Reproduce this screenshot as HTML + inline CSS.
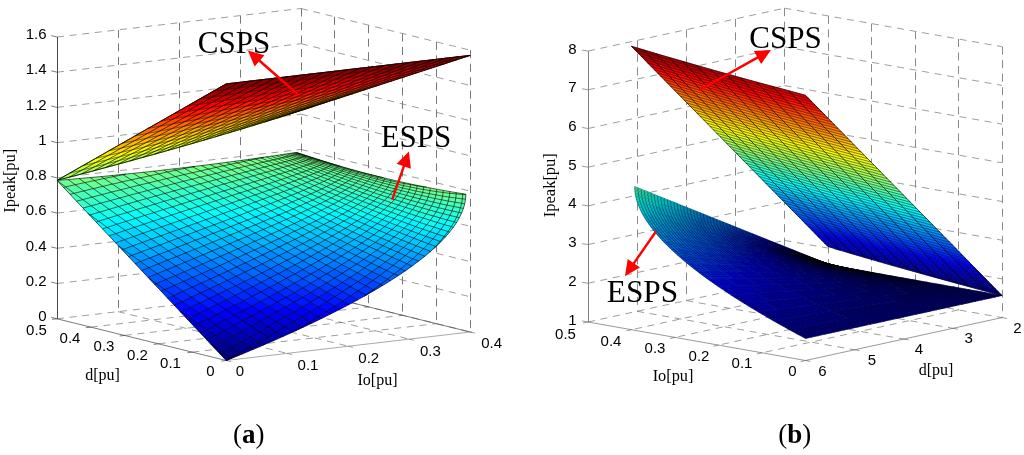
<!DOCTYPE html>
<html><head><meta charset="utf-8"><title>Ipeak surfaces</title>
<style>
html,body{margin:0;padding:0;background:#fff}
svg{display:block}
text{text-anchor:middle;fill:#000}
.a{font-family:"Liberation Sans",Arial,sans-serif}
.s{font-family:"Liberation Serif","Times New Roman",serif}
</style></head><body>

<svg width="1024" height="455" viewBox="0 0 1024 455">
<rect width="1024" height="455" fill="#fff"/>
<!-- plot a -->
<path fill="none" stroke="#3c3c3c" stroke-width=".5" stroke-dasharray="7 5.7" d="M57 318.8L301 290.2M301 290.2L470.2 332M57 283.5L301 255M301 255L470.2 296.8M57 248.3L301 219.8M301 219.8L470.2 261.6M57 213.1L301 184.6M301 184.6L470.2 226.3M57 177.9L301 149.4M301 149.4L470.2 191.1M57 142.7L301 114.2M301 114.2L470.2 155.9M57 107.4L301 78.9M301 78.9L470.2 120.7M57 72.2L301 43.7M301 43.7L470.2 85.5M57 37L301 8.5M301 8.5L470.2 50.2M118 311.6L287.2 353.4M179 304.5L348.2 346.2M240 297.4L409.2 339.1M192.4 352.1L436.4 323.6M158.6 343.8L402.6 315.3M124.7 335.4L368.7 306.9M90.8 327.1L334.9 298.6"/>
<path fill="none" stroke="#787878" stroke-width="1" stroke-dasharray="8 5.5" d="M118.5 29.9V311.6M179.5 22.7V304.5M240.5 15.6V297.4M301.5 8.5V290.2M470.5 50.2V332M436.5 41.9V323.6M402.5 33.5V315.3M368.5 25.2V306.9M334.5 16.8V298.6"/>
<path fill="none" stroke="#484848" stroke-width="1" d="M57.5 318.8V37"/>
<path fill="none" stroke="#444" stroke-width=".7" d="M57 318.8L226.2 360.5M301 290.2L472.2 332.5M57 318.8L51.2 317.3M57 283.5L51.2 282.1M57 248.3L51.2 246.9M57 213.1L51.2 211.7M57 177.9L51.2 176.4M57 142.7L51.2 141.2M57 107.4L51.2 106M57 72.2L51.2 70.8M57 37L51.2 35.6M221.3 361.1L226.2 360.5M187.4 352.7L192.4 352.1M153.6 344.4L158.6 343.8M119.7 336L124.7 335.4M85.9 327.7L90.8 327.1M52 319.3L57 318.8"/>
<path fill="none" stroke="#555" stroke-width=".5" d="M226.2 360.5L470.2 332M231.1 361.7L226.2 360.5M292.1 354.6L287.2 353.4M353.1 347.4L348.2 346.2M414.1 340.3L409.2 339.1M475.1 333.2L470.2 332"/>
<g fill="currentColor" stroke="currentColor" stroke-width=".5" stroke-linejoin="round">
<path color="#000087" d="M231.9 358.2l-.7-.5-4.9 2.8zm-5.6 2.3l4.9-2.8-8.6-5.7-2.9 1.6 6.5 6.9zm16.4-6.8l-2-1.3-9.5 5.3 .7 .5zm-11.5 4l9.5-5.3-8.5-5.6-9.6 5.2z"/>
<path color="#000097" d="M219.7 353.6l2.9-1.6-8.5-5.8-.9 .5zm2.9-1.6l9.6-5.2-8.5-5.7-9.6 5.1zm30.6-2.7l-3.3-2.1-9.2 5.2 2 1.3zm-12.5 3.1l9.2-5.2-8.4-5.6-9.3 5.2zm22.8-7.5l-4.5-2.9-9.1 5.2 3.3 2.1z"/>
<path color="#0000a7" d="M213.2 346.7l.9-.5-3.6-2.4zm.9-.5l9.6-5.1-8.6-5.8-8.4 4.4 3.8 4.1zm18.1 .6l9.3-5.2-8.5-5.6-9.3 5.1zm17.7 .4l9.1-5.2-8.4-5.4-9.1 5zm23.7-6.6l-5.8-3.7-8.8 5.1 4.5 2.9z"/>
<path color="#0000b7" d="M206.7 339.7l8.4-4.4-8.5-5.8-6.4 3.3zm17 1.4l9.3-5.1-8.5-5.6-9.4 4.9zm17.8 .5l9.1-5-8.4-5.5-9.2 4.9zm17.5 .4l8.8-5.1-8.3-5.3-8.9 5zm24.4-5.8l-6.9-4.3-8.7 5 5.8 3.7zm-15.6 .7l8.7-5-8.3-5.2-8.7 4.9z"/>
<path color="#0000c7" d="M200.2 332.8l6.4-3.3-8.5-5.8-4.4 2.2zm14.9 2.5l9.4-4.9-8.4-5.7-9.5 4.8zm17.9 .7l9.2-4.9-8.5-5.6-9.2 4.9zm17.6 .6l8.9-5-8.4-5.4-8.9 4.9zm8.9-5l8.7-4.9-8.4-5.3-8.7 4.8zm33.5 .3l-8-5-8.5 5 6.9 4.3zm-16.5 0l8.5-5-8.3-5.1-8.5 4.9zm18.8-1.1l6.4-3.9-8.2-5-8.5 5 8 5z"/>
<path color="#0000e7" d="M193.7 325.9l4.4-2.2-8.6-5.9-2.3 1.2zm4.4-2.2l9.5-4.7-8.5-5.8-9.6 4.6zm18 1l9.2-4.8-8.5-5.6-9.2 4.7zm17.6 .8l9-4.7-8.4-5.5-9 4.6zm9-4.7l8.8-4.7-8.4-5.4-8.8 4.6zm17.1 .6l8.6-4.8-8.3-5.2-8.6 4.7zm16.9 .4l8.6-4.9-8.3-5.1-8.6 4.8zm16.8 .1l8.4-5-8.2-4.9-8.4 4.9zm28-3.5l-3.1-1.8-8.3 5.2 2 1.2zm-11.4 3.4l8.3-5.2-8.1-4.7-8.4 5z"/>
<path color="#0000f7" d="M187.2 319l2.3-1.2-8.5-5.9-.3 .1zm2.3-1.2l9.6-4.6-8.6-5.8-9.5 4.5zm18.1 1.2l9.2-4.7-8.4-5.7-9.3 4.6zm17.7 .9l9-4.6-8.4-5.6-9.1 4.6zm9-4.6l8.8-4.6-8.3-5.5-8.9 4.5zm17.2 .8l8.6-4.7-8.3-5.3-8.7 4.6zm16.9 .5l8.6-4.8-8.2-5.1-8.7 4.7zm16.9 .3l8.4-4.9-8.2-5-8.5 4.8zm16.6 0l8.4-5-8.2-4.9-8.4 5zm28.9-3.1l-4.2-2.4-8.2 5.2 3.1 1.8zm-12.4 2.8l8.2-5.2-8.1-4.6-8.2 5.1zm21.5-7.4l-5.2-2.9-8.1 5.1 4.2 2.4z"/>
<path color="#0008ff" d="M180.7 312l.3-.1-1.2-.8zm.3-.1l9.5-4.5-8.5-5.9-7.8 3.6 5.6 6zm18.1 1.3l9.3-4.6-8.5-5.7-9.4 4.5zm17.7 1.1l9.1-4.6-8.4-5.5-9.1 4.4zm9.1-4.6l8.9-4.5-8.4-5.4-8.9 4.4zm17.2 1l8.7-4.6-8.3-5.3-8.7 4.4zm17 .7l8.7-4.7-8.3-5.2-8.7 4.6zm16.9 .4l8.5-4.8-8.2-5-8.5 4.7zm16.7 .2l8.4-5-8.1-4.8-8.5 4.8zm16.6-.1l8.2-5.1-8-4.7-8.4 4.9zm16.3-.5l8.1-5.1-8-4.6-8.2 5.1zm22.3-6.9l-6.2-3.4-8 5.2 5.2 2.9z"/>
<path color="#0000d7" d="M206.6 329.5l9.5-4.8-8.5-5.7-9.5 4.7zm17.9 .9l9.2-4.9-8.4-5.6-9.2 4.8zm17.7 .7l8.9-4.9-8.4-5.4-9 4.7zm8.9-4.9l8.7-4.8-8.3-5.3-8.8 4.7zm17.1 .5l8.5-4.9-8.3-5.2-8.6 4.8zm34.4 .7l-.9-.5-6.4 3.9zm-17.6-.5l8.5-5-8.2-5-8.6 4.9zm27.1-3.9l-2-1.2-8.4 5.1 .9 .5zm-10.4 3.9l8.4-5.1-8.2-4.9-8.4 5z"/>
<path color="#0018ff" d="M174.2 305.1l7.8-3.6-8.5-5.9-5.8 2.6zm16.3 2.3l9.4-4.5-8.5-5.8-9.4 4.4zm17.9 1.2l9.1-4.4-8.4-5.7-9.2 4.4zm9.1-4.4l8.9-4.4-8.4-5.6-8.9 4.3zm17.3 1l8.7-4.4-8.3-5.4-8.8 4.4zm17 .9l8.7-4.6-8.3-5.2-8.7 4.5zm17 .6l8.5-4.7-8.2-5.1-8.6 4.6zm16.7 .3l8.5-4.8-8.1-4.9-8.6 4.7zm-8.2-5l8.6-4.7-8.2-5-8.6 4.6zm24.8 5l8.4-4.9-8.1-4.7-8.4 4.8zm-8.1-4.8l8.4-4.8-8.1-4.8-8.4 4.7zm24.5 4.6l8.2-5.1-8-4.5-8.2 4.9zm-8-4.7l8.2-4.9-8.1-4.7-8.2 4.9zm24.2 4.2l8-5.2-8-4.4-8 5zm-8-4.6l8-5-8-4.5-8 5zm31-1.9l-7.2-3.9-7.8 5.2 6.2 3.4z"/>
<path color="#0038ff" d="M167.7 298.2l5.8-2.6-8.6-6-3.7 1.6zm5.8-2.6l9.4-4.3-8.5-5.9-9.5 4.2zm17.9 1.5l9.2-4.2-8.4-5.8-9.3 4.2zm9.2-4.2l9-4.2-8.4-5.6-9 4zm17.4 1.3l8.9-4.2-8.4-5.5-8.9 4.2zm17.2 1.2l8.8-4.4-8.3-5.3-8.8 4.3zm8.8-4.4l8.7-4.3-8.3-5.2-8.7 4.2zm16.9 .8l8.6-4.5-8.2-5-8.6 4.4zm16.8 .5l8.5-4.6-8.2-4.8-8.5 4.4zm16.6 .3l8.3-4.7-8.1-4.8-8.3 4.6zm16.3-.1l8.1-4.8-8-4.5-8.1 4.7zm16.1-.3l8-4.9-8-4.4-8 4.8zm39.5 2.8l-.2-.1-1.7 1.2zm-15.7 .9l7.6-5.1-7.8-4.2-7.7 5zm-7.9-4.3l7.7-5-7.9-4.2-7.7 4.9zm32-1.4l-1.2-.6-7.4 5.3 .2 .1zm-8.6 4.7l7.4-5.3-7.8-4-7.5 5.2z"/>
<path color="#0048ff" d="M161.2 291.2l3.7-1.6-8.5-6-1.8 .7zm3.7-1.6l9.5-4.2-8.5-5.9-9.5 4.1zm18 1.7l9.3-4.2-8.5-5.7-9.3 4zm9.3-4.2l9-4-8.4-5.7-9.1 4zm17.4 1.6l8.9-4.2-8.3-5.5-9 4.1zm17.3 1.3l8.8-4.3-8.3-5.3-8.9 4.1zm8.8-4.3l8.7-4.2-8.2-5.3-8.8 4.2zm17 1l8.6-4.4-8.2-5.1-8.7 4.3zm16.8 .6l8.5-4.4-8.1-5-8.6 4.4zm16.7 .4l8.3-4.6-8.1-4.7-8.4 4.5zm16.4 .2l8.1-4.7-8-4.6-8.2 4.5zm16.1-.2l8-4.8-7.9-4.4-8.1 4.7zm16-.4l7.7-4.9-7.9-4.3-7.8 4.8zm23.4 3.5l7.5-5.2-7.8-4-7.5 5zm-7.8-4.2l7.5-5-7.8-4.1-7.6 4.9zm32.3-1.2l-2-1-7.2 5.2 1.2 .6zm-9.2 4.2l7.2-5.2-7.8-3.9-7.2 5.1zm-7.8-4l7.2-5.1-7.7-3.9-7.3 5z"/>
<path color="#0058ff" d="M154.6 284.3l1.8-.7-7.3-5.2zm1.8-.7l9.5-4.1-8.5-5.9-9.3 3.8 1 1zm18 1.8l9.3-4-8.4-5.8-9.4 3.9zm9.3-4l9.1-4-8.4-5.7-9.1 3.9zm17.5 1.7l9-4.1-8.4-5.5-9 3.9zm17.3 1.4l8.9-4.1-8.3-5.4-8.9 4zm-8.3-5.5l8.9-4-8.3-5.5-9 4zm17.2 1.4l8.8-4.2-8.3-5.3-8.8 4.1zm17 1.1l8.7-4.3-8.2-5.1-8.7 4.1zm16.9 .8l8.6-4.4-8.1-5-8.7 4.3zm16.7 .6l8.4-4.5-8-4.8-8.5 4.3zm-8.1-5l8.5-4.3-8.1-4.9-8.5 4.2zm24.6 5.2l8.2-4.5-8-4.7-8.3 4.5zm-8.1-4.7l8.3-4.5-8-4.7-8.3 4.4zm24.3 4.8l8.1-4.7-8-4.5-8.1 4.6zm-8-4.6l8.1-4.6-8-4.5-8.1 4.4zm24 4.3l7.8-4.8-7.9-4.3-7.8 4.7zm-7.9-4.4l7.8-4.7-7.9-4.3-7.9 4.5zm23.6 3.9l7.6-4.9-7.9-4.1-7.6 4.7zm-7.9-4.3l7.6-4.7-7.8-4.2-7.7 4.6zm23.3 3.5l7.3-5-7.8-3.9-7.3 4.8zm32.6-1l-2.9-1.4-6.9 5.2 2 1zm-9.8 3.8l6.9-5.2-7.7-3.8-7 5.1zm-7.8-3.9l7-5.1-7.7-3.7-7 4.9z"/>
<path color="#0028ff" d="M182 301.5l9.4-4.4-8.5-5.8-9.4 4.3zm17.9 1.4l9.2-4.4-8.5-5.6-9.2 4.2zm9.2-4.4l8.9-4.3-8.4-5.5-9 4.2zm17.3 1.3l8.8-4.4-8.3-5.4-8.9 4.2zm17.1 1l8.7-4.5-8.2-5.3-8.8 4.4zm17 .7l8.6-4.6-8.2-5.1-8.7 4.5zm-8.3-5.2l8.7-4.5-8.2-5.1-8.7 4.3zm16.9 .6l8.6-4.6-8.2-5-8.6 4.5zm16.8 .4l8.4-4.7-8.1-4.9-8.5 4.6zm16.5 .1l8.2-4.9-8-4.6-8.3 4.7zm16.3-.2l8-5-8-4.5-8.1 4.8zm24 3.9l7.8-5.2-7.9-4.3-7.9 5.1zm-8-4.4l7.9-5.1-7.9-4.3-8 4.9zm29.6-.6l1.7-1.2-7.9-4.1-7.6 5.1 7.2 3.9z"/>
<path color="#0068ff" d="M148.1 277.4l9.3-3.8-8.5-6-7.3 2.9zm17.8 2.1l9.4-3.9-8.5-5.9-9.4 3.9zm9.4-3.9l9.1-3.9-8.4-5.8-9.2 3.8zm17.5 1.8l9-3.9-8.4-5.7-9 3.9zm9-3.9l9-4-8.4-5.5-9 3.8zm17.3 1.5l8.8-4.1-8.2-5.3-8.9 3.9zm17.1 1.2l8.7-4.1-8.2-5.2-8.8 4zm16.9 1l8.7-4.3-8.2-5-8.7 4.2zm-8.2-5.1l8.7-4.2-8.2-5.1-8.7 4.1zm16.9 .8l8.5-4.2-8.1-4.9-8.6 4.1zm16.6 .7l8.3-4.4-8.1-4.7-8.3 4.2zm16.3 .3l8.1-4.4-7.9-4.6-8.2 4.3zm16.1 .1l7.9-4.5-7.9-4.4-8 4.4zm15.8-.2l7.7-4.6-7.9-4.2-7.7 4.5zm23.4 3.7l7.3-4.8-7.8-4-7.4 4.7zm-7.9-4.1l7.4-4.7-7.7-4.1-7.5 4.6zm23 3.2l7-4.9-7.7-3.9-7.1 4.9zm32.9-.9l-3.8-1.7-6.7 5.2 2.9 1.4zm-10.5 3.5l6.7-5.2-7.6-3.6-6.8 5zm-7.7-3.8l6.8-5-7.6-3.6-6.9 4.9zm25.4-4.5l-4.5-2.1-6.5 5.2 3.8 1.7z"/>
<path color="#0078ff" d="M141.6 270.5l7.3-2.9-8.5-6.1-5.3 2zm15.8 3.1l9.4-3.9-8.5-5.9-9.4 3.8zm9.4-3.9l9.2-3.8-8.5-5.8-9.2 3.7zm17.6 2l9-3.9-8.4-5.6-9 3.7zm9-3.9l9-3.8-8.3-5.5-9.1 3.7zm17.4 1.7l8.9-3.9-8.3-5.4-9 3.8zm17.1 1.4l8.8-4-8.2-5.3-8.8 4zm8.8-4l8.7-4.1-8.1-5.1-8.8 3.9zm16.9 1l8.6-4.1-8.2-5-8.6 4zm16.7 .8l8.3-4.2-8-4.8-8.4 4.1zm16.4 .5l8.2-4.3-8-4.6-8.3 4.2zm16.1 .3l8-4.4-7.9-4.5-8 4.3zm15.9 0l7.7-4.5-7.8-4.3-7.8 4.4zm15.6-.3l7.5-4.6-7.8-4.1-7.6 4.5zm23 3.5l7.1-4.9-7.7-3.8-7.2 4.7zm-7.8-4l7.2-4.7-7.7-4-7.2 4.6zm22.6 3l6.9-4.9-7.7-3.7-6.9 4.7zm-7.7-3.9l6.9-4.7-7.6-3.8-7 4.7zm29.8 6.2l6.5-5.2-7.6-3.4-6.5 5zm-7.6-3.6l6.5-5-7.6-3.5-6.5 4.9zm25.5-4.4l-5.2-2.3-6.2 5.1 4.5 2.1z"/>
<path color="#0097ff" d="M135.1 263.5l5.3-2-8.6-6.1-3.2 1.2zm5.3-2l9.4-3.6-8.5-6-9.5 3.5zm27.1-1.4l9.2-3.6-8.4-5.7-9.2 3.5zm9.2-3.6l9-3.6-8.3-5.7-9.1 3.6zm17.4 2l9-3.8-8.3-5.4-9.1 3.6zm17.3 1.7l8.9-3.8-8.3-5.4-8.9 3.7zm8.9-3.8l8.8-3.8-8.2-5.3-8.9 3.7zm17 1.3l8.6-3.9-8.1-5-8.7 3.8zm16.7 1.1l8.5-4-8-4.8-8.6 3.8zm-8.1-5l8.6-3.8-8.1-5-8.6 3.8zm16.6 1l8.4-3.9-8-4.8-8.4 3.9zm16.4 .8l8.1-4-7.9-4.6-8.2 3.9zm16 .5l7.9-4.1-7.9-4.4-7.9 4zm15.8 .3l7.6-4.2-7.8-4.3-7.7 4.1zm15.5 0l7.3-4.3-7.7-4.1-7.5 4.2zm22.8 3.6l7-4.5-7.7-3.8-7 4.4zm-7.7-3.9l7-4.4-7.7-3.9-7.1 4.3zm22.4 3.2l6.6-4.6-7.6-3.6-6.7 4.4zm-7.7-3.8l6.7-4.4-7.6-3.7-6.8 4.3zm29.5 6.4l6.3-4.9-7.5-3.4-6.4 4.7zm-7.6-3.6l6.4-4.7-7.5-3.5-6.5 4.6zm29 5.4l5.8-5-7.4-3.2-6 4.9zm-7.6-3.3l6-4.9-7.5-3.3-6 4.8zm25.5-4.2l-6.5-2.6-5.6 5.1 5.9 2.4z"/>
<path color="#00a7ff" d="M128.6 256.6l3.2-1.2-8.5-6.1-1.2 .4zm3.2-1.2l9.5-3.5-8.5-6.1-9.5 3.5zm18 2.5l9.3-3.6-8.5-5.9-9.3 3.5zm9.3-3.6l9.2-3.5-8.5-5.8-9.2 3.4zm26.6-1.4l9.1-3.6-8.3-5.6-9.1 3.5zm17.4 1.8l8.9-3.7-8.2-5.3-9 3.6zm8.9-3.7l8.9-3.7-8.2-5.2-8.9 3.6zm17.1 1.6l8.7-3.8-8.1-5.1-8.8 3.6zm8.7-3.8l8.6-3.8-8.1-5-8.6 3.7zm16.7 1.2l8.4-3.9-8.1-4.8-8.4 3.7zm16.4 .9l8.2-3.9-8-4.7-8.2 3.8zm16.1 .7l7.9-4-7.8-4.5-8 3.9zm-7.9-4.6l8-3.9-8-4.5-8 3.7zm23.7 5l7.7-4.1-7.8-4.3-7.8 4zm-7.9-4.4l7.8-4-7.8-4.3-7.8 3.8zm23.4 4.6l7.5-4.2-7.8-4.1-7.5 4zm-7.8-4.3l7.5-4-7.8-4.2-7.5 3.9zm23 4.2l7.1-4.3-7.7-3.9-7.1 4.1zm-7.7-4.1l7.1-4.1-7.7-4-7.2 4zm22.5 3.7l6.8-4.3-7.6-3.8-6.9 4.2zm-7.7-3.9l6.9-4.2-7.7-3.8-6.9 4.1zm29.7 6.9l6.5-4.6-7.6-3.5-6.5 4.5zm-7.6-3.6l6.5-4.5-7.6-3.5-6.5 4.3zm29.1 5.9l6-4.8-7.5-3.2-6 4.6zm-7.5-3.4l6-4.6-7.4-3.4-6.1 4.5zm-7.5-3.5l6.1-4.5-7.5-3.3-6.2 4.3zm35.9 8.6l5.6-5.1-7.4-3-5.6 4.9zm-7.4-3.2l5.6-4.9-7.4-3.1-5.7 4.7zm-7.5-3.3l5.7-4.7-7.4-3.1-5.8 4.6zm32.8-.8l-7.1-2.8-5.2 5 6.5 2.6z"/>
<path color="#00b7ff" d="M122.1 249.7l1.2-.4-4.9-3.5zm1.2-.4l9.5-3.5-8.5-6.1-8.7 3.1 2.8 3zm18 2.6l9.3-3.5-8.4-6-9.4 3.4zm9.3-3.5l9.2-3.4-8.4-5.9-9.2 3.3zm17.7 2.4l9.1-3.6-8.4-5.7-9.2 3.5zm9.1-3.6l9.1-3.5-8.3-5.6-9.2 3.4zm17.4 2.1l9-3.6-8.3-5.5-9 3.5zm-8.3-5.6l9-3.5-8.2-5.4-9.1 3.3zm17.3 2l8.9-3.6-8.2-5.3-9 3.4zm17.1 1.6l8.8-3.6-8.2-5.2-8.8 3.6zm8.8-3.6l8.6-3.7-8.1-5-8.7 3.5zm16.7 1.3l8.4-3.7-8-4.8-8.5 3.5zm16.5 1.1l8.2-3.8-8-4.6-8.3 3.6zm-8.1-4.8l8.3-3.6-8-4.8-8.3 3.6zm16.3 1l8-3.7-7.9-4.6-8.1 3.7zm16 .8l7.8-3.8-7.9-4.4-7.9 3.7zm15.6 .5l7.5-3.9-7.8-4.2-7.5 3.8zm15.3 .3l7.2-4-7.7-4-7.3 3.8zm14.9 0l6.9-4.1-7.6-3.8-7 3.9zm22.2 3.5l6.5-4.3-7.5-3.6-6.6 4.1zm-7.6-3.8l6.6-4.1-7.6-3.7-6.7 4zm21.7 3l6.2-4.3-7.5-3.5-6.3 4.3zm-7.6-3.5l6.3-4.3-7.5-3.4-6.3 4.1zm28.7 5.9l5.8-4.6-7.4-3.2-5.8 4.4zm-7.4-3.4l5.8-4.4-7.5-3.3-5.8 4.4zm35.4 8l5.2-5-7.3-2.8-5.3 4.8zm-7.4-3l5.3-4.8-7.3-3-5.4 4.7zm-7.4-3.1l5.4-4.7-7.4-3-5.4 4.6zm29.8 1.4l2.4-2.5-7.3-2.7-4.9 4.9 7.1 2.8z"/>
<path color="#0087ff" d="M148.9 267.6l9.4-3.8-8.5-5.9-9.4 3.6zm9.4-3.8l9.2-3.7-8.4-5.8-9.3 3.6zm17.7 2.1l9-3.7-8.3-5.7-9.2 3.6zm9-3.7l9.1-3.7-8.4-5.6-9 3.6zm17.4 1.8l9-3.8-8.3-5.5-9 3.8zm17.3 1.6l8.8-4-8.2-5.2-8.9 3.8zm8.8-4l8.8-3.9-8.2-5.1-8.8 3.8zm16.9 1.2l8.6-4-8.1-5-8.6 3.9zm16.8 1l8.4-4.1-8.1-4.9-8.5 4zm16.4 .7l8.3-4.2-8-4.7-8.3 4.1zm-8-4.8l8.3-4.1-8-4.7-8.4 3.9zm24.3 5.2l8-4.3-8-4.5-8 4.2zm-8-4.6l8-4.2-7.9-4.5-8.1 4zm23.9 4.8l7.8-4.4-7.9-4.3-7.8 4.2zm-7.9-4.5l7.8-4.2-7.9-4.4-7.9 4.1zm23.5 4.4l7.6-4.5-7.8-4.1-7.6 4.3zm-7.8-4.3l7.6-4.3-7.9-4.2-7.6 4.2zm23.2 3.9l7.2-4.6-7.7-3.9-7.3 4.4zm-7.8-4.1l7.3-4.4-7.8-4-7.3 4.3zm22.7 3.5l7-4.7-7.7-3.8-7 4.5zm22.3 2.8l6.5-4.9-7.6-3.6-6.6 4.8zm-7.7-3.7l6.6-4.8-7.6-3.6-6.6 4.6zm29.4 5.7l6.2-5.1-7.6-3.3-6.2 5zm-7.6-3.4l6.2-5-7.5-3.4-6.3 4.9zm25.5-4.3l-5.9-2.4-5.8 5 5.2 2.3z"/>
<path color="#00c7ff" d="M115.6 242.8l8.7-3.1-8.5-6.1-6.7 2.2zm17.2 3l9.4-3.4-8.5-5.9-9.4 3.2zm9.4-3.4l9.2-3.3-8.4-5.9-9.3 3.3zm17.6 2.6l9.2-3.5-8.3-5.7-9.3 3.3zm9.2-3.5l9.2-3.4-8.4-5.6-9.1 3.3zm9.2-3.4l9.1-3.3-8.3-5.5-9.2 3.2zm17.3 2.1l9-3.4-8.2-5.4-9 3.4zm17.2 1.9l8.8-3.6-8.2-5.2-8.8 3.5zm-8.2-5.3l8.8-3.5-8.1-5.2-8.9 3.3zm17 1.7l8.7-3.5-8.1-5-8.8 3.3zm16.8 1.5l8.5-3.5-8-4.9-8.6 3.4zm8.5-3.5l8.3-3.6-8-4.8-8.3 3.5zm16.3 1.2l8.1-3.7-7.9-4.6-8.2 3.5zm16 .9l7.9-3.7-7.9-4.4-7.9 3.5zm15.8 .7l7.5-3.8-7.8-4.3-7.6 3.7zm-7.9-4.4l7.6-3.7-7.8-4.3-7.7 3.6zm23.2 4.8l7.3-3.8-7.7-4.1-7.4 3.7zm-7.8-4.2l7.4-3.7-7.8-4.1-7.4 3.5zm22.8 4.4l7-3.9-7.7-3.9-7 3.8zm-7.7-4l7-3.8-7.6-4-7.1 3.7zm22.3 3.9l6.7-4-7.6-3.7-6.7 3.9zm-7.6-3.8l6.7-3.9-7.6-3.8-6.8 3.8zm21.9 3.5l6.3-4.1-7.6-3.6-6.3 4zm-7.6-3.7l6.3-4-7.5-3.5-6.4 3.8zm28.9 6.5l5.8-4.4-7.4-3.2-5.9 4.1zm-7.5-3.5l5.9-4.1-7.5-3.4-5.9 4.1zm28.2 5.6l5.4-4.6-7.3-3-5.5 4.4zm-7.4-3.2l5.5-4.4-7.4-3.1-5.6 4.2zm47.3 5.3l-.3-.1-2.4 2.5zm-12.5 2.1l4.9-4.9-7.3-2.7-4.9 4.8zm-7.3-2.8l4.9-4.8-7.2-2.8-5 4.6zm-7.3-3l5-4.6-7.3-2.9-5.1 4.5zm32-1.1l-.8-.3-4.4 5 .3 .1zm-5.2 4.7l4.4-5-7.1-2.6-4.6 4.9zm-7.3-2.7l4.6-4.9-7.3-2.5-4.6 4.7z"/>
<path color="#00e7ff" d="M109.1 235.8l6.7-2.2-8.6-6.2-4.6 1.5zm6.7-2.2l9.4-3.2-8.5-6.1-9.5 3.1zm9.4-3.2l9.4-3.1-8.5-6-9.4 3zm17.8 2.8l9.3-3.2-8.4-5.8-9.3 3.1zm9.3-3.2l9.2-3.1-8.3-5.8-9.3 3.1zm9.2-3.1l9.2-3.2-8.3-5.6-9.2 3zm17.5 2.4l9-3.3-8.2-5.4-9.1 3.1zm9-3.3l9-3.2-8.2-5.3-9 3.1zm17.2 2.1l8.8-3.3-8.2-5.1-8.8 3.1zm8.8-3.3l8.6-3.2-8-5-8.8 3.1zm16.7 1.8l8.4-3.3-8-4.9-8.5 3.2zm16.4 1.5l8.3-3.3-8-4.7-8.3 3.2zm-8-4.8l8.3-3.2-7.9-4.8-8.4 3.1zm16.3 1.5l8-3.4-7.9-4.5-8.1 3.2zm15.9 1.2l7.7-3.4-7.8-4.4-7.8 3.2zm-7.9-4.6l7.8-3.2-7.8-4.5-7.9 3.2zm23.4 5.5l7.5-3.4-7.8-4.2-7.5 3.3zm-7.8-4.3l7.5-3.3-7.7-4.3-7.6 3.2zm15.3 .9l7.2-3.4-7.7-4.1-7.3 3.3zm14.9 .6l6.9-3.4-7.7-4-6.9 3.4zm14.5 .4l6.5-3.5-7.5-3.7-6.6 3.4zm21.6 3.8l6.1-3.8-7.5-3.5-6.1 3.6zm-7.5-3.7l6.1-3.6-7.5-3.5-6.2 3.5zm21.1 3.3l5.7-3.8-7.4-3.3-5.8 3.7zm-7.5-3.4l5.8-3.7-7.4-3.3-5.9 3.5zm28 6.1l5.3-4.1-7.4-3-5.3 3.9zm-7.4-3.2l5.3-3.9-7.3-3.1-5.4 3.7zm-7.4-3.3l5.4-3.7-7.3-3.2-5.5 3.6zm34.7 8.3l4.8-4.2-7.3-2.8-4.8 4.1zm-7.3-2.9l4.8-4.1-7.2-2.9-4.9 4zm-7.3-3l4.9-4-7.3-2.9-5 3.9zm41 9.8l4.3-4.7-7.2-2.5-4.3 4.5zm-7.2-2.7l4.3-4.5-7.1-2.5-4.4 4.3zm-7.2-2.7l4.4-4.3-7.2-2.6-4.4 4.2zm38.3 1.1l-1.6-.5-3.8 4.9 1.3 .4zm-5.4 4.4l3.8-4.9-7.1-2.2-3.8 4.7zm-7.1-2.4l3.8-4.7-7.1-2.3-3.8 4.6z"/>
<path color="#00f7ff" d="M102.6 228.9l4.6-1.5-8.5-6.2-2.6 .8zm4.6-1.5l9.5-3.1-8.5-6.1-9.5 3zm9.5-3.1l9.4-3-8.5-6-9.4 2.9zm17.9 3l9.3-3.1-8.4-5.8-9.4 2.9zm9.3-3.1l9.3-3.1-8.4-5.7-9.3 3zm9.3-3.1l9.2-3-8.3-5.6-9.3 2.9zm17.5 2.6l9.1-3.1-8.2-5.5-9.2 3zm9.1-3.1l9-3.1-8.2-5.4-9 3zm17.2 2.2l8.8-3.1-8.1-5.2-8.9 3zm8.8-3.1l8.8-3.1-8.1-5.1-8.8 3zm16.8 1.9l8.5-3.2-8-4.9-8.5 3.1zm8.5-3.2l8.4-3.1-8-4.8-8.4 3zm16.3 1.7l8.1-3.2-7.9-4.7-8.1 3.1zm8.1-3.2l7.9-3.2-7.9-4.5-7.9 3zm15.7 1.3l7.6-3.2-7.8-4.3-7.6 3zm15.3 1.1l7.3-3.3-7.7-4.1-7.3 3.1zm-7.7-4.3l7.3-3.1-7.7-4.2-7.4 3zm22.7 5.1l6.9-3.4-7.6-3.9-7 3.2zm-7.7-4.1l7-3.2-7.7-4-7 3.1zm22.3 4.7l6.6-3.4-7.6-3.8-6.7 3.2zm-7.7-4l6.7-3.2-7.6-3.8-6.7 3.1zm21.8 4.3l6.2-3.5-7.5-3.6-6.2 3.4zm-7.5-3.7l6.2-3.4-7.5-3.6-6.3 3.2zm21.2 3.7l5.9-3.5-7.4-3.4-6 3.4zm-7.5-3.5l6-3.4-7.5-3.4-6 3.2zm20.8 3.3l5.5-3.6-7.4-3.2-5.5 3.5zm-7.4-3.3l5.5-3.5-7.4-3.2-5.5 3.3zm27.5 6l5-3.9-7.3-2.9-5 3.7zm-7.3-3.1l5-3.7-7.2-3-5.1 3.5zm34.1 7.8l4.4-4.2-7.2-2.7-4.5 4.1zm-7.3-2.8l4.5-4.1-7.2-2.7-4.5 3.9zm-7.2-2.9l4.5-3.9-7.2-2.7-4.6 3.7zm40.4 9.1l3.8-4.6-7.1-2.3-3.9 4.4zm-7.2-2.5l3.9-4.4-7.1-2.4-3.9 4.3zm-7.1-2.5l3.9-4.3-7.1-2.5-4 4.2zm-7.2-2.6l4-4.2-7.1-2.5-4.1 4zm44.8 3.2l-2-.6-3.3 4.9 1.6 .5zm-5.3 4.3l3.3-4.9-7-2-3.4 4.7zm-7.1-2.2l3.4-4.7-7-2.1-3.5 4.5z"/>
<path color="#08fff7" d="M96.1 222l2.6-.8-8.6-6.3-.6 .2zm2.6-.8l9.5-3-8.5-6.1-9.6 2.8zm27.4 .1l9.4-2.9-8.4-5.9-9.5 2.8zm9.4-2.9l9.3-3-8.4-5.8-9.3 2.9zm26.9-.3l9.2-3-8.3-5.5-9.2 2.9zm9.2-3l9-3-8.2-5.3-9.1 2.8zm17.2 2.4l8.9-3-8.1-5.3-9 2.9zm8.9-3l8.8-3-8.1-5.1-8.8 2.8zm16.9 2.1l8.5-3.1-8-4.9-8.6 2.9zm-8.1-5.1l8.6-2.9-8.1-5-8.6 2.8zm16.6 2l8.4-3-8-4.8-8.4 2.9zm16.4 1.8l8.1-3.1-7.9-4.6-8.2 2.9zm-8-4.8l8.2-2.9-7.9-4.7-8.3 2.8zm16.1 1.7l7.9-3-7.8-4.5-8 2.9zm15.8 1.5l7.6-3-7.8-4.4-7.7 2.9zm-7.9-4.5l7.7-2.9-7.8-4.4-7.7 2.8zm15.5 1.5l7.4-3-7.8-4.2-7.4 2.8zm15.1 1.2l7-3.1-7.6-4-7.1 2.9zm14.7 .9l6.7-3.1-7.6-3.9-6.8 3zm-7.7-4l6.8-3-7.6-3.9-6.8 2.9zm22 4.7l6.3-3.2-7.5-3.7-6.4 3.1zm-7.6-3.8l6.4-3.1-7.5-3.7-6.5 2.9zm21.4 4.2l6-3.2-7.4-3.5-6.1 3.1zm-7.5-3.6l6.1-3.1-7.5-3.5-6.1 2.9zm21 3.8l5.5-3.3-7.3-3.3-5.7 3.2zm-7.5-3.4l5.7-3.2-7.4-3.4-5.7 3.1zm27.8 6.5l5.1-3.5-7.3-3.1-5.2 3.4zm-7.4-3.2l5.2-3.4-7.3-3.1-5.3 3.3zm-7.4-3.2l5.3-3.3-7.3-3.1-5.3 3.1zm34.4 8.8l4.6-3.7-7.2-2.8-4.7 3.6zm-7.3-2.9l4.7-3.6-7.2-2.9-4.7 3.5zm-7.2-3l4.7-3.5-7.2-2.9-4.8 3.3zm33.5 7.6l4.1-4-7.1-2.5-4.2 3.8zm-7.2-2.7l4.2-3.8-7.1-2.6-4.3 3.7zm-7.2-2.7l4.3-3.7-7.2-2.6-4.3 3.5zm46.9 11.1l3.5-4.5-7-2.2-3.6 4.4zm-7.1-2.3l3.6-4.4-7.1-2.2-3.6 4.2zm-7.1-2.4l3.6-4.2-7-2.3-3.7 4zm-7.1-2.5l3.7-4-7.1-2.3-3.7 3.8zm-7.1-2.5l3.7-3.8-7-2.4-3.8 3.7zm51.2 5.2l-2.4-.7-2.9 4.8 2 .6zm-5.3 4.1l2.9-4.8-6.9-1.8-3 4.6zm-7-2l3-4.6-7-2-3 4.5z"/>
<path color="#18ffe7" d="M89.5 215.1l.6-.2-2.4-1.8zm.6-.2l9.6-2.8-8.5-6.3-8.2 2.3 4.7 5zm18.1 3.3l9.4-2.9-8.4-6-9.5 2.8zm9.4-2.9l9.5-2.8-8.5-6-9.4 2.8zm9.5-2.8l9.3-2.9-8.3-5.8-9.5 2.7zm17.7 2.9l9.3-2.9-8.3-5.7-9.4 2.8zm9.3-2.9l9.2-2.9-8.3-5.5-9.2 2.7zm9.2-2.9l9.1-2.8-8.2-5.5-9.2 2.8zm17.3 2.5l9-2.9-8.2-5.2-9 2.8zm9-2.9l8.8-2.8-8.1-5.2-8.9 2.8zm8.8-2.8l8.6-2.8-8-5-8.7 2.6zm16.7 2.2l8.4-2.9-8-4.9-8.5 2.8zm8.4-2.9l8.3-2.8-8-4.7-8.3 2.6zm16.2 1.9l8-2.9-7.9-4.6-8 2.8zm8-2.9l7.7-2.8-7.8-4.4-7.8 2.6zm15.5 1.6l7.4-2.8-7.7-4.3-7.5 2.7zm-7.8-4.4l7.5-2.7-7.7-4.3-7.6 2.6zm23 5.8l7.1-2.9-7.7-4.1-7.2 2.8zm-7.8-4.2l7.2-2.8-7.7-4.2-7.2 2.7zm14.9 1.3l6.8-2.9-7.6-3.9-6.9 2.7zm14.4 1l6.5-2.9-7.6-3.8-6.5 2.8zm-7.6-3.9l6.5-2.8-7.5-3.8-6.6 2.7zm21.6 4.7l6.1-2.9-7.5-3.6-6.1 2.8zm-7.5-3.7l6.1-2.8-7.4-3.7-6.3 2.7zm21.1 4.3l5.7-3.1-7.4-3.3-5.8 2.9zm-7.5-3.5l5.8-2.9-7.4-3.5-5.9 2.8zm20.6 3.8l5.3-3.1-7.4-3.2-5.3 2.9zm-7.4-3.4l5.3-2.9-7.3-3.3-5.4 2.9zm27.3 6.5l4.8-3.3-7.3-2.9-4.8 3.1zm-7.3-3.1l4.8-3.1-7.2-3-4.9 3zm-7.3-3.1l4.9-3-7.3-3.1-5 2.9zm33.8 8.7l4.3-3.5-7.1-2.7-4.4 3.3zm-7.2-2.9l4.4-3.3-7.2-2.8-4.4 3.2zm-7.2-2.9l4.4-3.2-7.2-2.8-4.5 3.1zm-7.3-2.9l4.5-3.1-7.2-2.9-4.5 3zm40.3 10.4l3.8-3.7-7.1-2.5-3.8 3.6zm-7.1-2.6l3.8-3.6-7.1-2.5-3.9 3.5zm-7.2-2.6l3.9-3.5-7.1-2.5-3.9 3.3zm-7.1-2.7l3.9-3.3-7.1-2.6-4 3.1zm60.4 15.6l3-4.5-6.9-2-3.1 4.3zm-7-2.2l3.1-4.3-7-2.1-3.2 4.2zm-7.1-2.2l3.2-4.2-7-2.1-3.2 4zm-7-2.3l3.2-4-6.9-2.2-3.4 3.9zm-7.1-2.3l3.4-3.9-7-2.2-3.4 3.7zm-7-2.4l3.4-3.7-7-2.3-3.5 3.5zm57.2 6.6l-2.6-.6-2.5 4.7 2.4 .7zm-5.1 4.1l2.5-4.7-6.8-1.7-2.6 4.6zm-6.9-1.8l2.6-4.6-6.9-1.8-2.7 4.4zm-7-2l2.7-4.4-6.9-1.8-2.7 4.2z"/>
<path color="#00d7ff" d="M124.3 239.7l9.4-3.2-8.5-6.1-9.4 3.2zm9.4-3.2l9.3-3.3-8.4-5.9-9.4 3.1zm17.7 2.6l9.3-3.3-8.4-5.8-9.3 3.2zm9.3-3.3l9.1-3.3-8.3-5.6-9.2 3.1zm9.1-3.3l9.2-3.2-8.3-5.6-9.2 3.2zm17.5 2.3l9-3.4-8.3-5.4-9 3.3zm9-3.4l8.9-3.3-8.2-5.3-9 3.2zm17 1.9l8.8-3.3-8.1-5.2-8.8 3.3zm16.9 1.7l8.6-3.4-8.1-5-8.6 3.4zm-8.1-5l8.6-3.4-8.1-5-8.6 3.2zm16.7 1.6l8.3-3.5-8-4.8-8.4 3.3zm16.3 1.3l8.2-3.5-7.9-4.6-8.3 3.3zm16.1 1.1l7.9-3.5-7.8-4.5-8 3.4zm-7.9-4.6l8-3.4-7.9-4.6-8 3.4zm15.8 1.1l7.7-3.6-7.8-4.3-7.7 3.4zm15.5 .7l7.4-3.5-7.7-4.2-7.5 3.4zm15.2 .6l7.1-3.7-7.7-4-7.2 3.6zm-7.8-4.1l7.2-3.6-7.7-4-7.2 3.4zm22.5 4.4l6.8-3.8-7.6-3.8-6.8 3.6zm-7.6-4l6.8-3.6-7.6-3.8-6.9 3.4zm22 4l6.4-3.8-7.5-3.7-6.5 3.7zm-7.6-3.8l6.5-3.7-7.6-3.6-6.5 3.5zm29.1 7.1l5.9-4.1-7.4-3.4-6.1 3.9zm-7.6-3.6l6.1-3.9-7.5-3.4-6.1 3.8zm28.4 6.1l5.6-4.2-7.4-3.1-5.6 4.1zm-7.4-3.2l5.6-4.1-7.4-3.2-5.7 3.9zm-7.5-3.4l5.7-3.9-7.4-3.3-5.7 3.8zm35.2 8.5l5.1-4.5-7.3-2.9-5.1 4.4zm-7.3-3l5.1-4.4-7.3-2.9-5.2 4.2zm-7.4-3.1l5.2-4.2-7.3-3-5.3 4.1zm34.3 7.3l4.6-4.7-7.2-2.7-4.6 4.6zm-7.2-2.8l4.6-4.6-7.2-2.7-4.7 4.4zm-7.3-2.9l4.7-4.4-7.2-2.7-4.8 4.2zm38.9 1.5l-1.3-.4-4.1 5 .8 .3zm-5.4 4.6l4.1-5-7.1-2.4-4.1 4.8zm-7.1-2.6l4.1-4.8-7.1-2.4-4.3 4.7z"/>
<path color="#38ffc7" d="M83 208.1l8.2-2.3-8.5-6.2-6.2 1.6zm8.2-2.3l9.5-2.6-8.5-6.1-9.5 2.5zm9.5-2.6l9.5-2.6-8.4-6-9.6 2.5zm9.5-2.6l9.5-2.6-8.4-5.9-9.5 2.5zm17.9 3.2l9.3-2.7-8.3-5.7-9.4 2.6zm9.3-2.7l9.4-2.6-8.3-5.6-9.4 2.5zm9.4-2.6l9.2-2.6-8.3-5.4-9.2 2.4zm9.2-2.6l9.1-2.5-8.2-5.3-9.2 2.4zm17.2 2.8l9-2.6-8.2-5.2-8.9 2.5zm9-2.6l8.7-2.6-8-5-8.9 2.4zm8.7-2.6l8.6-2.5-8-4.8-8.6 2.3zm16.6 2.4l8.4-2.5-8-4.8-8.4 2.4zm8.4-2.5l8.1-2.5-7.9-4.6-8.2 2.3zm16 2.1l7.9-2.5-7.8-4.5-8 2.4zm-7.9-4.6l8-2.4-7.9-4.5-8 2.3zm15.8 2.1l7.6-2.4-7.8-4.4-7.6 2.3zm15.4 1.9l7.2-2.5-7.7-4.2-7.3 2.4zm-7.8-4.3l7.3-2.4-7.7-4.2-7.4 2.2zm15 1.8l7.1-2.5-7.7-4-7.1 2.3zm14.7 1.6l6.6-2.5-7.5-3.9-6.7 2.3zm-7.6-4.1l6.7-2.3-7.6-3.9-6.8 2.2zm14.2 1.6l6.4-2.4-7.5-3.8-6.4 2.3zm-7.5-3.9l6.4-2.3-7.5-3.8-6.5 2.2zm21.4 5.2l5.9-2.5-7.4-3.6-6 2.4zm-7.5-3.7l6-2.4-7.5-3.6-6 2.2zm20.9 4.7l5.5-2.5-7.4-3.4-5.6 2.4zm-7.5-3.5l5.6-2.4-7.3-3.4-5.7 2.2zm20.4 4.4l5.1-2.6-7.3-3.2-5.2 2.4zm-7.4-3.4l5.2-2.4-7.3-3.3-5.3 2.3zm-7.4-3.4l5.3-2.3-7.3-3.2-5.3 2.1zm27.2 7.3l4.6-2.6-7.2-3-4.7 2.5zm-7.3-3.1l4.7-2.5-7.2-3.1-4.8 2.4zm-7.3-3.2l4.8-2.4-7.2-3.1-4.9 2.2zm26.4 6.6l4.3-2.6-7.2-2.9-4.3 2.6zm-7.2-2.9l4.3-2.6-7.1-2.8-4.4 2.4zm-7.2-3l4.4-2.4-7.2-2.9-4.4 2.2zm32.9 8.7l3.7-2.9-7-2.5-3.8 2.7zm-7.1-2.7l3.8-2.7-7.1-2.6-3.8 2.6zm-7.1-2.7l3.8-2.6-7-2.7-4 2.4zm-7.2-2.9l4-2.4-7.1-2.7-4 2.3zm46.3 12.8l3.1-3.3-7-2.2-3.2 3.1zm-7.1-2.4l3.2-3.1-7-2.3-3.2 2.9zm-7-2.5l3.2-2.9-7-2.4-3.3 2.8zm-7.1-2.5l3.3-2.8-6.9-2.4-3.4 2.7zm-7-2.5l3.4-2.7-7-2.4-3.5 2.5zm65.9 17l2.3-3.9-6.8-1.8-2.4 3.7zm-6.9-2l2.4-3.7-6.8-1.9-2.5 3.6zm-6.9-2l2.5-3.6-6.9-1.9-2.6 3.5zm-7-2l2.6-3.5-6.9-2-2.6 3.3zm-6.9-2.2l2.6-3.3-6.9-2-2.6 3.1zm-6.9-2.2l2.6-3.1-6.9-2.1-2.7 3zm-7-2.2l2.7-3-6.9-2.1-2.8 2.8zm75.8 11.1l-3-.6-1.6 4.6 2.8 .6zm-4.6 4l1.6-4.6-6.7-1.3-1.7 4.4zm-6.8-1.5l1.7-4.4-6.7-1.4-1.8 4.2zm-6.8-1.6l1.8-4.2-6.8-1.4-1.8 4zm-6.8-1.6l1.8-4-6.7-1.6-2 3.9zm-6.9-1.7l2-3.9-6.8-1.6-2 3.7zm-6.8-1.8l2-3.7-6.8-1.6-2 3.4z"/>
<path color="#48ffb7" d="M76.5 201.2l6.2-1.6-8.6-6.3-4.1 1zm6.2-1.6l9.5-2.5-8.5-6.2-9.6 2.4zm9.5-2.5l9.6-2.5-8.5-6-9.6 2.3zm9.6-2.5l9.5-2.5-8.4-5.8-9.6 2.3zm17.9 3.4l9.4-2.6-8.3-5.6-9.5 2.3zm9.4-2.6l9.4-2.5-8.3-5.5-9.4 2.4zm9.4-2.5l9.2-2.4-8.2-5.4-9.3 2.3zm9.2-2.4l9.2-2.4-8.2-5.2-9.2 2.2zm17.4 2.9l8.9-2.5-8.1-5.1-9 2.3zm8.9-2.5l8.9-2.4-8.1-5-8.9 2.3zm8.9-2.4l8.6-2.3-8-4.9-8.7 2.2zm16.6 2.5l8.4-2.4-7.9-4.7-8.5 2.3zm-8-4.8l8.5-2.3-8-4.7-8.5 2.1zm16.4 2.4l8.2-2.3-7.9-4.6-8.2 2.2zm8.2-2.3l8-2.3-7.8-4.4-8.1 2.1zm15.9 2.2l7.6-2.3-7.8-4.4-7.7 2.2zm-7.9-4.5l7.7-2.2-7.7-4.3-7.8 2.1zm15.5 2.2l7.4-2.2-7.7-4.3-7.5 2.1zm15.1 2l7.1-2.3-7.6-4.1-7.2 2.2zm-7.7-4.2l7.2-2.2-7.7-4.1-7.2 2zm14.8 1.9l6.8-2.2-7.6-4-6.8 2.1zm-7.6-4.1l6.8-2.1-7.6-3.9-6.9 1.9zm14.4 1.9l6.5-2.2-7.6-3.8-6.5 2zm14 1.6l6-2.2-7.4-3.6-6.1 2zm-7.5-3.8l6.1-2-7.5-3.7-6.2 1.9zm21 5.2l5.7-2.2-7.4-3.5-5.8 2.1zm-7.5-3.6l5.8-2.1-7.4-3.5-5.8 2zm13.2 1.4l5.3-2.1-7.3-3.4-5.4 2zm-7.4-3.5l5.4-2-7.4-3.3-5.4 1.8zm20 4.6l4.9-2.2-7.3-3.1-4.9 2.1zm-7.3-3.2l4.9-2.1-7.2-3.2-5 1.9zm19.4 4.1l4.4-2.2-7.1-3-4.5 2.1zm-7.2-3.1l4.5-2.1-7.2-3-4.6 2zm-7.3-3.1l4.6-2-7.2-3-4.6 1.8zm26.1 6.9l4-2.3-7.1-2.8-4.1 2.2zm-7.2-2.9l4.1-2.2-7.1-2.8-4.1 2zm-7.1-3l4.1-2-7.1-2.8-4.2 1.8zm32.4 9l3.5-2.5-7-2.5-3.5 2.3zm-7-2.7l3.5-2.3-7.1-2.6-3.5 2.2zm-7.1-2.7l3.5-2.2-7-2.6-3.6 2zm-7.1-2.8l3.6-2-7-2.7-3.7 1.9zm45.6 12.9l2.8-2.8-6.9-2.2-2.9 2.6zm-7-2.4l2.9-2.6-6.9-2.3-2.9 2.5zm-6.9-2.4l2.9-2.5-6.9-2.3-3 2.4zm-7-2.4l3-2.4-7-2.4-3 2.3zm-7-2.5l3-2.3-6.9-2.4-3.2 2.1zm65.2 17l2-3.4-6.8-1.8-2.1 3.3zm-6.9-1.9l2.1-3.3-6.8-1.8-2.2 3.1zm-6.9-2l2.2-3.1-6.8-1.9-2.3 3zm-6.9-2l2.3-3-6.8-1.9-2.4 2.8zm-6.9-2.1l2.4-2.8-6.9-2-2.4 2.7zm-6.9-2.1l2.4-2.7-6.8-2.1-2.5 2.6zm-6.9-2.2l2.5-2.6-6.9-2.1-2.5 2.4zm-6.9-2.3l2.5-2.4-6.8-2.1-2.6 2.2zm95.1 16.1l-3-.5-1.3 4.5 3 .6zm-4.3 4l1.3-4.5-6.7-1.1-1.3 4.3zm-6.7-1.3l1.3-4.3-6.7-1.1-1.3 4zm-6.7-1.4l1.3-4-6.7-1.3-1.4 3.9zm-6.8-1.4l1.4-3.9-6.7-1.3-1.4 3.6zm-6.7-1.6l1.4-3.6-6.7-1.5-1.5 3.5zm-6.8-1.6l1.5-3.5-6.7-1.5-1.6 3.4zm-6.8-1.6l1.6-3.4-6.7-1.5-1.7 3.1zm-6.8-1.8l1.7-3.1-6.7-1.7-1.8 3zm-6.8-1.8l1.8-3-6.8-1.7-1.8 2.8z"/>
<path color="#58ffa7" d="M70 194.3l4.1-1-8.5-6.4-2.1 .5zm4.1-1l9.6-2.4-8.5-6.2-9.6 2.2zm9.6-2.4l9.6-2.3-8.4-6-9.7 2.1zm27.6 1.2l9.5-2.3-8.4-5.7-9.5 2.2zm9.5-2.3l9.4-2.4-8.3-5.5-9.5 2.2zm9.4-2.4l9.3-2.3-8.3-5.3-9.3 2.1zm9.3-2.3l9.2-2.2-8.2-5.1-9.3 2zm17.4 3l9-2.3-8.1-5.1-9.1 2.2zm9-2.3l8.9-2.3-8.1-4.9-8.9 2.1zm8.9-2.3l8.7-2.2-8-4.7-8.8 2zm8.7-2.2l8.5-2.1-8-4.6-8.5 2zm16.5 2.6l8.2-2.2-7.9-4.6-8.3 2.1zm8.2-2.2l8.1-2.1-7.9-4.4-8.1 1.9zm8.1-2.1l7.8-2.1-7.8-4.2-7.9 1.9zm15.5 2.2l7.5-2.1-7.7-4.2-7.5 2zm-7.7-4.3l7.5-2-7.7-4.1-7.6 1.9zm15.2 2.2l7.2-2-7.7-4-7.2 1.8zm7.2-2l6.9-1.9-7.6-3.9-7 1.8zm14.5 2l6.5-2-7.5-3.8-6.6 1.9zm-7.6-3.9l6.6-1.9-7.6-3.8-6.6 1.8zm14.1 1.9l6.2-1.9-7.4-3.6-6.3 1.7zm-7.5-3.8l6.3-1.7-7.5-3.7-6.4 1.6zm21.2 5.6l5.8-2-7.4-3.5-5.9 1.8zm-7.5-3.7l5.9-1.8-7.4-3.5-5.9 1.7zm13.3 1.7l5.4-1.8-7.3-3.4-5.5 1.7zm-7.4-3.5l5.5-1.7-7.4-3.4-5.5 1.6zm20.2 5l5-1.9-7.3-3.2-5.1 1.8zm-7.4-3.3l5.1-1.8-7.3-3.2-5.1 1.6zm-7.3-3.4l5.1-1.6-7.3-3.3-5.2 1.5zm19.7 4.8l4.6-1.8-7.2-3.1-4.7 1.7zm-7.3-3.2l4.7-1.7-7.2-3.1-4.8 1.6zm19.1 4.4l4.2-1.8-7.2-2.9-4.2 1.7zm-7.2-3l4.2-1.7-7.1-2.9-4.3 1.5zm-7.2-3.1l4.3-1.5-7.2-3-4.3 1.4zm25.7 7.1l3.7-1.9-7.1-2.7-3.7 1.8zm-7.1-2.8l3.7-1.8-7-2.7-3.9 1.6zm-7.2-2.9l3.9-1.6-7.1-2.8-3.9 1.5zm32 9.1l3.2-2.1-7-2.5-3.2 2zm-7-2.6l3.2-2-7-2.5-3.2 1.8zm-7-2.7l3.2-1.8-6.9-2.5-3.4 1.6zm-7.1-2.7l3.4-1.6-7-2.6-3.4 1.5zm38.2 10.7l2.6-2.2-6.9-2.3-2.7 2.1zm-7-2.4l2.7-2.1-6.9-2.2-2.7 1.9zm-6.9-2.4l2.7-1.9-6.9-2.4-2.8 1.8zm-7-2.5l2.8-1.8-6.9-2.3-2.9 1.6zm-7-2.5l2.9-1.6-6.9-2.5-2.9 1.6zm64.7 17.8l1.8-2.8-6.7-1.8-1.9 2.7zm-6.8-1.9l1.9-2.7-6.8-1.8-2 2.5zm-6.9-2l2-2.5-6.8-1.9-2 2.3zm-6.8-2.1l2-2.3-6.8-2-2.1 2.2zm-6.9-2.1l2.1-2.2-6.8-2-2.1 2.1zm-6.8-2.1l2.1-2.1-6.8-2.1-2.2 1.9zm-6.9-2.3l2.2-1.9-6.8-2.2-2.3 1.9zm-6.9-2.2l2.3-1.9-6.8-2.1-2.4 1.6zm114 20.5l-3.1-.4-.7 4.5 3 .5zm-3.8 4.1l.7-4.5-6.6-.8-.8 4.2zm-6.7-1.1l.8-4.2-6.6-.9-.9 4zm-6.7-1.1l.9-4-6.6-1-1 3.7zm-6.7-1.3l1-3.7-6.6-1.2-1.1 3.6zm-6.7-1.3l1.1-3.6-6.7-1.2-1.1 3.3zm-6.7-1.5l1.1-3.3-6.6-1.3-1.2 3.1zm-6.7-1.5l1.2-3.1-6.7-1.4-1.2 3zm-6.7-1.5l1.2-3-6.6-1.5-1.3 2.8zm-6.7-1.7l1.3-2.8-6.7-1.5-1.4 2.6zm-6.8-1.7l1.4-2.6-6.7-1.7-1.4 2.5zm-6.7-1.8l1.4-2.5-6.7-1.7-1.5 2.4zm-6.8-1.8l1.5-2.4-6.7-1.7-1.6 2.2zm-6.8-1.9l1.6-2.2-6.7-1.9-1.7 2.1zm-6.8-2l1.7-2.1-6.8-1.8-1.7 1.9z"/>
<path color="#68ff97" d="M63.5 187.4l2.1-.5-8.6-6.5 0 0zm2.1-.5l9.6-2.2-7.1-5.2-11.1 .9 0 0zm27.7 1.7l9.6-2.3-8.4-5.7-9.6 2zm9.6-2.3l9.5-2.2-8.4-5.6-9.5 2.1zm9.5-2.2l9.5-2.2-8.3-5.3-9.6 1.9zm9.5-2.2l9.3-2.1-8.2-5.1-9.4 1.9zm9.3-2.1l9.3-2-7.4-4.4-7.1 .7-3 .6zm17.5 3.1l9.1-2.2-8.2-4.9-9.1 2zm9.1-2.2l8.9-2.1-8.1-4.7-9 1.9zm8.9-2.1l8.8-2-8.1-4.6-8.8 1.9zm8.8-2l8.5-2-8-4.4-8.6 1.8zm16.5 2.6l8.3-2.1-7.9-4.4-8.4 1.9zm-8-4.6l8.4-1.9-7.9-4.2-8.5 1.7zm16.3 2.5l8.1-1.9-7.8-4.3-8.2 1.8zm8.1-1.9l7.9-1.9-7.8-4.2-7.9 1.8zm7.9-1.9l7.6-1.9-7.8-4-7.6 1.7zm15.3 2.2l7.2-1.8-7.6-4-7.3 1.7zm-7.7-4.1l7.3-1.7-7.7-3.9-7.4 1.6zm14.9 2.3l7-1.8-7.6-3.9-7 1.7zm-7.6-4l7-1.7-7.7-3.7-7 1.5zm14.6 2.2l6.6-1.8-7.5-3.7-6.7 1.6zm6.6-1.8l6.4-1.6-7.5-3.6-6.4 1.5zm13.9 2.1l5.9-1.7-7.5-3.5-5.9 1.5zm-7.5-3.7l5.9-1.5-7.4-3.5-6 1.4zm13.4 2l5.5-1.6-7.3-3.4-5.7 1.5zm-7.5-3.5l5.7-1.5-7.4-3.3-5.7 1.3zm13 1.9l5.2-1.5-7.3-3.2-5.2 1.3zm-7.3-3.4l5.2-1.3-7.3-3.2-5.3 1.2zm19.8 5.2l4.8-1.6-7.2-3.1-4.9 1.4zm-7.3-3.3l4.9-1.4-7.3-3.1-4.9 1.3zm12.1 1.7l4.3-1.4-7.1-3-4.4 1.3zm-7.2-3.1l4.4-1.3-7.2-3-4.5 1.2zm18.7 4.7l3.9-1.5-7.1-2.9-4 1.4zm-7.2-3l4-1.4-7.1-2.8-4 1.2zm-7.1-3l4-1.2-7.1-2.9-4.1 1.1zm25.3 7.3l3.4-1.5-7-2.7-3.5 1.4zm-7.1-2.8l3.5-1.4-7-2.7-3.6 1.2zm-7.1-2.9l3.6-1.2-7.1-2.7-3.6 1.1zm24.6 6.8l2.9-1.6-6.9-2.4-3 1.4zm-7-2.6l3-1.4-7-2.6-3 1.3zm-7-2.7l3-1.3-6.9-2.5-3.1 1.1zm-7-2.7l3.1-1.1-7-2.6-3.2 1zm37.7 11.2l2.4-1.6-6.9-2.3-2.4 1.6zm-6.9-2.3l2.4-1.6-6.8-2.3-2.5 1.4zm-6.9-2.5l2.5-1.4-6.9-2.3-2.5 1.3zm-6.9-2.4l2.5-1.3-6.8-2.4-2.7 1.1zm-7-2.6l2.7-1.1-6.9-2.4-2.7 1zm50.5 14.6l1.7-1.9-6.7-2-1.8 1.8zm-6.8-2.1l1.8-1.8-6.8-2-1.8 1.6zm-6.8-2.2l1.8-1.6-6.7-2.1-1.9 1.6zm-6.8-2.1l1.9-1.6-6.8-2.1-2 1.4zm-6.9-2.3l2-1.4-6.8-2.1-2 1.2zm-6.8-2.3l2-1.2-6.8-2.3-2.1 1.2zm-6.9-2.3l2.1-1.2-6.8-2.2-2.1 1zm139.4 26.8l-3.1-.1-.3 4.3 3.1 .4zm-3.4 4.2l.3-4.3-6.5-.6-.4 4.1zm-6.6-.8l.4-4.1-6.5-.6-.5 3.8zm-6.6-.9l.5-3.8-6.6-.8-.5 3.6zm-6.6-1l.5-3.6-6.5-.9-.6 3.3zm-6.6-1.2l.6-3.3-6.6-1-.7 3.1zm-6.7-1.2l.7-3.1-6.6-1.1-.7 2.9zm-6.6-1.3l.7-2.9-6.6-1.2-.8 2.7zm-6.7-1.4l.8-2.7-6.6-1.3-.8 2.5zm-6.6-1.5l.8-2.5-6.6-1.4-.9 2.4zm-6.7-1.5l.9-2.4-6.6-1.5-1 2.2zm-6.7-1.7l1-2.2-6.6-1.6-1.1 2.1zm-6.7-1.7l1.1-2.1-6.7-1.6-1.1 2zm-6.7-1.7l1.1-2-6.6-1.7-1.2 1.8zm-6.7-1.9l1.2-1.8-6.7-1.7-1.3 1.7zm-6.8-1.8l1.3-1.7-6.7-1.9-1.3 1.6zm-6.7-2l1.3-1.6-6.6-1.8-1.5 1.4zm-6.8-2l1.5-1.4-6.7-2-1.5 1.3zm-6.7-2.1l1.5-1.3-6.7-2-1.6 1.2zm-6.8-2.1l1.6-1.2-6.8-2-1.6 1.1zm-6.8-2.1l1.6-1.1-6.7-2.2-1.7 1zm68.3 16.7l.5-2.1-6.6-1.3-.5 1.9zm-6.6-1.5l.5-1.9-6.5-1.4-.6 1.7zm-6.6-1.6l.6-1.7-6.6-1.5-.7 1.6zm-6.7-1.6l.7-1.6-6.6-1.6-.7 1.5zm-6.6-1.7l.7-1.5-6.6-1.6-.8 1.4zm-6.7-1.7l.8-1.4-6.6-1.8-.9 1.3zm-6.7-1.9l.9-1.3-6.6-1.7-.9 1.2z"/>
<path color="#87ff78" d="M57 180.4l0 0 0 0zm0 0l0 0 0 0 0 0z"/>
<path color="#28ffd7" d="M99.7 212.1l9.5-2.8-8.5-6.1-9.5 2.6zm9.5-2.8l9.4-2.8-8.4-5.9-9.5 2.6zm9.4-2.8l9.5-2.7-8.4-5.8-9.5 2.6zm17.8 3.1l9.4-2.8-8.4-5.7-9.3 2.7zm9.4-2.8l9.2-2.7-8.2-5.6-9.4 2.6zm9.2-2.7l9.2-2.8-8.2-5.4-9.2 2.6zm17.4 2.7l9-2.8-8.2-5.3-9 2.6zm-8.2-5.5l9-2.6-8.1-5.3-9.1 2.5zm17.2 2.7l8.9-2.8-8.1-5.1-9 2.6zm8.9-2.8l8.7-2.6-8.1-5.1-8.7 2.6zm16.7 2.4l8.5-2.8-8-4.9-8.5 2.7zm-8-5l8.5-2.7-8-4.9-8.6 2.5zm16.5 2.2l8.3-2.6-7.9-4.8-8.4 2.5zm16.3 2.1l8-2.8-7.9-4.6-8.1 2.7zm-8-4.7l8.1-2.7-7.9-4.6-8.1 2.5zm16 1.9l7.8-2.6-7.8-4.5-7.9 2.5zm7.8-2.6l7.6-2.6-7.8-4.3-7.6 2.4zm15.3 1.7l7.2-2.7-7.7-4.1-7.2 2.5zm14.9 1.5l6.9-2.7-7.6-4-7 2.5zm-7.7-4.2l7-2.5-7.6-4.1-7.1 2.5zm14.6 1.5l6.6-2.7-7.6-3.8-6.6 2.5zm14.1 1.1l6.3-2.7-7.5-3.6-6.3 2.5zm-7.5-3.8l6.3-2.5-7.5-3.7-6.4 2.4zm21.2 4.8l5.9-2.8-7.4-3.5-5.9 2.6zm-7.4-3.7l5.9-2.6-7.5-3.5-5.9 2.5zm20.7 4.4l5.4-2.9-7.3-3.2-5.5 2.6zm-7.4-3.5l5.5-2.6-7.4-3.4-5.5 2.5zm20.1 3.9l5-2.9-7.2-3.1-5.1 2.7zm-7.3-3.3l5.1-2.7-7.3-3.1-5.1 2.6zm19.6 3.5l4.5-3-7.2-2.9-4.6 2.8zm-7.3-3.1l4.6-2.8-7.2-2.9-4.6 2.6zm26.2 5.8l4-3.1-7.1-2.7-4.1 3zm-7.2-2.8l4.1-3-7.1-2.7-4.2 2.8zm-7.2-2.9l4.2-2.8-7.1-2.7-4.3 2.6zm39.7 10.2l3.5-3.5-7-2.3-3.6 3.3zm-7.1-2.5l3.6-3.3-7.1-2.4-3.6 3.2zm-7.1-2.5l3.6-3.2-7-2.5-3.7 3.1zm-7.1-2.6l3.7-3.1-7.1-2.5-3.7 2.9zm59.7 15l2.7-4.2-6.9-1.9-2.8 4zm-7-2.1l2.8-4-6.9-2-2.9 3.9zm-7-2.1l2.9-3.9-6.9-2-2.9 3.7zm-6.9-2.2l2.9-3.7-7-2-2.9 3.5zm-7-2.2l2.9-3.5-6.9-2.2-3 3.4zm-7-2.3l3-3.4-6.9-2.2-3.1 3.3zm63.1 7.9l-2.8-.6-2.1 4.7 2.6 .6zm-4.9 4.1l2.1-4.7-6.8-1.5-2.1 4.5zm-6.8-1.7l2.1-4.5-6.8-1.6-2.2 4.3zm-6.9-1.8l2.2-4.3-6.8-1.6-2.3 4.1zm-6.9-1.8l2.3-4.1-6.9-1.7-2.3 3.9z"/>
<path color="#78ff87" d="M75.2 184.7l9.7-2.1-5.8-4-11 .9zm9.7-2.1l9.6-2-4.4-3-11 1zm9.6-2l9.5-2.1-3-1.9-10.9 1zm9.5-2.1l9.6-1.9-1.8-1.1-10.8 1.1zm9.6-1.9l9.4-1.9-.4-.2-10.8 1zm9.4-1.9l3-.6-3.4 .4zm17.5 3.1l9.1-2-6.1-3.5-10.4 1.1zm9.1-2l9-1.9-4.8-2.7-10.3 1.1zm9-1.9l8.8-1.9-3.6-1.9-10 1.1zm8.8-1.9l8.6-1.8-2.4-1.3-9.8 1.2zm8.6-1.8l8.5-1.7-1.4-.7-9.5 1.1zm16.4 2.5l8.2-1.8-7.9-4-8.2 1.6zm-7.9-4.2l8.2-1.6-.3-.2-9.3 1.1zm16.1 2.4l7.9-1.8-7.1-3.5-6.4 .8-2.3 .5zm-7.9-4l2.3-.5-2.6 .3zm15.8 2.2l7.6-1.7-6.1-2.9-8.6 1.1zm7.6-1.7l7.4-1.6-5.1-2.4-8.4 1.1zm7.4-1.6l7-1.5-4.1-1.9-8 1zm14.7 2.2l6.7-1.6-7.6-3.5-6.8 1.4zm-7.7-3.7l6.8-1.4-3.3-1.5-7.6 1zm14.4 2.1l6.4-1.5-7.5-3.4-6.5 1.4zm-7.6-3.5l6.5-1.4-2.5-1.1-7.3 1zm14 2l6-1.4-7.4-3.3-6.1 1.3zm-7.5-3.4l6.1-1.3-1.7-.7-6.9 .9zm13.5 2l5.7-1.3-7.4-3.2-5.7 1.2zm-7.4-3.3l5.7-1.2-1-.4-6.4 .9zm13.1 2l5.3-1.2-7.3-3.1-5.4 1.1zm-7.4-3.2l5.4-1.1-.3-.2-6.1 .9zm20 5.2l4.9-1.3-7.2-3.1-5 1.2zm-7.3-3.2l5-1.2-7-2.9-2.2 .3-3.1 .7zm-7.3-3.1l3.1-.7-3.4 .5zm19.5 5l4.5-1.2-7.2-2.9-4.5 1zm-7.2-3.1l4.5-1-6.4-2.6-5.1 .7zm11.7 1.9l4.1-1.1-7.1-2.8-4.2 1zm-7.2-2.9l4.2-1-5.9-2.3-4.7 .7zm18.4 4.7l3.6-1.1-7-2.7-3.7 .9zm-7.1-2.9l3.7-.9-7-2.8-3.8 .9zm-7.1-2.8l3.8-.9-5.4-2-4.3 .6zm17.8 4.6l3.2-1-6.9-2.6-3.3 .9zm-7-2.7l3.3-.9-7-2.6-3.3 .7zm-7-2.8l3.3-.7-5-1.9-3.7 .6zm24.2 7.1l2.7-1-6.9-2.5-2.8 .9zm-7-2.6l2.8-.9-6.9-2.5-2.8 .8zm-6.9-2.6l2.8-.8-6.9-2.5-2.9 .7zm-7-2.6l2.9-.7-4.6-1.7-3.3 .5zm30.5 9.2l2.1-1-6.8-2.3-2.2 .9zm-6.9-2.4l2.2-.9-6.8-2.4-2.3 .8zm-6.9-2.5l2.3-.8-6.8-2.4-2.4 .7zm-6.9-2.5l2.4-.7-6.9-2.4-2.4 .6zm-6.9-2.5l2.4-.6-4.2-1.5-2.8 .4zm36.5 11.1l1.7-1-6.7-2.1-1.8 .9zm-6.8-2.2l1.8-.9-6.8-2.2-1.8 .8zm-6.8-2.3l1.8-.8-6.7-2.3-1.9 .7zm-6.8-2.4l1.9-.7-6.8-2.2-1.9 .5zm-6.8-2.4l1.9-.5-6.7-2.4-2.1 .5zm-6.9-2.4l2.1-.5-4-1.3-2.3 .3zm171.4 39.3l-3.1-.5 0 .8 3.1 .1zm-3.1 .3l0-.8-6.5-1 0 1.2zm-6.5-.6l0-1.2-6.5-1.1 0 1.7zm-6.5-.6l0-1.7-6.5-1.2-.1 2.1zm-6.6-.8l.1-2.1-6.5-1.2-.1 2.4zm-6.5-.9l.1-2.4-6.5-1.2-.2 2.6zm-6.6-1l.2-2.6-3.5-.7-3-.4-.3 2.6zm-6.6-1.1l.3-2.6-6.6-1-.3 2.4zm-6.6-1.2l.3-2.4-6.5-1.2-.4 2.3zm-6.6-1.3l.4-2.3-6.5-1.2-.5 2.1zm-53.1-13.2l.9-1.2-6.6-1.9-1 1.1zm-6.7-2l1-1.1-6.7-1.9-1 1zm-6.7-2l1-1-6.6-2-1.2 1zm-6.8-2l1.2-1-6.7-2-1.2 .8zm-6.7-2.2l1.2-.8-6.6-2-1.3 .7zm-6.7-2.1l1.3-.7-6.7-2.1-1.4 .6zm-6.8-2.2l1.4-.6-6.7-2.2-1.4 .5zm-6.7-2.3l1.4-.5-6.7-2.2-1.5 .5zm-6.8-2.2l1.5-.5-6.7-2.2-1.5 .3zm-6.7-2.4l1.5-.3-3.8-1.3-1.7 .3zm127.2 32.3l0 .2 3 .4zm0 .2l0-.2-6.5-1.3-.1 .5zm-6.6-1l.1-.5-6.5-1.4-.1 .7zm-6.5-1.2l.1-.7-6.6-1.4 0 .9zm-6.5-1.2l0-.9-6.5-1.5-.1 1.1zm-6.6-1.3l.1-1.1-6.5-1.5-.1 1.2zm-6.5-1.4l.1-1.2-6.5-1.5-.2 1.2zm-6.6-1.5l.2-1.2-1.2-.4-5.3-1.1-.3 1.1zm-6.6-1.6l.3-1.1-6.5-1.6-.4 1.1zm-6.6-1.6l.4-1.1-6.6-1.6-.4 .9zm-6.6-1.8l.4-.9-6.5-1.7-.5 .9zm-6.6-1.7l.5-.9-6.6-1.8-.5 .8zm-6.6-1.9l.5-.8-6.5-1.8-.7 .7zm-6.7-1.9l.7-.7-6.6-1.9-.7 .6zm-6.6-2l.7-.6-6.6-1.9-.8 .5zm-6.7-2l.8-.5-6.6-2-.8 .5zm-6.6-2l.8-.5-6.6-2.1-.9 .5zm-6.7-2.1l.9-.5-6.6-2.1-1 .4zm-6.7-2.2l1-.4-6.6-2.1-1.1 .3zm-6.7-2.2l1.1-.3-6.7-2.2-1.1 .3zm-6.7-2.2l1.1-.3-3.6-1.2-1.3 .2zm80.1 22.3l0 .2 5.3 1.1zm0 .2l0-.2-6.5-1.6 0 .2zm-6.5-1.6l0-.2-6.5-1.7-.1 .3zm-6.6-1.6l.1-.3-6.5-1.7-.1 .3zm-6.5-1.7l.1-.3-6.5-1.8-.2 .3zm-6.6-1.8l.2-.3-6.5-1.9-.2 .4zm-6.5-1.8l.2-.4-5.6-1.6-1-.2-.2 .3zm-6.6-1.9l.2-.3-6.5-1.9-.3 .3zm-6.6-1.9l.3-.3-6.5-2-.4 .3zm-6.6-2l.4-.3-6.5-2-.5 .2zm-6.6-2.1l.5-.2-6.6-2.1-.5 .2zm-6.6-2.1l.5-.2-6.5-2.1-.6 .2zm-6.6-2.1l.6-.2-6.6-2.1-.7 .1zm-6.7-2.2l.7-.1-3.5-1.2-.8 .1zm39.9 12.1l0 0 1 .2zm0 0l0 0-6.5-2 0 .1zm-6.5-1.9l0-.1-6.5-1.9 0 0zm-6.5-2l0 0-6.5-2.1 0 .1zm-6.5-2l0-.1-6.5-2-.1 0zm-6.6-2.1l.1 0-6.5-2.1-.1 0zm-6.5-2.1l.1 0-6.5-2.2-.2 .1zm-6.6-2.1l.2-.1-3.5-1.1 0 0-.2 0z"/>
</g>
<g fill="none" stroke="#000" stroke-linejoin="round">
<path stroke-width="0.6" d="M433.3 248.9l2.4-2.5 4.4-5 4.1-5 3.8-4.9 3.3-4.9 2.9-4.8 2.5-4.7 2.1-4.7 1.6-4.6 1.3-4.5 .7-4.5 .3-4.3 0-.8M364.3 296.1l1.7-1.2 7.4-5.3 7.2-5.2 6.9-5.2 6.7-5.2 6.5-5.2 6.2-5.1 5.8-5 5.6-5.1 5.2-5 4.9-4.9 4.6-4.9 4.1-4.8 3.8-4.7 3.4-4.7 3-4.6 2.6-4.6 2.1-4.5 1.7-4.4 1.3-4.3 .8-4.2 .4-4.1 0-1.2M295.3 330.8l6.4-3.9 8.4-5.1 8.3-5.2 8.2-5.2 8.1-5.1 8-5.2 7.8-5.2 7.6-5.1 7.5-5.2 7.2-5.1 7-5.1 6.8-5 6.5-5 6.2-5 6-4.9 5.6-4.9 5.3-4.8 4.9-4.8 4.6-4.7 4.3-4.7 3.8-4.6 3.5-4.5 3-4.5 2.7-4.4 2.2-4.3 1.8-4.2 1.3-4 .9-4 .5-3.8 0-1.7M226.3 360.5l4.9-2.8 9.5-5.3 9.2-5.2 9.1-5.2 8.8-5.1 8.7-5 8.5-5 8.5-5 8.4-5 8.4-5 8.2-5.1 8.2-5.1 8-5 7.9-5.1 7.7-5 7.5-5 7.3-5 7-4.9 6.9-4.9 6.5-4.9 6.3-4.9 6-4.8 5.7-4.7 5.4-4.7 5-4.6 4.6-4.6 4.3-4.5 3.9-4.4 3.6-4.4 3.1-4.3 2.7-4.2 2.3-4.1 1.8-4 1.4-3.9 1-3.7 .5-3.6 .1-2.1M219.7 353.6l2.9-1.6 9.6-5.2 9.3-5.2 9.1-5 8.9-5 8.7-4.9 8.5-4.9 8.6-4.9 8.4-4.9 8.4-5 8.4-4.9 8.2-4.9 8-5 8-4.9 7.7-4.9 7.6-4.9 7.3-4.8 7.1-4.9 6.9-4.7 6.6-4.8 6.4-4.7 6-4.6 5.8-4.6 5.4-4.6 5.1-4.5 4.7-4.4 4.4-4.3 3.9-4.3 3.6-4.2 3.2-4.2 2.8-4 2.3-3.9 2-3.9 1.4-3.6 1.1-3.6 .6-3.3 .1-2.4M213.2 346.7l.9-.5 9.6-5.1 9.3-5.1 9.2-4.9 8.9-4.9 8.7-4.8 8.6-4.8 8.6-4.8 8.5-4.8 8.5-4.8 8.4-4.8 8.2-4.9 8.1-4.8 8-4.8 7.8-4.8 7.6-4.7 7.4-4.7 7.2-4.7 7-4.7 6.6-4.6 6.5-4.6 6.1-4.5 5.8-4.4 5.5-4.4 5.1-4.4 4.8-4.2 4.4-4.2 4-4.2 3.7-4 3.2-4 2.9-3.9 2.4-3.7 2-3.7 1.5-3.5 1.1-3.3 .7-3.1 .2-2.6M206.7 339.7l8.4-4.4 9.4-4.9 9.2-4.9 9-4.7 8.8-4.7 8.6-4.7 8.7-4.7 8.5-4.7 8.6-4.7 8.4-4.7 8.3-4.7 8.1-4.7 8.1-4.7 7.8-4.7 7.7-4.6 7.5-4.6 7.2-4.6 7-4.5 6.7-4.4 6.5-4.5 6.2-4.3 5.8-4.4 5.6-4.2 5.2-4.2 4.8-4.1 4.5-4.1 4.1-4 3.7-3.8 3.4-3.9 2.9-3.7 2.5-3.6 2-3.4 1.6-3.4 1.2-3.1 .7-2.9 .3-2.6 0-.2M200.2 332.8l6.4-3.3 9.5-4.8 9.2-4.8 9-4.6 8.8-4.6 8.7-4.6 8.7-4.6 8.6-4.6 8.6-4.6 8.5-4.6 8.3-4.6 8.2-4.5 8.1-4.6 7.9-4.5 7.7-4.5 7.6-4.5 7.3-4.4 7-4.4 6.8-4.3 6.5-4.3 6.3-4.3 5.9-4.1 5.6-4.1 5.3-4.1 4.9-4 4.5-3.9 4.2-3.8 3.8-3.7 3.4-3.7 2.9-3.5 2.6-3.5 2.1-3.3 1.7-3.1 1.2-3 .8-2.7 .3-2.4 .1-.5M193.7 325.9l4.4-2.2 9.5-4.7 9.2-4.7 9.1-4.6 8.9-4.5 8.7-4.4 8.7-4.5 8.7-4.5 8.6-4.5 8.5-4.4 8.4-4.5 8.3-4.5 8.1-4.4 8-4.4 7.8-4.4 7.6-4.3 7.3-4.3 7.1-4.3 6.9-4.2 6.6-4.1 6.3-4.1 5.9-4.1 5.7-3.9 5.3-3.9 5-3.9 4.6-3.7 4.3-3.7 3.8-3.6 3.5-3.5 3-3.4 2.6-3.3 2.2-3.1 1.8-3 1.3-2.8 .8-2.5 .4-2.3 .1-.7M187.2 319l2.3-1.2 9.6-4.6 9.3-4.6 9.1-4.4 8.9-4.4 8.8-4.4 8.8-4.4 8.7-4.3 8.6-4.4 8.6-4.4 8.5-4.3 8.3-4.4 8.2-4.3 8-4.3 7.8-4.2 7.6-4.2 7.5-4.2 7.1-4.1 6.9-4.1 6.7-4 6.3-4 6.1-3.9 5.7-3.8 5.4-3.7 5-3.7 4.7-3.6 4.3-3.5 3.9-3.5 3.6-3.3 3.1-3.3 2.6-3.1 2.3-3 1.8-2.8 1.4-2.6 .9-2.4 .5-2.1 0-.9M180.7 312l.3-.1 9.5-4.5 9.4-4.5 9.2-4.4 8.9-4.3 8.9-4.2 8.8-4.3 8.7-4.2 8.7-4.3 8.7-4.3 8.5-4.2 8.3-4.2 8.3-4.2 8-4.2 7.9-4.1 7.7-4.1 7.5-4 7.2-4 7-3.9 6.7-3.9 6.4-3.8 6.1-3.8 5.8-3.7 5.5-3.6 5.1-3.5 4.7-3.5 4.4-3.3 3.9-3.3 3.6-3.2 3.2-3.1 2.7-3 2.4-2.8 1.9-2.7 1.4-2.5 1-2.2 .5-1.9 .1-1.1M174.2 305.1l7.8-3.6 9.4-4.4 9.2-4.2 9-4.2 8.9-4.2 8.9-4.1 8.8-4.2 8.7-4.1 8.7-4.2 8.6-4.1 8.4-4.1 8.3-4.1 8.1-4 7.9-4 7.8-4 7.5-3.9 7.3-3.8 7-3.8 6.8-3.8 6.5-3.7 6.1-3.6 5.9-3.5 5.5-3.5 5.2-3.4 4.8-3.3 4.4-3.2 4-3.1 3.7-3.1 3.2-2.9 2.8-2.8 2.4-2.7 2-2.5 1.5-2.4 1.1-2.1 .6-1.7 .1-1.2M167.7 298.2l5.8-2.6 9.4-4.3 9.3-4.2 9-4 9-4.1 8.9-4 8.8-4.1 8.8-4 8.7-4.1 8.6-4 8.5-4 8.4-3.9 8.2-3.9 8-3.9 7.8-3.8 7.5-3.8 7.4-3.7 7.1-3.7 6.8-3.6 6.5-3.5 6.2-3.5 6-3.4 5.5-3.3 5.3-3.3 4.8-3.1 4.5-3.1 4.1-3 3.7-2.9 3.3-2.8 2.9-2.6 2.5-2.6 2-2.3 1.6-2.2 1.1-2 .7-1.6 .2-1.2M161.2 291.2l3.7-1.6 9.5-4.2 9.3-4 9.1-4 9-3.9 9-4 8.9-3.9 8.8-4 8.8-3.9 8.6-3.9 8.6-3.8 8.4-3.9 8.2-3.8 8-3.7 7.9-3.7 7.6-3.7 7.4-3.5 7.2-3.6 6.9-3.4 6.6-3.4 6.2-3.4 6-3.2 5.7-3.2 5.3-3.1 4.9-3 4.5-3 4.2-2.8 3.8-2.7 3.4-2.7 2.9-2.5 2.5-2.4 2.1-2.2 1.7-2.1 1.2-1.8 .7-1.5 .3-1.1 0-.2M154.6 284.3l1.8-.7 9.5-4.1 9.4-3.9 9.1-3.9 9-3.9 9-3.8 9-3.8 8.9-3.8 8.8-3.8 8.7-3.8 8.6-3.8 8.4-3.7 8.3-3.6 8.1-3.7 7.9-3.5 7.7-3.6 7.5-3.4 7.2-3.4 6.9-3.4 6.7-3.2 6.3-3.2 6.1-3.1 5.7-3.1 5.3-2.9 5-2.9 4.6-2.8 4.3-2.6 3.8-2.6 3.5-2.5 3-2.4 2.6-2.2 2.1-2.1 1.7-1.9 1.3-1.7 .8-1.4 .4-1.1 0-.2M148.1 277.4l9.3-3.8 9.4-3.9 9.2-3.8 9-3.7 9.1-3.7 9-3.8 8.9-3.7 8.9-3.7 8.8-3.6 8.6-3.7 8.5-3.5 8.3-3.6 8.2-3.5 8-3.4 7.7-3.4 7.5-3.3 7.3-3.3 7-3.2 6.7-3.1 6.4-3.1 6.1-2.9 5.8-2.9 5.4-2.9 5.1-2.7 4.6-2.6 4.3-2.6 4-2.4 3.5-2.3 3-2.3 2.7-2.1 2.2-1.9 1.8-1.8 1.3-1.6 .9-1.3 .4-.9 .1-.3M141.6 270.5l7.3-2.9 9.4-3.8 9.2-3.7 9.2-3.6 9-3.6 9.1-3.6 9-3.6 8.9-3.6 8.8-3.6 8.7-3.5 8.6-3.4 8.3-3.5 8.3-3.3 8-3.4 7.8-3.2 7.6-3.2 7.3-3.1 7-3.1 6.8-3 6.5-2.9 6.1-2.8 5.9-2.8 5.5-2.6 5.1-2.6 4.7-2.5 4.4-2.4 4-2.3 3.5-2.2 3.2-2.1 2.7-1.9 2.3-1.9 1.8-1.6 1.5-1.4 .9-1.2 .5-.9 .1-.3M135.1 263.5l5.3-2 9.4-3.6 9.3-3.6 9.2-3.5 9.1-3.6 9.1-3.5 9-3.5 9-3.4 8.8-3.5 8.8-3.3 8.6-3.4 8.4-3.3 8.3-3.2 8.1-3.2 7.9-3.2 7.6-3 7.4-3 7.1-2.9 6.8-2.9 6.5-2.8 6.3-2.7 5.9-2.6 5.5-2.5 5.2-2.4 4.8-2.4 4.4-2.2 4.1-2.2 3.6-2 3.2-2 2.8-1.8 2.4-1.6 1.9-1.6 1.5-1.3 1-1.1 .5-.8 .2-.3M128.6 256.6l3.2-1.2 9.5-3.5 9.3-3.5 9.2-3.4 9.2-3.5 9.2-3.4 9.1-3.3 9-3.4 8.9-3.3 8.8-3.3 8.6-3.2 8.5-3.2 8.4-3.1 8.1-3.1 7.9-3 7.7-2.9 7.4-2.8 7.2-2.8 6.9-2.7 6.6-2.7 6.3-2.5 5.9-2.5 5.6-2.4 5.3-2.3 4.9-2.2 4.5-2.1 4.1-2 3.7-1.9 3.2-1.8 2.9-1.6 2.4-1.6 2-1.4 1.6-1.2 1-1 .7-.7 .2-.4M122.1 249.7l1.2-.4 9.5-3.5 9.4-3.4 9.2-3.3 9.3-3.3 9.1-3.3 9.2-3.2 9-3.3 9-3.2 8.8-3.1 8.8-3.1 8.5-3.1 8.4-3 8.2-2.9 8-2.9 7.7-2.8 7.5-2.7 7.2-2.7 7-2.5 6.6-2.5 6.4-2.4 6-2.4 5.7-2.2 5.3-2.1 4.9-2.1 4.6-2 4.2-1.8 3.7-1.8 3.4-1.6 2.9-1.6 2.5-1.4 2-1.2 1.6-1.1 1.2-1 .7-.6 .2-.3 0 0M115.6 242.8l8.7-3.1 9.4-3.2 9.3-3.3 9.3-3.2 9.2-3.1 9.2-3.2 9.1-3.1 9-3.1 8.9-3 8.8-3 8.6-2.9 8.4-2.9 8.3-2.8 8-2.8 7.8-2.6 7.6-2.6 7.2-2.5 7.1-2.5 6.7-2.3 6.4-2.3 6-2.2 5.8-2.1 5.4-2 5-1.9 4.6-1.8 4.2-1.7 3.9-1.6 3.4-1.5 3-1.4 2.5-1.3 2.1-1.2 1.7-1 1.2-.8 .8-.5 .3-.3 0-.1M109.1 235.8l6.7-2.2 9.4-3.2 9.4-3.1 9.3-3.1 9.3-3.1 9.2-3 9.2-3 9-3 9-2.9 8.8-2.8 8.6-2.8 8.5-2.8 8.3-2.6 8.1-2.7 7.9-2.5 7.6-2.4 7.3-2.4 7.1-2.3 6.8-2.2 6.5-2.2 6.1-2 5.8-2 5.4-1.8 5.1-1.8 4.7-1.7 4.3-1.5 3.9-1.5 3.5-1.4 3-1.3 2.7-1.1 2.1-1 1.8-.9 1.3-.7 .8-.5 .4-.3 0 0M102.6 228.9l4.6-1.5 9.5-3.1 9.4-3 9.4-2.9 9.3-3 9.3-2.9 9.2-2.9 9.1-2.8 9-2.8 8.9-2.8 8.7-2.6 8.5-2.7 8.4-2.5 8.1-2.5 8-2.4 7.6-2.3 7.4-2.2 7.2-2.2 6.8-2.1 6.5-2 6.2-1.9 5.9-1.8 5.5-1.7 5.1-1.6 4.8-1.6 4.3-1.4 4-1.4 3.6-1.2 3.1-1.1 2.7-1 2.2-.9 1.8-.8 1.4-.6 .9-.5 .5-.2 0-.1M96.1 222l2.6-.8 9.5-3 9.4-2.9 9.5-2.8 9.3-2.9 9.4-2.8 9.2-2.7 9.2-2.8 9-2.6 9-2.6 8.7-2.6 8.6-2.5 8.4-2.4 8.2-2.3 8-2.3 7.7-2.2 7.5-2.1 7.2-2 6.9-1.9 6.6-1.9 6.3-1.7 5.9-1.7 5.5-1.6 5.2-1.5 4.9-1.4 4.4-1.3 4-1.2 3.6-1.1 3.2-1 2.8-.9 2.3-.8 1.9-.7 1.4-.5 1-.4 .5-.2 .1 0M89.5 215.1l.6-.2 9.6-2.8 9.5-2.8 9.4-2.8 9.5-2.7 9.3-2.7 9.4-2.6 9.2-2.6 9.1-2.5 8.9-2.5 8.9-2.4 8.6-2.3 8.5-2.3 8.2-2.2 8.1-2.1 7.8-2.1 7.5-2 7.2-1.8 7-1.8 6.6-1.8 6.4-1.6 5.9-1.5 5.7-1.5 5.2-1.3 4.9-1.3 4.5-1.2 4.1-1.1 3.7-.9 3.3-.9 2.8-.8 2.4-.7 1.9-.5 1.5-.5 1.1-.3 .6-.2 .1 0M83 208.1l8.2-2.3 9.5-2.6 9.5-2.6 9.5-2.6 9.4-2.6 9.4-2.5 9.2-2.4 9.2-2.4 9-2.3 8.9-2.3 8.7-2.2 8.5-2.1 8.3-2.1 8.1-1.9 7.9-1.9 7.6-1.9 7.3-1.7 7-1.7 6.7-1.6 6.4-1.5 6-1.4 5.7-1.3 5.3-1.2 5-1.2 4.5-1 4.2-1 3.8-.9 3.3-.7 2.9-.7 2.4-.6 2.1-.5 1.5-.3 1.1-.3 .7-.1 .2-.1M76.5 201.2l6.2-1.6 9.5-2.5 9.6-2.5 9.5-2.5 9.5-2.3 9.4-2.4 9.3-2.3 9.2-2.2 9.1-2.2 8.9-2.1 8.8-2 8.5-2 8.4-1.9 8.2-1.8 7.9-1.8 7.6-1.7 7.4-1.6 7-1.5 6.8-1.4 6.5-1.4 6.1-1.3 5.7-1.2 5.4-1.1 3.1-.7M70 194.3l4.1-1 9.6-2.4 9.6-2.3 9.6-2.3 9.5-2.2 9.5-2.2 9.3-2.1 9.3-2 9.1-2 9-1.9 8.8-1.9 8.6-1.8 8.5-1.7 8.2-1.6 2.3-.5M63.5 187.4l2.1-.5 9.6-2.2 9.7-2.1 9.6-2 9.5-2.1 9.6-1.9 9.4-1.9 3-.6"/>
<path stroke-width="0.6" d="M231.9 358.2l-.7-.5-8.6-5.7-8.5-5.8-3.6-2.4M242.7 353.7l-2-1.3-8.5-5.6-8.5-5.7-8.6-5.8-8.5-5.8-8.5-5.8-8.6-5.9-8.5-5.9-1.2-.8M253.2 349.3l-3.3-2.1-8.4-5.6-8.5-5.6-8.5-5.6-8.4-5.7-8.5-5.7-8.5-5.8-8.6-5.8-8.5-5.9-8.5-5.9-8.6-6-8.5-6-7.3-5.2M263.5 344.9l-4.5-2.9-8.4-5.4-8.4-5.5-8.5-5.6-8.4-5.6-8.5-5.6-8.4-5.7-8.5-5.7-8.5-5.8-8.5-5.8-8.5-5.9-8.5-5.9-8.5-5.9-8.5-6-8.5-6.1-8.6-6.1-8.5-6.1-4.9-3.5M273.6 340.6l-5.8-3.7-8.3-5.3-8.4-5.4-8.4-5.4-8.4-5.5-8.4-5.6-8.4-5.5-8.4-5.7-8.5-5.6-8.4-5.8-8.5-5.7-8.4-5.8-8.5-5.9-8.5-5.9-8.5-5.9-8.5-6-8.5-6.1-8.5-6.1-8.5-6.1-8.6-6.2-8.5-6.2-8.6-6.3-2.4-1.8M283.4 336.2l-6.9-4.3-8.3-5.2-8.4-5.3-8.3-5.3-8.4-5.4-8.3-5.5-8.4-5.4-8.4-5.6-8.4-5.5-8.4-5.6-8.4-5.7-8.4-5.7-8.4-5.8-8.5-5.8-8.4-5.8-8.5-5.9-8.4-6-8.5-5.9-8.5-6.1-8.5-6.1-8.5-6.1-8.5-6.1-8.5-6.3-8.5-6.2-8.6-6.3-8.5-6.4-8.6-6.5M293 331.9l-8-5-8.3-5.1-8.3-5.2-8.3-5.2-8.3-5.3-8.3-5.3-8.3-5.4-8.3-5.4-8.4-5.5-8.3-5.5-8.4-5.5-8.4-5.7-8.4-5.6-8.3-5.7-8.4-5.7-8.5-5.8-8.4-5.9-8.4-5.9-8.4-5.9-8.5-6-8.5-6-8.4-6-8.5-6.1-8.5-6.1-8.5-6.2-8.5-6.2-7.1-5.2M302.6 327.4l-.9-.5-8.2-5-8.2-5-8.3-5.1-8.2-5.1-8.3-5.2-8.3-5.2-8.2-5.3-8.3-5.3-8.3-5.3-8.3-5.4-8.3-5.5-8.4-5.5-8.3-5.5-8.4-5.6-8.3-5.7-8.4-5.7-8.3-5.7-8.4-5.8-8.4-5.8-8.4-5.8-8.4-5.9-8.5-6-8.4-5.9-8.4-6-8.5-6-8.4-6-5.8-4M312.1 323l-2-1.2-8.2-4.9-8.2-4.9-8.2-5-8.2-5-8.2-5.1-8.2-5.1-8.2-5.1-8.3-5.2-8.2-5.3-8.3-5.3-8.2-5.3-8.3-5.4-8.3-5.5-8.3-5.4-8.3-5.6-8.3-5.6-8.4-5.6-8.3-5.6-8.3-5.8-8.4-5.7-8.4-5.8-8.3-5.8-8.4-5.8-8.4-5.9-8.4-5.8-8.4-5.7-4.4-3M321.5 318.4l-3.1-1.8-8.1-4.7-8.2-4.9-8.1-4.8-8.1-4.9-8.2-5-8.2-5-8.2-5-8.2-5.1-8.2-5.1-8.2-5.2-8.2-5.3-8.2-5.2-8.3-5.4-8.2-5.3-8.3-5.5-8.2-5.4-8.3-5.5-8.3-5.6-8.3-5.6-8.3-5.6-8.3-5.7-8.4-5.7-8.3-5.7-8.3-5.6-8.4-5.7-8.4-5.6-3-1.9M330.8 313.8l-4.2-2.4-8.1-4.6-8-4.7-8.1-4.7-8.1-4.8-8.1-4.9-8.2-4.8-8.1-5-8.1-5-8.2-5-8.2-5.1-8.1-5.1-8.2-5.1-8.2-5.3-8.2-5.2-8.2-5.3-8.2-5.4-8.3-5.4-8.2-5.4-8.2-5.5-8.3-5.5-8.3-5.5-8.2-5.6-8.3-5.6-8.3-5.5-8.3-5.5-8.3-5.3-1.8-1.1M339.9 309.2l-5.2-2.9-8-4.6-8-4.5-8.1-4.7-8-4.6-8.1-4.8-8.1-4.7-8-4.8-8.1-4.9-8.1-4.9-8.2-5-8.1-5-8.1-5-8.1-5.1-8.2-5.2-8.2-5.2-8.1-5.2-8.2-5.3-8.2-5.3-8.2-5.4-8.2-5.3-8.2-5.5-8.2-5.4-8.3-5.4-8.2-5.4-8.3-5.3-8.2-5.1-.4-.2M348.9 304.5l-6.2-3.4-8-4.4-8-4.5-8-4.5-8-4.5-8-4.6-8-4.7-8-4.7-8.1-4.7-8-4.8-8.1-4.9-8-4.8-8.1-5-8.1-5-8.1-5-8.1-5-8.1-5.2-8.2-5.1-8.1-5.2-8.1-5.3-8.2-5.2-8.2-5.3-8.1-5.3-8.2-5.3-8.2-5.2-8.2-5.1-7.4-4.4M357.7 299.8l-7.2-3.9-7.9-4.3-7.9-4.3-8-4.4-7.9-4.4-8-4.5-8-4.5-7.9-4.6-8-4.6-8-4.7-8-4.7-8-4.8-8.1-4.8-8-4.8-8-4.9-8.1-5-8.1-5-8-5-8.1-5.1-8.1-5.1-8.1-5.2-8.1-5.1-8.2-5.2-8.1-5.1-8.1-5.1-8.2-4.9-6.1-3.5M366.2 295l-.2-.1-7.9-4.1-7.8-4.2-7.9-4.2-7.9-4.3-7.9-4.3-7.9-4.3-7.9-4.4-7.9-4.5-8-4.5-7.9-4.5-7.9-4.6-8-4.7-8-4.6-8-4.8-8-4.8-8-4.8-8-4.9-8-4.9-8-4.9-8.1-5-8-5-8.1-5.1-8-5-8.1-5-8.1-4.9-8.1-4.7-4.8-2.7M374.6 290.2l-1.2-.6-7.8-4-7.8-4-7.8-4.1-7.9-4.1-7.8-4.2-7.9-4.2-7.8-4.3-7.9-4.3-7.9-4.4-7.9-4.4-7.8-4.5-8-4.5-7.9-4.6-7.9-4.6-7.9-4.6-8-4.7-7.9-4.8-8-4.8-8-4.8-8-4.9-8-4.9-8-4.9-8-4.8-8-4.9-8-4.7-8.1-4.6-3.6-1.9M382.6 285.4l-2-1-7.8-3.9-7.7-3.9-7.8-3.9-7.8-4-7.7-4.1-7.8-4.1-7.8-4.1-7.9-4.2-7.8-4.3-7.8-4.3-7.8-4.3-7.9-4.4-7.9-4.4-7.8-4.5-7.9-4.6-7.9-4.5-7.9-4.7-7.9-4.6-7.9-4.7-8-4.7-7.9-4.8-8-4.8-7.9-4.7-8-4.7-8-4.6-8-4.4-2.4-1.3M390.4 280.6l-2.9-1.4-7.7-3.8-7.7-3.7-7.7-3.9-7.7-3.8-7.7-4-7.7-3.9-7.8-4-7.7-4.1-7.8-4.1-7.8-4.2-7.8-4.2-7.8-4.3-7.8-4.3-7.8-4.3-7.8-4.4-7.8-4.5-7.9-4.5-7.8-4.5-7.9-4.6-7.9-4.6-7.9-4.6-7.9-4.6-7.9-4.6-7.9-4.6-7.9-4.4-7.9-4.2-1.4-.7M398 275.7l-3.8-1.7-7.6-3.6-7.6-3.6-7.7-3.7-7.6-3.8-7.7-3.8-7.7-3.8-7.7-3.9-7.7-3.9-7.7-4-7.7-4-7.7-4.1-7.8-4.1-7.7-4.2-7.8-4.2-7.7-4.3-7.8-4.3-7.8-4.4-7.8-4.4-7.8-4.4-7.8-4.5-7.8-4.5-7.9-4.5-7.8-4.4-7.9-4.4-7.8-4.3-7.9-4-.3-.2M405.2 270.9l-4.5-2.1-7.6-3.4-7.6-3.5-7.6-3.6-7.6-3.6-7.6-3.6-7.6-3.7-7.6-3.8-7.7-3.8-7.6-3.8-7.7-3.9-7.6-4-7.7-4-7.7-4-7.7-4.1-7.7-4.1-7.7-4.2-7.8-4.2-7.7-4.3-7.7-4.3-7.8-4.3-7.8-4.4-7.8-4.4-7.7-4.3-7.8-4.2-7.8-4.2-7.1-3.5M412.1 266l-5.2-2.3-7.6-3.3-7.5-3.4-7.5-3.4-7.5-3.5-7.6-3.5-7.6-3.5-7.5-3.6-7.6-3.7-7.6-3.7-7.6-3.8-7.6-3.8-7.6-3.8-7.7-4-7.6-3.9-7.7-4-7.6-4-7.7-4.1-7.7-4.2-7.7-4.1-7.7-4.2-7.7-4.2-7.7-4.3-7.7-4.2-7.7-4.1-7.8-4-6.1-2.9M418.6 261.1l-5.9-2.4-7.4-3.2-7.5-3.3-7.5-3.2-7.4-3.4-7.5-3.3-7.5-3.5-7.5-3.4-7.6-3.6-7.5-3.5-7.5-3.7-7.6-3.6-7.5-3.7-7.6-3.8-7.6-3.8-7.6-3.9-7.6-3.9-7.6-3.9-7.6-4-7.6-4.1-7.7-4-7.6-4.1-7.7-4.1-7.7-4-7.6-4-7.7-3.9-5.1-2.4M424.8 256.2l-6.5-2.6-7.4-3-7.4-3.1-7.4-3.1-7.4-3.2-7.5-3.3-7.4-3.2-7.5-3.4-7.4-3.4-7.5-3.4-7.5-3.5-7.5-3.5-7.5-3.6-7.5-3.6-7.5-3.7-7.5-3.7-7.6-3.8-7.5-3.8-7.6-3.8-7.5-3.9-7.6-3.9-7.6-4-7.6-3.9-7.6-3.9-7.6-3.9-7.7-3.7-4.1-1.9M430.6 251.4l-7.1-2.8-7.3-2.8-7.3-3-7.4-3-7.3-3-7.4-3.1-7.4-3.1-7.4-3.2-7.4-3.3-7.4-3.3-7.4-3.3-7.4-3.4-7.5-3.4-7.4-3.5-7.5-3.5-7.5-3.6-7.4-3.7-7.5-3.6-7.5-3.7-7.5-3.8-7.5-3.8-7.6-3.8-7.5-3.8-7.6-3.8-7.5-3.7-7.6-3.5-3.3-1.5M436 246.5l-.3-.1-7.3-2.7-7.3-2.7-7.2-2.8-7.3-2.9-7.3-2.9-7.3-2.9-7.3-3-7.4-3-7.3-3.1-7.3-3.2-7.4-3.2-7.4-3.2-7.3-3.3-7.4-3.4-7.4-3.3-7.4-3.5-7.4-3.5-7.5-3.5-7.4-3.6-7.5-3.6-7.4-3.6-7.5-3.7-7.4-3.6-7.5-3.7-7.5-3.6-7.5-3.4-2.5-1.1M440.9 241.7l-.8-.3-7.1-2.6-7.3-2.5-7.2-2.7-7.2-2.7-7.2-2.7-7.3-2.8-7.2-2.9-7.3-2.9-7.3-2.9-7.2-3-7.3-3.1-7.3-3.1-7.3-3.1-7.4-3.2-7.3-3.3-7.3-3.2-7.4-3.4-7.4-3.4-7.3-3.4-7.4-3.5-7.4-3.5-7.4-3.5-7.4-3.5-7.5-3.5-7.4-3.5-7.4-3.3-1.7-.7M445.5 236.8l-1.3-.4-7.1-2.4-7.1-2.4-7.2-2.5-7.1-2.5-7.2-2.6-7.2-2.7-7.2-2.7-7.2-2.7-7.2-2.8-7.2-2.9-7.2-2.9-7.3-2.9-7.2-3-7.3-3.1-7.2-3.1-7.3-3.1-7.3-3.2-7.3-3.3-7.3-3.2-7.3-3.4-7.4-3.3-7.3-3.4-7.4-3.4-7.3-3.4-7.4-3.3-7.4-3.2-1-.4M449.6 232l-1.6-.5-7.1-2.2-7.1-2.3-7.1-2.3-7.1-2.4-7.1-2.5-7.1-2.5-7.1-2.5-7.1-2.6-7.2-2.6-7.1-2.7-7.2-2.8-7.2-2.8-7.2-2.9-7.2-2.9-7.2-2.9-7.2-3-7.2-3.1-7.2-3.1-7.3-3.1-7.2-3.2-7.3-3.2-7.3-3.2-7.3-3.3-7.3-3.2-7.3-3.2-7.3-3.1-.3-.2M453.3 227.2l-2-.6-7-2-7-2.1-7-2.2-7.1-2.2-7-2.3-7.1-2.3-7-2.4-7.1-2.5-7.1-2.5-7.1-2.5-7.1-2.6-7.1-2.7-7.1-2.7-7.1-2.7-7.2-2.9-7.1-2.8-7.2-2.9-7.1-3-7.2-3-7.2-3-7.2-3.1-7.2-3.1-7.2-3.1-7.3-3.1-7.2-3.1-7-2.9M456.6 222.5l-2.4-.7-6.9-1.8-7-2-6.9-2-7-2.1-7-2.1-6.9-2.2-7-2.2-7-2.3-7-2.3-7.1-2.4-7-2.5-7.1-2.5-7-2.5-7.1-2.6-7-2.7-7.1-2.7-7.1-2.8-7.1-2.8-7.1-2.8-7.2-2.9-7.1-2.9-7.2-3-7.1-3-7.2-3-7.2-2.9-6.4-2.6M459.3 217.7l-2.6-.6-6.8-1.7-6.9-1.8-6.9-1.8-6.9-1.9-6.9-2-6.9-2-7-2-6.9-2.2-6.9-2.2-7-2.2-7-2.3-7-2.4-6.9-2.4-7-2.4-7-2.5-7.1-2.6-7-2.6-7-2.7-7.1-2.7-7-2.7-7.1-2.8-7.1-2.9-7.1-2.8-7.1-2.9-7.1-2.8-5.9-2.3M461.6 213l-2.8-.6-6.8-1.5-6.8-1.6-6.8-1.6-6.9-1.7-6.8-1.8-6.8-1.9-6.9-1.9-6.9-2-6.9-2-6.9-2.1-6.9-2.1-6.9-2.2-6.9-2.3-6.9-2.3-7-2.4-6.9-2.4-7-2.5-7-2.5-6.9-2.5-7-2.6-7-2.7-7-2.7-7.1-2.7-7-2.7-7-2.8-5.4-2M463.4 208.4l-3-.6-6.7-1.3-6.7-1.4-6.8-1.4-6.7-1.6-6.8-1.6-6.8-1.6-6.8-1.8-6.8-1.8-6.8-1.9-6.8-1.9-6.9-2-6.8-2.1-6.9-2.1-6.8-2.1-6.9-2.3-6.9-2.2-6.9-2.4-6.9-2.3-6.9-2.5-6.9-2.4-7-2.6-6.9-2.5-7-2.6-6.9-2.6-7-2.6-5-1.9M464.7 203.8l-3-.5-6.7-1.1-6.7-1.1-6.7-1.3-6.7-1.3-6.7-1.5-6.7-1.5-6.7-1.5-6.7-1.7-6.8-1.7-6.7-1.8-6.8-1.8-6.8-1.9-6.8-2-6.8-2-6.8-2.1-6.8-2.2-6.8-2.1-6.9-2.3-6.8-2.3-6.9-2.3-6.8-2.4-6.9-2.4-6.9-2.5-6.9-2.5-6.9-2.5-4.6-1.7M465.5 199.2l-3.1-.4-6.6-.8-6.6-.9-6.6-1-6.6-1.2-6.7-1.2-6.6-1.3-6.7-1.4-6.6-1.5-6.7-1.5-6.7-1.7-6.7-1.7-6.7-1.7-6.7-1.9-6.8-1.8-6.7-2-6.8-2-6.7-2.1-6.8-2.1-6.8-2.1-6.8-2.3-6.8-2.2-6.8-2.3-6.8-2.4-6.8-2.4-6.9-2.4-4.2-1.5M465.8 194.6l-3.1-.1-6.5-.6-6.5-.6-6.6-.8-6.5-.9-6.6-1-6.6-1.1-6.6-1.2-6.6-1.3-6.6-1.4-6.6-1.5-6.6-1.6-6.7-1.6-6.6-1.7-6.7-1.7-6.7-1.9-6.6-1.8-6.7-2-6.7-2-6.8-2-6.7-2.2-6.7-2.1-6.8-2.2-6.7-2.3-6.8-2.2-6.7-2.4-4-1.3M426.7 187.3l-3-.4-6.6-1-6.5-1.2-6.5-1.2-6.6-1.3-6.5-1.4-6.6-1.5-6.6-1.6-6.6-1.6-6.6-1.8-6.6-1.7-6.6-1.9-6.7-1.9-6.6-2-6.7-2-6.6-2-6.7-2.1-6.7-2.2-6.7-2.2-6.7-2.2-3.8-1.3M383.4 177.7l-5.3-1.1-6.5-1.6-6.6-1.6-6.5-1.7-6.6-1.8-6.5-1.8-6.6-1.9-6.6-1.9-6.6-2-6.6-2.1-6.6-2.1-6.6-2.1-6.7-2.2-3.6-1.2M340 166.1l-1-.2-6.5-1.9-6.5-2-6.5-2-6.6-2.1-6.5-2.1-6.6-2.1-3.5-1.2"/>
<path stroke-width="0.6" d="M57 180.4l169.2 180.1 9.7-4 9.5-3.9 9.3-3.9 9.1-3.9 8.8-3.8 8.7-3.9 8.5-3.8 8.3-3.8 8.1-3.7 7.8-3.8 7.7-3.7 7.5-3.7 7.3-3.7 7.1-3.6 6.9-3.6 6.6-3.7 6.5-3.5 6.3-3.6 6.1-3.5 5.9-3.5 5.7-3.5 5.5-3.5 5.3-3.4 5-3.4 4.9-3.4 4.7-3.4 4.5-3.4 4.3-3.3 4.1-3.3 3.9-3.3 3.7-3.2 3.5-3.2 3.3-3.2 3-3.2 2.9-3.2 2.7-3.1 2.5-3.1 2.3-3.1 2.1-3.1 1.9-3 1.7-3.1 1.5-3 1.3-2.9 1.1-3 .9-2.9 .7-2.9 .5-2.9 .3-2.9 .1-2.8-6.8-1.1-6.7-1.1-6.8-1.2-6.8-1.2-6.8-1.3-6.7-1.3-6.8-1.4-6.8-1.4-6.7-1.4-6.8-1.6-6.8-1.5-6.7-1.7-6.8-1.6-6.8-1.8-6.8-1.7-6.7-1.8-6.8-1.9-6.8-1.9-6.7-2-6.8-2-6.8-2.1-6.7-2.1-6.8-2.2-6.8-2.2-6.8-2.2-.3 0-1.1 .2-1.7 .2-2.5 .4-3.1 .5-3.8 .5-4.5 .7-5.1 .8-5.8 .8-6.3 .9-7 1-7.6 1-8.1 1.1-8.7 1.2-9.2 1.2-9.6 1.3-10.1 1.2-10.6 1.3-10.9 1.3-11.3 1.3-11.6 1.4-11.9 1.3-12.2 1.2-12.4 1.3-12.6 1.3-12.7 1.2-12.9 1.1-12.9 1.2z"/>
</g>
<g fill="currentColor" stroke="currentColor" stroke-width=".5" stroke-linejoin="round">
<path color="#870000" d="M226.2 83.9l0 0 0 0 0 0zm12.2-1.4l0 0-12.2 1.4 0 0zm-12.2 1.4l12.2-1.4-13 7.2-12.2 1.6zm24.4-2.9l0 0-12.2 1.5 0 0zm-12.2 1.5l12.2-1.5-13 7.2-12.2 1.5zm24.4-2.9l0 0-12.2 1.4 0 0zm-12.2 1.4l12.2-1.4-13 7-12.2 1.6zm24.4-2.8l0 0-12.2 1.4 0 0zm-12.2 1.4l12.2-1.4-13 6.9-12.2 1.5zm24.4-2.8l0 0-12.2 1.4 0 0zm-12.2 1.4l12.2-1.4-13 6.7-12.2 1.6zm24.4-2.9l0 0-12.2 1.5 0 0zm-12.2 1.5l12.2-1.5-13 6.6-12.2 1.6zm24.4-2.9l0 0-12.2 1.4 0 0zm-12.2 1.4l12.2-1.4-13 6.4-12.2 1.6zm24.4-2.8l0 0-12.2 1.4 0 0zm-12.2 1.4l12.2-1.4-13 6.3-12.2 1.5zm24.4-2.8l0 0-12.2 1.4 0 0zm-12.2 1.4l12.2-1.4-13 6.1-12.2 1.6zm24.4-2.9l0 0-12.2 1.5 0 0zm-12.2 1.5l12.2-1.5-13 6-12.2 1.6zm24.4-2.9l0 0-12.2 1.4 0 0zm-12.2 1.4l12.2-1.4-13 5.8-12.2 1.6zm24.4-2.8l0 0-12.2 1.4 0 0zm-12.2 1.4l12.2-1.4-13 5.6-12.2 1.6zm24.4-2.8l0 0-12.2 1.4 0 0zm-12.2 1.4l12.2-1.4-13 5.4-12.2 1.6zm24.4-2.9l0 0-12.2 1.5 0 0zm-12.2 1.5l12.2-1.5-13 5.4-12.2 1.5zm24.4-2.9l0 0-12.2 1.4 0 0zm-12.2 1.4l12.2-1.4-13 5.2-12.2 1.6zm24.4-2.8l0 0-12.2 1.4 0 0zm-12.2 1.4l12.2-1.4-13 5-12.2 1.6zm24.4-2.8l0 0-12.2 1.4 0 0zm-12.2 1.4l12.2-1.4-13 4.8-12.2 1.6zm24.4-2.9l0 0-12.2 1.5 0 0zm-12.2 1.5l12.2-1.5-13 4.7-12.2 1.6zm24.4-2.9l0 0-12.2 1.4 0 0zm-12.2 1.4l12.2-1.4-13 4.4-12.2 1.7zm24.4-2.8l0 0-12.2 1.4 0 0zm-12.2 1.4l12.2-1.4-13 4.2-12.2 1.6z"/>
<path color="#a70000" d="M226.2 83.9l0 0-13 7.4 0 0zm-13 7.4l12.2-1.6-13 7.3-12.2 1.7zm12.2-1.6l12.2-1.5-13 7.1-12.2 1.7zm12.2-1.5l12.2-1.6-13 7-12.2 1.7zm12.2-1.6l12.2-1.5-13 6.8-12.2 1.7zm12.2-1.5l12.2-1.6-13 6.7-12.2 1.7zm12.2-1.6l12.2-1.6-13 6.6-12.2 1.7zm12.2-1.6l12.2-1.6-13 6.5-12.2 1.7zm12.2-1.6l12.2-1.5-13 6.2-12.2 1.8zm12.2-1.5l12.2-1.6-13 6.1-12.2 1.7zm12.2-1.6l12.2-1.6-13 6-12.2 1.7zm12.2-1.6l12.2-1.6-13 5.8-12.2 1.8zm12.2-1.6l12.2-1.6-13 5.7-12.2 1.7zm12.2-1.6l12.2-1.6-13 5.5-12.2 1.8zm12.2-1.6l12.2-1.5-13 5.3-12.2 1.7z"/>
<path color="#c70000" d="M213.2 91.3l0 0-13 7.4 0 0zm-13 7.4l12.2-1.7-13 7.3-12.2 1.9zm12.2-1.7l12.2-1.7-13 7.2-12.2 1.8zm12.2-1.7l12.2-1.7-13 7-12.2 1.9zm12.2-1.7l12.2-1.7-13 6.9-12.2 1.8zm12.2-1.7l12.2-1.7-13 6.7-12.2 1.9zm12.2-1.7l12.2-1.7-13 6.6-12.2 1.8zm12.2-1.7l12.2-1.7-13 6.4-12.2 1.9zm12.2-1.7l12.2-1.8-13 6.3-12.2 1.9zm12.2-1.8l12.2-1.7-13 6.1-12.2 1.9zm12.2-1.7l12.2-1.7-13 6-12.2 1.8zm12.2-1.7l12.2-1.8-13 5.9-12.2 1.9zm12.2-1.8l12.2-1.7-13 5.6-12.2 2zm12.2-1.7l12.2-1.8-13 5.5-12.2 1.9zm12.2-1.8l12.2-1.7-13 5.3-12.2 1.9z"/>
<path color="#f70000" d="M200.2 98.7l0 0-13 7.5 0 0zm-13 7.5l12.2-1.9-13 7.3-12.2 2zm12.2-1.9l12.2-1.8-13 7.1-12.2 2zm12.2-1.8l12.2-1.9-13 7.1-12.2 1.9zm12.2-1.9l12.2-1.8-13 6.9-12.2 2zm121.2-15.4l12.2-2.1-13 5.2-12.2 2.2zm12.2-2.1l12.2-2.1-13 5-12.2 2.3zm12.2-2.1l12.2-2.1-13 4.8-12.2 2.3zm12.2-2.1l12.2-2.2-13 4.6-12.2 2.4zm12.2-2.2l12.2-2.2-13 4.5-12.2 2.3zm12.2-2.2l12.2-2.2-13 4.3-12.2 2.4z"/>
<path color="#ff1800" d="M187.2 106.2l0 0-13 7.4 0 0zm-13 7.4l12.2-2-13 7.3-12.2 2.1zm12.2-2l12.2-2-13 7.2-12.2 2.1zm12.2-2l12.2-1.9-13 7-12.2 2.1zm12.2-1.9l12.2-2-13 6.8-12.2 2.2zm12.2-2l12.2-2-13 6.7-12.2 2.1zm12.2-2l12.2-2-13 6.5-12.2 2.2zm12.2-2l12.2-2.1-13 6.5-12.2 2.1zm84.6-11.2l12.2-2.2-13.1 5.1-12.2 2.5zm12.2-2.2l12.2-2.3-13.1 5-12.2 2.4zm12.2-2.3l12.2-2.3-13.1 4.8-12.2 2.5zm12.2-2.3l12.2-2.4-13.1 4.6-12.2 2.6zm12.2-2.4l12.2-2.3-13.1 4.4-12.2 2.5z"/>
<path color="#ff4800" d="M174.2 113.6l0 0-13 7.4 0 0zm-13 7.4l12.2-2.1-13.1 7.3-12.2 2.2zm12.2-2.1l12.2-2.1-13.1 7.2-12.2 2.2zm84.5-11.1l12.2-2.3-13 5.9-12.2 2.6zm12.2-2.3l12.2-2.4-13 5.8-12.2 2.5zm12.2-2.4l12.2-2.4-13 5.7-12.2 2.5zm12.2-2.4l12.2-2.4-13 5.5-12.2 2.6zm12.2-2.4l12.2-2.4-13 5.3-12.2 2.6zm35.8-5l12.2-2.7-13 4.6-12.2 2.9zm12.2-2.7l12.2-2.8-13 4.5-12.2 2.9zm12.2-2.8l12.2-2.7-13 4.2-12.2 3z"/>
<path color="#ff6800" d="M161.2 121l0 0-13.1 7.4 0 0zm-13.1 7.4l12.2-2.2-13 7.3-12.2 2.4zm12.2-2.2l12.2-2.2-13 7.1-12.2 2.4zm12.2-2.2l12.2-2.3-13 7-12.2 2.4zm12.2-2.3l12.2-2.3-13 6.9-12.2 2.4zm72.4-10.3l12.2-2.5-13 5.8-12.2 2.7zm12.2-2.5l12.2-2.5-13 5.6-12.2 2.7zm12.2-2.5l12.2-2.6-13 5.5-12.2 2.7zm12.2-2.6l12.2-2.6-13 5.3-12.2 2.8zm35.8-5.7l12.2-2.9-13 4.6-12.2 3.1zm12.2-2.9l12.2-2.9-13 4.4-12.2 3.1zm12.2-2.9l12.2-3-13 4.3-12.2 3.1z"/>
<path color="#ff9700" d="M148.1 128.4l0 0-13 7.5 0 0zm-13 7.5l12.2-2.4-13 7.3-12.2 2.5zm12.2-2.4l12.2-2.4-13 7.2-12.2 2.5zm60.2-8.1l12.2-2.7-13 6.3-12.2 2.8zm12.2-2.7l12.2-2.6-13 6.1-12.2 2.8zm12.2-2.6l12.2-2.7-13 6-12.2 2.8zm12.2-2.7l12.2-2.7-13 5.8-12.2 2.9zm35.8-5.6l12.2-2.9-13 5.1-12.2 3.2zm12.2-2.9l12.2-3-13 5-12.2 3.1zm12.2-3l12.2-3-13 4.8-12.2 3.2zm23.6-4.8l12.2-3.3-13.1 4.2-12.2 3.6z"/>
<path color="#ffb700" d="M135.1 135.9l0 0-13 7.4 0 0zm-13 7.4l12.2-2.5-13 7.3-12.2 2.6zm12.2-2.5l12.2-2.5-13 7.1-12.2 2.7zm12.2-2.5l12.2-2.6-13 7-12.2 2.7zm60.2-9.3l12.2-2.8-13 6.1-12.2 3zm12.2-2.8l12.2-2.8-13 6-12.2 2.9zm12.2-2.8l12.2-2.9-13 5.9-12.2 3zm35.8-6.2l12.2-3.2-13.1 5.2-12.2 3.3zm12.2-3.2l12.2-3.1-13.1 4.9-12.2 3.4zm23.5-5l12.2-3.4-13 4.4-12.2 3.7zm12.2-3.4l12.2-3.6-13 4.3-12.2 3.7z"/>
<path color="#ffe700" d="M122.1 143.3l0 0-13 7.4 0 0zm-13 7.4l12.2-2.6-13 7.3-12.2 2.8zm48-6.7l12.2-2.9-13.1 6.6-12.2 3.1zm12.2-2.9l12.2-2.9-13.1 6.5-12.2 3zm12.2-2.9l12.2-2.9-13.1 6.3-12.2 3.1zm35.7-6l12.2-3.2-13 5.6-12.2 3.4zm12.2-3.2l12.2-3.3-13 5.5-12.2 3.4zm12.2-3.3l12.2-3.2-13 5.3-12.2 3.4zm23.6-4.9l12.2-3.5-13 4.8-12.2 3.7zm12.2-3.5l12.2-3.6-13 4.6-12.2 3.8zm11.4-2.9l12.2-3.9 0 0-12.2 3.9z"/>
<path color="#f7ff08" d="M109.1 150.7l0 0-13 7.5 0 0zm-13 7.5l12.2-2.8-13.1 7.3-12.2 2.9zm12.2-2.8l12.2-2.8-13.1 7.1-12.2 3zm47.9-7.7l12.2-3-13 6.4-12.2 3.2zm12.2-3l12.2-3.1-13 6.3-12.2 3.2zm12.2-3.1l12.2-3.1-13 6.1-12.2 3.3zm35.8-7l12.2-3.4-13 5.5-12.2 3.6zm12.2-3.4l12.2-3.4-13 5.3-12.2 3.6zm23.6-5.4l12.2-3.7 0 0-12.2 3.7zm12.2-3.7l12.2-3.8 0 0-12.2 3.8z"/>
<path color="#c7ff38" d="M96.1 158.2l0 0-13.1 7.4 0 0zm-13.1 7.4l12.2-2.9-13 7.3-12.2 3zm35.8-5l12.2-3.1-13 6.7-12.2 3.3zm12.2-3.1l12.2-3.2-13 6.6-12.2 3.3zm12.2-3.2l12.2-3.2-13 6.4-12.2 3.4zm35.8-7l12.2-3.5 0 0-12.2 3.5zm12.2-3.5l12.2-3.5 0 0-12.2 3.5z"/>
<path color="#a7ff58" d="M83 165.6l0 0-13 7.4 0 0zm-13 7.4l12.2-3-13 7.2-12.2 3.2zm12.2-3l12.2-3.1-13 7.1-12.2 3.2zm35.8-5.8l12.2-3.3 0 0-12.2 3.3zm12.2-3.3l12.2-3.4 0 0-12.2 3.4zm12.2-3.4l12.2-3.3 0 0-12.2 3.3z"/>
<path color="#87ff78" d="M70 173l0 0-13 7.4 0 0zm-13 7.4l0 0 0 0 0 0zm0 0l12.2-3.2 0 0-12.2 3.2zm12.2-3.2l12.2-3.2 0 0-12.2 3.2zm12.2-3.2l12.2-3.2 0 0-12.2 3.2z"/>
<path color="#ffd700" d="M121.3 148.1l12.2-2.7-13 7.2-12.2 2.8zm12.2-2.7l12.2-2.7-13 7-12.2 2.9zm12.2-2.7l12.2-2.7-13 6.9-12.2 2.8zm48-7.4l12.2-3-13.1 6.2-12.2 3.1zm12.2-3l12.2-2.9-13.1 5.9-12.2 3.2zm12.2-2.9l12.2-3-13.1 5.8-12.2 3.1zm35.7-6.9l12.2-3.3-13 5.1-12.2 3.5zm12.2-3.3l12.2-3.4-13 5-12.2 3.5zm23.6-5.5l12.2-3.7-13 4.4-12.2 3.9zm12.2-3.7l12.2-3.7-13 4.2-12.2 3.9z"/>
<path color="#d7ff28" d="M95.2 162.7l12.2-3-13 7.2-12.2 3.1zm12.2-3l12.2-2.9-13 7-12.2 3.1zm12.2-2.9l12.2-3-13 6.8-12.2 3.2zm35.8-5.7l12.2-3.2-13 6.3-12.2 3.3zm12.2-3.2l12.2-3.3-13 6.1-12.2 3.5zm35.8-7.6l12.2-3.6 0 0-12.2 3.6zm12.2-3.6l12.2-3.6 0 0-12.2 3.6z"/>
<path color="#ff3800" d="M185.6 116.8l12.2-2.1-13.1 7-12.2 2.3zm12.2-2.1l12.2-2.2-13.1 6.9-12.2 2.3zm12.2-2.2l12.2-2.1-13.1 6.7-12.2 2.3zm12.2-2.1l12.2-2.2-13.1 6.6-12.2 2.3zm12.2-2.2l12.2-2.1-13.1 6.4-12.2 2.3zm12.2-2.1l12.2-2.2-13.1 6.3-12.2 2.3zm72.3-10.2l12.2-2.5-13 5.2-12.2 2.6zm12.2-2.5l12.2-2.4-13 4.9-12.2 2.7zm12.2-2.4l12.2-2.5-13 4.8-12.2 2.6zm12.2-2.5l12.2-2.6-13 4.7-12.2 2.7z"/>
<path color="#ff8700" d="M159.5 131.1l12.2-2.4-13 7-12.2 2.6zm12.2-2.4l12.2-2.4-13 6.9-12.2 2.5zm12.2-2.4l12.2-2.5-13 6.8-12.2 2.6zm12.2-2.5l12.2-2.4-13 6.6-12.2 2.6zm60.2-9.1l12.2-2.7-13 5.7-12.2 2.8zm12.2-2.7l12.2-2.7-13 5.5-12.2 2.9zm12.2-2.7l12.2-2.8-13 5.3-12.2 3zm35.8-6.4l12.2-3.1-13 4.6-12.2 3.3zm12.2-3.1l12.2-3.1-13 4.4-12.2 3.3z"/>
<path color="#fff700" d="M120.5 152.6l12.2-2.9-13.1 7.1-12.2 2.9zm12.2-2.9l12.2-2.8-13.1 6.9-12.2 3zm12.2-2.8l12.2-2.9-13.1 6.8-12.2 3zm47.9-8.4l12.2-3.2-13 6-12.2 3.3zm12.2-3.2l12.2-3.1-13 5.8-12.2 3.3zm35.8-7.5l12.2-3.5-13 5.2-12.2 3.6zm12.2-3.5l12.2-3.5-13 5-12.2 3.7zm23.6-6l12.2-3.9 0 0-12.2 3.9z"/>
<path color="#b7ff48" d="M94.4 166.9l12.2-3.1-13 7-12.2 3.2zm12.2-3.1l12.2-3.2-13 6.9-12.2 3.3zm48-9.6l12.2-3.5 0 0-12.2 3.5zm12.2-3.5l12.2-3.4 0 0-12.2 3.4z"/>
<path color="#ffa700" d="M158.7 135.7l12.2-2.5-13 6.8-12.2 2.7zm12.2-2.5l12.2-2.6-13 6.7-12.2 2.7zm12.2-2.6l12.2-2.6-13 6.6-12.2 2.7zm12.2-2.6l12.2-2.6-13 6.4-12.2 2.8zm48-7.5l12.2-2.8-13 5.6-12.2 3.1zm12.2-2.8l12.2-2.9-13 5.5-12.2 3zm12.2-2.9l12.2-3-13 5.4-12.2 3.1zm23.6-3.9l12.2-3.2-13.1 4.8-12.2 3.3zm12.2-3.2l12.2-3.3-13.1 4.6-12.2 3.5zm12.2-3.3l12.2-3.3-13.1 4.5-12.2 3.4z"/>
<path color="#97ff68" d="M93.6 170.8l12.2-3.3 0 0-12.2 3.3zm12.2-3.3l12.2-3.3 0 0-12.2 3.3z"/>
<path color="#e70000" d="M236 98.8l12.2-1.9-13 6.8-12.2 2zm12.2-1.9l12.2-1.8-13 6.6-12.2 2zm12.2-1.8l12.2-1.9-13 6.4-12.2 2.1zm12.2-1.9l12.2-1.9-13 6.3-12.2 2zm12.2-1.9l12.2-1.9-13 6.2-12.2 2zm12.2-1.9l12.2-1.8-13 5.9-12.2 2.1zm12.2-1.8l12.2-1.9-13 5.8-12.2 2zm12.2-1.9l12.2-2-13 5.7-12.2 2.1zm12.2-2l12.2-1.9-13 5.5-12.2 2.1zm12.2-1.9l12.2-1.9-13 5.3-12.2 2.1z"/>
<path color="#ff5800" d="M196.9 119.4l12.2-2.3-13 6.7-12.2 2.5zm12.2-2.3l12.2-2.3-13 6.6-12.2 2.4zm12.2-2.3l12.2-2.3-13 6.4-12.2 2.5zm12.2-2.3l12.2-2.3-13 6.3-12.2 2.4zm12.2-2.3l12.2-2.4-13 6.2-12.2 2.5zm60.2-9l12.2-2.6-13 5.1-12.2 2.8zm12.2-2.6l12.2-2.7-13 5-12.2 2.8zm12.2-2.7l12.2-2.6-13 4.8-12.2 2.8z"/>
<path color="#ffc700" d="M157.9 140l12.2-2.7-13 6.7-12.2 2.9zm12.2-2.7l12.2-2.7-13 6.5-12.2 2.9zm12.2-2.7l12.2-2.8-13 6.4-12.2 2.9zm12.2-2.8l12.2-2.8-13 6.3-12.2 2.9zm35.8-5.4l12.2-3.1-13.1 5.7-12.2 3.2zm12.2-3.1l12.2-3-13.1 5.4-12.2 3.3zm12.2-3l12.2-3.1-13.1 5.3-12.2 3.2zm23.5-4.5l12.2-3.3-13 4.8-12.2 3.5zm12.2-3.3l12.2-3.5-13 4.7-12.2 3.6z"/>
<path color="#e7ff18" d="M131.8 153.8l12.2-3-13 6.7-12.2 3.1zm12.2-3l12.2-3.1-13 6.6-12.2 3.2zm35.8-6.2l12.2-3.3-13 6-12.2 3.4zm12.2-3.3l12.2-3.3-13 5.8-12.2 3.5zm12.2-3.3l12.2-3.4-13 5.7-12.2 3.5zm23.6-4.9l12.2-3.6 0 0-12.2 3.6zm12.2-3.6l12.2-3.7 0 0-12.2 3.7z"/>
<path color="#ff7800" d="M208.3 121.4l12.2-2.5-13 6.5-12.2 2.6zm12.2-2.5l12.2-2.4-13 6.2-12.2 2.7zm12.2-2.4l12.2-2.5-13 6.1-12.2 2.6zm12.2-2.5l12.2-2.6-13 6-12.2 2.7zm48-7.5l12.2-2.8-13 5.2-12.2 2.9zm12.2-2.8l12.2-2.8-13 5-12.2 3zm12.2-2.8l12.2-2.8-13 4.8-12.2 3zm23.6-4.2l12.2-3.1-13 4.2-12.2 3.3z"/>
<path color="#ff0800" d="M259.6 99.6l12.2-2-13 6.3-12.2 2.2zm12.2-2l12.2-2-13 6.1-12.2 2.2zm12.2-2l12.2-2.1-13 6-12.2 2.2zm12.2-2.1l12.2-2-13 5.8-12.2 2.2zm12.2-2l12.2-2.1-13 5.7-12.2 2.2zm12.2-2.1l12.2-2.1-13 5.5-12.2 2.3zm12.2-2.1l12.2-2.1-13 5.3-12.2 2.3zm60.2-8.3l12.2-2.4-13.1 4.2-12.2 2.6z"/>
<path color="#ff2800" d="M258.8 103.9l12.2-2.2-13.1 6.1-12.2 2.4zm12.2-2.2l12.2-2.2-13.1 6-12.2 2.3zm12.2-2.2l12.2-2.2-13.1 5.8-12.2 2.4zm12.2-2.2l12.2-2.2-13.1 5.6-12.2 2.4zm12.2-2.2l12.2-2.3-13.1 5.5-12.2 2.4zm12.2-2.3l12.2-2.3-13.1 5.4-12.2 2.4zm47.9-6.9l12.2-2.5-13 4.4-12.2 2.8zm12.2-2.5l12.2-2.6-13 4.3-12.2 2.7z"/>
<path color="#970000" d="M384 69.3l12.2-1.6-13 5.1-12.2 1.8zm12.2-1.6l12.2-1.6-13 4.9-12.2 1.8zm12.2-1.6l12.2-1.6-13 4.8-12.2 1.7zm12.2-1.6l12.2-1.6-13 4.6-12.2 1.8zm12.2-1.6l12.2-1.7-13 4.5-12.2 1.8zm12.2-1.7l12.2-1.6-13 4.3-12.2 1.8z"/>
<path color="#b70000" d="M371 74.6l12.2-1.8-13 5.2-12.2 1.9zm12.2-1.8l12.2-1.8-13 5-12.2 2zm12.2-1.8l12.2-1.7-13 4.8-12.2 1.9zm12.2-1.7l12.2-1.8-13 4.6-12.2 2zm12.2-1.8l12.2-1.8-13 4.4-12.2 2zm12.2-1.8l12.2-1.8-13 4.2-12.2 2z"/>
<path color="#d70000" d="M358 79.9l12.2-1.9-13 5.1-12.2 2.1zm12.2-1.9l12.2-2-13 5-12.2 2.1zm12.2-2l12.2-1.9-13 4.8-12.2 2.1zm12.2-1.9l12.2-2-13 4.6-12.2 2.2zm12.2-2l12.2-2-13 4.4-12.2 2.2zm12.2-2l12.2-2-13 4.2-12.2 2.2z"/>
</g>
<g fill="none" stroke="#000" stroke-linejoin="round">
<path stroke-width="0.5" d="M226.2 83.9l12.2-1.4 12.2-1.5 12.2-1.4 12.2-1.4 12.2-1.4 12.2-1.5 12.2-1.4 12.2-1.4 12.2-1.4 12.2-1.5 12.2-1.4 12.2-1.4 12.2-1.4 12.2-1.5 12.2-1.4 12.2-1.4 12.2-1.4 12.2-1.5 12.2-1.4 12.2-1.4M213.2 91.3l12.2-1.6 12.2-1.5 12.2-1.6 12.2-1.5 12.2-1.6 12.2-1.6 12.2-1.6 12.2-1.5 12.2-1.6 12.2-1.6 12.2-1.6 12.2-1.6 12.2-1.6 12.2-1.5 12.2-1.6 12.2-1.6 12.2-1.6 12.2-1.6 12.2-1.7 12.2-1.6M200.2 98.7l12.2-1.7 12.2-1.7 12.2-1.7 12.2-1.7 12.2-1.7 12.2-1.7 12.2-1.7 12.2-1.8 12.2-1.7 12.2-1.7 12.2-1.8 12.2-1.7 12.2-1.8 12.2-1.7 12.2-1.8 12.2-1.8 12.2-1.7 12.2-1.8 12.2-1.8 12.2-1.8M187.2 106.2l12.2-1.9 12.2-1.8 12.2-1.9 12.2-1.8 12.2-1.9 12.2-1.8 12.2-1.9 12.2-1.9 12.2-1.9 12.2-1.8 12.2-1.9 12.2-2 12.2-1.9 12.2-1.9 12.2-1.9 12.2-2 12.2-1.9 12.2-2 12.2-2 12.2-2M174.2 113.6l12.2-2 12.2-2 12.2-1.9 12.2-2 12.2-2 12.2-2 12.2-2.1 12.2-2 12.2-2 12.2-2.1 12.2-2 12.2-2.1 12.2-2.1 12.2-2.1 12.2-2.1 12.2-2.1 12.2-2.1 12.2-2.2 12.2-2.2 12.2-2.2M161.2 121l12.2-2.1 12.2-2.1 12.2-2.1 12.2-2.2 12.2-2.1 12.2-2.2 12.2-2.1 12.2-2.2 12.2-2.2 12.2-2.2 12.2-2.2 12.2-2.2 12.2-2.3 12.2-2.3 12.2-2.2 12.2-2.3 12.2-2.3 12.2-2.4 12.2-2.3 12.2-2.4M148.1 128.4l12.2-2.2 12.2-2.2 12.2-2.3 12.2-2.3 12.2-2.3 12.2-2.3 12.2-2.3 12.2-2.3 12.2-2.4 12.2-2.3 12.2-2.4 12.2-2.4 12.2-2.4 12.2-2.4 12.2-2.5 12.2-2.4 12.2-2.5 12.2-2.6 12.2-2.5 12.2-2.6M135.1 135.9l12.2-2.4 12.2-2.4 12.2-2.4 12.2-2.4 12.2-2.5 12.2-2.4 12.2-2.5 12.2-2.4 12.2-2.5 12.2-2.6 12.2-2.5 12.2-2.5 12.2-2.6 12.2-2.6 12.2-2.6 12.2-2.7 12.2-2.6 12.2-2.7 12.2-2.8 12.2-2.7M122.1 143.3l12.2-2.5 12.2-2.5 12.2-2.6 12.2-2.5 12.2-2.6 12.2-2.6 12.2-2.6 12.2-2.7 12.2-2.6 12.2-2.7 12.2-2.7 12.2-2.7 12.2-2.7 12.2-2.8 12.2-2.8 12.2-2.8 12.2-2.8 12.2-2.9 12.2-2.9 12.2-3M109.1 150.7l12.2-2.6 12.2-2.7 12.2-2.7 12.2-2.7 12.2-2.7 12.2-2.7 12.2-2.8 12.2-2.8 12.2-2.8 12.2-2.8 12.2-2.9 12.2-2.8 12.2-2.9 12.2-3 12.2-2.9 12.2-3 12.2-3 12.2-3.1 12.2-3.1 12.2-3.1M96.1 158.2l12.2-2.8 12.2-2.8 12.2-2.9 12.2-2.8 12.2-2.9 12.2-2.9 12.2-2.9 12.2-2.9 12.2-3 12.2-2.9 12.2-3 12.2-3.1 12.2-3 12.2-3.1 12.2-3.2 12.2-3.1 12.2-3.2 12.2-3.3 12.2-3.3 12.2-3.3M83 165.6l12.2-2.9 12.2-3 12.2-2.9 12.2-3 12.2-3 12.2-3.1 12.2-3 12.2-3.1 12.2-3.1 12.2-3.2 12.2-3.1 12.2-3.2 12.2-3.3 12.2-3.2 12.2-3.3 12.2-3.4 12.2-3.3 12.2-3.5 12.2-3.4 12.2-3.6M70 173l12.2-3 12.2-3.1 12.2-3.1 12.2-3.2 12.2-3.1 12.2-3.2 12.2-3.2 12.2-3.2 12.2-3.3 12.2-3.3 12.2-3.3 12.2-3.4 12.2-3.4 12.2-3.4 12.2-3.5 12.2-3.5 12.2-3.5 12.2-3.6 12.2-3.7 12.2-3.7M57 180.4l12.2-3.2 12.2-3.2 12.2-3.2 12.2-3.3 12.2-3.3 12.2-3.3 12.2-3.4 12.2-3.3 12.2-3.5 12.2-3.4 12.2-3.5 12.2-3.5 12.2-3.6 12.2-3.6 12.2-3.6 12.2-3.7 12.2-3.7 12.2-3.8 12.2-3.9 12.2-3.9"/>
<path stroke-width="0.65" d="M226.2 83.9l-13 7.4-13 7.4-13 7.5-13 7.4-13 7.4-13.1 7.4-13 7.5-13 7.4-13 7.4-13 7.5-13.1 7.4-13 7.4-13 7.4M238.4 82.5l-13 7.2-13 7.3-13 7.3-13 7.3-13 7.3-13.1 7.3-13 7.3-13 7.3-13 7.3-13 7.3-13.1 7.3-13 7.3-13 7.2M250.6 81l-13 7.2-13 7.1-13 7.2-13 7.1-13 7.2-13.1 7.2-13 7.1-13 7.2-13 7.1-13 7.2-13.1 7.1-13 7.2-13 7.1M262.8 79.6l-13 7-13 7-13 7-13 7.1-13 7-13.1 7-13 7-13 7-13 7-13 7-13.1 7.1-13 7-13 7M275 78.2l-13 6.9-13 6.8-13 6.9-13 6.9-13 6.8-13.1 6.9-13 6.9-13 6.9-13 6.8-13 6.9-13.1 6.9-13 6.8-13 6.9M287.2 76.8l-13 6.7-13 6.7-13 6.7-13 6.8-13 6.7-13.1 6.7-13 6.7-13 6.8-13 6.7-13 6.7-13.1 6.8-13 6.7-13 6.7M299.4 75.3l-13 6.6-13 6.6-13 6.6-13 6.6-13 6.5-13.1 6.6-13 6.6-13 6.6-13 6.6-13 6.5-13.1 6.6-13 6.6-13 6.6M311.6 73.9l-13 6.4-13 6.5-13 6.4-13 6.4-13 6.5-13.1 6.4-13 6.4-13 6.5-13 6.4-13 6.4-13.1 6.5-13 6.4-13 6.4M323.8 72.5l-13 6.3-13 6.2-13 6.3-13 6.3-13 6.3-13.1 6.3-13 6.3-13 6.2-13 6.3-13 6.3-13.1 6.3-13 6.3-13 6.3M336 71.1l-13 6.1-13 6.1-13 6.1-13 6.2-13 6.1-13.1 6.1-13 6.2-13 6.1-13 6.1-13 6.1-13.1 6.2-13 6.1-13 6.1M348.2 69.6l-13 6-13 6-13 6-13 5.9-13 6-13.1 6-13 5.9-13 6-13 6-13 6-13.1 5.9-13 6-13 6M360.4 68.2l-13 5.8-13 5.8-13 5.9-13 5.8-13 5.8-13.1 5.8-13 5.8-13 5.8-13 5.8-13 5.9-13.1 5.8-13 5.8-13 5.8M372.6 66.8l-13 5.6-13 5.7-13 5.6-13 5.7-13 5.7-13.1 5.6-13 5.7-13 5.6-13 5.7-13 5.6-13.1 5.7-13 5.6-13 5.7M384.8 65.4l-13 5.4-13 5.5-13 5.5-13 5.5-13 5.5-13.1 5.5-13 5.5-13 5.5-13 5.5-13 5.5-13.1 5.4-13 5.5-13 5.5M397 63.9l-13 5.4-13 5.3-13 5.3-13 5.3-13 5.3-13.1 5.4-13 5.3-13 5.3-13 5.3-13 5.4-13.1 5.3-13 5.3-13 5.3M409.2 62.5l-13 5.2-13 5.1-13 5.2-13 5.1-13 5.2-13.1 5.1-13 5.2-13 5.1-13 5.2-13 5.1-13.1 5.2-13 5.1-13 5.2M421.4 61.1l-13 5-13 4.9-13 5-13 5-13 5-13.1 5-13 4.9-13 5-13 5-13 5-13.1 4.9-13 5-13 5M433.6 59.7l-13 4.8-13 4.8-13 4.8-13 4.8-13 4.8-13.1 4.8-13 4.8-13 4.8-13 4.8-13 4.8-13.1 4.8-13 4.8-13 4.8M445.8 58.2l-13 4.7-13 4.6-13 4.6-13 4.6-13 4.6-13.1 4.6-13 4.7-13 4.6-13 4.6-13 4.6-13.1 4.6-13 4.7-13 4.6M458 56.8l-13 4.4-13 4.5-13 4.4-13 4.4-13 4.5-13.1 4.4-13 4.4-13 4.5-13 4.4-13 4.4-13.1 4.5-13 4.4-13 4.4M470.2 55.4l-13 4.2-13 4.3-13 4.2-13 4.2-13 4.3-13.1 4.2-13 4.3-13 4.2-13 4.3-13 4.2-13.1 4.2-13 4.3-13 4.2"/>
<path stroke-width="0.65" d="M57 180.4l169.2-96.5 48.8-5.7 48.8-5.7 48.8-5.7 48.8-5.7 48.8-5.7-169.2 55.1-22.2 7.1-22.2 6.8-22.1 6.7-22.2 6.6-22.2 6.4-22.2 6.3-22.2 6.2-22.2 6.1-22.1 6-22.2 5.9z"/>
</g>
<!-- plot b -->
<path fill="none" stroke="#3c3c3c" stroke-width=".5" stroke-dasharray="7 5.7" d="M588 322L784.5 279.1M784.5 279.1L1002 317.6M588 283.3L784.5 240.4M784.5 240.4L1002 278.9M588 244.6L784.5 201.7M784.5 201.7L1002 240.2M588 205.9L784.5 163M784.5 163L1002 201.5M588 167.2L784.5 124.3M784.5 124.3L1002 162.8M588 128.5L784.5 85.6M784.5 85.6L1002 124.1M588 89.8L784.5 46.9M784.5 46.9L1002 85.4M588 51.1L784.5 8.2M784.5 8.2L1002 46.7M958.5 309.9L762 352.8M915 302.2L718.5 345.1M871.5 294.5L675 337.4M828 286.8L631.5 329.7M735.4 289.8L952.9 328.3M686.2 300.6L903.8 339.1M637.1 311.3L854.6 349.8"/>
<path fill="none" stroke="#8a8a8a" stroke-width="1" stroke-dasharray="8 5.5" d="M784.5 8.2V279.1M735.5 18.9V289.8M686.5 29.6V300.6M637.5 40.4V311.3M1002.5 46.7V317.6M958.5 39V309.9M915.5 31.3V302.2M871.5 23.6V294.5M828.5 15.9V286.8"/>
<path fill="none" stroke="#808080" stroke-width="1" d="M588.5 322V51.1"/>
<path fill="none" stroke="#555" stroke-width=".6" d="M588 322L805.5 360.5M805.5 360.5L1002 317.6M588 322L582.1 321M588 283.3L582.1 282.3M588 244.6L582.1 243.6M588 205.9L582.1 204.9M588 167.2L582.1 166.2M588 128.5L582.1 127.5M588 89.8L582.1 88.8M588 51.1L582.1 50.1M805.5 360.5L800.6 361.6M762 352.8L757.1 353.9M718.5 345.1L713.6 346.2M675 337.4L670.1 338.5M631.5 329.7L626.6 330.8M588 322L583.1 323.1M1002 317.6L1006.9 318.5M952.9 328.3L957.8 329.2M903.8 339.1L908.7 339.9M854.6 349.8L859.5 350.6M805.5 360.5L810.4 361.4"/>
<g fill="currentColor" stroke="currentColor" stroke-width=".5" stroke-linejoin="round">
<path color="#000087" d="M1002 295.5l-4.2-.7-4.2-.8-4.2-.7-4.1-.7-3.2 .6-3.3 .6 4.1 .8 4.1 .7 4.2 .8 4.2 .8 3.3-.7zm-6.6 1.4l-4.2-.8-4.2-.8-4.1-.7-4.1-.8-3.3 .6-3.3 .6 4.1 .8 4.2 .9 4.2 .8 4.2 .9 3.3-.7zm-6.5 1.5l-4.2-.9-4.2-.8-4.2-.9-4.1-.8-3.2 .6-3.3 .6 4.1 .9 4.1 .9 4.2 .9 4.3 .9 3.2-.7zm-6.5 1.4l-4.3-.9-4.2-.9-4.1-.9-4.1-.9-3.3 .7-3.3 .6 4.1 .9 4.2 .9 4.2 1 4.2 .9 3.3-.7zm-6.6 1.4l-4.2-.9-4.2-1-4.2-.9-4.1-.9-3.2 .6-3.3 .6 4.1 1 4.1 1 4.2 1 4.2 1 3.3-.8zm-6.6 1.5l-4.2-1-4.2-1-4.1-1-4.1-1-3.3 .6-3.3 .6 4.1 1.1 4.2 1 4.2 1 4.2 1.1 3.3-.7zm-6.5 1.4l-4.2-1.1-4.2-1-4.2-1-4.1-1.1-3.2 .6-3.3 .7 4.1 1 4.1 1.1 4.2 1.1 4.3 1.1 3.2-.7zm-6.5 1.4l-4.3-1.1-4.2-1.1-4.1-1.1-4.1-1-3.3 .6-3.3 .6 4.1 1.1 4.2 1.1 4.2 1.2 4.2 1.2 3.3-.8zm-6.6 1.5l-4.2-1.2-4.2-1.2-4.2-1.1-4.1-1.1-3.2 .6-3.3 .6 4.1 1.2 4.1 1.2 4.2 1.2 4.2 1.2 3.3-.7zm-6.6 1.4l-4.2-1.2-4.2-1.2-4.1-1.2-4.1-1.2-3.3 .6-3.3 .6 4.1 1.3 4.2 1.2 4.2 1.3 4.2 1.2 3.3-.7zm-6.5 1.4l-4.2-1.2-4.2-1.3-4.2-1.2-4.1-1.3-3.2 .6-3.3 .7 4.1 1.2 4.1 1.3 4.2 1.3 4.3 1.3 3.2-.7zm-6.5 1.4l-4.3-1.3-4.2-1.3-4.1-1.3-4.1-1.2-3.3 .6-3.3 .6 4.1 1.3 4.2 1.4 4.2 1.3 4.2 1.4 3.3-.7zm-6.6 1.5l-4.2-1.4-4.2-1.3-4.2-1.4-4.1-1.3-3.2 .6-3.3 .6 4.1 1.4 4.1 1.4 4.2 1.4 4.2 1.4 3.3-.7zm-6.6 1.4l-4.2-1.4-4.2-1.4-4.1-1.4-4.1-1.4-3.3 .6-3.3 .6 4.1 1.5 4.2 1.4 4.2 1.5 4.2 1.4 3.3-.7zm-6.5 1.4l-4.2-1.4-4.2-1.5-4.2-1.4-4.1-1.5-3.2 .7-3.3 .6 4.1 1.5 4.1 1.4 4.2 1.5 4.3 1.6 3.2-.8zm-6.5 1.5l-4.3-1.6-4.2-1.5-4.1-1.4-4.1-1.5-3.3 .6-3.3 .6 4.1 1.5 4.2 1.6 4.2 1.5 4.2 1.6 3.3-.7zm-6.6 1.4l-4.2-1.6-4.2-1.5-4.2-1.6-4.1-1.5-3.2 .6-3.3 .6 4.1 1.6 4.1 1.6 4.2 1.6 4.2 1.6 3.3-.7zm-6.6 1.4l-4.2-1.6-4.2-1.6-4.1-1.6-4.1-1.6-3.3 .6-3.3 .7 4.1 1.6 4.2 1.6 4.2 1.7 4.2 1.7 3.3-.8zm-6.5 1.5l-4.2-1.7-4.2-1.7-4.2-1.6-4.1-1.6-3.2 .6-3.3 .6 4.1 1.7 4.1 1.7 4.2 1.7 4.3 1.7 3.2-.7zm-6.5 1.4l-4.3-1.7-4.2-1.7-4.1-1.7-4.1-1.7-3.3 .6-3.3 .6 4.1 1.7 4.2 1.8 4.2 1.7 4.2 1.8 3.3-.7zm-6.6 1.4l-4.2-1.8-4.2-1.7-4.2-1.8-4.1-1.7-3.2 .6-3.3 .6 4.1 1.8 4.1 1.8 4.2 1.8 4.2 1.8 3.3-.7zm-6.6 1.4l-4.2-1.8-4.2-1.8-4.1-1.8-4.1-1.8-3.3 .7-3.3 .6 4.1 1.8 4.2 1.8 4.2 1.9 4.2 1.9 3.3-.7zm-6.5 1.5l-4.2-1.9-4.2-1.9-4.2-1.8-4.1-1.8-3.2 .6-3.3 .6 4.1 1.9 4.1 1.9 4.2 1.9 4.3 1.9 3.2-.7zm-6.5 1.4l-4.3-1.9-4.2-1.9-4.1-1.9-4.1-1.9-3.3 .6-3.3 .6 4.1 2 4.2 1.9 4.2 2 4.2 1.9 3.3-.7zm-6.6 1.4l-4.2-1.9-4.2-2-4.2-1.9-4.1-2-3.2 .6-3.3 .6 4.1 2 4.1 2 4.2 2 4.2 2.1 3.3-.8zm-6.6 1.5l-4.2-2.1-4.2-2-4.1-2-4.1-2-3.3 .7-3.3 .6 4.1 2 4.2 2.1 4.2 2 4.2 2.1 3.3-.7zm-6.5 1.4l-4.2-2.1-4.2-2-4.2-2.1-4.1-2-3.2 .6-3.3 .6 4.1 2.1 4.1 2.1 4.2 2.1 4.3 2.1 3.2-.7zm-6.5 1.4l-4.3-2.1-4.2-2.1-4.1-2.1-4.1-2.1-3.3 .6-3.3 .6 4.1 2.2 4.2 2.1 4.2 2.2 4.2 2.2 3.3-.8zm-6.6 1.5l-4.2-2.2-4.2-2.2-4.2-2.1-4.1-2.2-3.2 .6-3.3 .7 4.1 2.1 4.1 2.2 4.2 2.3 4.2 2.2 3.3-.7zm-6.6 1.4l-4.2-2.2-4.2-2.3-4.1-2.2-4.1-2.1-3.3 .6-3.3 .6 4.1 2.2 4.2 2.3 4.2 2.2 4.2 2.3 3.3-.7zm173.3-44.4l-4-.8-4-.7-3.9-.6-3.9-.7-3.2 .5-3.3 .5 3.9 .7 3.9 .8 4 .7 4 .8 3.3-.6zm-6.5 1.2l-4-.8-4-.7-3.9-.8-3.9-.7-3.3 .5-3.3 .5 3.9 .8 3.9 .8 4 .8 4 .8 3.3-.6zm-6.6 1.2l-4-.8-4-.8-3.9-.8-3.9-.8-3.2 .5-3.3 .5 3.9 .9 3.9 .8 4 .9 4 .8 3.3-.6zm-6.5 1.2l-4-.8-4-.9-3.9-.8-3.9-.9-3.3 .6-3.3 .5 3.9 .9 3.9 .8 4 1 4 .9 3.3-.6zm-6.6 1.3l-4-.9-4-1-3.9-.8-3.9-.9-3.2 .5-3.3 .5 3.9 .9 3.9 1 4 .9 4 1 3.3-.6zm-6.5 1.2l-4-1-4-.9-3.9-1-3.9-.9-3.3 .5-3.3 .5 3.9 1 3.9 1 4 1 4 1 3.3-.6zm-6.6 1.2l-4-1-4-1-3.9-1-3.9-1-3.2 .5-3.3 .5 3.9 1.1 3.9 1 4 1.1 4 1.1 3.3-.7zm-6.5 1.3l-4-1.1-4-1.1-3.9-1-3.9-1.1-3.3 .6-3.3 .5 3.9 1.1 3.9 1.1 4 1.1 4 1.1 3.3-.6zm-6.6 1.2l-4-1.1-4-1.1-3.9-1.1-3.9-1.1-3.2 .5-3.3 .5 3.9 1.1 3.9 1.2 4 1.1 4 1.2 3.3-.6zm-6.5 1.2l-4-1.2-4-1.1-3.9-1.2-3.9-1.1-3.3 .5-3.3 .5 3.9 1.2 3.9 1.2 4 1.2 4 1.2 3.3-.6zm-6.6 1.2l-4-1.2-4-1.2-3.9-1.2-3.9-1.2-3.2 .5-3.3 .5 3.9 1.3 3.9 1.2 4 1.3 4 1.3 3.3-.7zm-6.5 1.3l-4-1.3-4-1.3-3.9-1.2-3.9-1.3-3.3 .5-3.3 .6 3.9 1.3 3.9 1.3 4 1.3 4 1.3 3.3-.6zm-6.6 1.2l-4-1.3-4-1.3-3.9-1.3-3.9-1.3-3.2 .5-3.3 .5 3.9 1.3 3.9 1.4 4 1.3 4 1.4 3.3-.6zm-6.5 1.2l-4-1.4-4-1.3-3.9-1.4-3.9-1.3-3.3 .5-3.3 .5 3.9 1.4 3.9 1.4 4 1.4 4 1.4 3.3-.6zm-6.6 1.2l-4-1.4-4-1.4-3.9-1.4-3.9-1.4-3.2 .5-3.3 .5 3.9 1.5 3.9 1.4 4 1.5 4 1.5 3.3-.6zm-6.5 1.3l-4-1.5-4-1.5-3.9-1.4-3.9-1.5-3.3 .5-3.3 .6 3.9 1.5 3.9 1.5 4 1.5 4 1.5 3.3-.6zm-6.6 1.2l-4-1.5-4-1.5-3.9-1.5-3.9-1.5-3.2 .5-3.3 .5 3.9 1.5 3.9 1.6 4 1.6 4 1.5 3.3-.6zm-6.5 1.2l-4-1.5-4-1.6-3.9-1.6-3.9-1.5-3.3 .5-3.3 .5 3.9 1.6 3.9 1.6 4 1.6 4 1.7 3.3-.7zm-6.6 1.3l-4-1.7-4-1.6-3.9-1.6-3.9-1.6-3.2 .5-3.3 .5 3.9 1.7 3.9 1.6 4 1.7 4 1.7 3.3-.6zm-6.5 1.2l-4-1.7-4-1.7-3.9-1.6-3.9-1.7-3.3 .5-3.3 .6 3.9 1.7 3.9 1.7 4 1.7 4 1.7 3.3-.6zm-6.6 1.2l-4-1.7-4-1.7-3.9-1.7-3.9-1.7-3.2 .5-3.3 .5 3.9 1.7 3.9 1.8 4 1.8 4 1.7 3.3-.6zm115.2-27.3l-3.8-.7-3.7-.7-3.7-.6-3.7-.7-3.3 .4-3.3 .4 3.7 .7 3.7 .7 3.8 .8 3.8 .7 3.3-.5zm-6.5 1l-3.8-.7-3.8-.8-3.7-.7-3.7-.7-3.2 .5-3.3 .4 3.7 .7 3.7 .8 3.7 .7 3.8 .8 3.3-.5zm-6.6 1l-3.8-.8-3.7-.7-3.7-.8-3.7-.7-3.3 .4-3.3 .4 3.7 .8 3.7 .8 3.8 .8 3.8 .8 3.3-.5zm-6.5 1l-3.8-.8-3.8-.8-3.7-.8-3.7-.8-3.2 .4-3.3 .4 3.7 .9 3.7 .8 3.7 .9 3.8 .9 3.3-.5zm-6.6 1.1l-3.8-.9-3.7-.9-3.7-.8-3.7-.9-3.3 .4-3.3 .4 3.7 .9 3.7 .9 3.8 1 3.8 .9 3.3-.5zm-6.5 1l-3.8-.9-3.8-1-3.7-.9-3.7-.9-3.2 .4-3.3 .5 3.7 .9 3.7 1 3.7 .9 3.8 1 3.3-.5zm-6.6 1l-3.8-1-3.7-.9-3.7-1-3.7-.9-3.3 .4-3.3 .4 3.7 1 3.7 1 3.8 1 3.8 1 3.3-.5zm-6.5 1l-3.8-1-3.8-1-3.7-1-3.7-1-3.2 .4-3.3 .4 3.7 1 3.7 1.1 3.7 1.1 3.8 1.1 3.3-.5zm-6.6 1.1l-3.8-1.1-3.7-1.1-3.7-1.1-3.7-1-3.3 .4-3.3 .4 3.7 1.1 3.7 1.1 3.8 1.2 3.8 1.1 3.3-.5zm-6.5 1l-3.8-1.1-3.8-1.2-3.7-1.1-3.7-1.1-3.2 .4-3.3 .4 3.7 1.2 3.7 1.2 3.7 1.1 3.8 1.2 3.3-.5zm-6.6 1l-3.8-1.2-3.7-1.1-3.7-1.2-3.7-1.2-3.3 .5-3.3 .4 3.7 1.2 3.7 1.2 3.8 1.2 3.8 1.2 3.3-.5zm50.6-12.9l-3.6-.6-3.6-.6-3.5-.7-3.4-.6-3.3 .3-3.2 .3 3.4 .7 3.5 .7 3.5 .7 3.6 .6 3.3-.4zm-6.6 .8l-3.6-.6-3.5-.7-3.5-.7-3.4-.7-3.3 .4-3.3 .3 3.4 .7 3.5 .7 3.6 .7 3.6 .8 3.3-.4zm-6.5 .9l-3.6-.8-3.6-.7-3.5-.7-3.4-.7-3.3 .3-3.2 .3 3.4 .7 3.5 .8 3.5 .8 3.6 .8 3.3-.4zm-6.6 .8l-3.6-.8-3.5-.8-3.5-.8-3.4-.7-3.3 .3-3.3 .3 3.4 .8 3.5 .8 3.6 .9 3.6 .8 3.3-.4zm-6.5 .8l-3.6-.8-3.6-.9-3.5-.8-3.4-.8-3.3 .3-3.2 .3 3.4 .9 3.5 .9 3.5 .8 3.6 .9 3.3-.4zm-6.6 .8l-3.6-.9-3.5-.8-3.5-.9-3.4-.9-3.3 .3-3.3 .3 3.4 1 3.5 .9 3.6 .9 3.6 1 3.3-.5zm-6.5 .9l-3.6-1-3.6-.9-3.5-.9-3.4-1-3.3 .4-3.2 .3 3.4 .9 3.5 1 3.5 1 3.6 1 3.3-.4zm25.2-7.5l-3.4-.6-3.3-.6-3.3-.5-3.2-.6-3.3 .2-3.3 .2 3.2 .6 3.3 .7 3.4 .6 3.4 .6 3.2-.3zm-6.5 .6l-3.4-.6-3.4-.6-3.3-.7-3.2-.6-3.3 .2-3.2 .2 3.2 .7 3.3 .7 3.3 .7 3.4 .7 3.3-.3zm-6.6 .7l-3.4-.7-3.3-.7-3.3-.7-3.2-.7-3.3 .2-3.3 .2 3.2 .8 3.3 .7 3.4 .7 3.4 .8 3.2-.3zm-6.5 .6l-3.4-.8-3.4-.7-3.3-.7-3.2-.8-3.3 .2-3.2 .2 3.2 .8 3.3 .8 3.3 .8 3.4 .8 3.3-.3zm-6.6 .6l-3.4-.8-3.3-.8-3.3-.8-3.2-.8-3.3 .3-3.3 .2 3.2 .8 3.3 .8 3.4 .9 3.4 .8 3.2-.3zm-6.5 .6l-3.4-.8-3.4-.9-3.3-.8-3.2-.8-3.3 .2-3.2 .2 3.2 .9 3.3 .8 3.3 .9 3.4 .9 3.3-.3zm19.5-5.4l-3.2-.6-3.1-.5-3.1-.6-3-.5-3.3 .1-3.3 .1 3 .6 3.1 .6 3.1 .6 3.2 .6 3.3-.2zm-6.6 .4l-3.2-.6-3.1-.6-3.1-.6-3-.6-3.2 .1-3.3 .1 3 .7 3.1 .6 3.1 .7 3.2 .6 3.2-.2zm-6.5 .4l-3.2-.6-3.1-.7-3.1-.6-3-.7-3.3 .1-3.3 .1 3 .7 3.1 .7 3.1 .7 3.2 .7 3.3-.2zm-6.6 .4l-3.2-.7-3.1-.7-3.1-.7-3-.7-3.2 .1-3.3 .1 3 .8 3.1 .7 3.1 .8 3.2 .7 3.2-.2zm-6.5 .4l-3.2-.7-3.1-.8-3.1-.7-3-.8-3.3 .2-3.3 .1 3 .7 3.1 .8 3.1 .8 3.2 .9 3.3-.2zm13.8-3.8l-3-.5-2.9-.6-2.8-.5-2.9-.5-3.2 .1-3.3 0 2.8 .5 2.9 .6 2.9 .5 2.9 .6 3.3-.1zm-6.6 .2l-2.9-.6-2.9-.5-2.9-.6-2.8-.5-3.3 0-3.3 0 2.9 .6 2.8 .6 2.9 .6 3 .6 3.3-.1zm-6.5 .2l-3-.6-2.9-.6-2.8-.6-2.9-.6-3.2 0-3.3 0 2.8 .6 2.9 .7 2.9 .7 2.9 .6 3.3-.1zm-6.6 .2l-2.9-.6-2.9-.7-2.9-.7-2.8-.6-3.3 0-3.3 0 2.9 .7 2.8 .7 2.9 .7 3 .7 3.3-.1zm8.1-2.7l-2.7-.4-2.7-.5-2.6-.5-2.6-.4-3.3-.1-3.3-.1 2.6 .5 2.7 .5 2.6 .5 2.8 .6 3.3 0zm-6.5 .1l-2.8-.6-2.6-.5-2.7-.5-2.6-.5-3.3-.1-3.2-.1 2.6 .5 2.6 .6 2.7 .6 2.7 .6 3.3 0zm-6.6 0l-2.7-.6-2.7-.6-2.6-.6-2.6-.5-3.3-.1-3.3-.1 2.6 .6 2.7 .6 2.6 .6 2.8 .7 3.3 0zm2.5-1.9l-2.6-.5-2.4-.4-2.5-.5-2.3-.4-3.3-.2-3.3-.2 2.4 .5 2.4 .5 2.5 .5 2.5 .5 3.3 .1zm-6.6-.2l-2.5-.5-2.5-.5-2.4-.5-2.4-.5-3.3-.2-3.2-.2 2.3 .6 2.5 .5 2.4 .5 2.6 .6 3.2 .1zm-6.5-.2l-2.6-.6-2.4-.5-2.5-.5-2.3-.6-3.3-.2-3.3-.2 2.4 .6 2.4 .6 2.5 .6 2.5 .6 3.3 .1zm3.3-1.4l-2.4-.4-2.2-.4-2.3-.4-2.1-.4-3.3-.3-3.3-.3 2.2 .5 2.2 .4 2.3 .5 2.3 .4 3.3 .2zm-6.6-.4l-2.3-.4-2.3-.5-2.2-.4-2.2-.5-3.2-.3-3.3-.3 2.1 .5 2.3 .5 2.2 .5 2.4 .5 3.2 .2zm-6.5-.4l-2.4-.5-2.2-.5-2.3-.5-2.1-.5-3.3-.3-3.3-.3 2.2 .6 2.2 .5 2.3 .6 2.3 .5 3.3 .2zm4.1-.8l-2.1-.3-2.1-.4-2-.4-1.9-.3-3.3-.4-3.3-.4 2 .4 2 .4 2 .4 2.1 .4 3.3 .3zm-6.6-.6l-2.1-.4-2-.4-2-.4-2-.4-3.3-.4-3.2-.4 1.9 .4 2 .5 2.1 .5 2.1 .4 3.3 .3zm-6.5-.6l-2.1-.4-2.1-.5-2-.5-1.9-.4-3.3-.4-3.3-.4 2 .5 2 .5 2 .5 2.1 .5 3.3 .3zm5-.2l-1.9-.3-1.9-.4-1.8-.3-1.7-.3-3.3-.5-3.2-.5 1.7 .4 1.8 .3 1.8 .4 1.9 .4 3.3 .4zm-6.6-.8l-1.9-.4-1.8-.4-1.8-.3-1.7-.4-3.3-.5-3.3-.5 1.7 .4 1.8 .4 1.9 .5 1.9 .4 3.2 .4zm-.7-.5l-1.7-.3-1.6-.3-1.6-.3-1.5-.2-3.3-.6-3.2-.6 1.5 .3 1.5 .3 1.7 .4 1.7 .3 3.2 .5zm-6.5-1l-1.7-.3-1.7-.4-1.5-.3-1.5-.3-3.3-.6-3.3-.6 1.5 .3 1.6 .4 1.6 .4 1.7 .4 3.3 .5zm.1-.1l-1.5-.3-1.4-.2-1.3-.3-1.3-.2-3.3-.7-3.3-.7 1.3 .3 1.4 .3 1.4 .3 1.5 .3 3.2 .6zm-6.5-1.2l-1.5-.3-1.4-.3-1.4-.3-1.3-.3-3.3-.7-3.2-.7 1.3 .3 1.3 .4 1.4 .3 1.5 .4 3.3 .6zm1 .2l-1.3-.2-1.2-.2-1.2-.2-1-.2-3.3-.8-3.3-.8 1.1 .2 1.1 .3 1.2 .2 1.3 .3 3.3 .7zm-6.6-1.4l-1.3-.3-1.2-.2-1.1-.3-1.1-.2-3.3-.9-3.2-.8 1 .3 1.2 .3 1.2 .4 1.3 .3 3.2 .7zm1.9 .6l-1.1-.2-1-.2-.9-.2-.9-.1-3.3-.9-3.2-.9 .8 .2 1 .2 1 .2 1 .3 3.3 .8zm-6.6-1.6l-1-.3-1-.2-1-.2-.8-.2-3.3-.9-3.3-.9 .9 .2 .9 .3 1 .3 1.1 .2 3.2 .8zm2.7 .9l-.8-.2-.8-.1-.7-.1-.7-.1-3.3-1.1-3.2-1 .6 .2 .8 .2 .7 .2 .9 .2 3.2 .9zm-6.5-1.8l-.9-.2-.7-.2-.8-.2-.6-.2-3.3-1-3.3-1 .7 .2 .7 .3 .8 .2 .8 .3 3.3 .9zm3.5 1.3l-.6-.2-.6-.1-.5 0-.4-.1-3.3-1.1-3.3-1.1 .5 .1 .5 .1 .6 .2 .6 .1 3.2 1zm-6.5-2.1l-.6-.1-.6-.2-.5-.1-.5-.1-3.2-1.2-3.3-1.1 .4 .2 .5 .2 .6 .2 .6 .2 3.3 1zm4.4 1.7l-.4-.1-.4-.1-.3 0-.2-.1-3.3-1.2-3.2-1.2 .2 .1 .3 .1 .3 .1 .4 .2 3.3 1.1zm-6.6-2.2l-.4-.2-.3-.1-.3-.1-.2-.1-3.3-1.2-3.3-1.2 .2 .2 .3 .1 .4 .2 .4 .1 3.3 1.1zm5.3 1.9l-.2 0-.1 0-.1 0 0 0-3.3-1.3-3.3-1.4 .1 .1 0 .1 .2 0 .2 .1 3.2 1.2zm-6.5-2.4l-.2-.1-.2 0 0-.1-.1-.1-3.2-1.3-3.3-1.3 0 .1 .1 .1 .1 .2 .2 .1 3.3 1.2z"/>
<path color="#000097" d="M847.8 318.3l-4-1.7-4-1.8-3.9-1.8-3.9-1.7-3.3 .5-3.3 .5 3.9 1.8 3.9 1.8 4 1.8 4 1.9 3.3-.6zm-6.6 1.3l-4-1.9-4-1.8-3.9-1.8-3.9-1.8-3.2 .5-3.3 .5 3.9 1.9 3.9 1.8 4 1.9 4 1.9 3.3-.6zm-6.5 1.2l-4-1.9-4-1.9-3.9-1.8-3.9-1.9-3.3 .5-3.3 .6 3.9 1.9 3.9 1.9 4 1.9 4 1.9 3.3-.6zm-6.6 1.2l-4-1.9-4-1.9-3.9-1.9-3.9-1.9-3.2 .5-3.3 .5 3.9 1.9 3.9 2 4 2 4 1.9 3.3-.6zm-6.5 1.2l-4-1.9-4-2-3.9-2-3.9-1.9-3.3 .5-3.3 .5 3.9 2 3.9 2 4 2 4 2.1 3.3-.6zm-6.6 1.3l-4-2.1-4-2-3.9-2-3.9-2-3.2 .5-3.3 .5 3.9 2.1 3.9 2 4 2.1 4 2.1 3.3-.6zm-6.5 1.2l-4-2.1-4-2.1-3.9-2-3.9-2.1-3.3 .5-3.3 .6 3.9 2.1 3.9 2.1 4 2.1 4 2.1 3.3-.6zm-6.6 1.2l-4-2.1-4-2.1-3.9-2.1-3.9-2.1-3.2 .5-3.3 .5 3.9 2.1 3.9 2.2 4 2.2 4 2.2 3.3-.7zm-6.5 1.3l-4-2.2-4-2.2-3.9-2.2-3.9-2.1-3.3 .5-3.3 .5 3.9 2.2 3.9 2.2 4 2.2 4 2.3 3.3-.6zm102.1-27.2l-3.8-1.2-3.8-1.2-3.7-1.2-3.7-1.2-3.2 .4-3.3 .4 3.7 1.2 3.7 1.3 3.7 1.3 3.8 1.3 3.3-.6zm-6.6 1.1l-3.8-1.3-3.7-1.3-3.7-1.3-3.7-1.2-3.3 .4-3.3 .4 3.7 1.3 3.7 1.3 3.8 1.4 3.8 1.3 3.3-.5zm-6.5 1l-3.8-1.3-3.8-1.4-3.7-1.3-3.7-1.3-3.2 .4-3.3 .4 3.7 1.4 3.7 1.4 3.7 1.3 3.8 1.4 3.3-.5zm-6.6 1l-3.8-1.4-3.7-1.3-3.7-1.4-3.7-1.4-3.3 .4-3.3 .5 3.7 1.4 3.7 1.4 3.8 1.4 3.8 1.4 3.3-.5zm-6.5 1l-3.8-1.4-3.8-1.4-3.7-1.4-3.7-1.4-3.2 .4-3.3 .4 3.7 1.4 3.7 1.5 3.7 1.5 3.8 1.5 3.3-.6zm-6.6 1.1l-3.8-1.5-3.7-1.5-3.7-1.5-3.7-1.4-3.3 .4-3.3 .4 3.7 1.5 3.7 1.5 3.8 1.5 3.8 1.6 3.3-.5zm-6.5 1l-3.8-1.6-3.8-1.5-3.7-1.5-3.7-1.5-3.2 .4-3.3 .4 3.7 1.6 3.7 1.5 3.7 1.6 3.8 1.6 3.3-.5zm-6.6 1l-3.8-1.6-3.7-1.6-3.7-1.5-3.7-1.6-3.3 .4-3.3 .4 3.7 1.6 3.7 1.7 3.8 1.6 3.8 1.6 3.3-.5zm-6.5 1l-3.8-1.6-3.8-1.6-3.7-1.7-3.7-1.6-3.2 .5-3.3 .4 3.7 1.6 3.7 1.7 3.7 1.7 3.8 1.7 3.3-.6zm-6.6 1.1l-3.8-1.7-3.7-1.7-3.7-1.7-3.7-1.6-3.3 .4-3.3 .4 3.7 1.7 3.7 1.7 3.8 1.7 3.8 1.8 3.3-.5zm70.2-17.4l-3.6-1-3.5-1-3.5-1-3.4-.9-3.3 .3-3.3 .3 3.4 1 3.5 1 3.6 1.1 3.6 1 3.3-.4zm-6.5 .8l-3.6-1-3.6-1.1-3.5-1-3.4-1-3.3 .3-3.2 .3 3.4 1.1 3.5 1 3.5 1.1 3.6 1.1 3.3-.4zm-6.6 .8l-3.6-1.1-3.5-1.1-3.5-1-3.4-1.1-3.3 .3-3.3 .3 3.4 1.1 3.5 1.2 3.6 1.1 3.6 1.1 3.3-.4zm-6.5 .8l-3.6-1.1-3.6-1.1-3.5-1.2-3.4-1.1-3.3 .3-3.2 .3 3.4 1.2 3.5 1.2 3.5 1.2 3.6 1.2 3.3-.4zm-6.6 .9l-3.6-1.2-3.5-1.2-3.5-1.2-3.4-1.2-3.3 .3-3.3 .4 3.4 1.2 3.5 1.2 3.6 1.2 3.6 1.3 3.3-.4zm-6.5 .8l-3.6-1.3-3.6-1.2-3.5-1.2-3.4-1.2-3.3 .3-3.2 .3 3.4 1.2 3.5 1.3 3.5 1.3 3.6 1.3 3.3-.4zm-6.6 .8l-3.6-1.3-3.5-1.3-3.5-1.3-3.4-1.2-3.3 .3-3.3 .3 3.4 1.3 3.5 1.3 3.6 1.4 3.6 1.3 3.3-.4zm31.8-9.5l-3.4-.9-3.3-.9-3.3-.8-3.2-.9-3.3 .2-3.3 .2 3.2 .9 3.3 1 3.4 .9 3.4 1 3.2-.3zm-6.5 .7l-3.4-1-3.4-.9-3.3-1-3.2-.9-3.3 .2-3.2 .2 3.2 1 3.3 1 3.3 1 3.4 1 3.3-.3zm-6.6 .6l-3.4-1-3.3-1-3.3-1-3.2-1-3.3 .2-3.3 .2 3.2 1.1 3.3 1 3.4 1 3.4 1.1 3.2-.3zm-6.5 .6l-3.4-1.1-3.4-1-3.3-1-3.2-1.1-3.3 .2-3.2 .2 3.2 1.1 3.3 1.1 3.3 1.1 3.4 1.1 3.3-.3zm-6.6 .6l-3.4-1.1-3.3-1.1-3.3-1.1-3.2-1.1-3.3 .3-3.3 .2 3.2 1.1 3.3 1.1 3.4 1.2 3.4 1.1 3.2-.3zm19.5-6.4l-3.2-.9-3.1-.8-3.1-.8-3-.7-3.2 .1-3.3 .1 3 .8 3.1 .9 3.1 .8 3.2 .9 3.2-.2zm-6.5 .4l-3.2-.9-3.1-.8-3.1-.9-3-.8-3.3 .1-3.3 .1 3 .9 3.1 .9 3.1 .9 3.2 .9 3.3-.2zm-6.6 .4l-3.2-.9-3.1-.9-3.1-.9-3-.9-3.2 .1-3.3 .1 3 .9 3.1 1 3.1 .9 3.2 1 3.2-.2zm-6.5 .4l-3.2-1-3.1-.9-3.1-1-3-.9-3.3 .1-3.3 .1 3 1 3.1 1 3.1 1 3.2 1 3.3-.2zm13.8-4.7l-3-.7-2.9-.7-2.8-.7-2.9-.7-3.2 0-3.3 0 2.8 .8 2.9 .7 2.9 .8 2.9 .8 3.3-.1zm-6.6 .3l-2.9-.8-2.9-.8-2.9-.7-2.8-.8-3.3 0-3.3 0 2.9 .8 2.8 .8 2.9 .8 3 .9 3.3-.1zm-6.5 .2l-3-.9-2.9-.8-2.8-.8-2.9-.8-3.2 0-3.3 0 2.8 .9 2.9 .8 2.9 .9 2.9 .9 3.3-.1zm8.1-3.3l-2.8-.7-2.6-.6-2.7-.6-2.6-.6-3.3-.1-3.2-.1 2.6 .7 2.6 .6 2.7 .7 2.7 .7 3.3 0zm-6.6 0l-2.7-.7-2.7-.7-2.6-.6-2.6-.7-3.3-.1-3.3-.1 2.6 .7 2.7 .7 2.6 .8 2.8 .7 3.3 0zm-6.5 0l-2.8-.7-2.6-.8-2.7-.7-2.6-.7-3.3-.1-3.2-.1 2.6 .8 2.6 .7 2.7 .8 2.7 .8 3.3 0zm2.4-2.5l-2.5-.6-2.5-.6-2.4-.6-2.4-.6-3.3-.2-3.2-.2 2.3 .7 2.5 .6 2.4 .6 2.6 .7 3.2 .1zm-6.5-.2l-2.6-.7-2.4-.6-2.5-.6-2.3-.7-3.3-.2-3.3-.1 2.4 .6 2.4 .7 2.5 .7 2.5 .7 3.3 .1zm-6.6-.2l-2.5-.7-2.5-.7-2.4-.7-2.4-.6-3.3-.2-3.2-.2 2.3 .7 2.5 .7 2.4 .8 2.6 .7 3.2 .1zm3.3-2l-2.3-.5-2.3-.6-2.2-.5-2.2-.6-3.2-.3-3.3-.3 2.1 .6 2.3 .6 2.2 .6 2.4 .6 3.2 .2zm-6.5-.4l-2.4-.6-2.2-.6-2.3-.6-2.1-.6-3.3-.3-3.3-.2 2.2 .6 2.2 .6 2.3 .7 2.3 .7 3.3 .1zm-2.5-1.8l-2.1-.5-2-.5-2-.5-2-.5-3.3-.4-3.2-.4 1.9 .5 2 .6 2.1 .6 2.1 .5 3.3 .3zm-6.5-.6l-2.1-.5-2.1-.6-2-.6-1.9-.5-3.3-.4-3.3-.4 2 .6 2 .6 2 .6 2.1 .7 3.3 .2zm5-.6l-1.9-.4-1.9-.5-1.8-.4-1.7-.4-3.3-.5-3.2-.5 1.7 .5 1.8 .4 1.8 .5 1.9 .5 3.3 .4zm-6.6-.8l-1.9-.5-1.8-.5-1.8-.4-1.7-.5-3.3-.5-3.3-.5 1.7 .5 1.8 .5 1.9 .6 1.9 .5 3.2 .4zm-.7-.9l-1.7-.4-1.6-.4-1.6-.4-1.5-.3-3.3-.6-3.2-.6 1.5 .4 1.5 .4 1.7 .5 1.7 .4 3.2 .5zm-6.5-1l-1.7-.4-1.7-.5-1.5-.4-1.5-.4-3.3-.6-3.3-.6 1.5 .4 1.6 .5 1.6 .5 1.7 .5 3.3 .5zm.1-.5l-1.5-.4-1.4-.3-1.3-.4-1.3-.3-3.3-.7-3.3-.7 1.3 .4 1.4 .3 1.4 .5 1.5 .4 3.2 .6zm-6.5-1.2l-1.5-.4-1.4-.5-1.4-.3-1.3-.4-3.3-.7-3.2-.7 1.3 .4 1.3 .4 1.4 .5 1.5 .5 3.3 .6zm1-.2l-1.3-.3-1.2-.4-1.2-.3-1-.3-3.3-.8-3.3-.8 1.1 .4 1.1 .3 1.2 .4 1.3 .4 3.3 .7zm-4.7-1.3l-1.1-.2-1-.3-.9-.3-.9-.2-3.3-.9-3.2-1 .8 .4 1 .3 1 .3 1 .3 3.3 .8zm-3.9-1l-.8-.3-.8-.2-.7-.3-.7-.2-3.3-1-3.2-1 .6 .3 .8 .3 .7 .2 .9 .3 3.2 1zm-3-1l-.6-.2-.6-.2-.5-.2-.4-.2-3.3-1.1-3.3-1.1 .5 .3 .5 .2 .6 .2 .6 .3 3.2 1zm-2.1-.8l-.4-.1-.4-.2-.3-.1-.2-.2-3.3-1.2-3.2-1.2 .2 .2 .3 .2 .3 .2 .4 .2 3.3 1.1zm-1.3-.6l-.2-.1-.1-.2-.1-.1 0-.1-3.3-1.3-3.3-1.3 .1 .2 0 .1 .2 .2 .2 .2 3.2 1.2z"/>
<path color="#0000a7" d="M832 311.3l-3.8-1.8-3.8-1.7-3.7-1.7-3.7-1.7-3.2 .4-3.3 .4 3.7 1.8 3.7 1.7 3.7 1.8 3.8 1.8 3.3-.5zm-6.6 1l-3.8-1.8-3.7-1.8-3.7-1.7-3.7-1.8-3.3 .4-3.3 .4 3.7 1.8 3.7 1.9 3.8 1.8 3.8 1.8 3.3-.5zm-6.5 1l-3.8-1.8-3.8-1.8-3.7-1.9-3.7-1.8-3.2 .4-3.3 .4 3.7 1.9 3.7 1.9 3.7 1.9 3.8 1.9 3.3-.6zm-6.6 1.1l-3.8-1.9-3.7-1.9-3.7-1.9-3.7-1.9-3.3 .5-3.3 .4 3.7 1.9 3.7 1.9 3.8 1.9 3.8 2 3.3-.5zm-6.5 1l-3.8-2-3.8-1.9-3.7-1.9-3.7-1.9-3.2 .4-3.3 .4 3.7 2 3.7 1.9 3.7 2 3.8 2 3.3-.5zm-6.6 1l-3.8-2-3.7-2-3.7-1.9-3.7-2-3.3 .4-3.3 .4 3.7 2 3.7 2.1 3.8 2 3.8 2 3.3-.5zm-6.5 1l-3.8-2-3.8-2-3.7-2.1-3.7-2-3.2 .4-3.3 .4 3.7 2.1 3.7 2.1 3.7 2.1 3.8 2.1 3.3-.6zm-6.6 1.1l-3.8-2.1-3.7-2.1-3.7-2.1-3.7-2.1-3.3 .4-3.3 .5 3.7 2.1 3.7 2.1 3.8 2.1 3.8 2.2 3.3-.5zm-6.5 1l-3.8-2.2-3.8-2.1-3.7-2.1-3.7-2.1-3.2 .4-3.3 .4 3.7 2.1 3.7 2.2 3.7 2.2 3.8 2.2 3.3-.5zm83.3-20.9l-3.6-1.3-3.6-1.4-3.5-1.3-3.4-1.3-3.3 .3-3.2 .3 3.4 1.4 3.5 1.4 3.5 1.4 3.6 1.4 3.3-.5zm-6.6 .9l-3.6-1.4-3.5-1.4-3.5-1.4-3.4-1.4-3.3 .3-3.3 .3 3.4 1.5 3.5 1.4 3.6 1.4 3.6 1.5 3.3-.4zm-6.5 .8l-3.6-1.5-3.6-1.4-3.5-1.4-3.4-1.5-3.3 .3-3.2 .4 3.4 1.4 3.5 1.5 3.5 1.5 3.6 1.5 3.3-.4zm-6.6 .8l-3.6-1.5-3.5-1.5-3.5-1.5-3.4-1.4-3.3 .3-3.3 .3 3.4 1.5 3.5 1.5 3.6 1.6 3.6 1.5 3.3-.4zm-6.5 .8l-3.6-1.5-3.6-1.6-3.5-1.5-3.4-1.5-3.3 .3-3.2 .3 3.4 1.6 3.5 1.5 3.5 1.6 3.6 1.6 3.3-.4zm-6.6 .8l-3.6-1.6-3.5-1.6-3.5-1.5-3.4-1.6-3.3 .3-3.3 .3 3.4 1.6 3.5 1.7 3.6 1.6 3.6 1.7 3.3-.4zm-6.5 .9l-3.6-1.7-3.6-1.6-3.5-1.7-3.4-1.6-3.3 .3-3.2 .3 3.4 1.7 3.5 1.7 3.5 1.7 3.6 1.7 3.3-.4zm44.9-12.2l-3.4-1.1-3.4-1.2-3.3-1.1-3.2-1.1-3.3 .2-3.2 .2 3.2 1.2 3.3 1.2 3.3 1.2 3.4 1.2 3.3-.4zm-6.6 .7l-3.4-1.2-3.3-1.2-3.3-1.2-3.2-1.2-3.3 .2-3.3 .2 3.2 1.2 3.3 1.3 3.4 1.2 3.4 1.3 3.2-.3zm-6.5 .6l-3.4-1.3-3.4-1.2-3.3-1.3-3.2-1.2-3.3 .2-3.2 .2 3.2 1.3 3.3 1.3 3.3 1.3 3.4 1.3 3.3-.3zm-6.6 .6l-3.4-1.3-3.3-1.3-3.3-1.3-3.2-1.3-3.3 .2-3.3 .2 3.2 1.4 3.3 1.3 3.4 1.4 3.4 1.3 3.2-.3zm-6.5 .6l-3.4-1.3-3.4-1.4-3.3-1.3-3.2-1.4-3.3 .2-3.2 .3 3.2 1.3 3.3 1.4 3.3 1.4 3.4 1.4 3.3-.3zm26-7.9l-3.2-1-3.1-1-3.1-1-3-1-3.2 .1-3.3 .1 3 1.1 3.1 1 3.1 1.1 3.2 1 3.2-.2zm-6.5 .4l-3.2-1-3.1-1.1-3.1-1-3-1.1-3.3 .1-3.3 .1 3 1.1 3.1 1.1 3.1 1.1 3.2 1.2 3.3-.2zm-6.6 .5l-3.2-1.2-3.1-1.1-3.1-1.1-3-1.1-3.2 .2-3.3 .1 3 1.1 3.1 1.2 3.1 1.1 3.2 1.2 3.2-.2zm-6.5 .4l-3.2-1.2-3.1-1.1-3.1-1.2-3-1.1-3.3 .1-3.3 .1 3 1.2 3.1 1.2 3.1 1.2 3.2 1.2 3.3-.2zm20.3-5.7l-2.9-.9-2.9-.9-2.9-.8-2.8-.9-3.3 0-3.3 0 2.9 .9 2.8 1 2.9 .9 3 .9 3.3-.1zm-6.5 .2l-3-.9-2.9-.9-2.8-1-2.9-.9-3.2 0-3.3 .1 2.8 .9 2.9 1 2.9 .9 2.9 1 3.3-.1zm-6.6 .2l-2.9-1-2.9-.9-2.9-1-2.8-.9-3.3 0-3.3 0 2.9 1 2.8 1 2.9 1 3 1 3.3-.1zm-6.5 .2l-3-1-2.9-1-2.8-1-2.9-1-3.2 0-3.3 0 2.8 1 2.9 1.1 2.9 1.1 2.9 1 3.3-.1zm14.6-4.1l-2.7-.8-2.7-.8-2.6-.7-2.6-.8-3.3-.1-3.3-.1 2.6 .8 2.7 .9 2.6 .8 2.8 .8 3.3 0zm-6.5 0l-2.8-.8-2.6-.8-2.7-.9-2.6-.8-3.3-.1-3.2-.1 2.6 .9 2.6 .9 2.7 .8 2.7 .9 3.3 0zm-6.6 0l-2.7-.9-2.7-.8-2.6-.9-2.6-.9-3.3-.1-3.3-.1 2.6 1 2.7 .9 2.6 .9 2.8 1 3.3-.1zm2.5-3.1l-2.6-.7-2.4-.8-2.5-.7-2.3-.7-3.3-.2-3.3-.2 2.4 .7 2.4 .8 2.5 .8 2.5 .8 3.3 .1zm-6.6-.2l-2.5-.8-2.5-.8-2.4-.8-2.4-.7-3.3-.2-3.2-.2 2.3 .8 2.5 .8 2.4 .9 2.6 .8 3.2 .1zm3.3-2.3l-2.3-.7-2.3-.7-2.2-.6-2.2-.6-3.2-.3-3.3-.3 2.1 .6 2.3 .7 2.2 .7 2.4 .8 3.2 .2zm-6.5-.4l-2.4-.8-2.2-.7-2.3-.7-2.1-.6-3.3-.3-3.3-.3 2.2 .7 2.2 .7 2.3 .8 2.3 .8 3.3 .2zm-2.5-2.2l-2.1-.7-2-.6-2-.6-2-.6-3.3-.4-3.2-.4 1.9 .7 2 .6 2.1 .7 2.1 .7 3.3 .3zm-6.5-.6l-2.1-.7-2.1-.7-2-.6-1.9-.7-3.3-.4-3.3-.4 2 .7 2 .7 2 .7 2.1 .8 3.3 .3zm5-1.1l-1.9-.5-1.9-.6-1.8-.5-1.7-.5-3.3-.5-3.2-.5 1.7 .6 1.8 .5 1.8 .6 1.9 .6 3.3 .4zm-6.6-.8l-1.9-.6-1.8-.6-1.8-.5-1.7-.6-3.3-.5-3.3-.5 1.7 .6 1.8 .6 1.9 .7 1.9 .6 3.2 .4zm-.7-1.3l-1.7-.5-1.6-.5-1.6-.5-1.5-.4-3.3-.6-3.2-.6 1.5 .5 1.5 .5 1.7 .6 1.7 .5 3.2 .5zm-6.5-1l-1.7-.5-1.7-.6-1.5-.5-1.5-.5-3.3-.6-3.3-.6 1.5 .5 1.6 .6 1.6 .6 1.7 .6 3.3 .5zm.1-.9l-1.5-.5-1.4-.5-1.3-.4-1.3-.4-3.3-.7-3.3-.7 1.3 .4 1.4 .5 1.4 .5 1.5 .6 3.2 .6zm1-.4l-1.3-.4-1.2-.4-1.1-.3-1.1-.4-3.3-.8-3.2-.8 1 .4 1.2 .4 1.2 .4 1.3 .5 3.2 .7zm-6.5-1.4l-1.3-.5-1.2-.4-1.2-.4-1-.4-3.3-.8-3.3-.8 1.1 .5 1.1 .4 1.2 .5 1.3 .5 3.3 .7zm1.8-.1l-1-.3-1-.3-1-.3-.8-.4-3.3-.9-3.3-.9 .9 .4 .9 .4 1 .3 1.1 .4 3.2 .8zm-6.5-1.6l-1.1-.4-1-.3-.9-.4-.9-.4-3.3-.9-3.2-.9 .8 .4 1 .4 1 .5 1 .4 3.3 .8zm2.7 .3l-.9-.3-.7-.2-.8-.3-.6-.3-3.3-1-3.3-1 .7 .3 .7 .3 .8 .4 .8 .3 3.3 .9zm-3-1.1l-.6-.3-.6-.2-.5-.2-.5-.3-3.2-1.1-3.3-1.1 .4 .3 .5 .3 .6 .3 .6 .3 3.3 1zm-2.2-1l-.4-.2-.3-.2-.3-.2-.2-.2-3.3-1.2-3.3-1.2 .2 .2 .3 .3 .4 .2 .4 .3 3.3 1.1zm-1.2-.8l-.2-.2-.2-.2 0-.1-.1-.2-3.2-1.3-3.3-1.3 0 .2 .1 .2 .1 .2 .2 .3 3.3 1.2z"/>
<path color="#0000b7" d="M817 304.4l-3.6-1.7-3.5-1.7-3.5-1.7-3.4-1.7-3.3 .3-3.3 .4 3.4 1.7 3.5 1.7 3.6 1.8 3.6 1.7 3.3-.4zm-6.5 .8l-3.6-1.7-3.6-1.8-3.5-1.7-3.4-1.7-3.3 .3-3.2 .3 3.4 1.7 3.5 1.8 3.5 1.8 3.6 1.8 3.3-.4zm-6.6 .8l-3.6-1.8-3.5-1.8-3.5-1.8-3.4-1.7-3.3 .3-3.3 .3 3.4 1.8 3.5 1.9 3.6 1.8 3.6 1.8 3.3-.4zm-6.5 .8l-3.6-1.8-3.6-1.8-3.5-1.9-3.4-1.8-3.3 .3-3.2 .3 3.4 1.9 3.5 1.9 3.5 1.9 3.6 1.9 3.3-.4zm-6.6 .9l-3.6-1.9-3.5-1.9-3.5-1.9-3.4-1.9-3.3 .3-3.3 .3 3.4 2 3.5 1.9 3.6 1.9 3.6 2 3.3-.4zm-6.5 .8l-3.6-2-3.6-1.9-3.5-1.9-3.4-2-3.3 .3-3.2 .4 3.4 1.9 3.5 2 3.5 2 3.6 2 3.3-.4zm51.4-14l-3.4-1.4-3.3-1.4-3.3-1.4-3.2-1.3-3.3 .2-3.3 .2 3.2 1.4 3.3 1.4 3.4 1.5 3.4 1.5 3.2-.4zm-6.5 .7l-3.4-1.5-3.4-1.5-3.3-1.4-3.2-1.4-3.3 .2-3.2 .2 3.2 1.5 3.3 1.5 3.3 1.5 3.4 1.5 3.3-.3zm-6.6 .6l-3.4-1.5-3.3-1.5-3.3-1.5-3.2-1.5-3.3 .2-3.3 .2 3.2 1.5 3.3 1.6 3.4 1.5 3.4 1.6 3.2-.3zm-6.5 .6l-3.4-1.6-3.4-1.5-3.3-1.6-3.2-1.5-3.3 .2-3.2 .2 3.2 1.6 3.3 1.6 3.3 1.6 3.4 1.6 3.3-.3zm-6.6 .6l-3.4-1.6-3.3-1.6-3.3-1.6-3.2-1.6-3.3 .2-3.3 .2 3.2 1.7 3.3 1.6 3.4 1.7 3.4 1.6 3.2-.3zm32.6-9.3l-3.2-1.2-3.1-1.2-3.1-1.2-3-1.2-3.2 .1-3.3 .1 3 1.2 3.1 1.3 3.1 1.2 3.2 1.3 3.2-.2zm-6.5 .4l-3.2-1.3-3.1-1.2-3.1-1.3-3-1.2-3.3 .1-3.3 .1 3 1.3 3.1 1.3 3.1 1.3 3.2 1.3 3.3-.2zm-6.6 .4l-3.2-1.3-3.1-1.3-3.1-1.3-3-1.3-3.2 .1-3.3 .1 3 1.4 3.1 1.3 3.1 1.4 3.2 1.4 3.2-.3zm-6.5 .5l-3.2-1.4-3.1-1.4-3.1-1.3-3-1.4-3.3 .1-3.3 .1 3 1.4 3.1 1.4 3.1 1.4 3.2 1.5 3.3-.2zm20.3-6.6l-2.9-1-2.9-1.1-2.9-1.1-2.8-1-3.3 0-3.3 0 2.9 1.1 2.8 1.1 2.9 1.1 3 1.2 3.3-.1zm-6.5 .3l-3-1.2-2.9-1.1-2.8-1.1-2.9-1.1-3.2 0-3.3 0 2.8 1.2 2.9 1.1 2.9 1.2 2.9 1.2 3.3-.1zm-6.6 .2l-2.9-1.2-2.9-1.2-2.9-1.1-2.8-1.2-3.3 0-3.3 0 2.9 1.2 2.8 1.2 2.9 1.3 3 1.2 3.3-.1zm14.7-4.7l-2.8-1-2.6-.9-2.7-.9-2.6-1-3.3-.1-3.2-.1 2.6 1 2.6 1 2.7 1 2.7 1 3.3 0zm-6.6 0l-2.7-1-2.7-1-2.6-1-2.6-1-3.3 0-3.3-.1 2.6 1 2.7 1 2.6 1 2.8 1.1 3.3 0zm-6.5 0l-2.8-1.1-2.6-1-2.7-1-2.6-1-3.3-.1-3.2-.1 2.6 1 2.6 1.1 2.7 1.1 2.7 1.1 3.3 0zm9-3.6l-2.6-.8-2.4-.9-2.5-.8-2.3-.8-3.3-.2-3.3-.2 2.4 .9 2.4 .8 2.5 .9 2.5 .9 3.3 .1zm-6.6-.2l-2.5-.9-2.5-.9-2.4-.8-2.4-.9-3.3-.2-3.2-.2 2.3 .9 2.5 .9 2.4 1 2.6 .9 3.2 .1zm-6.5-.2l-2.6-.9-2.4-1-2.5-.9-2.3-.9-3.3-.2-3.3-.2 2.4 1 2.4 1 2.5 1 2.5 1 3.3 .1zm9.8-2.5l-2.3-.8-2.3-.8-2.2-.7-2.2-.7-3.2-.3-3.3-.3 2.1 .7 2.3 .8 2.2 .9 2.4 .8 3.2 .2zm-6.5-.4l-2.4-.8-2.2-.9-2.3-.8-2.1-.7-3.3-.3-3.3-.3 2.2 .8 2.2 .9 2.3 .8 2.3 .9 3.3 .2zm-2.5-2.6l-2.1-.8-2-.7-2-.7-2-.7-3.3-.4-3.2-.4 1.9 .8 2 .7 2.1 .8 2.1 .8 3.3 .3zm-6.5-.6l-2.1-.8-2.1-.8-2-.7-1.9-.8-3.3-.4-3.3-.4 2 .8 2 .8 2 .8 2.1 .9 3.3 .3zm5-1.5l-1.9-.6-1.9-.7-1.8-.6-1.7-.6-3.3-.5-3.2-.5 1.7 .7 1.8 .6 1.8 .7 1.9 .7 3.3 .4zm-6.6-.8l-1.9-.7-1.8-.7-1.8-.6-1.7-.7-3.3-.5-3.3-.5 1.7 .7 1.8 .7 1.9 .8 1.9 .7 3.2 .4zm-.7-1.7l-1.7-.6-1.6-.6-1.6-.6-1.5-.5-3.3-.7-3.2-.6 1.5 .7 1.5 .6 1.7 .6 1.7 .7 3.2 .5zm.2-1.1l-1.5-.6-1.4-.5-1.4-.5-1.3-.4-3.3-.7-3.2-.7 1.3 .5 1.3 .5 1.4 .6 1.5 .6 3.3 .6zm-6.6-1.2l-1.5-.6-1.4-.6-1.3-.5-1.3-.5-3.3-.8-3.3-.7 1.3 .6 1.4 .6 1.4 .6 1.5 .6 3.2 .6zm1-.8l-1.3-.5-1.2-.5-1.1-.4-1.1-.5-3.3-.8-3.2-.8 1 .5 1.2 .5 1.2 .5 1.3 .6 3.2 .7zm-4.7-1.9l-1-.4-1-.5-1-.4-.8-.4-3.3-.9-3.3-.9 .9 .5 .9 .4 1 .5 1.1 .5 3.2 .8zm2.7 .1l-.8-.3-.8-.4-.7-.3-.7-.3-3.3-1-3.2-1 .6 .4 .8 .3 .7 .4 .9 .4 3.2 .9zm-6.5-1.8l-.9-.4-.7-.4-.8-.3-.6-.4-3.3-1-3.3-1 .7 .4 .7 .4 .8 .5 .8 .4 3.3 .9zm3.5 .5l-.6-.3-.6-.3-.5-.3-.4-.3-3.3-1.1-3.3-1.1 .5 .3 .5 .4 .6 .3 .6 .4 3.2 1zm-2.1-1.2l-.4-.3-.4-.2-.3-.3-.2-.2-3.3-1.2-3.2-1.3 .2 .3 .3 .3 .3 .4 .4 .3 3.3 1.1zm-1.3-1l-.2-.3-.1-.2-.1-.2 0-.2-3.3-1.3-3.3-1.3 .1 .2 0 .3 .2 .3 .2 .2 3.2 1.3z"/>
<path color="#0000c7" d="M777.7 309.3l-3.6-2-3.5-2-3.5-2-3.4-1.9-3.3 .3-3.3 .3 3.4 2 3.5 2 3.6 2.1 3.6 2 3.3-.4zm-6.5 .8l-3.6-2-3.6-2.1-3.5-2-3.4-2-3.3 .3-3.2 .3 3.4 2.1 3.5 2.1 3.5 2.1 3.6 2.1 3.3-.5zm-6.6 .9l-3.6-2.1-3.5-2.1-3.5-2.1-3.4-2.1-3.3 .3-3.3 .3 3.4 2.1 3.5 2.2 3.6 2.1 3.6 2.2 3.3-.4zm38.4-13.4l-3.4-1.6-3.4-1.7-3.3-1.6-3.2-1.7-3.3 .2-3.2 .3 3.2 1.6 3.3 1.7 3.3 1.7 3.4 1.8 3.3-.4zm-6.6 .7l-3.4-1.8-3.3-1.7-3.3-1.7-3.2-1.6-3.3 .2-3.3 .2 3.2 1.7 3.3 1.8 3.4 1.7 3.4 1.8 3.2-.3zm-6.5 .6l-3.4-1.8-3.4-1.7-3.3-1.8-3.2-1.7-3.3 .2-3.2 .2 3.2 1.8 3.3 1.8 3.3 1.8 3.4 1.8 3.3-.3zm-6.6 .6l-3.4-1.8-3.3-1.8-3.3-1.8-3.2-1.8-3.3 .2-3.3 .2 3.2 1.8 3.3 1.9 3.4 1.8 3.4 1.9 3.2-.3zm-6.5 .6l-3.4-1.9-3.4-1.8-3.3-1.9-3.2-1.8-3.3 .2-3.2 .2 3.2 1.9 3.3 1.9 3.3 1.9 3.4 1.9 3.3-.3zm39.1-10.7l-3.2-1.5-3.1-1.4-3.1-1.4-3-1.4-3.2 .1-3.3 .1 3 1.5 3.1 1.4 3.1 1.5 3.2 1.5 3.2-.2zm-6.5 .4l-3.2-1.5-3.1-1.5-3.1-1.4-3-1.5-3.3 .2-3.3 .1 3 1.5 3.1 1.5 3.1 1.5 3.2 1.5 3.3-.2zm-6.6 .4l-3.2-1.5-3.1-1.5-3.1-1.5-3-1.5-3.2 .1-3.3 .1 3 1.5 3.1 1.6 3.1 1.5 3.2 1.6 3.2-.2zm-6.5 .4l-3.2-1.6-3.1-1.5-3.1-1.6-3-1.5-3.3 .1-3.3 .1 3 1.6 3.1 1.6 3.1 1.6 3.2 1.6 3.3-.2zm26.9-7.5l-3-1.2-2.9-1.3-2.8-1.2-2.9-1.2-3.2 0-3.3 0 2.8 1.3 2.9 1.2 2.9 1.3 2.9 1.3 3.3-.1zm-6.6 .2l-2.9-1.3-2.9-1.3-2.9-1.2-2.8-1.3-3.3 0-3.3 0 2.9 1.3 2.8 1.4 2.9 1.3 3 1.3 3.3-.1zm-6.5 .2l-3-1.3-2.9-1.3-2.8-1.4-2.9-1.3-3.2 0-3.3 0 2.8 1.4 2.9 1.4 2.9 1.3 2.9 1.4 3.3-.1zm14.6-5.3l-2.7-1.1-2.7-1.1-2.6-1.1-2.6-1-3.3-.1-3.3-.1 2.6 1.1 2.7 1.1 2.6 1.2 2.8 1.1 3.3 0zm-6.5 0l-2.8-1.1-2.6-1.2-2.7-1.1-2.6-1.1-3.3-.1-3.2-.1 2.6 1.2 2.6 1.1 2.7 1.2 2.7 1.2 3.3 0zm-6.6 0l-2.7-1.2-2.7-1.2-2.6-1.1-2.6-1.2-3.3-.1-3.3-.1 2.6 1.2 2.7 1.2 2.6 1.3 2.8 1.2 3.3 0zm9-4.1l-2.5-1-2.5-1-2.4-1-2.4-1-3.3-.2-3.2-.2 2.3 1 2.5 1.1 2.4 1 2.6 1.1 3.2 .1zm-6.5-.2l-2.6-1.1-2.4-1-2.5-1.1-2.3-1-3.3-.2-3.3-.2 2.4 1.1 2.4 1.1 2.5 1.1 2.5 1.1 3.3 .1zm9.8-3l-2.3-.9-2.3-.8-2.2-.9-2.2-.8-3.2-.3-3.3-.3 2.1 .9 2.3 .9 2.2 .9 2.4 .9 3.2 .2zm-6.5-.4l-2.4-.9-2.2-.9-2.3-.9-2.1-.9-3.3-.3-3.3-.3 2.2 .9 2.2 1 2.3 .9 2.3 1 3.3 .2zm-6.6-.4l-2.3-1-2.3-.9-2.2-1-2.2-.9-3.2-.3-3.3-.3 2.1 1 2.3 1 2.2 1 2.4 1 3.2 .2zm4.1-2.6l-2.1-.9-2-.8-2-.8-2-.8-3.3-.4-3.2-.4 1.9 .9 2 .8 2.1 .9 2.1 .9 3.3 .3zm-6.5-.6l-2.1-.9-2.1-.9-2-.8-1.9-.9-3.3-.4-3.3-.4 2 .9 2 .9 2 .9 2.1 1 3.3 .3zm5-1.9l-1.9-.7-1.9-.8-1.8-.7-1.7-.7-3.3-.5-3.2-.5 1.7 .8 1.8 .7 1.8 .8 1.9 .8 3.3 .4zm-6.6-.8l-1.9-.8-1.8-.8-1.8-.7-1.7-.8-3.3-.5-3.3-.5 1.7 .8 1.8 .8 1.9 .9 1.9 .8 3.2 .4zm5.9-1.1l-1.7-.7-1.7-.6-1.5-.6-1.5-.7-3.3-.6-3.3-.6 1.5 .7 1.6 .7 1.6 .7 1.7 .7 3.3 .5zm-6.6-1l-1.7-.7-1.6-.7-1.6-.7-1.5-.7-3.3-.6-3.2-.6 1.5 .8 1.5 .7 1.7 .7 1.7 .8 3.2 .5zm.2-1.6l-1.5-.6-1.4-.6-1.4-.6-1.3-.6-3.3-.7-3.2-.7 1.3 .7 1.3 .6 1.4 .7 1.5 .6 3.3 .6zm1-.9l-1.3-.6-1.2-.5-1.2-.5-1-.5-3.3-.8-3.3-.8 1.1 .5 1.1 .6 1.2 .6 1.3 .5 3.3 .7zm-6.6-1.5l-1.3-.5-1.2-.6-1.1-.6-1.1-.5-3.3-.8-3.2-.8 1 .6 1.2 .6 1.2 .6 1.3 .6 3.2 .7zm1.9-.6l-1.1-.5-1-.5-.9-.4-.9-.5-3.3-.9-3.2-.9 .8 .5 1 .5 1 .6 1 .5 3.3 .8zm-3.9-1.9l-.8-.4-.8-.5-.7-.4-.7-.4-3.3-1-3.2-1.1 .6 .5 .8 .5 .7 .5 .9 .5 3.2 .9zm3.6 .3l-.6-.4-.6-.3-.5-.4-.5-.3-3.2-1.1-3.3-1.1 .4 .4 .5 .3 .6 .5 .6 .4 3.3 1zm-2.2-1.4l-.4-.3-.3-.4-.3-.3-.2-.3-3.3-1.2-3.3-1.2 .2 .4 .3 .3 .4 .4 .4 .4 3.3 1.1zm-1.2-1.3l-.2-.2-.2-.3 0-.3-.1-.2-3.2-1.4-3.3-1.3 0 .3 .1 .4 .1 .3 .2 .3 3.3 1.2z"/>
<path color="#0000d7" d="M770.2 300.7l-3.4-1.9-3.3-1.9-3.3-1.9-3.2-1.9-3.3 .2-3.3 .2 3.2 2 3.3 1.9 3.4 2 3.4 2 3.2-.4zm-6.5 .7l-3.4-2-3.4-2-3.3-1.9-3.2-2-3.3 .2-3.2 .3 3.2 1.9 3.3 2 3.3 2.1 3.4 2 3.3-.3zm-6.6 .6l-3.4-2-3.3-2.1-3.3-2-3.2-1.9-3.3 .2-3.3 .2 3.2 2 3.3 2.1 3.4 2 3.4 2.1 3.2-.3zm-6.5 .6l-3.4-2.1-3.4-2-3.3-2.1-3.2-2-3.3 .2-3.2 .2 3.2 2.1 3.3 2.1 3.3 2.1 3.4 2.1 3.3-.3zm39.1-11.6l-3.2-1.6-3.1-1.6-3.1-1.6-3-1.6-3.2 .1-3.3 .1 3 1.6 3.1 1.7 3.1 1.7 3.2 1.7 3.2-.3zm-6.5 .5l-3.2-1.7-3.1-1.7-3.1-1.7-3-1.6-3.3 .1-3.3 .1 3 1.7 3.1 1.7 3.1 1.7 3.2 1.8 3.3-.2zm-6.6 .4l-3.2-1.8-3.1-1.7-3.1-1.7-3-1.7-3.2 .1-3.3 .1 3 1.8 3.1 1.7 3.1 1.8 3.2 1.8 3.2-.2zm-6.5 .4l-3.2-1.8-3.1-1.8-3.1-1.7-3-1.8-3.3 .1-3.3 .1 3 1.8 3.1 1.9 3.1 1.8 3.2 1.8 3.3-.2zm33.4-8.6l-2.9-1.4-2.9-1.3-2.9-1.4-2.8-1.4-3.3 .1-3.3 0 2.9 1.4 2.8 1.4 2.9 1.4 3 1.4 3.3-.1zm-6.5 .2l-3-1.4-2.9-1.4-2.8-1.4-2.9-1.4-3.2 0-3.3 0 2.8 1.4 2.9 1.5 2.9 1.5 2.9 1.5 3.3-.1zm-6.6 .3l-2.9-1.5-2.9-1.5-2.9-1.5-2.8-1.4-3.3 0-3.3 0 2.9 1.5 2.8 1.5 2.9 1.5 3 1.6 3.3-.1zm-6.5 .2l-3-1.6-2.9-1.5-2.8-1.5-2.9-1.5-3.2 0-3.3 0 2.8 1.6 2.9 1.5 2.9 1.6 2.9 1.6 3.3-.1zm21.2-6.2l-2.8-1.2-2.6-1.3-2.7-1.2-2.6-1.2-3.3-.1-3.2-.1 2.6 1.3 2.6 1.2 2.7 1.3 2.7 1.3 3.3 0zm-6.6 0l-2.7-1.3-2.7-1.3-2.6-1.2-2.6-1.3-3.3-.1-3.3-.1 2.6 1.3 2.7 1.4 2.6 1.3 2.8 1.3 3.3 0zm-6.5 0l-2.8-1.3-2.6-1.3-2.7-1.4-2.6-1.3-3.3-.1-3.2-.1 2.6 1.4 2.6 1.4 2.7 1.4 2.7 1.4 3.3 0zm15.5-4.5l-2.5-1.1-2.5-1.1-2.4-1.1-2.4-1.1-3.3-.2-3.2-.2 2.3 1.1 2.5 1.2 2.4 1.1 2.6 1.2 3.2 .1zm-6.5-.2l-2.6-1.2-2.4-1.1-2.5-1.2-2.3-1.1-3.3-.2-3.3-.2 2.4 1.2 2.4 1.2 2.5 1.2 2.5 1.2 3.3 .1zm-6.6-.2l-2.5-1.2-2.5-1.2-2.4-1.2-2.4-1.2-3.3-.2-3.2-.2 2.3 1.3 2.5 1.2 2.4 1.2 2.6 1.3 3.2 .1zm9.9-3.6l-2.4-1-2.2-1-2.3-1-2.1-1-3.3-.3-3.3-.3 2.2 1 2.2 1.1 2.3 1 2.3 1.1 3.3 .2zm-6.6-.4l-2.3-1.1-2.3-1-2.2-1.1-2.2-1-3.2-.3-3.3-.3 2.1 1.1 2.3 1.1 2.2 1.1 2.4 1.1 3.2 .2zm4.1-3l-2.1-1-2-.9-2-.9-2-.9-3.3-.4-3.2-.4 1.9 1 2 .9 2.1 1 2.1 1 3.3 .3zm-6.5-.6l-2.1-1-2.1-1-2-.9-1.9-1-3.3-.4-3.3-.4 2 1 2 1 2 1 2.1 1.1 3.3 .3zm5-2.3l-1.9-.8-1.9-.9-1.8-.8-1.7-.8-3.3-.5-3.2-.5 1.7 .9 1.8 .8 1.8 .9 1.9 .9 3.3 .4zm-.7-2.3l-1.7-.8-1.7-.7-1.5-.7-1.5-.8-3.3-.6-3.3-.6 1.5 .8 1.6 .8 1.6 .8 1.7 .8 3.3 .5zm-6.6-1l-1.7-.8-1.6-.8-1.6-.8-1.5-.8-3.3-.6-3.2-.6 1.5 .9 1.5 .8 1.7 .8 1.7 .9 3.2 .5zm6.7-.8l-1.5-.6-1.4-.7-1.3-.6-1.3-.7-3.3-.7-3.3-.7 1.3 .7 1.4 .7 1.4 .7 1.5 .7 3.2 .6zm-6.5-1.2l-1.5-.7-1.4-.7-1.4-.7-1.3-.7-3.3-.7-3.2-.7 1.3 .8 1.3 .7 1.4 .8 1.5 .7 3.3 .6zm1-1.4l-1.3-.6-1.2-.6-1.2-.6-1-.6-3.3-.8-3.3-.8 1.1 .6 1.1 .7 1.2 .7 1.3 .6 3.3 .7zm1.8-.8l-1-.5-1-.6-1-.5-.8-.5-3.3-.9-3.3-.9 .9 .5 .9 .6 1 .6 1.1 .6 3.2 .8zm-6.5-1.6l-1.1-.6-1-.6-.9-.6-.9-.5-3.3-.9-3.2-.9 .8 .6 1 .6 1 .6 1 .7 3.3 .8zm2.7-.5l-.9-.5-.7-.5-.8-.5-.6-.5-3.3-1-3.3-1 .7 .6 .7 .5 .8 .5 .8 .6 3.3 .9zm3.5 .1l-.6-.4-.6-.5-.5-.3-.4-.4-3.3-1.1-3.3-1.1 .5 .4 .5 .4 .6 .5 .6 .4 3.2 1.1zm-6.5-2.1l-.6-.4-.6-.5-.5-.4-.5-.4-3.2-1.2-3.3-1.1 .4 .5 .5 .5 .6 .5 .6 .5 3.3 1zm4.4 .5l-.4-.4-.4-.4-.3-.3-.2-.4-3.3-1.2-3.2-1.2 .2 .4 .3 .4 .3 .4 .4 .5 3.3 1.1zm-1.3-1.5l-.2-.3-.1-.3-.1-.4 0-.3-3.3-1.3-3.3-1.3 .1 .4 0 .3 .2 .4 .2 .4 3.2 1.2z"/>
<path color="#0000e7" d="M763.5 292.7l-3.2-1.8-3.1-1.8-3.1-1.9-3-1.8-3.2 .2-3.3 .1 3 1.8 3.1 1.9 3.1 1.8 3.2 1.9 3.2-.2zm-6.5 .4l-3.2-1.9-3.1-1.8-3.1-1.9-3-1.8-3.3 .1-3.3 .1 3 1.9 3.1 1.9 3.1 1.9 3.2 1.9 3.3-.2zm-6.6 .4l-3.2-1.9-3.1-1.9-3.1-1.9-3-1.9-3.2 .1-3.3 .1 3 1.9 3.1 2 3.1 2 3.2 2 3.2-.3zm-6.5 .5l-3.2-2-3.1-2-3.1-2-3-1.9-3.3 .1-3.3 .1 3 2 3.1 2 3.1 2 3.2 2.1 3.3-.2zm33.4-9.4l-2.9-1.6-2.9-1.6-2.9-1.5-2.8-1.6-3.3 0-3.3 0 2.9 1.6 2.8 1.6 2.9 1.7 3 1.6 3.3-.1zm-6.5 .2l-3-1.6-2.9-1.7-2.8-1.6-2.9-1.6-3.2 0-3.3 0 2.8 1.7 2.9 1.6 2.9 1.7 2.9 1.7 3.3-.1zm-6.6 .2l-2.9-1.7-2.9-1.7-2.9-1.6-2.8-1.7-3.3 0-3.3 0 2.9 1.7 2.8 1.8 2.9 1.7 3 1.7 3.3-.1zm21.2-6.7l-2.7-1.4-2.7-1.4-2.6-1.4-2.6-1.4-3.3-.1-3.3-.1 2.6 1.4 2.7 1.5 2.6 1.4 2.8 1.5 3.3 0zm-6.5 0l-2.8-1.5-2.6-1.4-2.7-1.5-2.6-1.4-3.3-.1-3.2-.1 2.6 1.5 2.6 1.5 2.7 1.5 2.7 1.5 3.3 0zm-6.6 0l-2.7-1.5-2.7-1.5-2.6-1.5-2.6-1.5-3.3-.1-3.3-.1 2.6 1.6 2.7 1.5 2.6 1.5 2.8 1.6 3.3 0zm15.6-5.2l-2.6-1.3-2.4-1.2-2.5-1.2-2.3-1.3-3.3-.2-3.3-.2 2.4 1.3 2.4 1.3 2.5 1.3 2.5 1.3 3.3 .1zm-6.6-.2l-2.5-1.3-2.5-1.3-2.4-1.3-2.4-1.3-3.3-.2-3.2-.2 2.3 1.4 2.5 1.3 2.4 1.4 2.6 1.3 3.2 .1zm9.9-4l-2.4-1.1-2.2-1.1-2.3-1.1-2.1-1.1-3.3-.3-3.3-.3 2.2 1.1 2.2 1.2 2.3 1.1 2.3 1.2 3.3 .2zm-6.6-.4l-2.3-1.2-2.3-1.1-2.2-1.2-2.2-1.1-3.2-.3-3.3-.3 2.1 1.2 2.3 1.2 2.2 1.2 2.4 1.2 3.2 .2zm4.1-3.4l-2.1-1.1-2-1-2-1-2-1-3.3-.4-3.2-.4 1.9 1.1 2 1 2.1 1.1 2.1 1.1 3.3 .3zm-6.5-.6l-2.1-1.1-2.1-1.1-2-1-1.9-1.1-3.3-.4-3.3-.4 2 1.1 2 1.1 2 1.2 2.1 1.1 3.3 .3zm11.5-1.9l-1.9-.9-1.8-.9-1.8-.8-1.7-.9-3.3-.5-3.3-.5 1.7 .9 1.8 .9 1.9 1 1.9 .9 3.2 .4zm-6.5-.8l-1.9-.9-1.9-1-1.8-.9-1.7-.9-3.3-.5-3.2-.5 1.7 1 1.8 .9 1.8 1 1.9 1 3.3 .4zm-.7-2.7l-1.7-.9-1.7-.8-1.5-.8-1.5-.9-3.3-.6-3.3-.6 1.5 .9 1.6 .9 1.6 .9 1.7 .9 3.3 .5zm.1-2.2l-1.5-.7-1.4-.8-1.3-.7-1.3-.8-3.3-.7-3.3-.7 1.3 .8 1.4 .8 1.4 .8 1.5 .8 3.2 .6zm1-1.6l-1.3-.6-1.2-.7-1.1-.7-1.1-.6-3.3-.8-3.2-.8 1 .7 1.2 .7 1.2 .7 1.3 .7 3.2 .7zm-6.5-1.4l-1.3-.7-1.2-.7-1.2-.7-1-.7-3.3-.8-3.3-.8 1.1 .7 1.1 .8 1.2 .7 1.3 .8 3.3 .7zm1.8-1.2l-1-.7-1-.6-1-.6-.8-.6-3.3-.9-3.3-.9 .9 .6 .9 .7 1 .7 1.1 .7 3.2 .8zm2.7-.7l-.8-.6-.8-.5-.7-.5-.7-.6-3.3-1-3.2-1 .6 .6 .8 .6 .7 .6 .9 .6 3.2 .9zm-3-2.2l-.6-.5-.6-.5-.5-.5-.4-.5-3.3-1.1-3.3-1.1 .5 .6 .5 .5 .6 .6 .6 .5 3.2 1zm4.4 .3l-.4-.5-.3-.4-.3-.4-.2-.4-3.3-1.2-3.3-1.2 .2 .4 .3 .5 .4 .5 .4 .4 3.3 1.1zm-1.2-1.7l-.2-.4-.2-.4 0-.3-.1-.4-3.2-1.3-3.3-1.3 0 .4 .1 .4 .1 .4 .2 .5 3.3 1.2z"/>
<path color="#0000f7" d="M737.3 294.4l-3.2-2.1-3.1-2-3.1-2-3-2-3.2 .1-3.3 .1 3 2.1 3.1 2 3.1 2.1 3.2 2.1 3.2-.2zm20.4-9.2l-3-1.7-2.9-1.7-2.8-1.8-2.9-1.7-3.2 0-3.3 0 2.8 1.8 2.9 1.8 2.9 1.8 2.9 1.7 3.3-.1zm-6.6 .2l-2.9-1.7-2.9-1.8-2.9-1.8-2.8-1.8-3.3 0-3.3 0 2.9 1.9 2.8 1.8 2.9 1.8 3 1.9 3.3-.1zm-6.5 .3l-3-1.9-2.9-1.8-2.8-1.8-2.9-1.9-3.2 .1-3.3 0 2.8 1.8 2.9 1.9 2.9 1.9 2.9 1.9 3.3-.1zm21.2-7.4l-2.8-1.6-2.6-1.5-2.7-1.5-2.6-1.6-3.3 0-3.2-.1 2.6 1.5 2.6 1.6 2.7 1.6 2.7 1.6 3.3 0zm-6.6 0l-2.7-1.6-2.7-1.6-2.6-1.6-2.6-1.5-3.3-.1-3.3-.1 2.6 1.6 2.7 1.6 2.6 1.7 2.8 1.6 3.3 0zm-6.5 0l-2.8-1.6-2.6-1.7-2.7-1.6-2.6-1.6-3.3-.1-3.2-.1 2.6 1.6 2.6 1.7 2.7 1.7 2.7 1.7 3.3 0zm22.1-5.6l-2.6-1.3-2.4-1.4-2.5-1.3-2.3-1.4-3.3-.2-3.3-.2 2.4 1.4 2.4 1.4 2.5 1.4 2.5 1.4 3.3 .1zm-6.6-.2l-2.5-1.4-2.5-1.4-2.4-1.4-2.4-1.4-3.3-.2-3.2-.2 2.3 1.5 2.5 1.4 2.4 1.5 2.6 1.4 3.2 .1zm-6.5-.2l-2.6-1.4-2.4-1.5-2.5-1.4-2.3-1.5-3.3-.2-3.3-.1 2.4 1.4 2.4 1.5 2.5 1.5 2.5 1.5 3.3 .1zm16.4-4.2l-2.4-1.2-2.2-1.2-2.3-1.2-2.1-1.2-3.3-.3-3.3-.3 2.2 1.2 2.2 1.3 2.3 1.3 2.3 1.2 3.3 .2zm-6.6-.4l-2.3-1.2-2.3-1.3-2.2-1.3-2.2-1.2-3.2-.3-3.3-.3 2.1 1.3 2.3 1.3 2.2 1.3 2.4 1.3 3.2 .2zm4.1-3.8l-2.1-1.1-2-1.2-2-1.1-2-1.1-3.3-.4-3.2-.4 1.9 1.2 2 1.1 2.1 1.2 2.1 1.2 3.3 .3zm-6.5-.6l-2.1-1.2-2.1-1.2-2-1.1-1.9-1.2-3.3-.4-3.3-.4 2 1.2 2 1.2 2 1.3 2.1 1.2 3.3 .3zm11.5-2.3l-1.9-1-1.8-1-1.8-.9-1.7-1-3.3-.5-3.3-.5 1.7 1 1.8 1 1.9 1.1 1.9 1 3.2 .4zm-6.5-.8l-1.9-1-1.9-1.1-1.8-1-1.7-1-3.3-.5-3.2-.5 1.7 1.1 1.8 1 1.8 1.1 1.9 1.1 3.3 .4zm5.8-2.1l-1.7-.9-1.6-.9-1.6-.9-1.5-.9-3.3-.6-3.2-.6 1.5 .9 1.5 1 1.7 .9 1.7 1 3.2 .5zm-6.5-1l-1.7-1-1.7-.9-1.5-1-1.5-.9-3.3-.6-3.3-.6 1.5 1 1.6 1 1.6 1 1.7 1 3.3 .5zm6.7-1.4l-1.5-.8-1.4-.8-1.4-.8-1.3-.8-3.3-.7-3.2-.7 1.3 .9 1.3 .8 1.4 .9 1.5 .8 3.3 .6zm-6.6-1.2l-1.5-.8-1.4-.9-1.3-.8-1.3-.9-3.3-.7-3.3-.7 1.3 .9 1.4 .9 1.4 .9 1.5 .9 3.2 .6zm1-2l-1.3-.8-1.2-.7-1.1-.8-1.1-.7-3.3-.8-3.2-.9 1 .8 1.2 .9 1.2 .8 1.3 .8 3.2 .7zm1.9-1.4l-1.1-.7-1-.7-.9-.7-.9-.6-3.3-.9-3.2-1 .8 .8 1 .7 1 .7 1 .8 3.3 .8zm2.7-.9l-.9-.6-.7-.6-.8-.6-.6-.6-3.3-1-3.3-1 .7 .6 .7 .7 .8 .6 .8 .7 3.3 .9zm-6.6-1.8l-.8-.7-.8-.6-.7-.7-.7-.6-3.3-1-3.2-1 .6 .7 .8 .7 .7 .6 .9 .7 3.2 1zm3.6-.6l-.6-.5-.6-.6-.5-.5-.5-.6-3.2-1.1-3.3-1.1 .4 .6 .5 .6 .6 .6 .6 .6 3.3 1zm4.4 0l-.4-.4-.4-.5-.3-.5-.2-.4-3.3-1.2-3.2-1.2 .2 .5 .3 .5 .3 .5 .4 .5 3.3 1.1zm-1.3-1.8l-.2-.5-.1-.4-.1-.4 0-.4-3.3-1.3-3.3-1.3 .1 .4 0 .5 .2 .5 .2 .5 3.2 1.2z"/>
<path color="#0008ff" d="M738 285.9l-2.9-1.9-2.9-1.9-2.9-1.9-2.8-1.8-3.3 0-3.3 0 2.9 1.9 2.8 1.9 2.9 1.9 3 2 3.3-.1zm-6.5 .2l-3-2-2.9-1.9-2.8-1.9-2.9-1.9-3.2 0-3.3 0 2.8 1.9 2.9 2 2.9 2 2.9 2 3.3-.1zm-6.6 .2l-2.9-2-2.9-2-2.9-2-2.8-1.9-3.3 0-3.3 0 2.9 2 2.8 2 2.9 2.1 3 2 3.3-.1zm21.2-8l-2.7-1.7-2.7-1.7-2.6-1.7-2.6-1.6-3.3-.1-3.3-.1 2.6 1.7 2.7 1.7 2.6 1.8 2.8 1.7 3.3 0zm-6.5 0l-2.8-1.7-2.6-1.8-2.7-1.7-2.6-1.7-3.3-.1-3.2-.1 2.6 1.8 2.6 1.8 2.7 1.7 2.7 1.8 3.3 0zm15.5-6.2l-2.5-1.5-2.5-1.5-2.4-1.5-2.4-1.4-3.3-.2-3.2-.2 2.3 1.5 2.5 1.5 2.4 1.6 2.6 1.6 3.2 .1zm-6.5-.1l-2.6-1.6-2.4-1.6-2.5-1.5-2.3-1.5-3.3-.2-3.3-.2 2.4 1.5 2.4 1.6 2.5 1.6 2.5 1.7 3.3 .1zm16.4-4.7l-2.4-1.3-2.2-1.3-2.3-1.3-2.1-1.3-3.3-.3-3.3-.3 2.2 1.3 2.2 1.4 2.3 1.4 2.3 1.3 3.3 .2zm-6.6-.4l-2.3-1.3-2.3-1.4-2.2-1.4-2.2-1.3-3.2-.3-3.3-.3 2.1 1.4 2.3 1.4 2.2 1.4 2.4 1.4 3.2 .2zm-6.5-.4l-2.4-1.4-2.2-1.4-2.3-1.4-2.1-1.4-3.3-.3-3.3-.3 2.2 1.5 2.2 1.4 2.3 1.5 2.3 1.5 3.3 .1zm10.6-3.8l-2.1-1.2-2-1.3-2-1.2-2-1.2-3.3-.4-3.2-.4 1.9 1.3 2 1.2 2.1 1.3 2.1 1.3 3.3 .3zm-6.5-.6l-2.1-1.3-2.1-1.3-2-1.2-1.9-1.3-3.3-.4-3.3-.4 2 1.3 2 1.3 2 1.4 2.1 1.3 3.3 .3zm11.5-2.7l-1.9-1.1-1.8-1.1-1.8-1-1.7-1.1-3.3-.5-3.3-.5 1.7 1.1 1.8 1.1 1.9 1.2 1.9 1.1 3.2 .4zm-6.5-.8l-1.9-1.1-1.9-1.2-1.8-1.1-1.7-1.1-3.3-.5-3.2-.5 1.7 1.2 1.8 1.1 1.8 1.2 1.9 1.2 3.3 .4zm5.8-2.5l-1.7-1-1.6-1-1.6-1-1.5-1-3.3-.6-3.2-.6 1.5 1 1.5 1.1 1.7 1 1.7 1.1 3.2 .5zm-6.5-1l-1.7-1.1-1.7-1-1.5-1.1-1.5-1-3.3-.6-3.3-.6 1.5 1.1 1.6 1.1 1.6 1.1 1.7 1.1 3.3 .5zm6.7-1.8l-1.5-.9-1.4-.9-1.4-.9-1.3-.9-3.3-.7-3.2-.7 1.3 .9 1.3 1 1.4 .9 1.5 1 3.3 .6zm1-2.2l-1.3-.8-1.2-.8-1.2-.9-1-.8-3.3-.8-3.3-.8 1.1 .9 1.1 .9 1.2 .8 1.3 .9 3.3 .7zm1.8-1.6l-1-.8-1-.7-1-.7-.8-.8-3.3-.9-3.3-.9 .9 .8 .9 .8 1 .8 1.1 .7 3.2 .9zm-6.5-1.7l-1.1-.7-1-.8-.9-.8-.9-.8-3.3-.9-3.2-.9 .8 .8 1 .9 1 .8 1 .8 3.3 .8zm2.7-1.3l-.9-.7-.7-.6-.8-.7-.6-.7-3.3-1-3.3-1 .7 .7 .7 .7 .8 .8 .8 .7 3.3 .9zm3.5-.7l-.6-.6-.6-.6-.5-.6-.4-.6-3.3-1.1-3.3-1.1 .5 .6 .5 .7 .6 .6 .6 .7 3.2 1zm4.4-.2l-.4-.5-.3-.5-.3-.5-.2-.5-3.3-1.2-3.3-1.3 .2 .6 .3 .6 .4 .5 .4 .6 3.3 1.1zm-6.5-2.2l-.4-.6-.4-.5-.3-.6-.2-.6-3.3-1.2-3.2-1.2 .2 .6 .3 .6 .3 .7 .4 .6 3.3 1.1zm5.3 .2l-.2-.5-.2-.5 0-.5-.1-.4-3.2-1.3-3.3-1.4 0 .6 .1 .5 .1 .5 .2 .5 3.3 1.3z"/>
<path color="#0018ff" d="M733 278.3l-2.7-1.8-2.7-1.7-2.6-1.8-2.6-1.8-3.3-.1-3.3-.1 2.6 1.8 2.7 1.9 2.6 1.8 2.8 1.9 3.3 0zm-6.5 .1l-2.8-1.9-2.6-1.8-2.7-1.9-2.6-1.8-3.3-.1-3.2-.1 2.6 1.9 2.6 1.9 2.7 1.9 2.7 1.9 3.3 0zm-6.6 0l-2.7-1.9-2.7-1.9-2.6-1.9-2.6-1.9-3.3-.1-3.3-.1 2.6 1.9 2.7 2 2.6 1.9 2.8 2 3.3 0zm22.1-6.6l-2.5-1.7-2.5-1.6-2.4-1.6-2.4-1.5-3.3-.2-3.2-.2 2.3 1.6 2.5 1.7 2.4 1.6 2.6 1.7 3.2 .1zm-6.5-.2l-2.6-1.7-2.4-1.6-2.5-1.7-2.3-1.6-3.3-.2-3.3-.2 2.4 1.7 2.4 1.7 2.5 1.7 2.5 1.7 3.3 .1zm-6.6-.2l-2.5-1.7-2.5-1.7-2.4-1.7-2.4-1.7-3.3-.2-3.2-.2 2.3 1.7 2.5 1.8 2.4 1.7 2.6 1.8 3.2 .1zm16.4-5.2l-2.3-1.5-2.3-1.5-2.2-1.4-2.2-1.5-3.2-.3-3.3-.3 2.1 1.5 2.3 1.5 2.2 1.5 2.4 1.6 3.2 .2zm-6.5-.4l-2.4-1.6-2.2-1.5-2.3-1.5-2.1-1.5-3.3-.3-3.3-.3 2.2 1.6 2.2 1.5 2.3 1.6 2.3 1.6 3.3 .2zm10.6-4.3l-2.1-1.3-2-1.4-2-1.3-2-1.3-3.3-.4-3.2-.4 1.9 1.4 2 1.3 2.1 1.4 2.1 1.4 3.3 .3zm-6.5-.6l-2.1-1.4-2.1-1.4-2-1.3-1.9-1.4-3.3-.4-3.3-.4 2 1.4 2 1.4 2 1.5 2.1 1.4 3.3 .3zm11.5-3.1l-1.9-1.2-1.8-1.2-1.8-1.1-1.7-1.2-3.3-.5-3.3-.5 1.7 1.2 1.8 1.2 1.9 1.3 1.9 1.2 3.2 .4zm-6.5-.8l-1.9-1.2-1.9-1.3-1.8-1.2-1.7-1.2-3.3-.5-3.2-.5 1.7 1.2 1.8 1.3 1.8 1.3 1.9 1.3 3.3 .4zm5.8-2.9l-1.7-1.1-1.6-1.1-1.6-1.1-1.5-1.1-3.3-.6-3.2-.6 1.5 1.1 1.5 1.2 1.7 1.1 1.7 1.2 3.2 .5zm6.7-2l-1.5-1-1.4-.9-1.3-1-1.3-.9-3.3-.7-3.3-.7 1.3 1 1.4 1 1.4 1 1.5 1 3.2 .6zm-6.5-1.2l-1.5-1-1.4-1-1.4-1-1.3-1-3.3-.7-3.2-.7 1.3 1 1.3 1.1 1.4 1 1.5 1.1 3.3 .6zm7.5-1.2l-1.3-.9-1.2-.8-1.1-.9-1.1-.9-3.3-.8-3.2-.8 1 .9 1.2 .9 1.2 1 1.3 .9 3.2 .7zm-6.5-1.4l-1.3-.9-1.2-1-1.2-.9-1-.9-3.3-.8-3.3-.8 1.1 1 1.1 .9 1.2 1 1.3 1 3.3 .7zm1.8-2.1l-1-.8-1-.8-1-.9-.8-.8-3.3-.9-3.3-.9 .9 .9 .9 .9 1 .8 1.1 .9 3.2 .8zm2.7-1.5l-.8-.7-.8-.8-.7-.7-.7-.7-3.3-1-3.2-1 .6 .7 .8 .8 .7 .8 .9 .8 3.2 .9zm3.6-.9l-.6-.7-.6-.6-.5-.7-.5-.6-3.2-1.1-3.3-1.1 .4 .7 .5 .7 .6 .7 .6 .7 3.3 1zm-2.2-2.6l-.4-.6-.3-.7-.3-.6-.2-.6-3.3-1.2-3.3-1.2 .2 .7 .3 .6 .4 .7 .4 .7 3.3 1.1zm5.3-.1l-.2-.5-.1-.5-.1-.5 0-.6-3.3-1.3-3.3-1.3 .1 .6 0 .6 .2 .5 .2 .6 3.2 1.2z"/>
<path color="#0028ff" d="M713.4 278.4l-2.8-2-2.6-1.9-2.7-2-2.6-1.9-3.3-.1-3.2-.1 2.6 2 2.6 2 2.7 2 2.7 2 3.3 0zm9-7.2l-2.6-1.8-2.4-1.7-2.5-1.8-2.3-1.7-3.3-.2-3.3-.2 2.4 1.8 2.4 1.8 2.5 1.8 2.5 1.8 3.3 .1zm-6.6-.2l-2.5-1.8-2.5-1.8-2.4-1.8-2.4-1.8-3.3-.2-3.2-.2 2.3 1.8 2.5 1.9 2.4 1.8 2.6 1.9 3.2 .1zm16.4-5.6l-2.3-1.6-2.3-1.6-2.2-1.5-2.2-1.6-3.2-.3-3.3-.3 2.1 1.6 2.3 1.6 2.2 1.6 2.4 1.7 3.2 .2zm-6.5-.4l-2.4-1.7-2.2-1.6-2.3-1.6-2.1-1.6-3.3-.3-3.3-.3 2.2 1.7 2.2 1.6 2.3 1.7 2.3 1.7 3.3 .2zm10.6-4.7l-2.1-1.4-2-1.5-2-1.4-2-1.4-3.3-.4-3.2-.4 1.9 1.5 2 1.4 2.1 1.5 2.1 1.5 3.3 .3zm-6.5-.6l-2.1-1.5-2.1-1.5-2-1.4-1.9-1.5-3.3-.4-3.3-.4 2 1.5 2 1.5 2 1.6 2.1 1.5 3.3 .3zm11.5-3.5l-1.9-1.3-1.8-1.3-1.8-1.3-1.7-1.2-3.3-.5-3.3-.5 1.7 1.3 1.8 1.3 1.9 1.4 1.9 1.3 3.2 .4zm-6.5-.8l-1.9-1.3-1.9-1.4-1.8-1.3-1.7-1.3-3.3-.5-3.2-.5 1.7 1.3 1.8 1.4 1.8 1.4 1.9 1.4 3.3 .4zm12.4-2.3l-1.7-1.2-1.7-1.1-1.5-1.2-1.5-1.1-3.3-.6-3.3-.6 1.5 1.2 1.6 1.2 1.6 1.2 1.7 1.2 3.3 .5zm-6.6-1l-1.7-1.2-1.6-1.2-1.6-1.2-1.5-1.2-3.3-.6-3.2-.6 1.5 1.2 1.5 1.3 1.7 1.2 1.7 1.3 3.2 .5zm6.7-2.4l-1.5-1.1-1.4-1-1.3-1.1-1.3-1-3.3-.7-3.3-.7 1.3 1.1 1.4 1.1 1.4 1.1 1.5 1.1 3.2 .6zm-6.5-1.2l-1.5-1.1-1.4-1.1-1.4-1.1-1.3-1.1-3.3-.7-3.2-.7 1.3 1.1 1.3 1.2 1.4 1.1 1.5 1.2 3.3 .6zm7.5-1.6l-1.3-1-1.2-1-1.1-.9-1.1-1-3.3-.8-3.2-.8 1 1 1.2 1 1.2 1.1 1.3 1 3.2 .7zm1.9-2.3l-1.1-.9-1-.8-.9-.9-.9-.9-3.3-.9-3.2-.9 .8 .9 1 .9 1 1 1 .9 3.3 .8zm2.7-1.7l-.9-.8-.7-.8-.8-.8-.6-.7-3.3-1-3.3-1.1 .7 .9 .7 .8 .8 .9 .8 .8 3.3 .9zm3.5-1.1l-.6-.7-.6-.7-.5-.7-.4-.7-3.3-1.1-3.3-1.2 .5 .8 .5 .7 .6 .8 .6 .8 3.2 1zm-6.5-2l-.6-.8-.6-.8-.5-.7-.5-.8-3.2-1.1-3.3-1.1 .4 .8 .5 .8 .6 .8 .6 .8 3.3 1.1zm4.4-.8l-.4-.7-.4-.7-.3-.6-.2-.7-3.3-1.2-3.2-1.2 .2 .7 .3 .7 .3 .7 .4 .7 3.3 1.2zm5.3-.3l-.2-.6-.2-.5 0-.6-.1-.6-3.2-1.3-3.3-1.3 0 .6 .1 .6 .1 .7 .2 .6 3.3 1.2z"/>
<path color="#0038ff" d="M709.3 270.8l-2.6-1.9-2.4-1.8-2.5-1.9-2.3-1.8-3.3-.2-3.3-.2 2.4 1.9 2.4 1.9 2.5 1.9 2.5 1.9 3.3 .1zm-6.6-.2l-2.5-1.9-2.5-1.9-2.4-1.9-2.4-1.9-3.3-.2-3.2-.2 2.3 1.9 2.5 2 2.4 2 2.6 1.9 3.2 .1zm16.4-6l-2.3-1.7-2.3-1.7-2.2-1.6-2.2-1.7-3.2-.3-3.3-.3 2.1 1.7 2.3 1.7 2.2 1.8 2.4 1.7 3.2 .2zm-6.5-.4l-2.4-1.7-2.2-1.8-2.3-1.7-2.1-1.7-3.3-.3-3.3-.3 2.2 1.8 2.2 1.7 2.3 1.8 2.3 1.8 3.3 .2zm10.6-5.1l-2.1-1.5-2-1.6-2-1.5-2-1.5-3.3-.4-3.2-.4 1.9 1.6 2 1.6 2.1 1.5 2.1 1.6 3.3 .3zm-6.5-.6l-2.1-1.6-2.1-1.5-2-1.6-1.9-1.6-3.3-.4-3.3-.4 2 1.6 2 1.7 2 1.6 2.1 1.6 3.3 .3zm11.5-3.9l-1.9-1.4-1.8-1.4-1.8-1.4-1.7-1.3-3.3-.5-3.3-.5 1.7 1.4 1.8 1.4 1.9 1.5 1.9 1.4 3.2 .4zm5.9-3.5l-1.7-1.3-1.7-1.2-1.5-1.3-1.5-1.2-3.3-.6-3.3-.6 1.5 1.3 1.6 1.3 1.6 1.3 1.7 1.3 3.3 .5zm-6.6-1l-1.7-1.3-1.6-1.3-1.6-1.3-1.5-1.3-3.3-.6-3.2-.6 1.5 1.3 1.5 1.4 1.7 1.3 1.7 1.4 3.2 .5zm6.7-2.8l-1.5-1.2-1.4-1.1-1.3-1.2-1.3-1.1-3.3-.7-3.3-.7 1.3 1.2 1.4 1.2 1.4 1.2 1.5 1.2 3.2 .6zm7.6-1.8l-1.3-1-1.2-1.1-1.2-1-1-1-3.3-.8-3.3-.8 1.1 1.1 1.1 1 1.2 1.1 1.3 1.1 3.3 .7zm-6.6-1.4l-1.3-1.1-1.2-1.1-1.1-1-1.1-1.1-3.3-.8-3.2-.8 1 1.1 1.2 1.1 1.2 1.1 1.3 1.2 3.2 .7zm8.4-1.1l-1-.9-1-1-1-.9-.8-.9-3.3-.9-3.3-.9 .9 1 .9 .9 1 1 1.1 1 3.2 .8zm-6.5-1.6l-1.1-1-1-1-.9-.9-.9-1-3.3-.9-3.2-.9 .8 1 1 1 1 1.1 1 1 3.3 .8zm9.2-.3l-.8-.8-.8-.9-.7-.8-.7-.9-3.3-1-3.2-1 .6 .9 .8 .9 .7 .9 .9 .9 3.2 .9zm-6.5-1.8l-.9-.9-.7-.9-.8-.9-.6-.9-3.3-1-3.3-1 .7 .9 .7 1 .8 .9 .8 1 3.3 .9zm3.5-1.6l-.6-.8-.6-.8-.5-.8-.4-.8-3.3-1.1-3.3-1.1 .5 .9 .5 .8 .6 .9 .6 .8 3.2 1zm4.4-1l-.4-.7-.3-.7-.3-.7-.2-.7-3.3-1.2-3.3-1.2 .2 .7 .3 .8 .4 .8 .4 .7 3.3 1.1zm5.3-.4l-.2-.6-.1-.7-.1-.6 0-.6-3.3-1.3-3.3-1.3 .1 .6 0 .7 .2 .7 .2 .7 3.2 1.2z"/>
<path color="#0048ff" d="M706 263.8l-2.3-1.8-2.3-1.8-2.2-1.7-2.2-1.8-3.2-.3-3.3-.3 2.1 1.8 2.3 1.8 2.2 1.9 2.4 1.8 3.2 .2zm-6.5-.4l-2.4-1.8-2.2-1.9-2.3-1.8-2.1-1.8-3.3-.3-3.3-.3 2.2 1.9 2.2 1.9 2.3 1.8 2.3 1.9 3.3 .2zm-6.6-.4l-2.3-1.9-2.3-1.8-2.2-1.9-2.2-1.9-3.2-.3-3.3-.3 2.1 1.9 2.3 2 2.2 1.9 2.4 1.9 3.2 .2zm17.2-5.1l-2.1-1.6-2-1.6-2-1.7-2-1.6-3.3-.4-3.2-.4 1.9 1.7 2 1.7 2.1 1.6 2.1 1.7 3.3 .3zm-6.5-.6l-2.1-1.7-2.1-1.6-2-1.7-1.9-1.7-3.3-.4-3.3-.4 2 1.7 2 1.8 2 1.7 2.1 1.7 3.3 .3zm18.1-3.5l-1.9-1.4-1.9-1.5-1.8-1.4-1.7-1.4-3.3-.5-3.2-.5 1.7 1.4 1.8 1.5 1.8 1.5 1.9 1.5 3.3 .4zm-6.6-.8l-1.9-1.5-1.8-1.5-1.8-1.5-1.7-1.4-3.3-.5-3.3-.5 1.7 1.5 1.8 1.5 1.9 1.6 1.9 1.5 3.2 .4zm5.9-3.9l-1.7-1.4-1.7-1.3-1.5-1.4-1.5-1.3-3.3-.6-3.3-.6 1.5 1.4 1.6 1.4 1.6 1.4 1.7 1.4 3.3 .5zm6.7-3l-1.5-1.2-1.4-1.2-1.4-1.2-1.3-1.2-3.3-.7-3.2-.7 1.3 1.2 1.3 1.3 1.4 1.2 1.5 1.3 3.3 .6zm-6.6-1.2l-1.5-1.3-1.4-1.2-1.3-1.3-1.3-1.2-3.3-.7-3.3-.8 1.3 1.3 1.4 1.3 1.4 1.4 1.5 1.3 3.2 .6zm7.6-2.2l-1.3-1.2-1.2-1.1-1.2-1.1-1-1.1-3.3-.8-3.3-.8 1.1 1.1 1.1 1.2 1.2 1.2 1.3 1.2 3.3 .7zm1.8-2.9l-1-1-1-1.1-1-1-.8-1-3.3-.9-3.3-.9 .9 1 .9 1.1 1 1.1 1.1 1.1 3.2 .8zm2.7-2.3l-.8-1-.8-.9-.7-1-.7-.9-3.3-1-3.2-1 .6 1 .8 1 .7 1 .9 1 3.2 .9zm3.6-1.8l-.6-.8-.6-.9-.5-.8-.5-.9-3.2-1.1-3.3-1.1 .4 .9 .5 .9 .6 .9 .6 .9 3.3 1zm4.4-1.2l-.4-.7-.4-.8-.3-.8-.2-.7-3.3-1.2-3.2-1.3 .2 .9 .3 .8 .3 .8 .4 .8 3.3 1.1zm5.3-.6l-.2-.7-.2-.7 0-.7-.1-.6-3.2-1.3-3.3-1.3 0 .7 .1 .7 .1 .7 .2 .8 3.3 1.2z"/>
<path color="#0058ff" d="M697 256.7l-2.1-1.7-2-1.7-2-1.8-2-1.7-3.3-.4-3.2-.4 1.9 1.8 2 1.8 2.1 1.7 2.1 1.8 3.3 .3zm-6.5-.6l-2.1-1.8-2.1-1.7-2-1.8-1.9-1.8-3.3-.4-3.3-.4 2 1.8 2 1.9 2 1.8 2.1 1.8 3.3 .3zm18.1-3.9l-1.9-1.5-1.9-1.6-1.8-1.5-1.7-1.5-3.3-.5-3.2-.5 1.7 1.5 1.8 1.6 1.8 1.6 1.9 1.6 3.3 .4zm-6.6-.8l-1.9-1.6-1.8-1.6-1.8-1.6-1.7-1.5-3.3-.5-3.3-.5 1.7 1.6 1.8 1.6 1.9 1.7 1.9 1.6 3.2 .4zm12.4-3.3l-1.7-1.4-1.6-1.4-1.6-1.4-1.5-1.4-3.3-.6-3.2-.6 1.5 1.4 1.5 1.5 1.7 1.4 1.7 1.5 3.2 .5zm-6.5-1l-1.7-1.5-1.7-1.4-1.5-1.5-1.5-1.4-3.3-.6-3.3-.6 1.5 1.5 1.6 1.5 1.6 1.5 1.7 1.5 3.3 .5zm6.7-3.4l-1.5-1.3-1.4-1.4-1.4-1.3-1.3-1.3-3.3-.7-3.2-.7 1.3 1.4 1.3 1.3 1.4 1.4 1.5 1.4 3.3 .6zm7.5-2.4l-1.3-1.2-1.2-1.2-1.1-1.2-1.1-1.1-3.3-.8-3.2-.8 1 1.2 1.2 1.2 1.2 1.2 1.3 1.3 3.2 .7zm-6.5-1.4l-1.3-1.3-1.2-1.2-1.2-1.2-1-1.2-3.3-.8-3.3-.8 1.1 1.2 1.1 1.3 1.2 1.3 1.3 1.2 3.3 .8zm8.4-1.7l-1.1-1.1-1-1.1-.9-1.1-.9-1-3.3-.9-3.2-.9 .8 1.1 1 1.1 1 1.1 1 1.2 3.3 .8zm2.7-2.5l-.9-1-.7-1-.8-1-.6-1-3.3-1-3.3-1 .7 1 .7 1.1 .8 1 .8 1.1 3.3 .9zm3.5-2l-.6-.9-.6-.9-.5-.9-.4-.9-3.3-1.1-3.3-1.1 .5 .9 .5 1 .6 .9 .6 1 3.2 1zm4.4-1.4l-.4-.8-.3-.8-.3-.8-.2-.9-3.3-1.2-3.3-1.2 .2 .9 .3 .8 .4 .9 .4 .9 3.3 1.1zm5.3-.8l-.2-.8-.1-.7-.1-.7 0-.7-3.3-1.4-3.3-1.3 .1 .8 0 .8 .2 .8 .2 .7 3.2 1.3z"/>
<path color="#0068ff" d="M683.9 255.5l-2.1-1.8-2-1.8-2-1.9-2-1.8-3.3-.4-3.2-.4 1.9 1.9 2 1.9 2.1 1.8 2.1 1.9 3.3 .3zm11.6-4.9l-1.9-1.6-1.9-1.7-1.8-1.6-1.7-1.6-3.3-.5-3.2-.5 1.7 1.6 1.8 1.7 1.8 1.7 1.9 1.7 3.3 .4zm-6.6-.8l-1.9-1.7-1.8-1.7-1.8-1.7-1.7-1.6-3.3-.5-3.3-.5 1.7 1.7 1.8 1.7 1.9 1.8 1.9 1.7 3.2 .4zm12.4-3.7l-1.7-1.5-1.6-1.5-1.6-1.5-1.5-1.5-3.3-.6-3.2-.6 1.5 1.5 1.5 1.6 1.7 1.5 1.7 1.6 3.2 .5zm-6.5-1l-1.7-1.6-1.7-1.5-1.5-1.6-1.5-1.5-3.3-.6-3.3-.6 1.5 1.6 1.6 1.5 1.6 1.7 1.7 1.6 3.3 .5zm13.2-2.6l-1.5-1.4-1.4-1.4-1.3-1.3-1.3-1.4-3.3-.7-3.3-.7 1.3 1.4 1.4 1.4 1.4 1.5 1.5 1.4 3.2 .6zm-6.5-1.2l-1.5-1.4-1.4-1.5-1.4-1.4-1.3-1.4-3.3-.7-3.2-.7 1.3 1.5 1.3 1.4 1.4 1.5 1.5 1.5 3.3 .6zm7.5-2.9l-1.3-1.2-1.2-1.3-1.1-1.3-1.1-1.2-3.3-.8-3.2-.8 1 1.3 1.2 1.3 1.2 1.3 1.3 1.3 3.2 .7zm8.4-1.8l-1-1.2-1-1.1-1-1.1-.8-1.1-3.3-1-3.3-.9 .9 1.2 .9 1.2 1 1.2 1.1 1.2 3.2 .8zm-6.5-1.6l-1.1-1.2-1-1.2-.9-1.2-.9-1.2-3.3-.9-3.2-.9 .8 1.2 1 1.3 1 1.2 1 1.3 3.3 .8zm9.2-1.1l-.8-1.1-.8-1-.7-1.1-.7-1-3.3-1-3.2-1 .6 1.1 .8 1 .7 1.1 .9 1.2 3.2 .9zm3.6-2.2l-.6-1-.6-.9-.5-1-.5-.9-3.2-1.1-3.3-1.1 .4 1 .5 1 .6 1 .6 1 3.3 1zm4.4-1.6l-.4-.9-.4-.9-.3-.8-.2-.9-3.3-1.2-3.2-1.2 .2 .9 .3 .9 .3 .9 .4 1 3.3 1.1zm5.3-1.1l-.2-.7-.2-.8 0-.8-.1-.8-3.2-1.3-3.3-1.3 0 .8 .1 .8 .1 .9 .2 .8 3.3 1.2z"/>
<path color="#0078ff" d="M682.4 249l-1.9-1.7-1.9-1.8-1.8-1.7-1.7-1.7-3.3-.5-3.2-.5 1.7 1.7 1.8 1.8 1.8 1.8 1.9 1.8 3.3 .4zm-6.6-.8l-1.9-1.8-1.8-1.8-1.8-1.8-1.7-1.7-3.3-.5-3.3-.5 1.7 1.8 1.8 1.8 1.9 1.9 1.9 1.8 3.2 .4zm12.4-4.1l-1.7-1.6-1.6-1.7-1.6-1.5-1.5-1.6-3.3-.6-3.2-.6 1.5 1.6 1.5 1.6 1.7 1.7 1.7 1.7 3.2 .5zm6.7-4l-1.5-1.5-1.4-1.5-1.3-1.4-1.3-1.5-3.3-.7-3.3-.7 1.3 1.5 1.4 1.5 1.4 1.5 1.5 1.6 3.2 .6zm7.6-3.1l-1.3-1.3-1.2-1.3-1.2-1.3-1-1.3-3.3-.9-3.3-.8 1.1 1.4 1.1 1.4 1.2 1.3 1.3 1.4 3.3 .7zm-6.6-1.4l-1.3-1.4-1.2-1.3-1.1-1.4-1.1-1.4-3.3-.8-3.2-.8 1 1.4 1.2 1.5 1.2 1.4 1.3 1.4 3.2 .7zm8.4-2.2l-1-1.3-1-1.2-1-1.3-.8-1.2-3.3-.9-3.3-.9 .9 1.3 .9 1.3 1 1.3 1.1 1.3 3.2 .8zm9.3-1.3l-.9-1.2-.7-1.1-.8-1-.6-1.1-3.3-1-3.3-1 .7 1.1 .7 1.1 .8 1.2 .8 1.1 3.3 .9zm-6.6-1.9l-.8-1.1-.8-1.2-.7-1.1-.7-1.1-3.3-1-3.2-1.1 .6 1.2 .8 1.2 .7 1.2 .9 1.2 3.2 .9zm10.1-.5l-.6-1-.6-1-.5-1-.4-1-3.3-1.1-3.3-1.2 .5 1.1 .5 1 .6 1.1 .6 1.1 3.2 1zm4.4-1.8l-.4-1-.3-.9-.3-.9-.2-.9-3.3-1.2-3.3-1.2 .2 .9 .3 1 .4 1 .4 1 3.3 1.1zm5.3-1.3l-.2-.8-.1-.9-.1-.8 0-.8-3.3-1.3-3.3-1.3 .1 .9 0 .8 .2 .9 .2 .9 3.2 1.2z"/>
<path color="#0087ff" d="M681.7 243.1l-1.7-1.7-1.7-1.7-1.5-1.6-1.5-1.6-3.3-.6-3.3-.6 1.5 1.6 1.6 1.7 1.6 1.7 1.7 1.8 3.3 .5zm-6.6-1l-1.7-1.8-1.6-1.7-1.6-1.7-1.5-1.6-3.3-.6-3.2-.6 1.5 1.7 1.5 1.7 1.7 1.8 1.7 1.8 3.2 .5zm13.3-3.2l-1.5-1.6-1.4-1.5-1.4-1.5-1.3-1.5-3.3-.7-3.2-.7 1.3 1.6 1.3 1.5 1.4 1.6 1.5 1.6 3.3 .6zm-6.6-1.2l-1.5-1.6-1.4-1.6-1.3-1.5-1.3-1.6-3.3-.7-3.3-.7 1.3 1.6 1.4 1.6 1.4 1.6 1.5 1.7 3.2 .6zm7.6-3.5l-1.3-1.4-1.2-1.4-1.2-1.5-1-1.4-3.3-.8-3.3-.8 1.1 1.5 1.1 1.5 1.2 1.4 1.3 1.5 3.3 .7zm8.4-2.4l-1.1-1.3-1-1.3-.9-1.3-.9-1.3-3.3-.9-3.2-.9 .8 1.3 1 1.4 1 1.3 1 1.3 3.3 .8zm2.7-3.4l-.9-1.2-.7-1.2-.8-1.2-.6-1.2-3.3-1-3.3-1 .7 1.3 .7 1.2 .8 1.3 .8 1.2 3.3 .9zm10.1-.7l-.6-1.1-.6-1.1-.5-1-.5-1.1-3.2-1.1-3.3-1.1 .4 1.1 .5 1.1 .6 1.1 .6 1.2 3.3 1zm-6.6-2l-.6-1.2-.6-1.1-.5-1.1-.4-1.1-3.3-1.1-3.3-1.1 .5 1.2 .5 1.1 .6 1.2 .6 1.1 3.2 1.1zm11 0l-.4-1-.4-1-.3-1-.2-.9-3.3-1.2-3.2-1.2 .2 1 .3 1 .3 1 .4 1 3.3 1.2zm-6.6-2.3l-.4-1-.3-1-.3-1-.2-1-3.3-1.2-3.3-1.3 .2 1.1 .3 1.1 .4 1 .4 1.1 3.3 1.1zm11.9 .8l-.2-.9-.2-.9 0-.8-.1-.9-3.2-1.3-3.3-1.3 0 .9 .1 .9 .1 .9 .2 1 3.3 1.2zm-6.6-2.4l-.2-1-.1-.9-.1-.9 0-.9-3.3-1.3-3.3-1.4 .1 1 0 1 .2 1 .2 1 3.2 1.2z"/>
<path color="#0097ff" d="M668.6 241.1l-1.7-1.8-1.7-1.8-1.5-1.7-1.5-1.7-3.3-.6-3.3-.7 1.5 1.8 1.6 1.8 1.6 1.8 1.7 1.9 3.3 .5zm6.7-4.6l-1.5-1.7-1.4-1.6-1.4-1.6-1.3-1.6-3.3-.7-3.2-.7 1.3 1.7 1.3 1.6 1.4 1.7 1.5 1.7 3.3 .6zm7.5-3.7l-1.3-1.5-1.2-1.4-1.1-1.5-1.1-1.5-3.3-.8-3.2-.8 1 1.5 1.2 1.5 1.2 1.6 1.3 1.5 3.2 .7zm8.4-2.7l-1-1.3-1-1.3-1-1.4-.8-1.3-3.3-.9-3.3-.9 .9 1.4 .9 1.3 1 1.4 1.1 1.4 3.2 .8zm-6.5-1.6l-1.1-1.4-1-1.4-.9-1.3-.9-1.4-3.3-.9-3.2-.9 .8 1.4 1 1.4 1 1.5 1 1.4 3.3 .8zm9.2-1.9l-.8-1.2-.8-1.3-.7-1.2-.7-1.3-3.3-1-3.2-1 .6 1.3 .8 1.3 .7 1.3 .9 1.3 3.2 .9zm3.6-3l-.6-1.1-.6-1.2-.5-1.1-.5-1.2-3.2-1.1-3.3-1.1 .4 1.2 .5 1.2 .6 1.2 .6 1.2 3.3 1zm4.4-2.4l-.4-1.1-.4-1-.3-1.1-.2-1.1-3.3-1.2-3.2-1.2 .2 1.1 .3 1.1 .3 1.2 .4 1.1 3.3 1.1zm5.3-1.8l-.2-1-.2-1 0-1-.1-1-3.2-1.3-3.3-1.3 0 1 .1 1.1 .1 1 .2 1 3.3 1.3z"/>
<path color="#00a7ff" d="M668.7 235.3l-1.5-1.7-1.4-1.7-1.3-1.6-1.3-1.7-3.3-.7-3.3-.7 1.3 1.7 1.4 1.7 1.4 1.7 1.5 1.8 3.2 .6zm-6.5-1.2l-1.5-1.8-1.4-1.7-1.4-1.7-1.3-1.7-3.3-.7-3.2-.7 1.3 1.7 1.3 1.8 1.4 1.8 1.5 1.7 3.3 .7zm14.1-2.7l-1.3-1.5-1.2-1.6-1.2-1.5-1-1.5-3.3-.8-3.3-.8 1.1 1.6 1.1 1.5 1.2 1.6 1.3 1.6 3.3 .7zm-6.6-1.4l-1.3-1.6-1.2-1.6-1.1-1.5-1.1-1.6-3.3-.8-3.2-.8 1 1.6 1.2 1.6 1.2 1.7 1.3 1.6 3.2 .7zm8.4-3.1l-1-1.4-1-1.5-1-1.4-.8-1.4-3.3-.9-3.3-.9 .9 1.4 .9 1.5 1 1.5 1.1 1.5 3.2 .8zm9.3-2.1l-.9-1.3-.7-1.3-.8-1.3-.6-1.3-3.3-1-3.3-1 .7 1.3 .7 1.4 .8 1.3 .8 1.4 3.3 .9zm3.5-3.2l-.6-1.2-.6-1.2-.5-1.2-.4-1.2-3.3-1.1-3.3-1.1 .5 1.2 .5 1.3 .6 1.2 .6 1.3 3.2 1zm4.4-2.6l-.4-1.1-.3-1.2-.3-1.1-.2-1.1-3.3-1.2-3.3-1.2 .2 1.2 .3 1.1 .4 1.2 .4 1.2 3.3 1.1zm5.3-2.1l-.2-1-.1-1-.1-1.1 0-1-3.3-1.3-3.3-1.3 .1 1.1 0 1 .2 1.1 .2 1.1 3.2 1.2z"/>
<path color="#00b7ff" d="M663.2 228.6l-1.3-1.6-1.2-1.7-1.2-1.6-1-1.6-3.3-.8-3.3-.8 1.1 1.6 1.1 1.7 1.2 1.7 1.3 1.7 3.3 .7zm8.4-3.3l-1.1-1.5-1-1.5-.9-1.5-.9-1.4-3.3-.9-3.2-.9 .8 1.5 1 1.5 1 1.6 1 1.5 3.3 .8zm9.2-2.3l-.8-1.4-.8-1.3-.7-1.4-.7-1.3-3.3-1-3.2-1 .6 1.4 .8 1.4 .7 1.4 .9 1.4 3.2 .9zm-6.5-1.8l-.9-1.4-.7-1.4-.8-1.4-.6-1.4-3.3-1-3.3-1 .7 1.4 .7 1.4 .8 1.5 .8 1.5 3.3 .9zm10.1-1.6l-.6-1.3-.6-1.2-.5-1.3-.5-1.2-3.2-1.1-3.3-1.1 .4 1.3 .5 1.3 .6 1.3 .6 1.3 3.3 1zm4.4-2.8l-.4-1.2-.4-1.2-.3-1.1-.2-1.2-3.3-1.2-3.2-1.2 .2 1.2 .3 1.2 .3 1.2 .4 1.3 3.3 1.1zm5.3-2.3l-.2-1.1-.2-1.1 0-1-.1-1.1-3.2-1.3-3.3-1.3 0 1.1 .1 1.1 .1 1.2 .2 1.1 3.3 1.2z"/>
<path color="#00c7ff" d="M656.6 227.2l-1.3-1.7-1.2-1.7-1.1-1.7-1.1-1.6-3.3-.8-3.2-.8 1 1.7 1.2 1.7 1.2 1.7 1.3 1.8 3.2 .7zm8.4-3.5l-1-1.5-1-1.6-1-1.5-.8-1.5-3.3-1-3.3-.9 .9 1.6 .9 1.6 1 1.6 1.1 1.6 3.2 .8zm-6.5-1.6l-1.1-1.6-1-1.6-.9-1.6-.9-1.6-3.3-.9-3.2-.9 .8 1.7 1 1.6 1 1.6 1 1.7 3.3 .8zm9.2-2.7l-.8-1.5-.8-1.5-.7-1.4-.7-1.4-3.3-1-3.2-1 .6 1.4 .8 1.5 .7 1.5 .9 1.6 3.2 .9zm10.1-1.8l-.6-1.3-.6-1.3-.5-1.3-.4-1.3-3.3-1.2-3.3-1.1 .5 1.4 .5 1.3 .6 1.4 .6 1.4 3.2 1zm4.4-3l-.4-1.3-.3-1.2-.3-1.2-.2-1.2-3.3-1.2-3.3-1.2 .2 1.2 .3 1.3 .4 1.3 .4 1.3 3.3 1.1zm5.3-2.5l-.2-1.1-.1-1.2-.1-1.1 0-1.1-3.3-1.3-3.3-1.3 .1 1.1 0 1.2 .2 1.2 .2 1.2 3.2 1.2z"/>
<path color="#00d7ff" d="M651.9 220.5l-1-1.7-1-1.6-1-1.6-.8-1.7-3.3-.9-3.3-.9 .9 1.7 .9 1.7 1 1.7 1.1 1.7 3.2 .8zm9.3-2.9l-.9-1.6-.7-1.5-.8-1.5-.6-1.4-3.3-1.1-3.3-1 .7 1.6 .7 1.5 .8 1.6 .8 1.5 3.3 .9zm10.1-2l-.6-1.4-.6-1.4-.5-1.3-.5-1.4-3.2-1.1-3.3-1.1 .4 1.4 .5 1.4 .6 1.4 .6 1.5 3.3 1zm-6.6-2l-.6-1.5-.6-1.4-.5-1.4-.4-1.4-3.3-1.1-3.3-1.1 .5 1.5 .5 1.4 .6 1.5 .6 1.5 3.2 1zm11-1.2l-.4-1.3-.4-1.3-.3-1.3-.2-1.2-3.3-1.2-3.2-1.3 .2 1.4 .3 1.3 .3 1.3 .4 1.3 3.3 1.1zm5.3-2.7l-.2-1.2-.2-1.2 0-1.2-.1-1.1-3.2-1.4-3.3-1.3 0 1.2 .1 1.3 .1 1.2 .2 1.3 3.3 1.2z"/>
<path color="#00e7ff" d="M654.6 215.7l-.8-1.5-.8-1.6-.7-1.5-.7-1.6-3.3-1-3.2-1 .6 1.6 .8 1.6 .7 1.6 .9 1.6 3.2 .9zm3.6-4.1l-.6-1.5-.6-1.5-.5-1.4-.5-1.5-3.2-1.1-3.3-1.1 .4 1.5 .5 1.5 .6 1.5 .6 1.5 3.3 1zm10.9-1.5l-.4-1.3-.3-1.3-.3-1.3-.2-1.4-3.3-1.2-3.3-1.2 .2 1.4 .3 1.4 .4 1.3 .4 1.4 3.3 1.1zm5.3-2.8l-.2-1.3-.1-1.2-.1-1.3 0-1.2-3.3-1.3-3.3-1.3 .1 1.3 0 1.3 .2 1.2 .2 1.3 3.2 1.3z"/>
<path color="#00f7ff" d="M648.1 213.9l-.9-1.6-.7-1.6-.8-1.6-.6-1.6-3.3-1-3.3-1 .7 1.6 .7 1.7 .8 1.7 .8 1.6 3.3 .9zm3.5-4.4l-.6-1.5-.6-1.5-.5-1.5-.4-1.5-3.3-1.1-3.3-1.1 .5 1.5 .5 1.6 .6 1.5 .6 1.6 3.2 1zm11-1.6l-.4-1.4-.4-1.3-.3-1.4-.2-1.4-3.3-1.2-3.2-1.2 .2 1.4 .3 1.4 .3 1.5 .4 1.4 3.3 1.1zm5.3-3.1l-.2-1.3-.2-1.2 0-1.3-.1-1.3-3.2-1.3-3.3-1.3 0 1.3 .1 1.3 .1 1.4 .2 1.3 3.3 1.2z"/>
<path color="#08fff7" d="M645.1 207.5l-.6-1.6-.6-1.5-.5-1.6-.5-1.5-3.2-1.1-3.3-1.1 .4 1.6 .5 1.6 .6 1.6 .6 1.6 3.3 1zm10.9-1.8l-.4-1.4-.3-1.5-.3-1.4-.2-1.4-3.3-1.2-3.3-1.2 .2 1.4 .3 1.5 .4 1.5 .4 1.5 3.3 1.1zm5.3-3.3l-.2-1.3-.1-1.4-.1-1.3 0-1.3-3.3-1.3-3.3-1.3 .1 1.3 0 1.4 .2 1.4 .2 1.4 3.2 1.2z"/>
<path color="#18ffe7" d="M649.5 203.5l-.4-1.5-.4-1.5-.3-1.5-.2-1.4-3.3-1.2-3.2-1.2 .2 1.5 .3 1.5 .3 1.5 .4 1.6 3.3 1.1zm-6.6-2.2l-.4-1.6-.3-1.5-.3-1.5-.2-1.5-3.3-1.2-3.3-1.3 .2 1.6 .3 1.6 .4 1.6 .4 1.6 3.3 1.1zm11.9-1.3l-.2-1.4-.2-1.4 0-1.4-.1-1.3-3.2-1.4-3.3-1.3 0 1.5 .1 1.4 .1 1.4 .2 1.5 3.3 1.2z"/>
<path color="#28ffd7" d="M648.2 197.6l-.2-1.5-.1-1.4-.1-1.4 0-1.5-3.3-1.3-3.3-1.3 .1 1.5 0 1.5 .2 1.5 .2 1.5 3.2 1.2z"/>
<path color="#38ffc7" d="M641.7 195.2l-.2-1.5-.2-1.5 0-1.5-.1-1.5-3.2-1.3-3.3-1.3 0 1.5 .1 1.6 .1 1.5 .2 1.5 3.3 1.3z"/>
</g>
<g fill="none" stroke="#000" stroke-linejoin="round">
<path stroke-width="0.4" d="M998.7 296.2l-4.2-.8-4.2-.7-4.1-.8-4.1-.7-4.1-.8-3.9-.7-4-.7-3.8-.7-3.8-.7-3.8-.7-3.7-.7-3.7-.7-3.6-.6-3.5-.7-3.5-.6-3.5-.7-3.4-.6-3.3-.6-3.3-.6-3.2-.6-3.2-.6-3.1-.6-3.1-.5-3-.6-3-.6-2.9-.5-2.8-.5-2.8-.5-2.8-.6-2.7-.5-2.6-.5-2.6-.4-2.5-.5-2.5-.5-2.4-.4-2.4-.5-2.3-.4-2.3-.4-2.2-.5-2.2-.4-2.1-.4-2.1-.4-2-.3-1.9-.4-1.9-.4-1.8-.3-1.8-.4-1.8-.3-1.6-.3-1.7-.3-1.6-.3-1.5-.3-1.4-.3-1.5-.3-1.3-.3-1.3-.2-1.3-.3-1.2-.2-1.1-.2-1.1-.2-1.1-.3-1-.2-.9-.1-.9-.2-.8-.2-.8-.2-.7-.1-.7-.2-.6-.1-.5-.1-.5-.1-.5-.1-.4-.1-.3-.1-.3-.1-.3-.1-.2 0-.1-.1-.1 0 0 0M995.4 296.9l-4.2-.8-4.2-.8-4.1-.7-4.1-.8-4-.8-4-.7-3.9-.8-3.9-.7-3.8-.7-3.8-.8-3.7-.7-3.7-.7-3.6-.6-3.5-.7-3.5-.7-3.4-.7-3.4-.6-3.4-.6-3.3-.7-3.2-.6-3.2-.6-3.1-.6-3.1-.6-3-.6-2.9-.6-2.9-.5-2.9-.6-2.8-.5-2.8-.6-2.6-.5-2.7-.5-2.6-.5-2.5-.5-2.5-.5-2.4-.5-2.4-.5-2.3-.4-2.3-.5-2.2-.4-2.2-.5-2.1-.4-2-.4-2-.4-2-.4-1.9-.4-1.8-.4-1.8-.3-1.7-.4-1.7-.3-1.7-.4-1.5-.3-1.5-.3-1.5-.3-1.4-.3-1.4-.3-1.3-.3-1.3-.3-1.2-.2-1.1-.3-1.1-.2-1-.3-1-.2-1-.2-.8-.2-.9-.2-.7-.2-.8-.2-.6-.2-.6-.1-.6-.2-.5-.1-.5-.1-.4-.2-.3-.1-.3-.1-.2-.1-.2-.1-.2 0 0-.1-.1-.1M992.2 297.7l-4.3-.9-4.2-.8-4.1-.8-4.1-.8-4-.8-4-.8-3.9-.7-3.9-.8-3.8-.7-3.8-.8-3.7-.7-3.6-.7-3.6-.8-3.6-.7-3.5-.7-3.4-.6-3.4-.7-3.3-.7-3.3-.6-3.3-.7-3.1-.6-3.2-.7-3-.6-3-.6-3-.6-2.9-.6-2.9-.6-2.8-.5-2.7-.6-2.7-.6-2.7-.5-2.6-.5-2.5-.6-2.5-.5-2.4-.5-2.4-.5-2.3-.5-2.3-.4-2.2-.5-2.1-.5-2.2-.4-2-.5-2-.4-2-.4-1.9-.4-1.8-.4-1.8-.4-1.7-.4-1.7-.4-1.6-.3-1.6-.4-1.5-.3-1.5-.4-1.4-.3-1.4-.3-1.3-.3-1.2-.3-1.2-.3-1.2-.3-1.1-.3-1-.2-1-.3-.9-.2-.9-.2-.8-.3-.8-.2-.7-.2-.7-.2-.6-.2-.6-.1-.5-.2-.4-.2-.4-.1-.4-.1-.3-.2-.2-.1-.2-.1-.1-.1-.1-.1 0-.1M988.9 298.4l-4.2-.9-4.2-.8-4.2-.9-4.1-.8-4-.8-4-.8-3.9-.8-3.9-.8-3.8-.8-3.7-.7-3.7-.8-3.7-.7-3.6-.8-3.6-.7-3.5-.7-3.4-.7-3.4-.7-3.3-.7-3.3-.7-3.2-.7-3.2-.6-3.1-.7-3.1-.6-3-.7-3-.6-2.9-.6-2.8-.6-2.9-.6-2.7-.6-2.7-.6-2.6-.6-2.6-.5-2.6-.6-2.4-.5-2.5-.5-2.3-.6-2.4-.5-2.2-.5-2.3-.5-2.1-.5-2.1-.4-2.1-.5-2-.5-1.9-.4-1.9-.4-1.9-.5-1.8-.4-1.7-.4-1.7-.4-1.6-.4-1.6-.4-1.5-.3-1.5-.4-1.4-.3-1.3-.4-1.3-.3-1.3-.3-1.2-.4-1.2-.3-1-.3-1.1-.2-1-.3-.9-.3-.9-.2-.8-.3-.8-.2-.7-.3-.7-.2-.6-.2-.6-.2-.5-.2-.4-.2-.4-.1-.4-.2-.3-.1-.2-.2-.2-.1-.1-.2-.1-.1 0-.1M985.6 299.1l-4.2-.9-4.2-.9-4.1-.8-4.1-.9-4.1-.8-3.9-.8-4-.9-3.8-.8-3.8-.8-3.8-.8-3.7-.8-3.7-.7-3.6-.8-3.5-.7-3.5-.8-3.5-.7-3.4-.8-3.3-.7-3.3-.7-3.2-.7-3.2-.7-3.1-.6-3.1-.7-3-.7-3-.6-2.9-.7-2.8-.6-2.8-.6-2.8-.6-2.7-.6-2.6-.6-2.6-.6-2.5-.6-2.5-.6-2.4-.5-2.4-.6-2.3-.5-2.3-.5-2.2-.5-2.2-.6-2.1-.5-2.1-.4-2-.5-1.9-.5-1.9-.5-1.8-.4-1.8-.5-1.8-.4-1.6-.4-1.7-.4-1.6-.4-1.5-.4-1.4-.4-1.5-.4-1.3-.4-1.3-.3-1.3-.4-1.2-.3-1.1-.3-1.1-.4-1.1-.3-1-.3-.9-.3-.9-.2-.8-.3-.8-.3-.7-.2-.7-.3-.6-.2-.5-.2-.5-.3-.5-.2-.4-.2-.3-.2-.3-.1-.3-.2-.2-.2-.1-.1-.1-.2 0-.1M982.4 299.8l-4.3-.9-4.2-.9-4.1-.9-4.1-.9-4-.8-4-.9-3.9-.8-3.9-.9-3.8-.8-3.8-.8-3.7-.8-3.7-.8-3.6-.8-3.5-.8-3.5-.8-3.4-.7-3.4-.8-3.4-.7-3.3-.7-3.2-.8-3.2-.7-3.1-.7-3.1-.7-3-.7-2.9-.6-2.9-.7-2.9-.7-2.8-.6-2.8-.7-2.6-.6-2.7-.6-2.6-.6-2.5-.6-2.5-.6-2.4-.6-2.4-.6-2.3-.5-2.3-.6-2.2-.5-2.2-.6-2.1-.5-2-.5-2-.5-2-.5-1.9-.5-1.8-.5-1.8-.4-1.7-.5-1.7-.4-1.7-.5-1.5-.4-1.5-.4-1.5-.4-1.4-.5-1.4-.3-1.3-.4-1.3-.4-1.2-.4-1.1-.3-1.1-.4-1-.3-1-.3-1-.3-.8-.4-.9-.3-.7-.2-.8-.3-.6-.3-.6-.3-.6-.2-.5-.2-.5-.3-.4-.2-.3-.2-.3-.2-.2-.2-.2-.2-.2-.2 0-.1-.1-.2M979.1 300.5l-4.3-.9-4.2-.9-4.1-.9-4.1-.9-4-.9-4-.9-3.9-.9-3.9-.8-3.8-.9-3.8-.8-3.7-.9-3.6-.8-3.6-.8-3.6-.8-3.5-.8-3.4-.8-3.4-.8-3.3-.8-3.3-.7-3.3-.8-3.1-.7-3.2-.7-3-.8-3-.7-3-.7-2.9-.7-2.9-.6-2.8-.7-2.7-.7-2.7-.6-2.7-.7-2.6-.6-2.5-.6-2.5-.7-2.4-.6-2.4-.6-2.3-.5-2.3-.6-2.2-.6-2.1-.6-2.2-.5-2-.5-2-.6-2-.5-1.9-.5-1.8-.5-1.8-.5-1.7-.5-1.7-.5-1.6-.4-1.6-.5-1.5-.4-1.5-.5-1.4-.4-1.4-.4-1.3-.4-1.2-.4-1.2-.4-1.2-.4-1.1-.4-1-.3-1-.4-.9-.3-.9-.4-.8-.3-.8-.3-.7-.3-.7-.3-.6-.3-.6-.3-.5-.2-.4-.3-.4-.2-.4-.3-.3-.2-.2-.2-.2-.2-.1-.2-.1-.2 0-.2M975.8 301.2l-4.2-.9-4.2-1-4.2-.9-4.1-.9-4-.9-4-1-3.9-.8-3.9-.9-3.8-.9-3.7-.9-3.7-.8-3.7-.9-3.6-.8-3.6-.9-3.5-.8-3.4-.8-3.4-.8-3.3-.8-3.3-.8-3.2-.8-3.2-.7-3.1-.8-3.1-.7-3-.8-3-.7-2.9-.7-2.8-.7-2.9-.7-2.7-.7-2.7-.7-2.6-.6-2.6-.7-2.6-.7-2.4-.6-2.5-.6-2.3-.7-2.4-.6-2.2-.6-2.3-.6-2.1-.6-2.1-.5-2.1-.6-2-.6-1.9-.5-1.9-.5-1.9-.6-1.8-.5-1.7-.5-1.7-.5-1.6-.5-1.6-.5-1.5-.4-1.5-.5-1.4-.5-1.3-.4-1.3-.4-1.3-.5-1.2-.4-1.2-.4-1-.4-1.1-.4-1-.3-.9-.4-.9-.4-.8-.3-.8-.4-.7-.3-.7-.3-.6-.3-.6-.3-.5-.3-.4-.3-.4-.3-.4-.2-.3-.3-.2-.2-.2-.3-.1-.2-.1-.2 0-.2M972.5 301.9l-4.2-.9-4.2-1-4.1-1-4.1-.9-4.1-1-3.9-.9-4-.9-3.8-.9-3.8-.9-3.8-.9-3.7-.9-3.7-.9-3.6-.8-3.5-.9-3.5-.9-3.5-.8-3.4-.8-3.3-.8-3.3-.8-3.2-.8-3.2-.8-3.1-.8-3.1-.8-3-.7-3-.8-2.9-.7-2.8-.8-2.8-.7-2.8-.7-2.7-.7-2.6-.7-2.6-.7-2.5-.7-2.5-.6-2.4-.7-2.4-.7-2.3-.6-2.3-.6-2.2-.6-2.2-.7-2.1-.6-2.1-.5-2-.6-1.9-.6-1.9-.6-1.8-.5-1.8-.6-1.8-.5-1.6-.5-1.7-.5-1.6-.5-1.5-.5-1.4-.5-1.5-.5-1.3-.5-1.3-.4-1.3-.5-1.2-.4-1.1-.5-1.1-.4-1.1-.4-1-.4-.9-.4-.9-.4-.8-.3-.8-.4-.7-.4-.7-.3-.6-.4-.5-.3-.5-.3-.5-.3-.4-.3-.3-.3-.3-.3-.3-.2-.2-.3-.1-.3-.1-.2 0-.2M969.2 302.7l-4.2-1-4.2-1-4.1-1-4.1-1-4-1-4-.9-3.9-1-3.9-.9-3.8-.9-3.8-1-3.7-.9-3.7-.9-3.6-.9-3.5-.8-3.5-.9-3.4-.9-3.4-.8-3.4-.9-3.3-.8-3.2-.8-3.2-.9-3.1-.8-3.1-.8-3-.7-2.9-.8-2.9-.8-2.9-.7-2.8-.8-2.8-.7-2.6-.8-2.7-.7-2.6-.7-2.5-.7-2.5-.7-2.4-.7-2.4-.6-2.3-.7-2.3-.7-2.2-.6-2.2-.6-2.1-.7-2-.6-2-.6-2-.6-1.9-.6-1.8-.6-1.8-.5-1.7-.6-1.7-.5-1.7-.6-1.5-.5-1.5-.5-1.5-.6-1.4-.5-1.4-.5-1.3-.4-1.3-.5-1.2-.5-1.1-.4-1.1-.5-1-.4-1-.5-1-.4-.8-.4-.9-.4-.7-.4-.8-.3-.6-.4-.6-.4-.6-.3-.5-.4-.5-.3-.4-.3-.3-.4-.3-.3-.2-.3-.2-.2-.2-.3 0-.3-.1-.2M966 303.4l-4.3-1.1-4.2-1-4.1-1-4.1-1-4-1-4-1-3.9-.9-3.9-1-3.8-1-3.8-.9-3.7-.9-3.6-1-3.6-.9-3.6-.9-3.5-.9-3.4-.9-3.4-.8-3.3-.9-3.3-.9-3.3-.8-3.1-.9-3.2-.8-3-.8-3-.8-3-.8-2.9-.8-2.9-.8-2.8-.8-2.7-.8-2.7-.7-2.7-.8-2.6-.7-2.5-.7-2.5-.7-2.4-.7-2.4-.7-2.3-.7-2.3-.7-2.2-.7-2.1-.6-2.2-.7-2-.6-2-.7-2-.6-1.9-.6-1.8-.6-1.8-.6-1.7-.6-1.7-.6-1.6-.5-1.6-.6-1.5-.5-1.5-.6-1.4-.5-1.4-.5-1.3-.5-1.2-.5-1.2-.5-1.2-.5-1.1-.5-1-.5-1-.4-.9-.5-.9-.4-.8-.4-.8-.4-.7-.4-.7-.4-.6-.4-.6-.4-.5-.4-.4-.3-.4-.4-.4-.3-.3-.3-.2-.4-.2-.3-.1-.3-.1-.3 0-.3M962.7 304.1l-4.2-1.1-4.2-1-4.2-1-4.1-1.1-4-1-4-1-3.9-1-3.9-1-3.8-1-3.7-.9-3.7-1-3.7-.9-3.6-1-3.6-.9-3.5-.9-3.4-1-3.4-.9-3.3-.9-3.3-.8-3.2-.9-3.2-.9-3.1-.8-3.1-.9-3-.8-3-.9-2.9-.8-2.8-.8-2.9-.8-2.7-.8-2.7-.8-2.6-.7-2.6-.8-2.6-.7-2.4-.8-2.5-.7-2.3-.7-2.4-.8-2.2-.7-2.3-.7-2.1-.6-2.1-.7-2.1-.7-2-.6-1.9-.7-1.9-.6-1.9-.7-1.8-.6-1.7-.6-1.7-.6-1.6-.6-1.6-.6-1.5-.5-1.5-.6-1.4-.6-1.3-.5-1.3-.5-1.3-.6-1.2-.5-1.2-.5-1-.5-1.1-.5-1-.5-.9-.4-.9-.5-.8-.4-.8-.5-.7-.4-.7-.4-.6-.4-.6-.5-.5-.3-.4-.4-.4-.4-.4-.4-.3-.3-.2-.4-.2-.3-.1-.3-.1-.4 0-.3M959.4 304.8l-4.2-1.1-4.2-1-4.1-1.1-4.1-1.1-4.1-1-3.9-1-4-1.1-3.8-1-3.8-1-3.8-1-3.7-1-3.7-.9-3.6-1-3.5-1-3.5-.9-3.5-.9-3.4-1-3.3-.9-3.3-.9-3.2-.9-3.2-.9-3.1-.9-3.1-.9-3-.8-3-.9-2.9-.8-2.8-.9-2.8-.8-2.8-.8-2.7-.8-2.6-.8-2.6-.8-2.5-.8-2.5-.7-2.4-.8-2.4-.7-2.3-.8-2.3-.7-2.2-.7-2.2-.7-2.1-.7-2.1-.7-2-.7-1.9-.7-1.9-.7-1.8-.6-1.8-.7-1.8-.6-1.6-.6-1.7-.6-1.6-.7-1.5-.6-1.4-.5-1.5-.6-1.3-.6-1.3-.6-1.3-.5-1.2-.5-1.1-.6-1.1-.5-1.1-.5-1-.5-.9-.5-.9-.5-.8-.5-.8-.4-.7-.5-.7-.4-.6-.5-.5-.4-.5-.4-.5-.4-.4-.4-.3-.4-.3-.4-.3-.4-.2-.3-.1-.4-.1-.3 0-.4M956.2 305.5l-4.3-1.1-4.2-1.1-4.1-1.1-4.1-1-4-1.1-4-1.1-3.9-1-3.9-1.1-3.8-1-3.8-1-3.7-1-3.7-1-3.6-1-3.5-1-3.5-1-3.4-.9-3.4-1-3.4-.9-3.3-1-3.2-.9-3.2-.9-3.1-.9-3.1-.9-3-.9-2.9-.9-2.9-.9-2.9-.8-2.8-.9-2.8-.8-2.6-.8-2.7-.9-2.6-.8-2.5-.8-2.5-.8-2.4-.8-2.4-.7-2.3-.8-2.3-.8-2.2-.7-2.2-.7-2.1-.8-2-.7-2-.7-2-.7-1.9-.7-1.8-.7-1.8-.6-1.7-.7-1.7-.7-1.7-.6-1.5-.6-1.5-.7-1.5-.6-1.4-.6-1.4-.6-1.3-.6-1.3-.5-1.2-.6-1.1-.6-1.1-.5-1-.5-1-.6-1-.5-.8-.5-.9-.5-.7-.5-.8-.5-.6-.5-.6-.4-.6-.5-.5-.4-.5-.4-.4-.5-.3-.4-.3-.4-.2-.4-.2-.4-.2-.4 0-.3-.1-.4M952.9 306.2l-4.3-1.1-4.2-1.1-4.1-1.1-4.1-1.1-4-1.1-4-1.1-3.9-1.1-3.9-1-3.8-1.1-3.8-1.1-3.7-1-3.6-1-3.6-1-3.6-1-3.5-1-3.4-1-3.4-1-3.3-1-3.3-.9-3.3-1-3.1-.9-3.2-1-3-.9-3-.9-3-.9-2.9-.9-2.9-.9-2.8-.9-2.7-.8-2.7-.9-2.7-.8-2.6-.9-2.5-.8-2.5-.8-2.4-.8-2.4-.8-2.3-.8-2.3-.8-2.2-.8-2.1-.7-2.2-.8-2-.7-2-.8-2-.7-1.9-.7-1.8-.7-1.8-.7-1.7-.7-1.7-.7-1.6-.6-1.6-.7-1.5-.7-1.5-.6-1.4-.6-1.4-.6-1.3-.7-1.2-.6-1.2-.6-1.2-.5-1.1-.6-1-.6-1-.5-.9-.6-.9-.5-.8-.5-.8-.6-.7-.5-.7-.5-.6-.4-.6-.5-.5-.5-.4-.5-.4-.4-.4-.4-.3-.5-.2-.4-.2-.4-.1-.4-.1-.4 0-.4M949.6 307l-4.2-1.2-4.2-1.2-4.2-1.1-4.1-1.1-4-1.1-4-1.1-3.9-1.1-3.9-1.1-3.8-1.1-3.7-1.1-3.7-1.1-3.7-1-3.6-1-3.6-1.1-3.5-1-3.4-1-3.4-1-3.3-1-3.3-1-3.2-1-3.2-1-3.1-.9-3.1-1-3-.9-3-.9-2.9-.9-2.8-1-2.9-.9-2.7-.9-2.7-.8-2.6-.9-2.6-.9-2.6-.8-2.4-.9-2.5-.8-2.3-.8-2.4-.8-2.2-.9-2.3-.8-2.1-.7-2.1-.8-2.1-.8-2-.7-1.9-.8-1.9-.7-1.9-.8-1.8-.7-1.7-.7-1.7-.7-1.6-.7-1.6-.7-1.5-.7-1.5-.6-1.4-.7-1.3-.6-1.3-.7-1.3-.6-1.2-.6-1.2-.6-1-.6-1.1-.6-1-.6-.9-.6-.9-.5-.8-.6-.8-.5-.7-.5-.7-.6-.6-.5-.6-.5-.5-.5-.4-.5-.4-.4-.4-.5-.3-.5-.2-.4-.2-.5-.1-.4-.1-.4 0-.4M946.3 307.7l-4.2-1.2-4.2-1.2-4.1-1.2-4.1-1.1-4.1-1.1-3.9-1.2-4-1.1-3.8-1.1-3.8-1.1-3.8-1.1-3.7-1.1-3.7-1.1-3.6-1.1-3.5-1-3.5-1.1-3.5-1-3.4-1-3.3-1.1-3.3-1-3.2-1-3.2-1-3.1-1-3.1-.9-3-1-3-.9-2.9-1-2.8-.9-2.8-1-2.8-.9-2.7-.9-2.6-.9-2.6-.9-2.5-.8-2.5-.9-2.4-.9-2.4-.8-2.3-.9-2.3-.8-2.2-.8-2.2-.8-2.1-.8-2.1-.8-2-.8-1.9-.8-1.9-.8-1.8-.7-1.8-.8-1.8-.7-1.6-.7-1.7-.8-1.6-.7-1.5-.7-1.4-.6-1.5-.7-1.3-.7-1.3-.7-1.3-.6-1.2-.7-1.1-.6-1.1-.6-1.1-.6-1-.6-.9-.6-.9-.6-.8-.6-.8-.6-.7-.5-.7-.6-.6-.5-.5-.5-.5-.6-.5-.5-.4-.5-.3-.5-.3-.4-.3-.5-.2-.5-.1-.4-.1-.5 0-.4M943 308.4l-4.2-1.2-4.2-1.2-4.1-1.2-4.1-1.2-4-1.2-4-1.1-3.9-1.2-3.9-1.1-3.8-1.1-3.8-1.2-3.7-1.1-3.7-1.1-3.6-1.1-3.5-1.1-3.5-1-3.4-1.1-3.4-1.1-3.4-1-3.3-1-3.2-1.1-3.2-1-3.1-1-3.1-1-3-1-2.9-1-2.9-.9-2.9-1-2.8-.9-2.8-1-2.6-.9-2.7-.9-2.6-1-2.5-.9-2.5-.9-2.4-.8-2.4-.9-2.3-.9-2.3-.8-2.2-.9-2.2-.8-2.1-.9-2-.8-2-.8-2-.8-1.9-.8-1.8-.8-1.8-.7-1.7-.8-1.7-.8-1.7-.7-1.5-.7-1.5-.8-1.5-.7-1.4-.7-1.4-.7-1.3-.7-1.3-.6-1.2-.7-1.1-.7-1.1-.6-1-.7-1-.6-1-.6-.8-.6-.9-.6-.7-.6-.8-.6-.6-.6-.6-.5-.6-.6-.5-.5-.5-.6-.4-.5-.3-.5-.3-.5-.2-.5-.2-.5-.2-.5 0-.5-.1-.4M939.8 309.1l-4.3-1.2-4.2-1.3-4.1-1.2-4.1-1.2-4-1.2-4-1.2-3.9-1.1-3.9-1.2-3.8-1.2-3.8-1.1-3.7-1.1-3.6-1.2-3.6-1.1-3.6-1.1-3.5-1.1-3.4-1.1-3.4-1.1-3.3-1-3.3-1.1-3.3-1.1-3.1-1-3.2-1-3-1.1-3-1-3-1-2.9-1-2.9-1-2.8-.9-2.7-1-2.7-1-2.7-.9-2.6-1-2.5-.9-2.5-.9-2.4-.9-2.4-.9-2.3-.9-2.3-.9-2.2-.9-2.1-.8-2.2-.9-2-.8-2-.9-2-.8-1.9-.8-1.8-.8-1.8-.8-1.7-.8-1.7-.8-1.6-.8-1.6-.7-1.5-.8-1.5-.7-1.4-.7-1.4-.8-1.3-.7-1.2-.7-1.2-.7-1.2-.7-1.1-.6-1-.7-1-.6-.9-.7-.9-.6-.8-.7-.8-.6-.7-.6-.7-.6-.6-.6-.6-.6-.5-.5-.4-.6-.4-.5-.4-.6-.3-.5-.2-.5-.2-.6-.1-.5-.1-.5 0-.4M936.5 309.8l-4.2-1.2-4.2-1.3-4.2-1.2-4.1-1.3-4-1.2-4-1.2-3.9-1.2-3.9-1.2-3.8-1.2-3.7-1.1-3.7-1.2-3.7-1.2-3.6-1.1-3.6-1.1-3.5-1.2-3.4-1.1-3.4-1.1-3.3-1.1-3.3-1.1-3.2-1.1-3.2-1-3.1-1.1-3.1-1-3-1.1-3-1-2.9-1-2.8-1-2.9-1-2.7-1-2.7-1-2.6-1-2.6-1-2.6-.9-2.4-1-2.5-.9-2.3-.9-2.4-.9-2.2-.9-2.3-.9-2.1-.9-2.1-.9-2.1-.9-2-.8-1.9-.9-1.9-.8-1.9-.9-1.8-.8-1.7-.8-1.7-.8-1.6-.8-1.6-.8-1.5-.8-1.5-.7-1.4-.8-1.3-.7-1.3-.8-1.3-.7-1.2-.7-1.2-.7-1-.7-1.1-.7-1-.7-.9-.7-.9-.6-.8-.7-.8-.6-.7-.7-.7-.6-.6-.6-.6-.6-.5-.6-.4-.6-.4-.6-.4-.5-.3-.6-.2-.6-.2-.5-.1-.5-.1-.5 0-.6M933.2 310.5l-4.2-1.3-4.2-1.2-4.1-1.3-4.1-1.3-4.1-1.2-3.9-1.2-4-1.3-3.8-1.2-3.8-1.2-3.8-1.2-3.7-1.2-3.7-1.1-3.6-1.2-3.5-1.2-3.5-1.1-3.5-1.2-3.4-1.1-3.3-1.1-3.3-1.1-3.2-1.1-3.2-1.1-3.1-1.1-3.1-1.1-3-1.1-3-1-2.9-1.1-2.8-1-2.8-1-2.8-1-2.7-1.1-2.6-1-2.6-.9-2.5-1-2.5-1-2.4-1-2.4-.9-2.3-1-2.3-.9-2.2-.9-2.2-.9-2.1-.9-2.1-.9-2-.9-1.9-.9-1.9-.9-1.8-.8-1.8-.9-1.8-.8-1.6-.8-1.7-.9-1.6-.8-1.5-.8-1.4-.8-1.5-.7-1.3-.8-1.3-.8-1.3-.7-1.2-.8-1.1-.7-1.1-.7-1.1-.8-1-.7-.9-.7-.9-.6-.8-.7-.8-.7-.7-.7-.7-.6-.6-.6-.5-.7-.5-.6-.5-.6-.4-.6-.3-.6-.3-.6-.3-.6-.2-.5-.1-.6-.1-.5 0-.6M930 311.2l-4.3-1.3-4.2-1.3-4.1-1.3-4.1-1.2-4-1.3-4-1.3-3.9-1.2-3.9-1.3-3.8-1.2-3.8-1.2-3.7-1.2-3.7-1.2-3.6-1.2-3.5-1.2-3.5-1.2-3.4-1.2-3.4-1.1-3.4-1.2-3.3-1.1-3.2-1.1-3.2-1.2-3.1-1.1-3.1-1.1-3-1.1-2.9-1-2.9-1.1-2.9-1.1-2.8-1-2.8-1.1-2.6-1-2.7-1-2.6-1-2.5-1-2.5-1-2.4-1-2.4-1-2.3-1-2.3-.9-2.2-1-2.2-.9-2.1-1-2-.9-2-.9-2-.9-1.9-.9-1.8-.9-1.8-.8-1.7-.9-1.7-.9-1.7-.8-1.5-.8-1.5-.9-1.5-.8-1.4-.8-1.4-.8-1.3-.8-1.3-.8-1.2-.7-1.1-.8-1.1-.7-1-.8-1-.7-1-.7-.8-.8-.9-.7-.7-.6-.8-.7-.6-.7-.6-.7-.6-.6-.5-.7-.5-.6-.4-.6-.3-.7-.3-.6-.2-.6-.2-.6-.2-.5 0-.6-.1-.6M926.7 312l-4.3-1.4-4.2-1.3-4.1-1.3-4.1-1.3-4-1.3-4-1.3-3.9-1.3-3.9-1.3-3.8-1.2-3.8-1.3-3.7-1.2-3.6-1.2-3.6-1.2-3.6-1.3-3.5-1.2-3.4-1.2-3.4-1.1-3.3-1.2-3.3-1.2-3.3-1.1-3.1-1.2-3.2-1.1-3-1.1-3-1.1-3-1.2-2.9-1.1-2.9-1-2.8-1.1-2.7-1.1-2.7-1-2.7-1.1-2.6-1-2.5-1.1-2.5-1-2.4-1-2.4-1-2.3-1-2.3-1-2.2-1-2.1-.9-2.2-1-2-.9-2-1-2-.9-1.9-.9-1.8-.9-1.8-.9-1.7-.9-1.7-.9-1.6-.9-1.6-.8-1.5-.9-1.5-.8-1.4-.8-1.4-.9-1.3-.8-1.2-.8-1.2-.8-1.2-.8-1.1-.7-1-.8-1-.8-.9-.7-.9-.8-.8-.7-.8-.7-.7-.7-.7-.7-.6-.7-.6-.7-.5-.7-.4-.6-.4-.7-.4-.6-.3-.7-.2-.6-.2-.6-.1-.6-.1-.6 0-.6M923.4 312.7l-4.2-1.4-4.2-1.3-4.2-1.4-4.1-1.3-4-1.3-4-1.3-3.9-1.3-3.9-1.3-3.8-1.3-3.7-1.3-3.7-1.3-3.7-1.2-3.6-1.3-3.6-1.2-3.5-1.2-3.4-1.2-3.4-1.2-3.3-1.2-3.3-1.2-3.2-1.2-3.2-1.2-3.1-1.1-3.1-1.2-3-1.1-3-1.2-2.9-1.1-2.8-1.1-2.9-1.1-2.7-1.1-2.7-1.1-2.6-1.1-2.6-1-2.6-1.1-2.4-1-2.5-1.1-2.3-1-2.4-1-2.2-1-2.3-1-2.1-1-2.1-1-2.1-1-2-.9-1.9-1-1.9-.9-1.9-1-1.8-.9-1.7-.9-1.7-.9-1.6-.9-1.6-.9-1.5-.9-1.5-.8-1.4-.9-1.3-.8-1.3-.9-1.3-.8-1.2-.8-1.2-.9-1-.8-1.1-.7-1-.8-.9-.8-.9-.8-.8-.7-.8-.8-.7-.7-.7-.7-.6-.7-.6-.7-.5-.7-.4-.7-.4-.7-.4-.7-.3-.6-.2-.7-.2-.6-.1-.7-.1-.6 0-.6M920.1 313.4l-4.2-1.4-4.2-1.4-4.1-1.3-4.1-1.4-4.1-1.3-3.9-1.4-4-1.3-3.8-1.3-3.8-1.3-3.8-1.3-3.7-1.3-3.7-1.3-3.6-1.3-3.5-1.2-3.5-1.3-3.5-1.2-3.4-1.3-3.3-1.2-3.3-1.2-3.2-1.2-3.2-1.2-3.1-1.2-3.1-1.2-3-1.1-3-1.2-2.9-1.1-2.8-1.2-2.8-1.1-2.8-1.1-2.7-1.1-2.6-1.1-2.6-1.1-2.5-1.1-2.5-1.1-2.4-1-2.4-1.1-2.3-1-2.3-1.1-2.2-1-2.2-1-2.1-1-2.1-1-2-1-1.9-1-1.9-1-1.8-.9-1.8-1-1.8-.9-1.6-.9-1.7-1-1.6-.9-1.5-.9-1.4-.9-1.5-.9-1.3-.8-1.3-.9-1.3-.8-1.2-.9-1.1-.8-1.1-.9-1.1-.8-1-.8-.9-.8-.9-.8-.8-.7-.8-.8-.7-.8-.7-.7-.6-.8-.5-.7-.5-.7-.5-.7-.4-.7-.3-.7-.3-.7-.3-.7-.2-.7-.1-.6-.1-.7 0-.6M916.8 314.1l-4.2-1.4-4.2-1.4-4.1-1.4-4.1-1.4-4-1.4-4-1.3-3.9-1.4-3.9-1.3-3.8-1.3-3.8-1.4-3.7-1.3-3.7-1.3-3.6-1.3-3.5-1.3-3.5-1.3-3.4-1.2-3.4-1.3-3.4-1.2-3.3-1.3-3.2-1.2-3.2-1.2-3.1-1.2-3.1-1.2-3-1.2-2.9-1.2-2.9-1.2-2.9-1.1-2.8-1.2-2.8-1.1-2.6-1.2-2.7-1.1-2.6-1.1-2.5-1.1-2.5-1.1-2.4-1.1-2.4-1.1-2.3-1.1-2.3-1-2.2-1.1-2.2-1-2.1-1.1-2-1-2-1-2-1-1.9-1-1.8-1-1.8-.9-1.7-1-1.7-1-1.7-.9-1.5-1-1.5-.9-1.5-.9-1.4-.9-1.4-.9-1.3-.9-1.3-.9-1.2-.8-1.1-.9-1.1-.9-1-.8-1-.8-1-.9-.8-.8-.9-.8-.7-.8-.8-.8-.6-.7-.6-.8-.6-.8-.5-.7-.5-.8-.4-.7-.3-.7-.3-.7-.2-.7-.2-.7-.2-.7 0-.7-.1-.6M913.6 314.8l-4.3-1.4-4.2-1.4-4.1-1.5-4.1-1.4-4-1.4-4-1.4-3.9-1.3-3.9-1.4-3.8-1.4-3.8-1.3-3.7-1.4-3.6-1.3-3.6-1.3-3.6-1.3-3.5-1.3-3.4-1.3-3.4-1.3-3.3-1.3-3.3-1.2-3.3-1.3-3.1-1.2-3.2-1.3-3-1.2-3-1.2-3-1.2-2.9-1.2-2.9-1.2-2.8-1.2-2.7-1.2-2.7-1.1-2.7-1.2-2.6-1.1-2.5-1.2-2.5-1.1-2.4-1.1-2.4-1.1-2.3-1.1-2.3-1.1-2.2-1.1-2.1-1-2.2-1.1-2-1-2-1.1-2-1-1.9-1-1.8-1-1.8-1-1.7-1-1.7-1-1.6-1-1.6-.9-1.5-1-1.5-.9-1.4-1-1.4-.9-1.3-.9-1.2-.9-1.2-.9-1.2-.9-1.1-.9-1-.8-1-.9-.9-.8-.9-.9-.8-.8-.8-.8-.7-.8-.7-.8-.6-.8-.6-.8-.5-.8-.4-.8-.4-.7-.4-.8-.3-.7-.2-.7-.2-.7-.1-.7-.1-.7 0-.7M910.3 315.5l-4.2-1.4-4.2-1.5-4.2-1.4-4.1-1.5-4-1.4-4-1.4-3.9-1.4-3.9-1.4-3.8-1.4-3.7-1.3-3.7-1.4-3.7-1.4-3.6-1.3-3.6-1.4-3.5-1.3-3.4-1.3-3.4-1.3-3.3-1.3-3.3-1.3-3.2-1.3-3.2-1.3-3.1-1.2-3.1-1.3-3-1.2-3-1.2-2.9-1.3-2.8-1.2-2.9-1.2-2.7-1.2-2.7-1.2-2.6-1.1-2.6-1.2-2.6-1.2-2.4-1.1-2.5-1.2-2.3-1.1-2.4-1.1-2.2-1.1-2.3-1.1-2.1-1.1-2.1-1.1-2.1-1.1-2-1-1.9-1.1-1.9-1-1.9-1.1-1.8-1-1.7-1-1.7-1-1.6-1-1.6-1-1.5-1-1.5-1-1.4-.9-1.3-1-1.3-.9-1.3-.9-1.2-1-1.2-.9-1-.9-1.1-.9-1-.8-.9-.9-.9-.9-.8-.8-.8-.9-.7-.8-.7-.9-.6-.8-.6-.8-.5-.8-.4-.8-.4-.7-.4-.8-.3-.8-.2-.7-.2-.8-.1-.7-.1-.7 0-.7M907 316.2l-4.2-1.4-4.2-1.5-4.1-1.5-4.1-1.4-4.1-1.5-3.9-1.4-4-1.5-3.8-1.4-3.8-1.4-3.8-1.4-3.7-1.4-3.7-1.4-3.6-1.3-3.5-1.4-3.5-1.3-3.5-1.4-3.4-1.3-3.3-1.4-3.3-1.3-3.2-1.3-3.2-1.3-3.1-1.3-3.1-1.2-3-1.3-3-1.3-2.9-1.2-2.8-1.3-2.8-1.2-2.8-1.2-2.7-1.2-2.6-1.2-2.6-1.2-2.5-1.2-2.5-1.2-2.4-1.1-2.4-1.2-2.3-1.1-2.3-1.2-2.2-1.1-2.2-1.1-2.1-1.1-2.1-1.1-2-1.1-1.9-1.1-1.9-1.1-1.8-1-1.8-1.1-1.8-1-1.6-1-1.7-1.1-1.6-1-1.5-1-1.4-1-1.5-1-1.3-.9-1.3-1-1.3-1-1.2-.9-1.1-.9-1.1-1-1.1-.9-1-.9-.9-.9-.9-.9-.8-.9-.8-.8-.7-.9-.7-.9-.6-.8-.5-.8-.5-.9-.5-.8-.4-.8-.3-.8-.3-.8-.3-.7-.2-.8-.1-.8-.1-.7 0-.8M903.8 317l-4.3-1.6-4.2-1.5-4.1-1.4-4.1-1.5-4-1.5-4-1.5-3.9-1.4-3.9-1.5-3.8-1.4-3.8-1.4-3.7-1.4-3.7-1.4-3.6-1.4-3.5-1.4-3.5-1.4-3.4-1.4-3.4-1.3-3.4-1.4-3.3-1.3-3.2-1.4-3.2-1.3-3.1-1.3-3.1-1.3-3-1.3-2.9-1.3-2.9-1.3-2.9-1.2-2.8-1.3-2.8-1.2-2.6-1.3-2.7-1.2-2.6-1.2-2.5-1.2-2.5-1.2-2.4-1.2-2.4-1.2-2.3-1.2-2.3-1.1-2.2-1.2-2.2-1.1-2.1-1.1-2-1.2-2-1.1-2-1.1-1.9-1.1-1.8-1.1-1.8-1-1.7-1.1-1.7-1.1-1.7-1-1.5-1.1-1.5-1-1.5-1-1.4-1-1.4-1-1.3-1-1.3-1-1.2-1-1.1-.9-1.1-1-1-.9-1-1-1-.9-.8-.9-.9-.9-.7-.9-.8-.9-.6-.9-.6-.8-.6-.9-.5-.8-.5-.9-.4-.8-.3-.8-.3-.8-.2-.9-.2-.7-.2-.8 0-.8-.1-.8M900.5 317.7l-4.3-1.6-4.2-1.5-4.1-1.5-4.1-1.5-4-1.5-4-1.5-3.9-1.5-3.9-1.5-3.8-1.4-3.8-1.5-3.7-1.4-3.6-1.4-3.6-1.5-3.6-1.4-3.5-1.4-3.4-1.4-3.4-1.4-3.3-1.3-3.3-1.4-3.3-1.4-3.1-1.3-3.2-1.3-3-1.4-3-1.3-3-1.3-2.9-1.3-2.9-1.3-2.8-1.3-2.7-1.2-2.7-1.3-2.7-1.3-2.6-1.2-2.5-1.2-2.5-1.3-2.4-1.2-2.4-1.2-2.3-1.2-2.3-1.2-2.2-1.1-2.1-1.2-2.2-1.2-2-1.1-2-1.2-2-1.1-1.9-1.1-1.8-1.1-1.8-1.1-1.7-1.1-1.7-1.1-1.6-1.1-1.6-1-1.5-1.1-1.5-1-1.4-1.1-1.4-1-1.3-1-1.2-1-1.2-1-1.2-1-1.1-1-1-1-1-.9-.9-1-.9-.9-.8-.9-.8-1-.7-.9-.7-.9-.6-.9-.6-.9-.5-.8-.4-.9-.4-.9-.4-.8-.3-.8-.2-.9-.2-.8-.1-.8-.1-.8 0-.8M897.2 318.4l-4.2-1.6-4.2-1.5-4.2-1.6-4.1-1.5-4-1.5-4-1.5-3.9-1.5-3.9-1.5-3.8-1.5-3.7-1.5-3.7-1.5-3.7-1.4-3.6-1.5-3.6-1.4-3.5-1.4-3.4-1.5-3.4-1.4-3.3-1.4-3.3-1.4-3.2-1.3-3.2-1.4-3.1-1.4-3.1-1.3-3-1.4-3-1.3-2.9-1.3-2.8-1.4-2.9-1.3-2.7-1.3-2.7-1.3-2.6-1.2-2.6-1.3-2.6-1.3-2.4-1.2-2.5-1.2-2.3-1.3-2.4-1.2-2.2-1.2-2.3-1.2-2.1-1.2-2.1-1.2-2.1-1.2-2-1.1-1.9-1.2-1.9-1.1-1.9-1.2-1.8-1.1-1.7-1.1-1.7-1.1-1.6-1.1-1.6-1.1-1.5-1.1-1.5-1.1-1.4-1-1.3-1.1-1.3-1-1.3-1-1.2-1.1-1.2-1-1-1-1.1-1-1-1-.9-.9-.9-1-.8-1-.8-.9-.7-1-.7-.9-.6-.9-.6-.9-.5-.9-.4-.9-.4-.9-.4-.9-.3-.8-.2-.9-.2-.8-.1-.9-.1-.8 0-.8M893.9 319.1l-4.2-1.6-4.2-1.6-4.1-1.5-4.1-1.6-4.1-1.5-3.9-1.6-4-1.5-3.8-1.5-3.8-1.5-3.8-1.5-3.7-1.5-3.7-1.5-3.6-1.5-3.5-1.5-3.5-1.4-3.5-1.5-3.4-1.4-3.3-1.4-3.3-1.4-3.2-1.4-3.2-1.4-3.1-1.4-3.1-1.4-3-1.4-3-1.3-2.9-1.4-2.8-1.3-2.8-1.4-2.8-1.3-2.7-1.3-2.6-1.3-2.6-1.3-2.5-1.3-2.5-1.3-2.4-1.2-2.4-1.3-2.3-1.2-2.3-1.3-2.2-1.2-2.2-1.2-2.1-1.2-2.1-1.2-2-1.2-1.9-1.2-1.9-1.2-1.8-1.1-1.8-1.2-1.8-1.1-1.6-1.1-1.7-1.2-1.6-1.1-1.5-1.1-1.4-1.1-1.5-1.1-1.3-1.1-1.3-1-1.3-1.1-1.2-1-1.1-1.1-1.1-1-1.1-1-1-1-.9-1-.9-1-.8-1-.8-1-.7-.9-.7-1-.6-.9-.5-1-.5-.9-.5-.9-.4-.9-.3-.9-.3-.9-.3-.9-.2-.9-.1-.8-.1-.9 0-.8M890.6 319.8l-4.2-1.6-4.2-1.6-4.1-1.6-4.1-1.6-4-1.5-4-1.6-3.9-1.6-3.9-1.5-3.8-1.6-3.8-1.5-3.7-1.5-3.7-1.5-3.6-1.5-3.5-1.5-3.5-1.5-3.4-1.4-3.4-1.5-3.4-1.5-3.3-1.4-3.2-1.4-3.2-1.5-3.1-1.4-3.1-1.4-3-1.4-2.9-1.4-2.9-1.3-2.9-1.4-2.8-1.4-2.8-1.3-2.6-1.3-2.7-1.4-2.6-1.3-2.5-1.3-2.5-1.3-2.4-1.3-2.4-1.3-2.3-1.2-2.3-1.3-2.2-1.3-2.2-1.2-2.1-1.2-2-1.3-2-1.2-2-1.2-1.9-1.2-1.8-1.2-1.8-1.1-1.7-1.2-1.7-1.2-1.7-1.1-1.5-1.2-1.5-1.1-1.5-1.1-1.4-1.1-1.4-1.1-1.3-1.1-1.3-1.1-1.2-1.1-1.1-1-1.1-1.1-1-1-1-1.1-1-1-.8-1-.9-1-.7-1-.8-1-.6-1-.6-1-.6-.9-.5-1-.5-.9-.4-1-.3-.9-.3-.9-.2-.9-.2-.9-.2-.9 0-.8-.1-.9M887.4 320.5l-4.3-1.6-4.2-1.6-4.1-1.6-4.1-1.7-4-1.6-4-1.5-3.9-1.6-3.9-1.6-3.8-1.6-3.8-1.5-3.7-1.6-3.6-1.5-3.6-1.5-3.6-1.5-3.5-1.5-3.4-1.5-3.4-1.5-3.3-1.5-3.3-1.5-3.3-1.4-3.1-1.5-3.2-1.4-3-1.4-3-1.5-3-1.4-2.9-1.4-2.9-1.4-2.8-1.3-2.7-1.4-2.7-1.4-2.7-1.3-2.6-1.4-2.5-1.3-2.5-1.3-2.4-1.4-2.4-1.3-2.3-1.3-2.3-1.3-2.2-1.2-2.1-1.3-2.2-1.3-2-1.2-2-1.3-2-1.2-1.9-1.2-1.8-1.2-1.8-1.2-1.7-1.2-1.7-1.2-1.6-1.2-1.6-1.1-1.5-1.2-1.5-1.1-1.4-1.2-1.4-1.1-1.3-1.1-1.2-1.1-1.2-1.1-1.2-1.1-1.1-1.1-1-1.1-1-1-.9-1.1-.9-1-.8-1.1-.8-1-.7-1-.7-1-.6-1-.6-1-.5-1-.4-.9-.4-1-.4-.9-.3-1-.2-.9-.2-.9-.1-.9-.1-.9 0-.9M884.1 321.3l-4.2-1.7-4.2-1.7-4.2-1.6-4.1-1.6-4-1.7-4-1.6-3.9-1.6-3.9-1.6-3.8-1.6-3.7-1.6-3.7-1.5-3.7-1.6-3.6-1.5-3.6-1.6-3.5-1.5-3.4-1.5-3.4-1.5-3.3-1.5-3.3-1.5-3.2-1.5-3.2-1.5-3.1-1.5-3.1-1.4-3-1.5-3-1.4-2.9-1.4-2.8-1.4-2.9-1.4-2.7-1.4-2.7-1.4-2.6-1.4-2.6-1.4-2.6-1.3-2.4-1.4-2.5-1.3-2.3-1.4-2.4-1.3-2.2-1.3-2.3-1.3-2.1-1.3-2.1-1.3-2.1-1.3-2-1.2-1.9-1.3-1.9-1.2-1.9-1.3-1.8-1.2-1.7-1.2-1.7-1.2-1.6-1.2-1.6-1.2-1.5-1.2-1.5-1.2-1.4-1.1-1.3-1.2-1.3-1.1-1.3-1.2-1.2-1.1-1.2-1.1-1-1.1-1.1-1.1-1-1.1-.9-1.1-.9-1-.8-1.1-.8-1-.7-1.1-.7-1-.6-1-.6-1-.5-1-.4-1-.4-1-.4-1-.3-1-.2-.9-.2-1-.1-.9-.1-.9 0-.9M880.8 322l-4.2-1.7-4.2-1.7-4.1-1.7-4.1-1.6-4.1-1.7-3.9-1.6-4-1.7-3.8-1.6-3.8-1.6-3.8-1.6-3.7-1.6-3.7-1.6-3.6-1.5-3.5-1.6-3.5-1.6-3.5-1.5-3.4-1.6-3.3-1.5-3.3-1.5-3.2-1.5-3.2-1.5-3.1-1.5-3.1-1.5-3-1.4-3-1.5-2.9-1.5-2.8-1.4-2.8-1.4-2.8-1.5-2.7-1.4-2.6-1.4-2.6-1.4-2.5-1.4-2.5-1.3-2.4-1.4-2.4-1.4-2.3-1.3-2.3-1.4-2.2-1.3-2.2-1.3-2.1-1.3-2.1-1.3-2-1.3-1.9-1.3-1.9-1.3-1.8-1.2-1.8-1.3-1.8-1.2-1.6-1.3-1.7-1.2-1.6-1.2-1.5-1.2-1.4-1.2-1.5-1.2-1.3-1.2-1.3-1.1-1.3-1.2-1.2-1.1-1.1-1.2-1.1-1.1-1.1-1.1-1-1.1-.9-1.1-.9-1.1-.8-1.1-.8-1.1-.7-1.1-.7-1-.6-1.1-.5-1-.5-1-.5-1-.4-1.1-.3-1-.3-.9-.3-1-.2-1-.1-1-.1-.9 0-.9M877.6 322.7l-4.3-1.7-4.2-1.7-4.1-1.7-4.1-1.7-4-1.7-4-1.7-3.9-1.6-3.9-1.7-3.8-1.6-3.8-1.6-3.7-1.7-3.7-1.6-3.6-1.6-3.5-1.6-3.5-1.5-3.4-1.6-3.4-1.6-3.4-1.5-3.3-1.6-3.2-1.5-3.2-1.5-3.1-1.5-3.1-1.5-3-1.5-2.9-1.5-2.9-1.5-2.9-1.5-2.8-1.4-2.8-1.5-2.6-1.4-2.7-1.5-2.6-1.4-2.5-1.4-2.5-1.4-2.4-1.4-2.4-1.4-2.3-1.3-2.3-1.4-2.2-1.4-2.2-1.3-2.1-1.3-2-1.4-2-1.3-2-1.3-1.9-1.3-1.8-1.3-1.8-1.3-1.7-1.2-1.7-1.3-1.7-1.2-1.5-1.3-1.5-1.2-1.5-1.2-1.4-1.2-1.4-1.2-1.3-1.2-1.3-1.2-1.2-1.2-1.1-1.2-1.1-1.1-1-1.2-1-1.1-1-1.1-.8-1.1-.9-1.2-.7-1.1-.8-1-.6-1.1-.6-1.1-.6-1.1-.5-1-.5-1.1-.4-1-.3-1-.3-1-.2-1-.2-1-.2-1 0-1-.1-1M874.3 323.4l-4.3-1.7-4.2-1.8-4.1-1.7-4.1-1.7-4-1.7-4-1.7-3.9-1.7-3.9-1.7-3.8-1.6-3.8-1.7-3.7-1.6-3.6-1.6-3.6-1.7-3.6-1.6-3.5-1.6-3.4-1.6-3.4-1.6-3.3-1.6-3.3-1.5-3.3-1.6-3.1-1.5-3.2-1.6-3-1.5-3-1.5-3-1.5-2.9-1.5-2.9-1.5-2.8-1.5-2.7-1.5-2.7-1.5-2.7-1.4-2.6-1.5-2.5-1.4-2.5-1.4-2.4-1.4-2.4-1.5-2.3-1.4-2.3-1.3-2.2-1.4-2.1-1.4-2.2-1.4-2-1.3-2-1.4-2-1.3-1.9-1.3-1.8-1.3-1.8-1.3-1.7-1.3-1.7-1.3-1.6-1.3-1.6-1.2-1.5-1.3-1.5-1.3-1.4-1.2-1.4-1.2-1.3-1.2-1.2-1.2-1.2-1.3-1.2-1.1-1.1-1.2-1-1.2-1-1.2-.9-1.1-.9-1.2-.8-1.1-.8-1.1-.7-1.1-.7-1.1-.6-1.1-.6-1.1-.5-1.1-.4-1.1-.4-1-.4-1.1-.3-1-.2-1-.2-1.1-.1-1-.1-1 0-1M871 324.1l-4.2-1.8-4.2-1.7-4.2-1.8-4.1-1.7-4-1.7-4-1.7-3.9-1.7-3.9-1.7-3.8-1.7-3.7-1.7-3.7-1.7-3.7-1.6-3.6-1.7-3.6-1.6-3.5-1.7-3.4-1.6-3.4-1.6-3.3-1.6-3.3-1.6-3.2-1.6-3.2-1.6-3.1-1.5-3.1-1.6-3-1.5-3-1.6-2.9-1.5-2.8-1.5-2.9-1.5-2.7-1.5-2.7-1.5-2.6-1.5-2.6-1.5-2.6-1.4-2.4-1.5-2.5-1.4-2.3-1.5-2.4-1.4-2.2-1.4-2.3-1.4-2.1-1.4-2.1-1.4-2.1-1.4-2-1.3-1.9-1.4-1.9-1.3-1.9-1.4-1.8-1.3-1.7-1.3-1.7-1.3-1.6-1.3-1.6-1.3-1.5-1.3-1.5-1.3-1.4-1.2-1.3-1.3-1.3-1.2-1.3-1.3-1.2-1.2-1.2-1.2-1-1.2-1.1-1.2-1-1.2-.9-1.2-.9-1.2-.8-1.1-.8-1.2-.7-1.1-.7-1.1-.6-1.2-.6-1.1-.5-1.1-.4-1.1-.4-1.1-.4-1-.3-1.1-.2-1.1-.2-1-.1-1-.1-1.1 0-1M867.7 324.8l-4.2-1.8-4.2-1.7-4.1-1.8-4.1-1.8-4.1-1.7-3.9-1.8-4-1.7-3.8-1.7-3.8-1.7-3.8-1.7-3.7-1.7-3.7-1.7-3.6-1.7-3.5-1.7-3.5-1.6-3.5-1.7-3.4-1.6-3.3-1.6-3.3-1.7-3.2-1.6-3.2-1.6-3.1-1.6-3.1-1.5-3-1.6-3-1.6-2.9-1.5-2.8-1.6-2.8-1.5-2.8-1.5-2.7-1.6-2.6-1.5-2.6-1.5-2.5-1.4-2.5-1.5-2.4-1.5-2.4-1.5-2.3-1.4-2.3-1.4-2.2-1.5-2.2-1.4-2.1-1.4-2.1-1.4-2-1.4-1.9-1.4-1.9-1.4-1.8-1.3-1.8-1.4-1.8-1.3-1.6-1.4-1.7-1.3-1.6-1.3-1.5-1.3-1.4-1.3-1.5-1.3-1.3-1.3-1.3-1.2-1.3-1.3-1.2-1.3-1.1-1.2-1.1-1.2-1.1-1.3-1-1.2-.9-1.2-.9-1.2-.8-1.2-.8-1.1-.7-1.2-.7-1.1-.6-1.2-.5-1.1-.5-1.2-.5-1.1-.4-1.1-.3-1.1-.3-1.1-.3-1.1-.2-1-.1-1.1-.1-1 0-1.1M864.4 325.5l-4.2-1.8-4.2-1.8-4.1-1.8-4.1-1.8-4-1.7-4-1.8-3.9-1.8-3.9-1.7-3.8-1.8-3.8-1.7-3.7-1.7-3.7-1.7-3.6-1.7-3.5-1.7-3.5-1.7-3.4-1.7-3.4-1.6-3.4-1.7-3.3-1.6-3.2-1.7-3.2-1.6-3.1-1.6-3.1-1.6-3-1.6-2.9-1.6-2.9-1.6-2.9-1.5-2.8-1.6-2.8-1.6-2.6-1.5-2.7-1.5-2.6-1.6-2.5-1.5-2.5-1.5-2.4-1.5-2.4-1.4-2.3-1.5-2.3-1.5-2.2-1.4-2.2-1.5-2.1-1.4-2-1.5-2-1.4-2-1.4-1.9-1.4-1.8-1.4-1.8-1.4-1.7-1.3-1.7-1.4-1.7-1.3-1.5-1.4-1.5-1.3-1.5-1.3-1.4-1.4-1.4-1.3-1.3-1.3-1.3-1.2-1.2-1.3-1.1-1.3-1.1-1.2-1-1.3-1-1.2-1-1.3-.8-1.2-.9-1.2-.7-1.2-.8-1.2-.6-1.2-.6-1.1-.6-1.2-.5-1.1-.5-1.2-.4-1.1-.3-1.2-.3-1.1-.2-1.1-.2-1.1-.2-1.1 0-1-.1-1.1M861.2 326.3l-4.3-1.9-4.2-1.8-4.1-1.8-4.1-1.8-4-1.9-4-1.7-3.9-1.8-3.9-1.8-3.8-1.8-3.8-1.7-3.7-1.8-3.6-1.7-3.6-1.7-3.6-1.8-3.5-1.7-3.4-1.7-3.4-1.6-3.3-1.7-3.3-1.7-3.3-1.7-3.1-1.6-3.2-1.7-3-1.6-3-1.6-3-1.6-2.9-1.6-2.9-1.6-2.8-1.6-2.7-1.6-2.7-1.5-2.7-1.6-2.6-1.5-2.5-1.6-2.5-1.5-2.4-1.5-2.4-1.5-2.3-1.5-2.3-1.5-2.2-1.5-2.1-1.5-2.2-1.5-2-1.4-2-1.4-2-1.5-1.9-1.4-1.8-1.4-1.8-1.4-1.7-1.4-1.7-1.4-1.6-1.4-1.6-1.4-1.5-1.3-1.5-1.4-1.4-1.3-1.4-1.3-1.3-1.4-1.2-1.3-1.2-1.3-1.2-1.3-1.1-1.2-1-1.3-1-1.3-.9-1.2-.9-1.3-.8-1.2-.8-1.2-.7-1.3-.7-1.2-.6-1.2-.6-1.2-.5-1.1-.4-1.2-.4-1.2-.4-1.1-.3-1.2-.2-1.1-.2-1.1-.1-1.1-.1-1.1 0-1.1M857.9 327l-4.2-1.9-4.2-1.9-4.2-1.8-4.1-1.8-4-1.9-4-1.8-3.9-1.8-3.9-1.8-3.8-1.8-3.7-1.8-3.7-1.7-3.7-1.8-3.6-1.7-3.6-1.8-3.5-1.7-3.4-1.7-3.4-1.8-3.3-1.7-3.3-1.7-3.2-1.6-3.2-1.7-3.1-1.7-3.1-1.7-3-1.6-3-1.6-2.9-1.7-2.8-1.6-2.9-1.6-2.7-1.6-2.7-1.6-2.6-1.6-2.6-1.5-2.6-1.6-2.4-1.6-2.5-1.5-2.3-1.5-2.4-1.6-2.2-1.5-2.3-1.5-2.1-1.5-2.1-1.5-2.1-1.5-2-1.4-1.9-1.5-1.9-1.4-1.9-1.5-1.8-1.4-1.7-1.4-1.7-1.4-1.6-1.4-1.6-1.4-1.5-1.4-1.5-1.4-1.4-1.4-1.3-1.3-1.3-1.4-1.3-1.3-1.2-1.3-1.2-1.3-1-1.3-1.1-1.3-1-1.3-.9-1.3-.9-1.3-.8-1.2-.8-1.3-.7-1.2-.7-1.3-.6-1.2-.6-1.2-.5-1.2-.4-1.2-.4-1.2-.4-1.2-.3-1.1-.2-1.2-.2-1.1-.1-1.2-.1-1.1 0-1.1M854.6 327.7l-4.2-1.9-4.2-1.9-4.1-1.9-4.1-1.8-4.1-1.9-3.9-1.8-4-1.9-3.8-1.8-3.8-1.8-3.8-1.8-3.7-1.8-3.7-1.8-3.6-1.8-3.5-1.7-3.5-1.8-3.5-1.7-3.4-1.8-3.3-1.7-3.3-1.7-3.2-1.7-3.2-1.7-3.1-1.7-3.1-1.7-3-1.7-3-1.7-2.9-1.6-2.8-1.7-2.8-1.6-2.8-1.6-2.7-1.6-2.6-1.6-2.6-1.6-2.5-1.6-2.5-1.6-2.4-1.6-2.4-1.5-2.3-1.6-2.3-1.5-2.2-1.6-2.2-1.5-2.1-1.5-2.1-1.5-2-1.5-1.9-1.5-1.9-1.5-1.8-1.4-1.8-1.5-1.8-1.4-1.6-1.5-1.7-1.4-1.6-1.4-1.5-1.4-1.4-1.4-1.5-1.4-1.3-1.4-1.3-1.4-1.3-1.3-1.2-1.4-1.1-1.3-1.1-1.4-1.1-1.3-1-1.3-.9-1.3-.9-1.3-.8-1.3-.8-1.3-.7-1.2-.7-1.3-.6-1.2-.5-1.3-.5-1.2-.5-1.2-.4-1.2-.3-1.2-.3-1.2-.3-1.2-.2-1.2-.1-1.1-.1-1.2 0-1.1M851.4 328.4l-4.3-1.9-4.2-1.9-4.1-1.9-4.1-1.9-4-1.9-4-1.9-3.9-1.8-3.9-1.9-3.8-1.8-3.8-1.8-3.7-1.9-3.7-1.8-3.6-1.8-3.5-1.8-3.5-1.8-3.4-1.7-3.4-1.8-3.4-1.7-3.3-1.8-3.2-1.7-3.2-1.8-3.1-1.7-3.1-1.7-3-1.7-2.9-1.7-2.9-1.7-2.9-1.6-2.8-1.7-2.8-1.6-2.6-1.7-2.7-1.6-2.6-1.6-2.5-1.7-2.5-1.6-2.4-1.6-2.4-1.5-2.3-1.6-2.3-1.6-2.2-1.5-2.2-1.6-2.1-1.5-2-1.6-2-1.5-2-1.5-1.9-1.5-1.8-1.5-1.8-1.5-1.7-1.4-1.7-1.5-1.7-1.4-1.5-1.5-1.5-1.4-1.5-1.4-1.4-1.5-1.4-1.4-1.3-1.4-1.3-1.4-1.2-1.3-1.1-1.4-1.1-1.4-1-1.3-1-1.3-1-1.4-.8-1.3-.9-1.3-.7-1.3-.8-1.3-.6-1.3-.6-1.3-.6-1.2-.5-1.3-.5-1.2-.4-1.3-.3-1.2-.3-1.2-.2-1.2-.2-1.2-.2-1.2 0-1.2-.1-1.1M848.1 329.1l-4.3-1.9-4.2-2-4.1-1.9-4.1-1.9-4-1.9-4-1.9-3.9-1.9-3.9-1.9-3.8-1.8-3.8-1.9-3.7-1.8-3.6-1.9-3.6-1.8-3.6-1.8-3.5-1.8-3.4-1.8-3.4-1.8-3.3-1.8-3.3-1.8-3.3-1.7-3.1-1.8-3.2-1.7-3-1.8-3-1.7-3-1.7-2.9-1.7-2.9-1.7-2.8-1.7-2.7-1.7-2.7-1.6-2.7-1.7-2.6-1.6-2.5-1.7-2.5-1.6-2.4-1.6-2.4-1.6-2.3-1.6-2.3-1.6-2.2-1.6-2.1-1.6-2.2-1.5-2-1.6-2-1.5-2-1.6-1.9-1.5-1.8-1.5-1.8-1.5-1.7-1.5-1.7-1.5-1.6-1.5-1.6-1.5-1.5-1.4-1.5-1.5-1.4-1.4-1.4-1.4-1.3-1.5-1.2-1.4-1.2-1.4-1.2-1.4-1.1-1.4-1-1.3-1-1.4-.9-1.4-.9-1.3-.8-1.3-.8-1.4-.7-1.3-.7-1.3-.6-1.3-.6-1.3-.5-1.3-.4-1.2-.4-1.3-.4-1.2-.3-1.3-.2-1.2-.2-1.2-.1-1.3-.1-1.2 0-1.2M844.8 329.8l-4.2-1.9-4.2-2-4.2-1.9-4.1-2-4-1.9-4-1.9-3.9-1.9-3.9-1.9-3.8-1.9-3.7-1.9-3.7-1.9-3.7-1.9-3.6-1.8-3.6-1.8-3.5-1.9-3.4-1.8-3.4-1.8-3.3-1.8-3.3-1.8-3.2-1.8-3.2-1.8-3.1-1.8-3.1-1.7-3-1.8-3-1.7-2.9-1.7-2.8-1.8-2.9-1.7-2.7-1.7-2.7-1.7-2.6-1.7-2.6-1.6-2.6-1.7-2.4-1.6-2.5-1.7-2.3-1.6-2.4-1.7-2.2-1.6-2.3-1.6-2.1-1.6-2.1-1.6-2.1-1.5-2-1.6-1.9-1.6-1.9-1.5-1.9-1.6-1.8-1.5-1.7-1.5-1.7-1.5-1.6-1.5-1.6-1.5-1.5-1.5-1.5-1.5-1.4-1.5-1.3-1.4-1.3-1.5-1.3-1.4-1.2-1.4-1.2-1.5-1-1.4-1.1-1.4-1-1.4-.9-1.3-.9-1.4-.8-1.4-.8-1.3-.7-1.4-.7-1.3-.6-1.3-.6-1.3-.5-1.3-.4-1.3-.4-1.3-.4-1.3-.3-1.3-.2-1.2-.2-1.3-.1-1.2-.1-1.3 0-1.2M841.5 330.5l-4.2-1.9-4.2-2-4.1-2-4.1-2-4.1-1.9-3.9-2-4-1.9-3.8-1.9-3.8-1.9-3.8-2-3.7-1.9-3.7-1.8-3.6-1.9-3.5-1.9-3.5-1.8-3.5-1.9-3.4-1.8-3.3-1.9-3.3-1.8-3.2-1.8-3.2-1.8-3.1-1.8-3.1-1.8-3-1.8-3-1.7-2.9-1.8-2.8-1.7-2.8-1.8-2.8-1.7-2.7-1.7-2.6-1.7-2.6-1.7-2.5-1.7-2.5-1.7-2.4-1.7-2.4-1.6-2.3-1.7-2.3-1.6-2.2-1.7-2.2-1.6-2.1-1.6-2.1-1.6-2-1.6-1.9-1.6-1.9-1.6-1.8-1.5-1.8-1.6-1.8-1.5-1.6-1.6-1.7-1.5-1.6-1.5-1.5-1.5-1.4-1.5-1.5-1.5-1.3-1.5-1.3-1.5-1.3-1.4-1.2-1.5-1.1-1.4-1.1-1.5-1.1-1.4-1-1.4-.9-1.4-.9-1.4-.8-1.4-.8-1.4-.7-1.3-.7-1.4-.6-1.4-.5-1.3-.5-1.3-.5-1.4-.4-1.3-.3-1.3-.3-1.3-.3-1.2-.2-1.3-.1-1.3-.1-1.2 0-1.3M838.2 331.3l-4.2-2.1-4.2-2-4.1-2-4.1-2-4-1.9-4-2-3.9-2-3.9-1.9-3.8-2-3.8-1.9-3.7-1.9-3.7-1.9-3.6-1.9-3.5-1.9-3.5-1.9-3.4-1.9-3.4-1.9-3.4-1.8-3.3-1.9-3.2-1.8-3.2-1.8-3.1-1.8-3.1-1.9-3-1.8-2.9-1.7-2.9-1.8-2.9-1.8-2.8-1.8-2.8-1.7-2.6-1.8-2.7-1.7-2.6-1.7-2.5-1.7-2.5-1.7-2.4-1.7-2.4-1.7-2.3-1.7-2.3-1.7-2.2-1.6-2.2-1.7-2.1-1.6-2-1.6-2-1.7-2-1.6-1.9-1.6-1.8-1.6-1.8-1.6-1.7-1.5-1.7-1.6-1.7-1.5-1.5-1.6-1.5-1.5-1.5-1.6-1.4-1.5-1.4-1.5-1.3-1.5-1.3-1.5-1.2-1.4-1.1-1.5-1.1-1.5-1-1.4-1-1.5-1-1.4-.8-1.4-.9-1.4-.7-1.4-.8-1.4-.6-1.4-.6-1.4-.6-1.4-.5-1.3-.5-1.4-.4-1.3-.3-1.3-.3-1.3-.2-1.4-.2-1.3-.2-1.2 0-1.3-.1-1.3M835 332l-4.3-2.1-4.2-2-4.1-2-4.1-2-4-2-4-2-3.9-2-3.9-2-3.8-2-3.8-1.9-3.7-2-3.6-1.9-3.6-1.9-3.6-2-3.5-1.9-3.4-1.9-3.4-1.9-3.3-1.9-3.3-1.8-3.3-1.9-3.1-1.8-3.2-1.9-3-1.8-3-1.8-3-1.9-2.9-1.8-2.9-1.8-2.8-1.8-2.7-1.7-2.7-1.8-2.7-1.8-2.6-1.7-2.5-1.8-2.5-1.7-2.4-1.7-2.4-1.7-2.3-1.7-2.3-1.7-2.2-1.7-2.1-1.7-2.2-1.6-2-1.7-2-1.6-2-1.7-1.9-1.6-1.8-1.6-1.8-1.6-1.7-1.6-1.7-1.6-1.6-1.6-1.6-1.6-1.5-1.5-1.5-1.6-1.4-1.5-1.4-1.6-1.3-1.5-1.2-1.5-1.2-1.5-1.2-1.5-1.1-1.5-1-1.5-1-1.4-.9-1.5-.9-1.4-.8-1.5-.8-1.4-.7-1.4-.7-1.4-.6-1.4-.6-1.4-.5-1.4-.4-1.4-.4-1.3-.4-1.4-.3-1.3-.2-1.4-.2-1.3-.1-1.3-.1-1.3 0-1.3M831.7 332.7l-4.2-2.1-4.2-2-4.2-2.1-4.1-2-4-2.1-4-2-3.9-2-3.9-2-3.8-2-3.7-2-3.7-1.9-3.7-2-3.6-2-3.6-1.9-3.5-1.9-3.4-2-3.4-1.9-3.3-1.9-3.3-1.9-3.2-1.9-3.2-1.9-3.1-1.8-3.1-1.9-3-1.8-3-1.9-2.9-1.8-2.8-1.8-2.9-1.9-2.7-1.8-2.7-1.7-2.6-1.8-2.6-1.8-2.6-1.8-2.4-1.7-2.5-1.8-2.3-1.7-2.4-1.7-2.2-1.8-2.3-1.7-2.1-1.7-2.1-1.7-2.1-1.6-2-1.7-1.9-1.7-1.9-1.6-1.9-1.7-1.8-1.6-1.7-1.6-1.7-1.6-1.6-1.7-1.6-1.5-1.5-1.6-1.5-1.6-1.4-1.6-1.3-1.5-1.3-1.6-1.3-1.5-1.2-1.6-1.2-1.5-1-1.5-1.1-1.5-1-1.5-.9-1.5-.9-1.4-.8-1.5-.8-1.5-.7-1.4-.7-1.4-.6-1.5-.6-1.4-.5-1.4-.4-1.4-.4-1.4-.4-1.3-.3-1.4-.2-1.4-.2-1.3-.1-1.4-.1-1.3 0-1.3M828.4 333.4l-4.2-2.1-4.2-2.1-4.1-2-4.1-2.1-4.1-2.1-3.9-2-4-2.1-3.8-2-3.8-2-3.8-2-3.7-2-3.7-2-3.6-2-3.5-1.9-3.5-2-3.5-2-3.4-1.9-3.3-1.9-3.3-2-3.2-1.9-3.2-1.9-3.1-1.9-3.1-1.9-3-1.8-3-1.9-2.9-1.9-2.8-1.8-2.8-1.8-2.8-1.9-2.7-1.8-2.6-1.8-2.6-1.8-2.5-1.8-2.5-1.8-2.4-1.8-2.4-1.7-2.3-1.8-2.3-1.7-2.2-1.7-2.2-1.8-2.1-1.7-2.1-1.7-2-1.7-1.9-1.7-1.9-1.7-1.8-1.6-1.8-1.7-1.8-1.6-1.6-1.7-1.7-1.6-1.6-1.6-1.5-1.6-1.4-1.6-1.5-1.6-1.3-1.6-1.3-1.6-1.3-1.6-1.2-1.5-1.1-1.6-1.1-1.5-1.1-1.5-1-1.5-.9-1.5-.9-1.5-.8-1.5-.8-1.5-.7-1.5-.7-1.4-.6-1.5-.5-1.4-.5-1.5-.5-1.4-.4-1.4-.3-1.4-.3-1.4-.3-1.4-.2-1.4-.1-1.3-.1-1.4 0-1.3M825.2 334.1l-4.3-2.1-4.2-2.1-4.1-2.1-4.1-2.1-4-2.1-4-2.1-3.9-2-3.9-2.1-3.8-2-3.8-2-3.7-2.1-3.7-2-3.6-2-3.5-2-3.5-2-3.4-1.9-3.4-2-3.4-2-3.3-1.9-3.2-2-3.2-1.9-3.1-1.9-3.1-1.9-3-1.9-2.9-1.9-2.9-1.9-2.9-1.9-2.8-1.8-2.8-1.9-2.6-1.8-2.7-1.9-2.6-1.8-2.5-1.8-2.5-1.8-2.4-1.8-2.4-1.8-2.3-1.8-2.3-1.8-2.2-1.7-2.2-1.8-2.1-1.7-2-1.7-2-1.8-2-1.7-1.9-1.7-1.8-1.7-1.8-1.7-1.7-1.6-1.7-1.7-1.7-1.7-1.5-1.6-1.5-1.6-1.5-1.7-1.4-1.6-1.4-1.6-1.3-1.6-1.3-1.6-1.2-1.6-1.1-1.5-1.1-1.6-1-1.5-1-1.6-1-1.5-.8-1.5-.9-1.6-.7-1.5-.8-1.5-.6-1.4-.6-1.5-.6-1.5-.5-1.4-.5-1.5-.4-1.4-.3-1.5-.3-1.4-.2-1.4-.2-1.4-.2-1.4 0-1.4-.1-1.3M821.9 334.8l-4.3-2.1-4.2-2.1-4.1-2.2-4.1-2.1-4-2.1-4-2.1-3.9-2.1-3.9-2.1-3.8-2-3.8-2.1-3.7-2-3.6-2.1-3.6-2-3.6-2-3.5-2-3.4-2-3.4-2-3.3-2-3.3-2-3.3-2-3.1-1.9-3.2-2-3-1.9-3-1.9-3-1.9-2.9-1.9-2.9-1.9-2.8-1.9-2.7-1.9-2.7-1.9-2.7-1.8-2.6-1.9-2.5-1.8-2.5-1.9-2.4-1.8-2.4-1.8-2.3-1.8-2.3-1.8-2.2-1.8-2.1-1.8-2.2-1.7-2-1.8-2-1.7-2-1.8-1.9-1.7-1.8-1.7-1.8-1.7-1.7-1.7-1.7-1.7-1.6-1.7-1.6-1.7-1.5-1.6-1.5-1.7-1.4-1.6-1.4-1.7-1.3-1.6-1.2-1.6-1.2-1.6-1.2-1.6-1.1-1.6-1-1.6-1-1.5-.9-1.6-.9-1.6-.8-1.5-.8-1.5-.7-1.5-.7-1.6-.6-1.5-.6-1.4-.5-1.5-.4-1.5-.4-1.5-.4-1.4-.3-1.5-.2-1.4-.2-1.4-.1-1.4-.1-1.5 0-1.4M818.6 335.6l-4.2-2.2-4.2-2.2-4.2-2.1-4.1-2.2-4-2.1-4-2.1-3.9-2.1-3.9-2.1-3.8-2.1-3.7-2.1-3.7-2.1-3.7-2.1-3.6-2-3.6-2.1-3.5-2-3.4-2-3.4-2-3.3-2.1-3.3-2-3.2-1.9-3.2-2-3.1-2-3.1-2-3-1.9-3-2-2.9-1.9-2.8-1.9-2.9-1.9-2.7-1.9-2.7-1.9-2.6-1.9-2.6-1.9-2.6-1.9-2.4-1.8-2.5-1.9-2.3-1.8-2.4-1.8-2.2-1.9-2.3-1.8-2.1-1.8-2.1-1.8-2.1-1.7-2-1.8-1.9-1.8-1.9-1.7-1.9-1.8-1.8-1.7-1.7-1.7-1.7-1.8-1.6-1.7-1.6-1.7-1.5-1.6-1.5-1.7-1.4-1.7-1.3-1.6-1.3-1.7-1.3-1.6-1.2-1.7-1.2-1.6-1-1.6-1.1-1.6-1-1.6-.9-1.6-.9-1.6-.8-1.5-.8-1.6-.7-1.5-.7-1.6-.6-1.5-.6-1.5-.5-1.5-.4-1.5-.4-1.5-.4-1.5-.3-1.5-.2-1.4-.2-1.5-.1-1.4-.1-1.4 0-1.5M815.3 336.3l-4.2-2.2-4.2-2.2-4.1-2.2-4.1-2.2-4.1-2.1-3.9-2.2-4-2.1-3.8-2.1-3.8-2.1-3.8-2.2-3.7-2.1-3.7-2.1-3.6-2-3.5-2.1-3.5-2.1-3.5-2-3.4-2.1-3.3-2-3.3-2-3.2-2-3.2-2-3.1-2-3.1-2-3-2-3-2-2.9-1.9-2.8-2-2.8-1.9-2.8-2-2.7-1.9-2.6-1.9-2.6-1.9-2.5-1.9-2.5-1.9-2.4-1.8-2.4-1.9-2.3-1.9-2.3-1.8-2.2-1.8-2.2-1.9-2.1-1.8-2.1-1.8-2-1.8-1.9-1.8-1.9-1.8-1.8-1.7-1.8-1.8-1.8-1.7-1.6-1.8-1.7-1.7-1.6-1.7-1.5-1.7-1.4-1.7-1.5-1.7-1.3-1.7-1.3-1.7-1.3-1.7-1.2-1.6-1.1-1.7-1.1-1.6-1.1-1.6-1-1.7-.9-1.6-.9-1.6-.8-1.6-.8-1.5-.7-1.6-.7-1.6-.6-1.5-.5-1.6-.5-1.5-.5-1.5-.4-1.5-.3-1.5-.3-1.5-.3-1.5-.2-1.5-.1-1.5-.1-1.4 0-1.5M812 337l-4.2-2.2-4.2-2.3-4.1-2.2-4.1-2.1-4-2.2-4-2.2-3.9-2.2-3.9-2.1-3.8-2.2-3.8-2.1-3.7-2.1-3.7-2.1-3.6-2.1-3.5-2.1-3.5-2.1-3.4-2.1-3.4-2.1-3.4-2-3.3-2.1-3.2-2-3.2-2.1-3.1-2-3.1-2-3-2-2.9-2-2.9-2-2.9-2-2.8-1.9-2.8-2-2.6-1.9-2.7-2-2.6-1.9-2.5-1.9-2.5-1.9-2.4-1.9-2.4-1.9-2.3-1.9-2.3-1.8-2.2-1.9-2.2-1.9-2.1-1.8-2-1.8-2-1.9-2-1.8-1.9-1.8-1.8-1.8-1.8-1.8-1.7-1.7-1.7-1.8-1.7-1.8-1.5-1.7-1.5-1.7-1.5-1.8-1.4-1.7-1.4-1.7-1.3-1.7-1.3-1.7-1.2-1.7-1.1-1.7-1.1-1.6-1-1.7-1-1.6-1-1.6-.8-1.7-.9-1.6-.7-1.6-.8-1.6-.6-1.6-.6-1.6-.6-1.5-.5-1.6-.5-1.5-.4-1.6-.3-1.5-.3-1.5-.2-1.5-.2-1.5-.2-1.5 0-1.5-.1-1.5M808.8 337.7l-4.3-2.3-4.2-2.2-4.1-2.2-4.1-2.2-4-2.2-4-2.2-3.9-2.2-3.9-2.2-3.8-2.2-3.8-2.1-3.7-2.2-3.6-2.1-3.6-2.2-3.6-2.1-3.5-2.1-3.4-2.1-3.4-2.1-3.3-2.1-3.3-2.1-3.3-2-3.1-2.1-3.2-2-3-2.1-3-2-3-2-2.9-2-2.9-2-2.8-2-2.7-2-2.7-2-2.7-1.9-2.6-2-2.5-1.9-2.5-2-2.4-1.9-2.4-1.9-2.3-1.9-2.3-1.9-2.2-1.9-2.1-1.9-2.2-1.8-2-1.9-2-1.8-2-1.9-1.9-1.8-1.8-1.8-1.8-1.8-1.7-1.8-1.7-1.8-1.6-1.8-1.6-1.8-1.5-1.7-1.5-1.8-1.4-1.7-1.4-1.8-1.3-1.7-1.2-1.7-1.2-1.7-1.2-1.7-1.1-1.7-1-1.7-1-1.7-.9-1.6-.9-1.7-.8-1.6-.8-1.6-.7-1.7-.7-1.6-.6-1.6-.6-1.6-.5-1.6-.4-1.5-.4-1.6-.4-1.6-.3-1.5-.2-1.5-.2-1.6-.1-1.5-.1-1.5 0-1.5"/>
<path stroke-width="0.35" d="M997.8 294.8l-3.3 .6-3.3 .7-3.3 .7-3.2 .7-3.3 .7-3.3 .7-3.3 .7-3.2 .7-3.3 .7-3.3 .7-3.3 .6-3.2 .7-3.3 .7-3.3 .7-3.3 .7-3.2 .7-3.3 .7-3.3 .7-3.3 .7-3.2 .7-3.3 .6-3.3 .7-3.3 .7-3.2 .7-3.3 .7-3.3 .7-3.3 .7-3.2 .7-3.3 .7-3.3 .6-3.3 .7-3.2 .7-3.3 .7-3.3 .7-3.3 .7-3.2 .7-3.3 .7-3.3 .7-3.3 .7-3.2 .6-3.3 .7-3.3 .7-3.3 .7-3.2 .7-3.3 .7-3.3 .7-3.3 .7-3.2 .7-3.3 .7-3.3 .6-3.3 .7-3.2 .7-3.3 .7-3.3 .7-3.3 .7-3.2 .7-3.3 .7-3.3 .7-3.3 .6-3.2 .7M993.6 294l-3.3 .7-3.3 .6-3.3 .7-3.2 .7-3.3 .6-3.3 .7-3.3 .7-3.2 .6-3.3 .7-3.3 .7-3.3 .6-3.2 .7-3.3 .7-3.3 .6-3.3 .7-3.2 .6-3.3 .7-3.3 .7-3.3 .6-3.2 .7-3.3 .7-3.3 .6-3.3 .7-3.2 .7-3.3 .6-3.3 .7-3.3 .7-3.2 .6-3.3 .7-3.3 .6-3.3 .7-3.2 .7-3.3 .6-3.3 .7-3.3 .7-3.2 .6-3.3 .7-3.3 .7-3.3 .6-3.2 .7-3.3 .7-3.3 .6-3.3 .7-3.2 .6-3.3 .7-3.3 .7-3.3 .6-3.2 .7-3.3 .7-3.3 .6-3.3 .7-3.2 .7-3.3 .6-3.3 .7-3.3 .7-3.2 .6-3.3 .7-3.3 .6-3.3 .7-3.2 .7M989.4 293.3l-3.2 .6-3.3 .7-3.3 .6-3.3 .6-3.2 .7-3.3 .6-3.3 .7-3.3 .6-3.2 .6-3.3 .7-3.3 .6-3.3 .7-3.2 .6-3.3 .6-3.3 .7-3.3 .6-3.2 .6-3.3 .7-3.3 .6-3.3 .7-3.2 .6-3.3 .6-3.3 .7-3.3 .6-3.2 .7-3.3 .6-3.3 .6-3.3 .7-3.2 .6-3.3 .7-3.3 .6-3.3 .6-3.2 .7-3.3 .6-3.3 .7-3.3 .6-3.2 .6-3.3 .7-3.3 .6-3.3 .6-3.2 .7-3.3 .6-3.3 .7-3.3 .6-3.2 .6-3.3 .7-3.3 .6-3.3 .7-3.2 .6-3.3 .6-3.3 .7-3.3 .6-3.2 .7-3.3 .6-3.3 .6-3.3 .7-3.2 .6-3.3 .6-3.3 .7-3.3 .6M985.3 292.6l-3.2 .6-3.3 .6-3.3 .6-3.3 .6-3.2 .6-3.3 .6-3.3 .7-3.3 .6-3.2 .6-3.3 .6-3.3 .6-3.3 .6-3.2 .6-3.3 .7-3.3 .6-3.3 .6-3.2 .6-3.3 .6-3.3 .6-3.3 .6-3.2 .6-3.3 .7-3.3 .6-3.3 .6-3.2 .6-3.3 .6-3.3 .6-3.3 .6-3.2 .7-3.3 .6-3.3 .6-3.3 .6-3.2 .6-3.3 .6-3.3 .6-3.3 .7-3.2 .6-3.3 .6-3.3 .6-3.3 .6-3.2 .6-3.3 .6-3.3 .7-3.3 .6-3.2 .6-3.3 .6-3.3 .6-3.3 .6-3.2 .6-3.3 .6-3.3 .7-3.3 .6-3.2 .6-3.3 .6-3.3 .6-3.3 .6-3.2 .6-3.3 .7-3.3 .6-3.3 .6M981.3 291.8l-3.3 .6-3.2 .6-3.3 .6-3.3 .6-3.3 .6-3.2 .6-3.3 .6-3.3 .6-3.3 .5-3.2 .6-3.3 .6-3.3 .6-3.3 .6-3.2 .6-3.3 .6-3.3 .6-3.3 .6-3.2 .5-3.3 .6-3.3 .6-3.3 .6-3.2 .6-3.3 .6-3.3 .6-3.3 .6-3.2 .5-3.3 .6-3.3 .6-3.3 .6-3.2 .6-3.3 .6-3.3 .6-3.3 .6-3.2 .6-3.3 .5-3.3 .6-3.3 .6-3.2 .6-3.3 .6-3.3 .6-3.3 .6-3.2 .6-3.3 .5-3.3 .6-3.3 .6-3.2 .6-3.3 .6-3.3 .6-3.3 .6-3.2 .6-3.3 .6-3.3 .5-3.3 .6-3.2 .6-3.3 .6-3.3 .6-3.3 .6-3.2 .6-3.3 .6-3.3 .5M977.3 291.1l-3.2 .6-3.3 .6-3.3 .5-3.3 .6-3.2 .6-3.3 .5-3.3 .6-3.3 .5-3.2 .6-3.3 .6-3.3 .5-3.3 .6-3.2 .6-3.3 .5-3.3 .6-3.3 .6-3.2 .5-3.3 .6-3.3 .5-3.3 .6-3.2 .6-3.3 .5-3.3 .6-3.3 .6-3.2 .5-3.3 .6-3.3 .5-3.3 .6-3.2 .6-3.3 .5-3.3 .6-3.3 .6-3.2 .5-3.3 .6-3.3 .6-3.3 .5-3.2 .6-3.3 .5-3.3 .6-3.3 .6-3.2 .5-3.3 .6-3.3 .6-3.3 .5-3.2 .6-3.3 .5-3.3 .6-3.3 .6-3.2 .5-3.3 .6-3.3 .6-3.3 .5-3.2 .6-3.3 .5-3.3 .6-3.3 .6-3.2 .5-3.3 .6-3.3 .6-3.3 .5M973.4 290.5l-3.3 .5-3.2 .5-3.3 .6-3.3 .5-3.3 .5-3.2 .6-3.3 .5-3.3 .6-3.3 .5-3.2 .5-3.3 .6-3.3 .5-3.3 .5-3.2 .6-3.3 .5-3.3 .6-3.3 .5-3.2 .5-3.3 .6-3.3 .5-3.3 .5-3.2 .6-3.3 .5-3.3 .6-3.3 .5-3.2 .5-3.3 .6-3.3 .5-3.3 .5-3.2 .6-3.3 .5-3.3 .6-3.3 .5-3.2 .5-3.3 .6-3.3 .5-3.3 .5-3.2 .6-3.3 .5-3.3 .6-3.3 .5-3.2 .5-3.3 .6-3.3 .5-3.3 .5-3.2 .6-3.3 .5-3.3 .6-3.3 .5-3.2 .5-3.3 .6-3.3 .5-3.3 .5-3.2 .6-3.3 .5-3.3 .6-3.3 .5-3.2 .5-3.3 .6-3.3 .5M969.5 289.8l-3.2 .5-3.3 .5-3.3 .5-3.3 .5-3.2 .5-3.3 .5-3.3 .6-3.3 .5-3.2 .5-3.3 .5-3.3 .5-3.3 .5-3.2 .5-3.3 .5-3.3 .6-3.3 .5-3.2 .5-3.3 .5-3.3 .5-3.3 .5-3.2 .5-3.3 .5-3.3 .5-3.3 .6-3.2 .5-3.3 .5-3.3 .5-3.3 .5-3.2 .5-3.3 .5-3.3 .5-3.3 .6-3.2 .5-3.3 .5-3.3 .5-3.3 .5-3.2 .5-3.3 .5-3.3 .5-3.3 .6-3.2 .5-3.3 .5-3.3 .5-3.3 .5-3.2 .5-3.3 .5-3.3 .5-3.3 .6-3.2 .5-3.3 .5-3.3 .5-3.3 .5-3.2 .5-3.3 .5-3.3 .5-3.3 .6-3.2 .5-3.3 .5-3.3 .5-3.3 .5M965.7 289.1l-3.2 .5-3.3 .5-3.3 .5-3.3 .4-3.2 .5-3.3 .5-3.3 .5-3.3 .5-3.2 .5-3.3 .5-3.3 .4-3.3 .5-3.2 .5-3.3 .5-3.3 .5-3.3 .5-3.2 .5-3.3 .5-3.3 .4-3.3 .5-3.2 .5-3.3 .5-3.3 .5-3.3 .5-3.2 .5-3.3 .5-3.3 .4-3.3 .5-3.2 .5-3.3 .5-3.3 .5-3.3 .5-3.2 .5-3.3 .4-3.3 .5-3.3 .5-3.2 .5-3.3 .5-3.3 .5-3.3 .5-3.2 .5-3.3 .4-3.3 .5-3.3 .5-3.2 .5-3.3 .5-3.3 .5-3.3 .5-3.2 .5-3.3 .4-3.3 .5-3.3 .5-3.2 .5-3.3 .5-3.3 .5-3.3 .5-3.2 .5-3.3 .4-3.3 .5-3.3 .5M962 288.4l-3.3 .5-3.3 .4-3.3 .5-3.2 .5-3.3 .4-3.3 .5-3.3 .5-3.2 .4-3.3 .5-3.3 .4-3.3 .5-3.2 .5-3.3 .4-3.3 .5-3.3 .4-3.2 .5-3.3 .5-3.3 .4-3.3 .5-3.2 .5-3.3 .4-3.3 .5-3.3 .4-3.2 .5-3.3 .5-3.3 .4-3.3 .5-3.2 .5-3.3 .4-3.3 .5-3.3 .4-3.2 .5-3.3 .5-3.3 .4-3.3 .5-3.2 .4-3.3 .5-3.3 .5-3.3 .4-3.2 .5-3.3 .5-3.3 .4-3.3 .5-3.2 .4-3.3 .5-3.3 .5-3.3 .4-3.2 .5-3.3 .4-3.3 .5-3.3 .5-3.2 .4-3.3 .5-3.3 .5-3.3 .4-3.2 .5-3.3 .4-3.3 .5-3.3 .5-3.2 .4M958.3 287.8l-3.3 .4-3.3 .4-3.3 .5-3.2 .4-3.3 .4-3.3 .5-3.3 .4-3.2 .5-3.3 .4-3.3 .4-3.3 .5-3.2 .4-3.3 .4-3.3 .5-3.3 .4-3.2 .4-3.3 .5-3.3 .4-3.3 .5-3.2 .4-3.3 .4-3.3 .5-3.3 .4-3.2 .4-3.3 .5-3.3 .4-3.3 .4-3.2 .5-3.3 .4-3.3 .5-3.3 .4-3.2 .4-3.3 .5-3.3 .4-3.3 .4-3.2 .5-3.3 .4-3.3 .4-3.3 .5-3.2 .4-3.3 .5-3.3 .4-3.3 .4-3.2 .5-3.3 .4-3.3 .4-3.3 .5-3.2 .4-3.3 .4-3.3 .5-3.3 .4-3.2 .5-3.3 .4-3.3 .4-3.3 .5-3.2 .4-3.3 .4-3.3 .5-3.3 .4-3.2 .4M954.6 287.1l-3.3 .4-3.3 .4-3.2 .5-3.3 .4-3.3 .4-3.3 .4-3.2 .4-3.3 .4-3.3 .4-3.3 .4-3.2 .4-3.3 .5-3.3 .4-3.3 .4-3.2 .4-3.3 .4-3.3 .4-3.3 .4-3.2 .4-3.3 .4-3.3 .5-3.3 .4-3.2 .4-3.3 .4-3.3 .4-3.3 .4-3.2 .4-3.3 .4-3.3 .4-3.3 .5-3.2 .4-3.3 .4-3.3 .4-3.3 .4-3.2 .4-3.3 .4-3.3 .4-3.3 .4-3.2 .5-3.3 .4-3.3 .4-3.3 .4-3.2 .4-3.3 .4-3.3 .4-3.3 .4-3.2 .4-3.3 .4-3.3 .5-3.3 .4-3.2 .4-3.3 .4-3.3 .4-3.3 .4-3.2 .4-3.3 .4-3.3 .4-3.3 .5-3.2 .4-3.3 .4M951 286.5l-3.3 .4-3.3 .4-3.2 .3-3.3 .4-3.3 .4-3.3 .4-3.2 .4-3.3 .4-3.3 .4-3.3 .3-3.2 .4-3.3 .4-3.3 .4-3.3 .4-3.2 .4-3.3 .4-3.3 .3-3.3 .4-3.2 .4-3.3 .4-3.3 .4-3.3 .4-3.2 .4-3.3 .3-3.3 .4-3.3 .4-3.2 .4-3.3 .4-3.3 .4-3.3 .4-3.2 .3-3.3 .4-3.3 .4-3.3 .4-3.2 .4-3.3 .4-3.3 .4-3.3 .3-3.2 .4-3.3 .4-3.3 .4-3.3 .4-3.2 .4-3.3 .4-3.3 .3-3.3 .4-3.2 .4-3.3 .4-3.3 .4-3.3 .4-3.2 .4-3.3 .3-3.3 .4-3.3 .4-3.2 .4-3.3 .4-3.3 .4-3.3 .4-3.2 .3-3.3 .4M947.4 285.9l-3.2 .3-3.3 .4-3.3 .3-3.3 .4-3.2 .4-3.3 .3-3.3 .4-3.3 .3-3.2 .4-3.3 .4-3.3 .3-3.3 .4-3.2 .3-3.3 .4-3.3 .4-3.3 .3-3.2 .4-3.3 .3-3.3 .4-3.3 .4-3.2 .3-3.3 .4-3.3 .3-3.3 .4-3.2 .4-3.3 .3-3.3 .4-3.3 .3-3.2 .4-3.3 .4-3.3 .3-3.3 .4-3.2 .3-3.3 .4-3.3 .4-3.3 .3-3.2 .4-3.3 .3-3.3 .4-3.3 .4-3.2 .3-3.3 .4-3.3 .3-3.3 .4-3.2 .4-3.3 .3-3.3 .4-3.3 .4-3.2 .3-3.3 .4-3.3 .3-3.3 .4-3.2 .4-3.3 .3-3.3 .4-3.3 .3-3.2 .4-3.3 .4-3.3 .3-3.3 .4M943.9 285.2l-3.2 .4-3.3 .3-3.3 .3-3.3 .4-3.2 .3-3.3 .3-3.3 .4-3.3 .3-3.2 .3-3.3 .4-3.3 .3-3.3 .4-3.2 .3-3.3 .3-3.3 .4-3.3 .3-3.2 .3-3.3 .4-3.3 .3-3.3 .3-3.2 .4-3.3 .3-3.3 .3-3.3 .4-3.2 .3-3.3 .3-3.3 .4-3.3 .3-3.2 .4-3.3 .3-3.3 .3-3.3 .4-3.2 .3-3.3 .3-3.3 .4-3.3 .3-3.2 .3-3.3 .4-3.3 .3-3.3 .3-3.2 .4-3.3 .3-3.3 .3-3.3 .4-3.2 .3-3.3 .3-3.3 .4-3.3 .3-3.2 .4-3.3 .3-3.3 .3-3.3 .4-3.2 .3-3.3 .3-3.3 .4-3.3 .3-3.2 .3-3.3 .4-3.3 .3-3.3 .3M940.5 284.6l-3.3 .3-3.2 .3-3.3 .4-3.3 .3-3.3 .3-3.2 .3-3.3 .3-3.3 .3-3.3 .3-3.2 .3-3.3 .3-3.3 .3-3.3 .4-3.2 .3-3.3 .3-3.3 .3-3.3 .3-3.2 .3-3.3 .3-3.3 .3-3.3 .3-3.2 .3-3.3 .3-3.3 .4-3.3 .3-3.2 .3-3.3 .3-3.3 .3-3.3 .3-3.2 .3-3.3 .3-3.3 .3-3.3 .3-3.2 .4-3.3 .3-3.3 .3-3.3 .3-3.2 .3-3.3 .3-3.3 .3-3.3 .3-3.2 .3-3.3 .3-3.3 .4-3.3 .3-3.2 .3-3.3 .3-3.3 .3-3.3 .3-3.2 .3-3.3 .3-3.3 .3-3.3 .3-3.2 .4-3.3 .3-3.3 .3-3.3 .3-3.2 .3-3.3 .3-3.3 .3M937.1 284l-3.3 .3-3.2 .3-3.3 .3-3.3 .3-3.3 .2-3.2 .3-3.3 .3-3.3 .3-3.3 .3-3.2 .3-3.3 .3-3.3 .2-3.3 .3-3.2 .3-3.3 .3-3.3 .3-3.3 .3-3.2 .2-3.3 .3-3.3 .3-3.3 .3-3.2 .3-3.3 .3-3.3 .3-3.3 .2-3.2 .3-3.3 .3-3.3 .3-3.3 .3-3.2 .3-3.3 .2-3.3 .3-3.3 .3-3.2 .3-3.3 .3-3.3 .3-3.3 .2-3.2 .3-3.3 .3-3.3 .3-3.3 .3-3.2 .3-3.3 .3-3.3 .2-3.3 .3-3.2 .3-3.3 .3-3.3 .3-3.3 .3-3.2 .2-3.3 .3-3.3 .3-3.3 .3-3.2 .3-3.3 .3-3.3 .3-3.3 .2-3.2 .3-3.3 .3-3.3 .3M933.8 283.4l-3.3 .3-3.3 .3-3.2 .2-3.3 .3-3.3 .2-3.3 .3-3.2 .2-3.3 .3-3.3 .3-3.3 .2-3.2 .3-3.3 .2-3.3 .3-3.3 .3-3.2 .2-3.3 .3-3.3 .2-3.3 .3-3.2 .3-3.3 .2-3.3 .3-3.3 .2-3.2 .3-3.3 .3-3.3 .2-3.3 .3-3.2 .2-3.3 .3-3.3 .2-3.3 .3-3.2 .3-3.3 .2-3.3 .3-3.3 .2-3.2 .3-3.3 .3-3.3 .2-3.3 .3-3.2 .2-3.3 .3-3.3 .3-3.3 .2-3.2 .3-3.3 .2-3.3 .3-3.3 .3-3.2 .2-3.3 .3-3.3 .2-3.3 .3-3.2 .2-3.3 .3-3.3 .3-3.3 .2-3.2 .3-3.3 .2-3.3 .3-3.3 .3-3.2 .2-3.3 .3M930.5 282.9l-3.3 .2-3.3 .2-3.2 .3-3.3 .2-3.3 .2-3.3 .3-3.2 .2-3.3 .2-3.3 .3-3.3 .2-3.2 .2-3.3 .3-3.3 .2-3.3 .2-3.2 .3-3.3 .2-3.3 .2-3.3 .3-3.2 .2-3.3 .2-3.3 .3-3.3 .2-3.2 .2-3.3 .3-3.3 .2-3.3 .2-3.2 .3-3.3 .2-3.3 .2-3.3 .3-3.2 .2-3.3 .2-3.3 .3-3.3 .2-3.2 .2-3.3 .3-3.3 .2-3.3 .2-3.2 .3-3.3 .2-3.3 .2-3.3 .3-3.2 .2-3.3 .2-3.3 .3-3.3 .2-3.2 .2-3.3 .3-3.3 .2-3.3 .2-3.2 .3-3.3 .2-3.3 .2-3.3 .3-3.2 .2-3.3 .2-3.3 .3-3.3 .2-3.2 .2-3.3 .3M927.3 282.3l-3.3 .2-3.3 .2-3.3 .2-3.2 .2-3.3 .2-3.3 .2-3.3 .2-3.2 .2-3.3 .3-3.3 .2-3.3 .2-3.2 .2-3.3 .2-3.3 .2-3.3 .2-3.2 .2-3.3 .2-3.3 .2-3.3 .2-3.2 .2-3.3 .3-3.3 .2-3.3 .2-3.2 .2-3.3 .2-3.3 .2-3.3 .2-3.2 .2-3.3 .2-3.3 .2-3.3 .2-3.2 .3-3.3 .2-3.3 .2-3.3 .2-3.2 .2-3.3 .2-3.3 .2-3.3 .2-3.2 .2-3.3 .2-3.3 .2-3.3 .2-3.2 .3-3.3 .2-3.3 .2-3.3 .2-3.2 .2-3.3 .2-3.3 .2-3.3 .2-3.2 .2-3.3 .2-3.3 .2-3.3 .2-3.2 .3-3.3 .2-3.3 .2-3.3 .2-3.2 .2M924.1 281.7l-3.3 .2-3.3 .2-3.2 .2-3.3 .2-3.3 .1-3.3 .2-3.2 .2-3.3 .2-3.3 .2-3.3 .1-3.2 .2-3.3 .2-3.3 .2-3.3 .2-3.2 .2-3.3 .1-3.3 .2-3.3 .2-3.2 .2-3.3 .2-3.3 .2-3.3 .1-3.2 .2-3.3 .2-3.3 .2-3.3 .2-3.2 .2-3.3 .1-3.3 .2-3.3 .2-3.2 .2-3.3 .2-3.3 .2-3.3 .1-3.2 .2-3.3 .2-3.3 .2-3.3 .2-3.2 .2-3.3 .1-3.3 .2-3.3 .2-3.2 .2-3.3 .2-3.3 .2-3.3 .1-3.2 .2-3.3 .2-3.3 .2-3.3 .2-3.2 .2-3.3 .1-3.3 .2-3.3 .2-3.2 .2-3.3 .2-3.3 .2-3.3 .1-3.2 .2-3.3 .2M921 281.2l-3.3 .1-3.3 .2-3.3 .1-3.2 .2-3.3 .2-3.3 .1-3.3 .2-3.2 .1-3.3 .2-3.3 .1-3.3 .2-3.2 .2-3.3 .1-3.3 .2-3.3 .1-3.2 .2-3.3 .1-3.3 .2-3.3 .2-3.2 .1-3.3 .2-3.3 .1-3.3 .2-3.2 .2-3.3 .1-3.3 .2-3.3 .1-3.2 .2-3.3 .1-3.3 .2-3.3 .2-3.2 .1-3.3 .2-3.3 .1-3.3 .2-3.2 .1-3.3 .2-3.3 .2-3.3 .1-3.2 .2-3.3 .1-3.3 .2-3.3 .1-3.2 .2-3.3 .2-3.3 .1-3.3 .2-3.2 .1-3.3 .2-3.3 .2-3.3 .1-3.2 .2-3.3 .1-3.3 .2-3.3 .1-3.2 .2-3.3 .2-3.3 .1-3.3 .2-3.2 .1M917.9 280.6l-3.3 .2-3.3 .1-3.2 .1-3.3 .2-3.3 .1-3.3 .1-3.2 .1-3.3 .2-3.3 .1-3.3 .1-3.2 .2-3.3 .1-3.3 .1-3.3 .2-3.2 .1-3.3 .1-3.3 .2-3.3 .1-3.2 .1-3.3 .2-3.3 .1-3.3 .1-3.2 .2-3.3 .1-3.3 .1-3.3 .2-3.2 .1-3.3 .1-3.3 .2-3.3 .1-3.2 .1-3.3 .2-3.3 .1-3.3 .1-3.2 .2-3.3 .1-3.3 .1-3.3 .2-3.2 .1-3.3 .1-3.3 .2-3.3 .1-3.2 .1-3.3 .1-3.3 .2-3.3 .1-3.2 .1-3.3 .2-3.3 .1-3.3 .1-3.2 .2-3.3 .1-3.3 .1-3.3 .2-3.2 .1-3.3 .1-3.3 .2-3.3 .1-3.2 .1-3.3 .2M914.9 280.1l-3.3 .1-3.3 .1-3.2 .1-3.3 .1-3.3 .1-3.3 .1-3.2 .1-3.3 .1-3.3 .2-3.3 .1-3.2 .1-3.3 .1-3.3 .1-3.3 .1-3.2 .1-3.3 .1-3.3 .1-3.3 .1-3.2 .1-3.3 .1-3.3 .1-3.3 .1-3.2 .2-3.3 .1-3.3 .1-3.3 .1-3.2 .1-3.3 .1-3.3 .1-3.3 .1-3.2 .1-3.3 .1-3.3 .1-3.3 .1-3.2 .1-3.3 .1-3.3 .2-3.3 .1-3.2 .1-3.3 .1-3.3 .1-3.3 .1-3.2 .1-3.3 .1-3.3 .1-3.3 .1-3.2 .1-3.3 .1-3.3 .1-3.3 .1-3.2 .2-3.3 .1-3.3 .1-3.3 .1-3.2 .1-3.3 .1-3.3 .1-3.3 .1-3.2 .1-3.3 .1M911.9 279.6l-3.3 0-3.2 .1-3.3 .1-3.3 .1-3.3 .1-3.2 .1-3.3 0-3.3 .1-3.3 .1-3.2 .1-3.3 .1-3.3 0-3.3 .1-3.2 .1-3.3 .1-3.3 .1-3.3 .1-3.2 0-3.3 .1-3.3 .1-3.3 .1-3.2 .1-3.3 0-3.3 .1-3.3 .1-3.2 .1-3.3 .1-3.3 .1-3.3 0-3.2 .1-3.3 .1-3.3 .1-3.3 .1-3.2 0-3.3 .1-3.3 .1-3.3 .1-3.2 .1-3.3 .1-3.3 0-3.3 .1-3.2 .1-3.3 .1-3.3 .1-3.3 0-3.2 .1-3.3 .1-3.3 .1-3.3 .1-3.2 .1-3.3 0-3.3 .1-3.3 .1-3.2 .1-3.3 .1-3.3 0-3.3 .1-3.2 .1-3.3 .1-3.3 .1M909 279l-3.3 .1-3.2 .1-3.3 0-3.3 .1-3.3 0-3.2 .1-3.3 0-3.3 .1-3.3 .1-3.2 0-3.3 .1-3.3 0-3.3 .1-3.2 0-3.3 .1-3.3 .1-3.3 0-3.2 .1-3.3 0-3.3 .1-3.3 0-3.2 .1-3.3 0-3.3 .1-3.3 .1-3.2 0-3.3 .1-3.3 0-3.3 .1-3.2 0-3.3 .1-3.3 .1-3.3 0-3.2 .1-3.3 0-3.3 .1-3.3 0-3.2 .1-3.3 .1-3.3 0-3.3 .1-3.2 0-3.3 .1-3.3 0-3.3 .1-3.2 0-3.3 .1-3.3 .1-3.3 0-3.2 .1-3.3 0-3.3 .1-3.3 0-3.2 .1-3.3 .1-3.3 0-3.3 .1-3.2 0-3.3 .1-3.3 0M906.2 278.5l-3.3 .1-3.3 0-3.3 0-3.2 .1-3.3 0-3.3 0-3.3 .1-3.2 0-3.3 0-3.3 .1-3.3 0-3.2 0-3.3 0-3.3 .1-3.3 0-3.2 0-3.3 .1-3.3 0-3.3 0-3.2 .1-3.3 0-3.3 0-3.3 .1-3.2 0-3.3 0-3.3 .1-3.3 0-3.2 0-3.3 0-3.3 .1-3.3 0-3.2 0-3.3 .1-3.3 0-3.3 0-3.2 .1-3.3 0-3.3 0-3.3 .1-3.2 0-3.3 0-3.3 .1-3.3 0-3.2 0-3.3 0-3.3 .1-3.3 0-3.2 0-3.3 .1-3.3 0-3.3 0-3.2 .1-3.3 0-3.3 0-3.3 .1-3.2 0-3.3 0-3.3 0-3.3 .1-3.2 0M903.3 278l-3.2 .1-3.3 0-3.3 0-3.3 0-3.2 0-3.3 0-3.3 0-3.3 0-3.2 0-3.3 0-3.3 0-3.3 0-3.2 0-3.3 0-3.3 0-3.3 0-3.2 0-3.3 .1-3.3 0-3.3 0-3.2 0-3.3 0-3.3 0-3.3 0-3.2 0-3.3 0-3.3 0-3.3 0-3.2 0-3.3 0-3.3 0-3.3 0-3.2 0-3.3 0-3.3 .1-3.3 0-3.2 0-3.3 0-3.3 0-3.3 0-3.2 0-3.3 0-3.3 0-3.3 0-3.2 0-3.3 0-3.3 0-3.3 0-3.2 0-3.3 0-3.3 0-3.3 0-3.2 .1-3.3 0-3.3 0-3.3 0-3.2 0-3.3 0-3.3 0-3.3 0M900.6 277.6l-3.3-.1-3.3 0-3.2 0-3.3 0-3.3 0-3.3-.1-3.2 0-3.3 0-3.3 0-3.3 0-3.2-.1-3.3 0-3.3 0-3.3 0-3.2 0-3.3-.1-3.3 0-3.3 0-3.2 0-3.3 0-3.3 0-3.3-.1-3.2 0-3.3 0-3.3 0-3.3 0-3.2-.1-3.3 0-3.3 0-3.3 0-3.2 0-3.3-.1-3.3 0-3.3 0-3.2 0-3.3 0-3.3-.1-3.3 0-3.2 0-3.3 0-3.3 0-3.3-.1-3.2 0-3.3 0-3.3 0-3.3 0-3.2-.1-3.3 0-3.3 0-3.3 0-3.2 0-3.3-.1-3.3 0-3.3 0-3.2 0-3.3 0-3.3-.1-3.3 0-3.2 0-3.3 0M897.9 277.1l-3.3-.1-3.2 0-3.3-.1-3.3 0-3.3 0-3.2-.1-3.3 0-3.3-.1-3.3 0-3.2-.1-3.3 0-3.3-.1-3.3 0-3.2 0-3.3-.1-3.3 0-3.3-.1-3.2 0-3.3-.1-3.3 0-3.3-.1-3.2 0-3.3 0-3.3-.1-3.3 0-3.2-.1-3.3 0-3.3-.1-3.3 0-3.2-.1-3.3 0-3.3-.1-3.3 0-3.2 0-3.3-.1-3.3 0-3.3-.1-3.2 0-3.3-.1-3.3 0-3.3-.1-3.2 0-3.3 0-3.3-.1-3.3 0-3.2-.1-3.3 0-3.3-.1-3.3 0-3.2-.1-3.3 0-3.3 0-3.3-.1-3.2 0-3.3-.1-3.3 0-3.3-.1-3.2 0-3.3-.1-3.3 0M895.3 276.6l-3.3-.1-3.3 0-3.3-.1-3.2-.1-3.3 0-3.3-.1-3.3-.1-3.2 0-3.3-.1-3.3-.1-3.3-.1-3.2 0-3.3-.1-3.3-.1-3.3 0-3.2-.1-3.3-.1-3.3 0-3.3-.1-3.2-.1-3.3-.1-3.3 0-3.3-.1-3.2-.1-3.3 0-3.3-.1-3.3-.1-3.2 0-3.3-.1-3.3-.1-3.3-.1-3.2 0-3.3-.1-3.3-.1-3.3 0-3.2-.1-3.3-.1-3.3-.1-3.3 0-3.2-.1-3.3-.1-3.3 0-3.3-.1-3.2-.1-3.3 0-3.3-.1-3.3-.1-3.2-.1-3.3 0-3.3-.1-3.3-.1-3.2 0-3.3-.1-3.3-.1-3.3 0-3.2-.1-3.3-.1-3.3-.1-3.3 0-3.2-.1M892.7 276.2l-3.3-.1-3.3-.1-3.3-.1-3.2-.1-3.3-.1-3.3-.1-3.3-.1-3.2-.1-3.3-.1-3.3-.1-3.3-.1-3.2-.1-3.3-.1-3.3-.1-3.3-.1-3.2-.1-3.3-.1-3.3-.1-3.3-.1-3.2-.1-3.3 0-3.3-.1-3.3-.1-3.2-.1-3.3-.1-3.3-.1-3.3-.1-3.2-.1-3.3-.1-3.3-.1-3.3-.1-3.2-.1-3.3-.1-3.3-.1-3.3-.1-3.2-.1-3.3-.1-3.3-.1-3.3-.1-3.2-.1-3.3-.1-3.3-.1-3.3 0-3.2-.1-3.3-.1-3.3-.1-3.3-.1-3.2-.1-3.3-.1-3.3-.1-3.3-.1-3.2-.1-3.3-.1-3.3-.1-3.3-.1-3.2-.1-3.3-.1-3.3-.1-3.3-.1-3.2-.1M890.1 275.7l-3.2-.1-3.3-.1-3.3-.2-3.3-.1-3.2-.1-3.3-.1-3.3-.1-3.3-.2-3.2-.1-3.3-.1-3.3-.1-3.3-.1-3.2-.2-3.3-.1-3.3-.1-3.3-.1-3.2-.1-3.3-.2-3.3-.1-3.3-.1-3.2-.1-3.3-.1-3.3-.2-3.3-.1-3.2-.1-3.3-.1-3.3-.2-3.3-.1-3.2-.1-3.3-.1-3.3-.1-3.3-.2-3.2-.1-3.3-.1-3.3-.1-3.3-.1-3.2-.2-3.3-.1-3.3-.1-3.3-.1-3.2-.1-3.3-.2-3.3-.1-3.3-.1-3.2-.1-3.3-.2-3.3-.1-3.3-.1-3.2-.1-3.3-.1-3.3-.2-3.3-.1-3.2-.1-3.3-.1-3.3-.1-3.3-.2-3.2-.1-3.3-.1-3.3-.1-3.3-.1M887.7 275.3l-3.3-.2-3.3-.1-3.3-.2-3.2-.1-3.3-.2-3.3-.1-3.3-.2-3.2-.1-3.3-.1-3.3-.2-3.3-.1-3.2-.2-3.3-.1-3.3-.2-3.3-.1-3.2-.2-3.3-.1-3.3-.2-3.3-.1-3.2-.2-3.3-.1-3.3-.1-3.3-.2-3.2-.1-3.3-.2-3.3-.1-3.3-.2-3.2-.1-3.3-.2-3.3-.1-3.3-.2-3.2-.1-3.3-.2-3.3-.1-3.3-.1-3.2-.2-3.3-.1-3.3-.2-3.3-.1-3.2-.2-3.3-.1-3.3-.2-3.3-.1-3.2-.2-3.3-.1-3.3-.2-3.3-.1-3.2-.1-3.3-.2-3.3-.1-3.3-.2-3.2-.1-3.3-.2-3.3-.1-3.3-.2-3.2-.1-3.3-.2-3.3-.1-3.3-.2-3.2-.1M885.2 274.8l-3.2-.1-3.3-.2-3.3-.2-3.3-.1-3.2-.2-3.3-.2-3.3-.2-3.3-.1-3.2-.2-3.3-.2-3.3-.1-3.3-.2-3.2-.2-3.3-.2-3.3-.1-3.3-.2-3.2-.2-3.3-.1-3.3-.2-3.3-.2-3.2-.2-3.3-.1-3.3-.2-3.3-.2-3.2-.1-3.3-.2-3.3-.2-3.3-.2-3.2-.1-3.3-.2-3.3-.2-3.3-.1-3.2-.2-3.3-.2-3.3-.2-3.3-.1-3.2-.2-3.3-.2-3.3-.1-3.3-.2-3.2-.2-3.3-.2-3.3-.1-3.3-.2-3.2-.2-3.3-.2-3.3-.1-3.3-.2-3.2-.2-3.3-.1-3.3-.2-3.3-.2-3.2-.2-3.3-.1-3.3-.2-3.3-.2-3.2-.1-3.3-.2-3.3-.2-3.3-.2M882.9 274.4l-3.3-.2-3.3-.2-3.3-.2-3.2-.2-3.3-.2-3.3-.2-3.3-.2-3.2-.2-3.3-.2-3.3-.1-3.3-.2-3.2-.2-3.3-.2-3.3-.2-3.3-.2-3.2-.2-3.3-.2-3.3-.2-3.3-.2-3.2-.2-3.3-.2-3.3-.2-3.3-.2-3.2-.2-3.3-.2-3.3-.2-3.3-.2-3.2-.2-3.3-.2-3.3-.2-3.3-.2-3.2-.2-3.3-.2-3.3-.2-3.3-.2-3.2-.2-3.3-.2-3.3-.2-3.3-.2-3.2-.2-3.3-.2-3.3-.1-3.3-.2-3.2-.2-3.3-.2-3.3-.2-3.3-.2-3.2-.2-3.3-.2-3.3-.2-3.3-.2-3.2-.2-3.3-.2-3.3-.2-3.3-.2-3.2-.2-3.3-.2-3.3-.2-3.3-.2-3.2-.2M880.5 274l-3.2-.2-3.3-.2-3.3-.3-3.3-.2-3.2-.2-3.3-.2-3.3-.2-3.3-.3-3.2-.2-3.3-.2-3.3-.2-3.3-.3-3.2-.2-3.3-.2-3.3-.2-3.3-.2-3.2-.3-3.3-.2-3.3-.2-3.3-.2-3.2-.3-3.3-.2-3.3-.2-3.3-.2-3.2-.2-3.3-.3-3.3-.2-3.3-.2-3.2-.2-3.3-.3-3.3-.2-3.3-.2-3.2-.2-3.3-.2-3.3-.3-3.3-.2-3.2-.2-3.3-.2-3.3-.3-3.3-.2-3.2-.2-3.3-.2-3.3-.2-3.3-.3-3.2-.2-3.3-.2-3.3-.2-3.3-.3-3.2-.2-3.3-.2-3.3-.2-3.3-.2-3.2-.3-3.3-.2-3.3-.2-3.3-.2-3.2-.3-3.3-.2-3.3-.2-3.3-.2M878.3 273.6l-3.3-.2-3.3-.3-3.3-.2-3.2-.3-3.3-.2-3.3-.3-3.3-.2-3.2-.3-3.3-.2-3.3-.3-3.3-.2-3.2-.3-3.3-.2-3.3-.3-3.3-.2-3.2-.3-3.3-.2-3.3-.2-3.3-.3-3.2-.2-3.3-.3-3.3-.2-3.3-.3-3.2-.2-3.3-.3-3.3-.2-3.3-.3-3.2-.2-3.3-.3-3.3-.2-3.3-.3-3.2-.2-3.3-.3-3.3-.2-3.3-.3-3.2-.2-3.3-.3-3.3-.2-3.3-.2-3.2-.3-3.3-.2-3.3-.3-3.3-.2-3.2-.3-3.3-.2-3.3-.3-3.3-.2-3.2-.3-3.3-.2-3.3-.3-3.3-.2-3.2-.3-3.3-.2-3.3-.3-3.3-.2-3.2-.3-3.3-.2-3.3-.2-3.3-.3-3.2-.2M876 273.2l-3.2-.3-3.3-.2-3.3-.3-3.3-.3-3.2-.2-3.3-.3-3.3-.3-3.3-.3-3.2-.2-3.3-.3-3.3-.3-3.3-.3-3.2-.2-3.3-.3-3.3-.3-3.3-.3-3.2-.2-3.3-.3-3.3-.3-3.3-.2-3.2-.3-3.3-.3-3.3-.3-3.3-.2-3.2-.3-3.3-.3-3.3-.3-3.3-.2-3.2-.3-3.3-.3-3.3-.2-3.3-.3-3.2-.3-3.3-.3-3.3-.2-3.3-.3-3.2-.3-3.3-.3-3.3-.2-3.3-.3-3.2-.3-3.3-.2-3.3-.3-3.3-.3-3.2-.3-3.3-.2-3.3-.3-3.3-.3-3.2-.3-3.3-.2-3.3-.3-3.3-.3-3.2-.2-3.3-.3-3.3-.3-3.3-.3-3.2-.2-3.3-.3-3.3-.3-3.3-.3M873.9 272.8l-3.3-.3-3.3-.3-3.2-.3-3.3-.3-3.3-.3-3.3-.3-3.2-.3-3.3-.3-3.3-.3-3.3-.2-3.2-.3-3.3-.3-3.3-.3-3.3-.3-3.2-.3-3.3-.3-3.3-.3-3.3-.3-3.2-.3-3.3-.3-3.3-.3-3.3-.3-3.2-.3-3.3-.3-3.3-.3-3.3-.3-3.2-.3-3.3-.3-3.3-.3-3.3-.3-3.2-.3-3.3-.3-3.3-.3-3.3-.3-3.2-.3-3.3-.3-3.3-.3-3.3-.3-3.2-.3-3.3-.3-3.3-.3-3.3-.3-3.2-.3-3.3-.3-3.3-.3-3.3-.3-3.2-.3-3.3-.3-3.3-.3-3.3-.3-3.2-.3-3.3-.3-3.3-.3-3.3-.3-3.2-.3-3.3-.3-3.3-.3-3.3-.3-3.2-.3-3.3-.3M871.8 272.5l-3.3-.4-3.3-.3-3.3-.3-3.2-.3-3.3-.4-3.3-.3-3.3-.3-3.2-.3-3.3-.4-3.3-.3-3.3-.3-3.2-.3-3.3-.3-3.3-.4-3.3-.3-3.2-.3-3.3-.3-3.3-.4-3.3-.3-3.2-.3-3.3-.3-3.3-.4-3.3-.3-3.2-.3-3.3-.3-3.3-.4-3.3-.3-3.2-.3-3.3-.3-3.3-.3-3.3-.4-3.2-.3-3.3-.3-3.3-.3-3.3-.4-3.2-.3-3.3-.3-3.3-.3-3.3-.4-3.2-.3-3.3-.3-3.3-.3-3.3-.4-3.2-.3-3.3-.3-3.3-.3-3.3-.3-3.2-.4-3.3-.3-3.3-.3-3.3-.3-3.2-.4-3.3-.3-3.3-.3-3.3-.3-3.2-.4-3.3-.3-3.3-.3-3.3-.3-3.2-.4M869.7 272.1l-3.3-.4-3.2-.3-3.3-.4-3.3-.3-3.3-.3-3.2-.4-3.3-.3-3.3-.4-3.3-.3-3.2-.4-3.3-.3-3.3-.4-3.3-.3-3.2-.4-3.3-.3-3.3-.4-3.3-.3-3.2-.4-3.3-.3-3.3-.4-3.3-.3-3.2-.4-3.3-.3-3.3-.4-3.3-.3-3.2-.4-3.3-.3-3.3-.4-3.3-.3-3.2-.4-3.3-.3-3.3-.4-3.3-.3-3.2-.4-3.3-.3-3.3-.4-3.3-.3-3.2-.4-3.3-.3-3.3-.4-3.3-.3-3.2-.4-3.3-.3-3.3-.4-3.3-.3-3.2-.4-3.3-.3-3.3-.3-3.3-.4-3.2-.3-3.3-.4-3.3-.3-3.3-.4-3.2-.3-3.3-.4-3.3-.3-3.3-.4-3.2-.3-3.3-.4-3.3-.3M867.7 271.7l-3.3-.3-3.2-.4-3.3-.4-3.3-.4-3.3-.3-3.2-.4-3.3-.4-3.3-.4-3.3-.3-3.2-.4-3.3-.4-3.3-.3-3.3-.4-3.2-.4-3.3-.4-3.3-.3-3.3-.4-3.2-.4-3.3-.4-3.3-.3-3.3-.4-3.2-.4-3.3-.4-3.3-.3-3.3-.4-3.2-.4-3.3-.4-3.3-.3-3.3-.4-3.2-.4-3.3-.4-3.3-.3-3.3-.4-3.2-.4-3.3-.4-3.3-.3-3.3-.4-3.2-.4-3.3-.4-3.3-.3-3.3-.4-3.2-.4-3.3-.3-3.3-.4-3.3-.4-3.2-.4-3.3-.3-3.3-.4-3.3-.4-3.2-.4-3.3-.3-3.3-.4-3.3-.4-3.2-.4-3.3-.3-3.3-.4-3.3-.4-3.2-.4-3.3-.3-3.3-.4M865.8 271.4l-3.3-.4-3.3-.4-3.3-.4-3.2-.4-3.3-.4-3.3-.4-3.3-.4-3.2-.4-3.3-.4-3.3-.4-3.3-.4-3.2-.4-3.3-.4-3.3-.4-3.3-.4-3.2-.4-3.3-.4-3.3-.4-3.3-.4-3.2-.4-3.3-.4-3.3-.4-3.3-.4-3.2-.4-3.3-.4-3.3-.4-3.3-.4-3.2-.4-3.3-.4-3.3-.4-3.3-.4-3.2-.4-3.3-.4-3.3-.4-3.3-.4-3.2-.4-3.3-.4-3.3-.4-3.3-.4-3.2-.4-3.3-.4-3.3-.4-3.3-.4-3.2-.4-3.3-.4-3.3-.4-3.3-.4-3.2-.4-3.3-.4-3.3-.4-3.3-.4-3.2-.4-3.3-.4-3.3-.4-3.3-.4-3.2-.4-3.3-.4-3.3-.4-3.3-.4-3.2-.4M863.9 271.1l-3.3-.5-3.3-.4-3.3-.4-3.2-.4-3.3-.5-3.3-.4-3.3-.4-3.2-.4-3.3-.5-3.3-.4-3.3-.4-3.2-.4-3.3-.5-3.3-.4-3.3-.4-3.2-.4-3.3-.5-3.3-.4-3.3-.4-3.2-.4-3.3-.5-3.3-.4-3.3-.4-3.2-.4-3.3-.5-3.3-.4-3.3-.4-3.2-.4-3.3-.5-3.3-.4-3.3-.4-3.2-.4-3.3-.5-3.3-.4-3.3-.4-3.2-.4-3.3-.5-3.3-.4-3.3-.4-3.2-.4-3.3-.5-3.3-.4-3.3-.4-3.2-.4-3.3-.5-3.3-.4-3.3-.4-3.2-.4-3.3-.5-3.3-.4-3.3-.4-3.2-.4-3.3-.5-3.3-.4-3.3-.4-3.2-.4-3.3-.5-3.3-.4-3.3-.4-3.2-.4M862 270.7l-3.2-.4-3.3-.5-3.3-.4-3.3-.5-3.2-.4-3.3-.5-3.3-.4-3.3-.5-3.2-.4-3.3-.5-3.3-.4-3.3-.5-3.2-.4-3.3-.5-3.3-.4-3.3-.5-3.2-.4-3.3-.5-3.3-.4-3.3-.5-3.2-.4-3.3-.5-3.3-.4-3.3-.5-3.2-.4-3.3-.5-3.3-.4-3.3-.5-3.2-.4-3.3-.5-3.3-.4-3.3-.5-3.2-.4-3.3-.5-3.3-.4-3.3-.5-3.2-.4-3.3-.5-3.3-.4-3.3-.5-3.2-.4-3.3-.5-3.3-.4-3.3-.5-3.2-.4-3.3-.5-3.3-.4-3.3-.5-3.2-.4-3.3-.5-3.3-.4-3.3-.5-3.2-.4-3.3-.5-3.3-.4-3.3-.5-3.2-.4-3.3-.5-3.3-.4-3.3-.5M860.2 270.4l-3.2-.5-3.3-.4-3.3-.5-3.3-.5-3.2-.5-3.3-.4-3.3-.5-3.3-.5-3.2-.5-3.3-.4-3.3-.5-3.3-.5-3.2-.5-3.3-.4-3.3-.5-3.3-.5-3.2-.5-3.3-.4-3.3-.5-3.3-.5-3.2-.5-3.3-.4-3.3-.5-3.3-.5-3.2-.5-3.3-.4-3.3-.5-3.3-.5-3.2-.5-3.3-.4-3.3-.5-3.3-.5-3.2-.5-3.3-.4-3.3-.5-3.3-.5-3.2-.5-3.3-.5-3.3-.4-3.3-.5-3.2-.5-3.3-.5-3.3-.4-3.3-.5-3.2-.5-3.3-.5-3.3-.4-3.3-.5-3.2-.5-3.3-.5-3.3-.4-3.3-.5-3.2-.5-3.3-.5-3.3-.4-3.3-.5-3.2-.5-3.3-.5-3.3-.4-3.3-.5M858.5 270.1l-3.3-.5-3.2-.5-3.3-.5-3.3-.5-3.3-.5-3.2-.5-3.3-.5-3.3-.5-3.3-.5-3.2-.5-3.3-.5-3.3-.5-3.3-.5-3.2-.5-3.3-.5-3.3-.5-3.3-.5-3.2-.5-3.3-.5-3.3-.5-3.3-.5-3.2-.5-3.3-.5-3.3-.5-3.3-.5-3.2-.5-3.3-.5-3.3-.5-3.3-.5-3.2-.5-3.3-.5-3.3-.5-3.3-.5-3.2-.5-3.3-.5-3.3-.5-3.3-.5-3.2-.5-3.3-.5-3.3-.5-3.3-.5-3.2-.5-3.3-.5-3.3-.5-3.3-.5-3.2-.5-3.3-.5-3.3-.5-3.3-.5-3.2-.5-3.3-.5-3.3-.5-3.3-.5-3.2-.5-3.3-.5-3.3-.5-3.3-.5-3.2-.5-3.3-.5-3.3-.5M856.8 269.8l-3.2-.5-3.3-.5-3.3-.6-3.3-.5-3.2-.5-3.3-.5-3.3-.6-3.3-.5-3.2-.5-3.3-.5-3.3-.6-3.3-.5-3.2-.5-3.3-.6-3.3-.5-3.3-.5-3.2-.5-3.3-.6-3.3-.5-3.3-.5-3.2-.5-3.3-.6-3.3-.5-3.3-.5-3.2-.5-3.3-.6-3.3-.5-3.3-.5-3.2-.5-3.3-.6-3.3-.5-3.3-.5-3.2-.5-3.3-.6-3.3-.5-3.3-.5-3.2-.6-3.3-.5-3.3-.5-3.3-.5-3.2-.6-3.3-.5-3.3-.5-3.3-.5-3.2-.6-3.3-.5-3.3-.5-3.3-.5-3.2-.6-3.3-.5-3.3-.5-3.3-.5-3.2-.6-3.3-.5-3.3-.5-3.3-.6-3.2-.5-3.3-.5-3.3-.5-3.3-.6M855.2 269.5l-3.3-.5-3.3-.6-3.2-.5-3.3-.6-3.3-.5-3.3-.6-3.2-.5-3.3-.6-3.3-.5-3.3-.6-3.2-.5-3.3-.6-3.3-.5-3.3-.6-3.2-.5-3.3-.6-3.3-.6-3.3-.5-3.2-.6-3.3-.5-3.3-.6-3.3-.5-3.2-.6-3.3-.5-3.3-.6-3.3-.5-3.2-.6-3.3-.5-3.3-.6-3.3-.5-3.2-.6-3.3-.5-3.3-.6-3.3-.5-3.2-.6-3.3-.5-3.3-.6-3.3-.5-3.2-.6-3.3-.5-3.3-.6-3.3-.5-3.2-.6-3.3-.5-3.3-.6-3.3-.5-3.2-.6-3.3-.5-3.3-.6-3.3-.5-3.2-.6-3.3-.6-3.3-.5-3.3-.6-3.2-.5-3.3-.6-3.3-.5-3.3-.6-3.2-.5-3.3-.6M853.6 269.2l-3.3-.5-3.2-.6-3.3-.6-3.3-.6-3.3-.5-3.2-.6-3.3-.6-3.3-.6-3.3-.5-3.2-.6-3.3-.6-3.3-.6-3.3-.6-3.2-.5-3.3-.6-3.3-.6-3.3-.6-3.2-.5-3.3-.6-3.3-.6-3.3-.6-3.2-.5-3.3-.6-3.3-.6-3.3-.6-3.2-.6-3.3-.5-3.3-.6-3.3-.6-3.2-.6-3.3-.5-3.3-.6-3.3-.6-3.2-.6-3.3-.5-3.3-.6-3.3-.6-3.2-.6-3.3-.5-3.3-.6-3.3-.6-3.2-.6-3.3-.6-3.3-.5-3.3-.6-3.2-.6-3.3-.6-3.3-.5-3.3-.6-3.2-.6-3.3-.6-3.3-.5-3.3-.6-3.2-.6-3.3-.6-3.3-.6-3.3-.5-3.2-.6-3.3-.6-3.3-.6M852.1 269l-3.3-.6-3.2-.6-3.3-.6-3.3-.6-3.3-.6-3.2-.6-3.3-.6-3.3-.6-3.3-.6-3.2-.6-3.3-.6-3.3-.6-3.3-.7-3.2-.6-3.3-.6-3.3-.6-3.3-.6-3.2-.6-3.3-.6-3.3-.6-3.3-.6-3.2-.6-3.3-.6-3.3-.6-3.3-.6-3.2-.6-3.3-.6-3.3-.6-3.3-.6-3.2-.6-3.3-.6-3.3-.6-3.3-.6-3.2-.6-3.3-.6-3.3-.6-3.3-.6-3.2-.6-3.3-.6-3.3-.6-3.3-.6-3.2-.6-3.3-.6-3.3-.6-3.3-.6-3.2-.6-3.3-.6-3.3-.6-3.3-.6-3.2-.6-3.3-.6-3.3-.6-3.3-.6-3.2-.6-3.3-.6-3.3-.6-3.3-.6-3.2-.6-3.3-.6-3.3-.7M850.6 268.7l-3.2-.6-3.3-.6-3.3-.7-3.3-.6-3.2-.6-3.3-.6-3.3-.7-3.3-.6-3.2-.6-3.3-.7-3.3-.6-3.3-.6-3.2-.6-3.3-.7-3.3-.6-3.3-.6-3.2-.6-3.3-.7-3.3-.6-3.3-.6-3.2-.7-3.3-.6-3.3-.6-3.3-.6-3.2-.7-3.3-.6-3.3-.6-3.3-.7-3.2-.6-3.3-.6-3.3-.6-3.3-.7-3.2-.6-3.3-.6-3.3-.6-3.3-.7-3.2-.6-3.3-.6-3.3-.7-3.3-.6-3.2-.6-3.3-.6-3.3-.7-3.3-.6-3.2-.6-3.3-.6-3.3-.7-3.3-.6-3.2-.6-3.3-.7-3.3-.6-3.3-.6-3.2-.6-3.3-.7-3.3-.6-3.3-.6-3.2-.6-3.3-.7-3.3-.6-3.3-.6M849.2 268.5l-3.3-.7-3.2-.6-3.3-.7-3.3-.6-3.3-.7-3.2-.7-3.3-.6-3.3-.7-3.3-.6-3.2-.7-3.3-.6-3.3-.7-3.3-.6-3.2-.7-3.3-.6-3.3-.7-3.3-.6-3.2-.7-3.3-.6-3.3-.7-3.3-.6-3.2-.7-3.3-.6-3.3-.7-3.3-.7-3.2-.6-3.3-.7-3.3-.6-3.3-.7-3.2-.6-3.3-.7-3.3-.6-3.3-.7-3.2-.6-3.3-.7-3.3-.6-3.3-.7-3.2-.6-3.3-.7-3.3-.6-3.3-.7-3.2-.7-3.3-.6-3.3-.7-3.3-.6-3.2-.7-3.3-.6-3.3-.7-3.3-.6-3.2-.7-3.3-.6-3.3-.7-3.3-.6-3.2-.7-3.3-.6-3.3-.7-3.3-.6-3.2-.7-3.3-.6-3.3-.7M847.9 268.2l-3.3-.7-3.3-.6-3.3-.7-3.2-.7-3.3-.7-3.3-.6-3.3-.7-3.2-.7-3.3-.7-3.3-.7-3.3-.6-3.2-.7-3.3-.7-3.3-.7-3.3-.6-3.2-.7-3.3-.7-3.3-.7-3.3-.7-3.2-.6-3.3-.7-3.3-.7-3.3-.7-3.2-.6-3.3-.7-3.3-.7-3.3-.7-3.2-.7-3.3-.6-3.3-.7-3.3-.7-3.2-.7-3.3-.7-3.3-.6-3.3-.7-3.2-.7-3.3-.7-3.3-.6-3.3-.7-3.2-.7-3.3-.7-3.3-.7-3.3-.6-3.2-.7-3.3-.7-3.3-.7-3.3-.6-3.2-.7-3.3-.7-3.3-.7-3.3-.7-3.2-.6-3.3-.7-3.3-.7-3.3-.7-3.2-.6-3.3-.7-3.3-.7-3.3-.7-3.2-.7M846.6 268l-3.3-.7-3.3-.7-3.3-.7-3.2-.7-3.3-.7-3.3-.7-3.3-.7-3.2-.7-3.3-.7-3.3-.7-3.3-.7-3.2-.7-3.3-.8-3.3-.7-3.3-.7-3.2-.7-3.3-.7-3.3-.7-3.3-.7-3.2-.7-3.3-.7-3.3-.7-3.3-.7-3.2-.7-3.3-.7-3.3-.7-3.3-.7-3.2-.7-3.3-.7-3.3-.7-3.3-.7-3.2-.7-3.3-.7-3.3-.7-3.3-.7-3.2-.7-3.3-.7-3.3-.7-3.3-.7-3.2-.7-3.3-.7-3.3-.8-3.3-.7-3.2-.7-3.3-.7-3.3-.7-3.3-.7-3.2-.7-3.3-.7-3.3-.7-3.3-.7-3.2-.7-3.3-.7-3.3-.7-3.3-.7-3.2-.7-3.3-.7-3.3-.7-3.3-.7-3.2-.7M845.3 267.8l-3.3-.8-3.3-.7-3.2-.7-3.3-.7-3.3-.8-3.3-.7-3.2-.7-3.3-.8-3.3-.7-3.3-.7-3.2-.7-3.3-.8-3.3-.7-3.3-.7-3.2-.8-3.3-.7-3.3-.7-3.3-.7-3.2-.8-3.3-.7-3.3-.7-3.3-.8-3.2-.7-3.3-.7-3.3-.7-3.3-.8-3.2-.7-3.3-.7-3.3-.8-3.3-.7-3.2-.7-3.3-.7-3.3-.8-3.3-.7-3.2-.7-3.3-.8-3.3-.7-3.3-.7-3.2-.7-3.3-.8-3.3-.7-3.3-.7-3.2-.8-3.3-.7-3.3-.7-3.3-.8-3.2-.7-3.3-.7-3.3-.7-3.3-.8-3.2-.7-3.3-.7-3.3-.8-3.3-.7-3.2-.7-3.3-.7-3.3-.8-3.3-.7-3.2-.7-3.3-.8M844.1 267.6l-3.3-.8-3.3-.7-3.2-.8-3.3-.8-3.3-.7-3.3-.8-3.2-.7-3.3-.8-3.3-.7-3.3-.8-3.2-.7-3.3-.8-3.3-.7-3.3-.8-3.2-.8-3.3-.7-3.3-.8-3.3-.7-3.2-.8-3.3-.7-3.3-.8-3.3-.7-3.2-.8-3.3-.7-3.3-.8-3.3-.7-3.2-.8-3.3-.8-3.3-.7-3.3-.8-3.2-.7-3.3-.8-3.3-.7-3.3-.8-3.2-.7-3.3-.8-3.3-.7-3.3-.8-3.2-.8-3.3-.7-3.3-.8-3.3-.7-3.2-.8-3.3-.7-3.3-.8-3.3-.7-3.2-.8-3.3-.7-3.3-.8-3.3-.7-3.2-.8-3.3-.8-3.3-.7-3.3-.8-3.2-.7-3.3-.8-3.3-.7-3.3-.8-3.2-.7-3.3-.8M842.9 267.4l-3.2-.8-3.3-.8-3.3-.8-3.3-.8-3.2-.7-3.3-.8-3.3-.8-3.3-.8-3.2-.8-3.3-.7-3.3-.8-3.3-.8-3.2-.8-3.3-.8-3.3-.7-3.3-.8-3.2-.8-3.3-.8-3.3-.8-3.3-.7-3.2-.8-3.3-.8-3.3-.8-3.3-.8-3.2-.7-3.3-.8-3.3-.8-3.3-.8-3.2-.7-3.3-.8-3.3-.8-3.3-.8-3.2-.8-3.3-.7-3.3-.8-3.3-.8-3.2-.8-3.3-.8-3.3-.7-3.3-.8-3.2-.8-3.3-.8-3.3-.8-3.3-.7-3.2-.8-3.3-.8-3.3-.8-3.3-.8-3.2-.7-3.3-.8-3.3-.8-3.3-.8-3.2-.8-3.3-.7-3.3-.8-3.3-.8-3.2-.8-3.3-.8-3.3-.7-3.3-.8M841.9 267.2l-3.3-.8-3.3-.8-3.3-.9-3.2-.8-3.3-.8-3.3-.8-3.3-.8-3.2-.8-3.3-.8-3.3-.8-3.3-.8-3.2-.8-3.3-.8-3.3-.8-3.3-.8-3.2-.8-3.3-.8-3.3-.8-3.3-.8-3.2-.8-3.3-.8-3.3-.8-3.3-.8-3.2-.9-3.3-.8-3.3-.8-3.3-.8-3.2-.8-3.3-.8-3.3-.8-3.3-.8-3.2-.8-3.3-.8-3.3-.8-3.3-.8-3.2-.8-3.3-.8-3.3-.8-3.3-.8-3.2-.8-3.3-.8-3.3-.8-3.3-.8-3.2-.8-3.3-.9-3.3-.8-3.3-.8-3.2-.8-3.3-.8-3.3-.8-3.3-.8-3.2-.8-3.3-.8-3.3-.8-3.3-.8-3.2-.8-3.3-.8-3.3-.8-3.3-.8-3.2-.8M840.8 267l-3.3-.9-3.2-.8-3.3-.8-3.3-.8-3.3-.9-3.2-.8-3.3-.8-3.3-.9-3.3-.8-3.2-.8-3.3-.9-3.3-.8-3.3-.8-3.2-.8-3.3-.9-3.3-.8-3.3-.8-3.2-.9-3.3-.8-3.3-.8-3.3-.9-3.2-.8-3.3-.8-3.3-.8-3.3-.9-3.2-.8-3.3-.8-3.3-.9-3.3-.8-3.2-.8-3.3-.9-3.3-.8-3.3-.8-3.2-.8-3.3-.9-3.3-.8-3.3-.8-3.2-.9-3.3-.8-3.3-.8-3.3-.9-3.2-.8-3.3-.8-3.3-.8-3.3-.9-3.2-.8-3.3-.8-3.3-.9-3.3-.8-3.2-.8-3.3-.9-3.3-.8-3.3-.8-3.2-.8-3.3-.9-3.3-.8-3.3-.8-3.2-.9-3.3-.8-3.3-.8M839.8 266.8l-3.3-.9-3.2-.8-3.3-.9-3.3-.8-3.3-.9-3.2-.8-3.3-.9-3.3-.8-3.3-.9-3.2-.9-3.3-.8-3.3-.9-3.3-.8-3.2-.9-3.3-.8-3.3-.9-3.3-.8-3.2-.9-3.3-.8-3.3-.9-3.3-.9-3.2-.8-3.3-.9-3.3-.8-3.3-.9-3.2-.8-3.3-.9-3.3-.8-3.3-.9-3.2-.9-3.3-.8-3.3-.9-3.3-.8-3.2-.9-3.3-.8-3.3-.9-3.3-.8-3.2-.9-3.3-.9-3.3-.8-3.3-.9-3.2-.8-3.3-.9-3.3-.8-3.3-.9-3.2-.8-3.3-.9-3.3-.9-3.3-.8-3.2-.9-3.3-.8-3.3-.9-3.3-.8-3.2-.9-3.3-.8-3.3-.9-3.3-.9-3.2-.8-3.3-.9-3.3-.8M838.9 266.6l-3.3-.8-3.3-.9-3.2-.9-3.3-.9-3.3-.9-3.3-.8-3.2-.9-3.3-.9-3.3-.9-3.3-.9-3.2-.9-3.3-.8-3.3-.9-3.3-.9-3.2-.9-3.3-.9-3.3-.8-3.3-.9-3.2-.9-3.3-.9-3.3-.9-3.3-.8-3.2-.9-3.3-.9-3.3-.9-3.3-.9-3.2-.8-3.3-.9-3.3-.9-3.3-.9-3.2-.9-3.3-.8-3.3-.9-3.3-.9-3.2-.9-3.3-.9-3.3-.8-3.3-.9-3.2-.9-3.3-.9-3.3-.9-3.3-.9-3.2-.8-3.3-.9-3.3-.9-3.3-.9-3.2-.9-3.3-.8-3.3-.9-3.3-.9-3.2-.9-3.3-.9-3.3-.8-3.3-.9-3.2-.9-3.3-.9-3.3-.9-3.3-.8-3.2-.9-3.3-.9M838 266.5l-3.3-.9-3.2-.9-3.3-.9-3.3-.9-3.3-.9-3.2-1-3.3-.9-3.3-.9-3.3-.9-3.2-.9-3.3-.9-3.3-.9-3.3-.9-3.2-.9-3.3-.9-3.3-.9-3.3-.9-3.2-.9-3.3-.9-3.3-.9-3.3-.9-3.2-1-3.3-.9-3.3-.9-3.3-.9-3.2-.9-3.3-.9-3.3-.9-3.3-.9-3.2-.9-3.3-.9-3.3-.9-3.3-.9-3.2-.9-3.3-.9-3.3-.9-3.3-.9-3.2-.9-3.3-1-3.3-.9-3.3-.9-3.2-.9-3.3-.9-3.3-.9-3.3-.9-3.2-.9-3.3-.9-3.3-.9-3.3-.9-3.2-.9-3.3-.9-3.3-.9-3.3-.9-3.2-.9-3.3-1-3.3-.9-3.3-.9-3.2-.9-3.3-.9-3.3-.9M837.2 266.3l-3.3-.9-3.3-.9-3.2-1-3.3-.9-3.3-.9-3.3-1-3.2-.9-3.3-.9-3.3-.9-3.3-1-3.2-.9-3.3-.9-3.3-1-3.3-.9-3.2-.9-3.3-1-3.3-.9-3.3-.9-3.2-1-3.3-.9-3.3-.9-3.3-1-3.2-.9-3.3-.9-3.3-.9-3.3-1-3.2-.9-3.3-.9-3.3-1-3.3-.9-3.2-.9-3.3-1-3.3-.9-3.3-.9-3.2-1-3.3-.9-3.3-.9-3.3-1-3.2-.9-3.3-.9-3.3-1-3.3-.9-3.2-.9-3.3-.9-3.3-1-3.3-.9-3.2-.9-3.3-1-3.3-.9-3.3-.9-3.2-1-3.3-.9-3.3-.9-3.3-1-3.2-.9-3.3-.9-3.3-1-3.3-.9-3.2-.9-3.3-.9M836.4 266.2l-3.3-1-3.2-.9-3.3-1-3.3-.9-3.3-1-3.2-.9-3.3-1-3.3-1-3.3-.9-3.2-1-3.3-.9-3.3-1-3.3-.9-3.2-1-3.3-1-3.3-.9-3.3-1-3.2-.9-3.3-1-3.3-.9-3.3-1-3.2-.9-3.3-1-3.3-1-3.3-.9-3.2-1-3.3-.9-3.3-1-3.3-.9-3.2-1-3.3-1-3.3-.9-3.3-1-3.2-.9-3.3-1-3.3-.9-3.3-1-3.2-1-3.3-.9-3.3-1-3.3-.9-3.2-1-3.3-.9-3.3-1-3.3-1-3.2-.9-3.3-1-3.3-.9-3.3-1-3.2-.9-3.3-1-3.3-1-3.3-.9-3.2-1-3.3-.9-3.3-1-3.3-.9-3.2-1-3.3-.9-3.3-1M835.7 266.1l-3.3-1-3.3-1-3.2-1-3.3-1-3.3-.9-3.3-1-3.2-1-3.3-1-3.3-1-3.3-.9-3.2-1-3.3-1-3.3-1-3.3-1-3.2-1-3.3-.9-3.3-1-3.3-1-3.2-1-3.3-1-3.3-1-3.3-.9-3.2-1-3.3-1-3.3-1-3.3-1-3.2-.9-3.3-1-3.3-1-3.3-1-3.2-1-3.3-1-3.3-.9-3.3-1-3.2-1-3.3-1-3.3-1-3.3-.9-3.2-1-3.3-1-3.3-1-3.3-1-3.2-1-3.3-.9-3.3-1-3.3-1-3.2-1-3.3-1-3.3-.9-3.3-1-3.2-1-3.3-1-3.3-1-3.3-1-3.2-.9-3.3-1-3.3-1-3.3-1-3.2-1-3.3-1M835 266l-3.3-1.1-3.2-1-3.3-1-3.3-1-3.3-1-3.2-1-3.3-1-3.3-1-3.3-1-3.2-1-3.3-1-3.3-1-3.3-1-3.2-1.1-3.3-1-3.3-1-3.3-1-3.2-1-3.3-1-3.3-1-3.3-1-3.2-1-3.3-1-3.3-1-3.3-1-3.2-1-3.3-1-3.3-1.1-3.3-1-3.2-1-3.3-1-3.3-1-3.3-1-3.2-1-3.3-1-3.3-1-3.3-1-3.2-1-3.3-1-3.3-1-3.3-1-3.2-1.1-3.3-1-3.3-1-3.3-1-3.2-1-3.3-1-3.3-1-3.3-1-3.2-1-3.3-1-3.3-1-3.3-1-3.2-1-3.3-1.1-3.3-1-3.3-1-3.2-1-3.3-1-3.3-1M834.4 265.8l-3.3-1-3.2-1-3.3-1.1-3.3-1-3.3-1-3.2-1.1-3.3-1-3.3-1-3.3-1.1-3.2-1-3.3-1-3.3-1-3.3-1.1-3.2-1-3.3-1-3.3-1.1-3.3-1-3.2-1-3.3-1.1-3.3-1-3.3-1-3.2-1.1-3.3-1-3.3-1-3.3-1.1-3.2-1-3.3-1-3.3-1.1-3.3-1-3.2-1-3.3-1.1-3.3-1-3.3-1-3.2-1.1-3.3-1-3.3-1-3.3-1.1-3.2-1-3.3-1-3.3-1.1-3.3-1-3.2-1-3.3-1.1-3.3-1-3.3-1-3.2-1.1-3.3-1-3.3-1-3.3-1.1-3.2-1-3.3-1-3.3-1.1-3.3-1-3.2-1-3.3-1.1-3.3-1-3.3-1-3.2-1.1-3.3-1-3.3-1M833.8 265.7l-3.2-1-3.3-1.1-3.3-1-3.3-1.1-3.2-1-3.3-1.1-3.3-1.1-3.3-1-3.2-1.1-3.3-1-3.3-1.1-3.3-1.1-3.2-1-3.3-1.1-3.3-1-3.3-1.1-3.2-1-3.3-1.1-3.3-1.1-3.3-1-3.2-1.1-3.3-1-3.3-1.1-3.3-1-3.2-1.1-3.3-1.1-3.3-1-3.3-1.1-3.2-1-3.3-1.1-3.3-1.1-3.3-1-3.2-1.1-3.3-1-3.3-1.1-3.3-1-3.2-1.1-3.3-1.1-3.3-1-3.3-1.1-3.2-1-3.3-1.1-3.3-1.1-3.3-1-3.2-1.1-3.3-1-3.3-1.1-3.3-1-3.2-1.1-3.3-1.1-3.3-1-3.3-1.1-3.2-1-3.3-1.1-3.3-1-3.3-1.1-3.2-1.1-3.3-1-3.3-1.1-3.3-1M833.3 265.7l-3.2-1.1-3.3-1.1-3.3-1.1-3.3-1.1-3.2-1.1-3.3-1-3.3-1.1-3.3-1.1-3.2-1.1-3.3-1.1-3.3-1.1-3.3-1-3.2-1.1-3.3-1.1-3.3-1.1-3.3-1.1-3.2-1.1-3.3-1-3.3-1.1-3.3-1.1-3.2-1.1-3.3-1.1-3.3-1.1-3.3-1-3.2-1.1-3.3-1.1-3.3-1.1-3.3-1.1-3.2-1.1-3.3-1-3.3-1.1-3.3-1.1-3.2-1.1-3.3-1.1-3.3-1.1-3.3-1-3.2-1.1-3.3-1.1-3.3-1.1-3.3-1.1-3.2-1.1-3.3-1-3.3-1.1-3.3-1.1-3.2-1.1-3.3-1.1-3.3-1.1-3.3-1-3.2-1.1-3.3-1.1-3.3-1.1-3.3-1.1-3.2-1.1-3.3-1-3.3-1.1-3.3-1.1-3.2-1.1-3.3-1.1-3.3-1.1-3.3-1M832.9 265.6l-3.3-1.1-3.3-1.1-3.2-1.2-3.3-1.1-3.3-1.1-3.3-1.1-3.2-1.1-3.3-1.1-3.3-1.1-3.3-1.1-3.2-1.1-3.3-1.1-3.3-1.1-3.3-1.1-3.2-1.2-3.3-1.1-3.3-1.1-3.3-1.1-3.2-1.1-3.3-1.1-3.3-1.1-3.3-1.1-3.2-1.1-3.3-1.1-3.3-1.1-3.3-1.2-3.2-1.1-3.3-1.1-3.3-1.1-3.3-1.1-3.2-1.1-3.3-1.1-3.3-1.1-3.3-1.1-3.2-1.1-3.3-1.1-3.3-1.1-3.3-1.2-3.2-1.1-3.3-1.1-3.3-1.1-3.3-1.1-3.2-1.1-3.3-1.1-3.3-1.1-3.3-1.1-3.2-1.1-3.3-1.1-3.3-1.2-3.3-1.1-3.2-1.1-3.3-1.1-3.3-1.1-3.3-1.1-3.2-1.1-3.3-1.1-3.3-1.1-3.3-1.1-3.2-1.1-3.3-1.1M832.5 265.5l-3.3-1.1-3.3-1.2-3.2-1.1-3.3-1.1-3.3-1.2-3.3-1.1-3.2-1.1-3.3-1.2-3.3-1.1-3.3-1.1-3.2-1.2-3.3-1.1-3.3-1.1-3.3-1.2-3.2-1.1-3.3-1.1-3.3-1.2-3.3-1.1-3.2-1.1-3.3-1.2-3.3-1.1-3.3-1.1-3.2-1.2-3.3-1.1-3.3-1.1-3.3-1.2-3.2-1.1-3.3-1.1-3.3-1.2-3.3-1.1-3.2-1.2-3.3-1.1-3.3-1.1-3.3-1.2-3.2-1.1-3.3-1.1-3.3-1.2-3.3-1.1-3.2-1.1-3.3-1.2-3.3-1.1-3.3-1.1-3.2-1.2-3.3-1.1-3.3-1.1-3.3-1.2-3.2-1.1-3.3-1.1-3.3-1.2-3.3-1.1-3.2-1.1-3.3-1.2-3.3-1.1-3.3-1.1-3.2-1.2-3.3-1.1-3.3-1.1-3.3-1.2-3.2-1.1-3.3-1.1M832.1 265.4l-3.2-1.1-3.3-1.2-3.3-1.1-3.3-1.2-3.2-1.2-3.3-1.1-3.3-1.2-3.3-1.1-3.2-1.2-3.3-1.2-3.3-1.1-3.3-1.2-3.2-1.1-3.3-1.2-3.3-1.1-3.3-1.2-3.2-1.2-3.3-1.1-3.3-1.2-3.3-1.1-3.2-1.2-3.3-1.2-3.3-1.1-3.3-1.2-3.2-1.1-3.3-1.2-3.3-1.2-3.3-1.1-3.2-1.2-3.3-1.1-3.3-1.2-3.3-1.2-3.2-1.1-3.3-1.2-3.3-1.1-3.3-1.2-3.2-1.2-3.3-1.1-3.3-1.2-3.3-1.1-3.2-1.2-3.3-1.2-3.3-1.1-3.3-1.2-3.2-1.1-3.3-1.2-3.3-1.1-3.3-1.2-3.2-1.2-3.3-1.1-3.3-1.2-3.3-1.1-3.2-1.2-3.3-1.2-3.3-1.1-3.3-1.2-3.2-1.1-3.3-1.2-3.3-1.2-3.3-1.1M831.8 265.4l-3.2-1.2-3.3-1.2-3.3-1.2-3.3-1.1-3.2-1.2-3.3-1.2-3.3-1.2-3.3-1.2-3.2-1.2-3.3-1.2-3.3-1.1-3.3-1.2-3.2-1.2-3.3-1.2-3.3-1.2-3.3-1.2-3.2-1.1-3.3-1.2-3.3-1.2-3.3-1.2-3.2-1.2-3.3-1.2-3.3-1.2-3.3-1.1-3.2-1.2-3.3-1.2-3.3-1.2-3.3-1.2-3.2-1.2-3.3-1.1-3.3-1.2-3.3-1.2-3.2-1.2-3.3-1.2-3.3-1.2-3.3-1.2-3.2-1.1-3.3-1.2-3.3-1.2-3.3-1.2-3.2-1.2-3.3-1.2-3.3-1.2-3.3-1.1-3.2-1.2-3.3-1.2-3.3-1.2-3.3-1.2-3.2-1.2-3.3-1.1-3.3-1.2-3.3-1.2-3.2-1.2-3.3-1.2-3.3-1.2-3.3-1.2-3.2-1.1-3.3-1.2-3.3-1.2-3.3-1.2M831.6 265.3l-3.3-1.2-3.2-1.2-3.3-1.2-3.3-1.2-3.3-1.2-3.2-1.2-3.3-1.2-3.3-1.2-3.3-1.2-3.2-1.3-3.3-1.2-3.3-1.2-3.3-1.2-3.2-1.2-3.3-1.2-3.3-1.2-3.3-1.2-3.2-1.2-3.3-1.2-3.3-1.3-3.3-1.2-3.2-1.2-3.3-1.2-3.3-1.2-3.3-1.2-3.2-1.2-3.3-1.2-3.3-1.2-3.3-1.2-3.2-1.3-3.3-1.2-3.3-1.2-3.3-1.2-3.2-1.2-3.3-1.2-3.3-1.2-3.3-1.2-3.2-1.2-3.3-1.2-3.3-1.3-3.3-1.2-3.2-1.2-3.3-1.2-3.3-1.2-3.3-1.2-3.2-1.2-3.3-1.2-3.3-1.2-3.3-1.2-3.2-1.3-3.3-1.2-3.3-1.2-3.3-1.2-3.2-1.2-3.3-1.2-3.3-1.2-3.3-1.2-3.2-1.2-3.3-1.2-3.3-1.3M831.4 265.3l-3.3-1.2-3.2-1.3-3.3-1.2-3.3-1.2-3.3-1.3-3.2-1.2-3.3-1.2-3.3-1.3-3.3-1.2-3.2-1.2-3.3-1.3-3.3-1.2-3.3-1.2-3.2-1.3-3.3-1.2-3.3-1.3-3.3-1.2-3.2-1.2-3.3-1.3-3.3-1.2-3.3-1.2-3.2-1.3-3.3-1.2-3.3-1.2-3.3-1.3-3.2-1.2-3.3-1.2-3.3-1.3-3.3-1.2-3.2-1.2-3.3-1.3-3.3-1.2-3.3-1.3-3.2-1.2-3.3-1.2-3.3-1.3-3.3-1.2-3.2-1.2-3.3-1.3-3.3-1.2-3.3-1.2-3.2-1.3-3.3-1.2-3.3-1.2-3.3-1.3-3.2-1.2-3.3-1.2-3.3-1.3-3.3-1.2-3.2-1.3-3.3-1.2-3.3-1.2-3.3-1.3-3.2-1.2-3.3-1.2-3.3-1.3-3.3-1.2-3.2-1.2-3.3-1.3-3.3-1.2M831.3 265.3l-3.3-1.3-3.3-1.2-3.2-1.3-3.3-1.3-3.3-1.2-3.3-1.3-3.2-1.2-3.3-1.3-3.3-1.3-3.3-1.2-3.2-1.3-3.3-1.2-3.3-1.3-3.3-1.3-3.2-1.2-3.3-1.3-3.3-1.2-3.3-1.3-3.2-1.3-3.3-1.2-3.3-1.3-3.3-1.2-3.2-1.3-3.3-1.3-3.3-1.2-3.3-1.3-3.2-1.2-3.3-1.3-3.3-1.3-3.3-1.2-3.2-1.3-3.3-1.3-3.3-1.2-3.3-1.3-3.2-1.2-3.3-1.3-3.3-1.3-3.3-1.2-3.2-1.3-3.3-1.2-3.3-1.3-3.3-1.3-3.2-1.2-3.3-1.3-3.3-1.2-3.3-1.3-3.2-1.3-3.3-1.2-3.3-1.3-3.3-1.2-3.2-1.3-3.3-1.3-3.3-1.2-3.3-1.3-3.2-1.2-3.3-1.3-3.3-1.3-3.3-1.2-3.2-1.3-3.3-1.2M831.2 265.3l-3.3-1.3-3.2-1.3-3.3-1.3-3.3-1.3-3.3-1.3-3.2-1.2-3.3-1.3-3.3-1.3-3.3-1.3-3.2-1.3-3.3-1.3-3.3-1.3-3.3-1.2-3.2-1.3-3.3-1.3-3.3-1.3-3.3-1.3-3.2-1.3-3.3-1.3-3.3-1.2-3.3-1.3-3.2-1.3-3.3-1.3-3.3-1.3-3.3-1.3-3.2-1.3-3.3-1.2-3.3-1.3-3.3-1.3-3.2-1.3-3.3-1.3-3.3-1.3-3.3-1.3-3.2-1.2-3.3-1.3-3.3-1.3-3.3-1.3-3.2-1.3-3.3-1.3-3.3-1.3-3.3-1.2-3.2-1.3-3.3-1.3-3.3-1.3-3.3-1.3-3.2-1.3-3.3-1.3-3.3-1.3-3.3-1.2-3.2-1.3-3.3-1.3-3.3-1.3-3.3-1.3-3.2-1.3-3.3-1.3-3.3-1.2-3.3-1.3-3.2-1.3-3.3-1.3-3.3-1.3"/>
<path stroke-width="0.4" d="M1002 295.5l-3.3 .7-3.3 .7-3.2 .8-3.3 .7-3.3 .7-3.2 .7-3.3 .7-3.3 .7-3.3 .7-3.3 .8-3.2 .7-3.3 .7-3.3 .7-3.2 .7-3.3 .7-3.3 .8-3.3 .7-3.3 .7-3.2 .7-3.3 .7-3.3 .7-3.2 .7-3.3 .8-3.3 .7-3.3 .7-3.3 .7-3.2 .7-3.3 .7-3.3 .7-3.2 .8-3.3 .7-3.3 .7-3.3 .7-3.3 .7-3.2 .7-3.3 .8-3.3 .7-3.2 .7-3.3 .7-3.3 .7-3.3 .7-3.3 .7-3.2 .8-3.3 .7-3.3 .7-3.2 .7-3.3 .7-3.3 .7-3.3 .7-3.3 .8-3.2 .7-3.3 .7-3.3 .7-3.2 .7-3.3 .7-3.3 .8-3.3 .7-3.3 .7-3.2 .7-3.3 .7-4.2-2.3-4.2-2.2-4.2-2.3-4.1-2.2-4-2.3-4-2.2-3.9-2.2-3.9-2.2-3.8-2.2-3.7-2.2-3.7-2.2-3.7-2.1-3.6-2.2-3.6-2.1-3.5-2.2-3.4-2.1-3.4-2.1-3.3-2.1-3.3-2.1-3.2-2.1-3.2-2.1-3.1-2.1-3.1-2-3-2.1-3-2-2.9-2.1-2.8-2-2.9-2-2.7-2-2.7-2-2.6-2-2.6-2-2.6-1.9-2.4-2-2.5-2-2.3-1.9-2.4-1.9-2.2-1.9-2.3-2-2.1-1.9-2.1-1.9-2.1-1.8-2-1.9-1.9-1.9-1.9-1.8-1.9-1.9-1.8-1.8-1.7-1.8-1.7-1.9-1.6-1.8-1.6-1.8-1.5-1.8-1.5-1.7-1.4-1.8-1.3-1.8-1.3-1.7-1.3-1.8-1.2-1.7-1.2-1.7-1-1.7-1.1-1.7-1-1.7-.9-1.7-.9-1.7-.8-1.6-.8-1.7-.7-1.7-.7-1.6-.6-1.6-.6-1.6-.5-1.6-.4-1.6-.4-1.6-.4-1.6-.3-1.6-.2-1.6-.2-1.5-.1-1.5-.1-1.6 0-1.5 3.3 1.3 3.2 1.3 3.3 1.3 3.3 1.3 3.3 1.3 3.2 1.4 3.3 1.3 3.3 1.3 3.3 1.3 3.2 1.3 3.3 1.3 3.3 1.3 3.3 1.3 3.2 1.4 3.3 1.3 3.3 1.3 3.3 1.3 3.2 1.3 3.3 1.3 3.3 1.3 3.3 1.3 3.2 1.3 3.3 1.4 3.3 1.3 3.3 1.3 3.2 1.3 3.3 1.3 3.3 1.3 3.3 1.3 3.2 1.3 3.3 1.3 3.3 1.4 3.3 1.3 3.2 1.3 3.3 1.3 3.3 1.3 3.3 1.3 3.2 1.3 3.3 1.3 3.3 1.3 3.3 1.4 3.2 1.3 3.3 1.3 3.3 1.3 3.3 1.3 3.2 1.3 3.3 1.3 3.3 1.3 3.3 1.3 3.2 1.4 3.3 1.3 3.3 1.3 3.3 1.3 3.2 1.3 3.3 1.3 3.3 1.3 3.3 1.3 3.2 1.3 3.3 1.4 3.3 1.3 0 0 .1 0 .1 0 .2 0 .2 .1 .3 0 .4 .1 .4 .1 .4 .1 .5 0 .6 .1 .6 .2 .7 .1 .7 .1 .8 .1 .8 .2 .9 .1 .9 .2 1 .2 1.1 .2 1 .2 1.2 .2 1.2 .2 1.3 .2 1.3 .2 1.3 .3 1.4 .2 1.5 .3 1.5 .2 1.6 .3 1.6 .3 1.7 .3 1.7 .3 1.8 .3 1.9 .4 1.9 .3 1.9 .3 2 .4 2.1 .4 2.1 .3 2.1 .4 2.3 .4 2.2 .4 2.4 .4 2.3 .4 2.5 .5 2.4 .4 2.6 .5 2.6 .4 2.6 .5 2.7 .5 2.7 .4 2.9 .5 2.8 .5 2.9 .6 3 .5 3 .5 3.1 .6 3.1 .5 3.2 .6 3.2 .6 3.3 .5 3.3 .6 3.4 .6 3.4 .6 3.5 .7 3.6 .6 3.6 .6 3.7 .7 3.7 .6 3.7 .7 3.8 .7 3.9 .7 3.9 .6 4 .7 4 .8 4.1 .7 4.2 .7 4.2 .8z"/>
</g>
<g fill="currentColor" stroke="currentColor" stroke-width=".5" stroke-linejoin="round">
<path color="#000087" d="M1002 295.5l-16.9-4.5-3.2-3.3 16.8 4.5zm-3.3-3.3l-16.8-4.5-3.3-3.4 16.8 4.5zm-13.6-1.2l-16.4-4.4-3.3-3.4 16.5 4.5zm-16.4-4.4l-16-4.4-3.3-3.3 16 4.3z"/>
<path color="#000097" d="M995.4 288.8l-16.8-4.5-3.3-3.3 16.9 4.5zm-13.5-1.1l-16.5-4.5-3.3-3.3 16.5 4.4zm-16.5-4.5l-16-4.3-3.3-3.4 16 4.4zm-12.7-1l-15.6-4.3-3.3-3.3 15.6 4.3zm-15.6-4.3l-15.2-4.2-3.2-3.3 15.1 4.2zm-15.2-4.2l-14.7-4.1-3.3-3.3 14.8 4.1z"/>
<path color="#0000a7" d="M992.2 285.5l-16.9-4.5-3.3-3.3 16.9 4.5zm-13.6-1.2l-16.5-4.4-3.2-3.3 16.4 4.4zm-16.5-4.4l-16-4.4-3.3-3.3 16.1 4.4zm-12.7-1l-15.6-4.3-3.3-3.3 15.6 4.2zm-15.6-4.3l-15.1-4.2-3.3-3.3 15.1 4.2zm-15.1-4.2l-14.8-4.1-3.3-3.4 14.8 4.2zm-11.5-.8l-14.3-4-3.3-3.4 14.3 4.1zm-14.3-4l-13.9-4-3.3-3.4 13.9 4zm-13.9-4l-13.4-3.9-3.3-3.4 13.4 3.9z"/>
<path color="#0000b7" d="M988.9 282.2l-16.9-4.5-3.2-3.4 16.8 4.5zm-13.6-1.2l-16.4-4.4-3.3-3.4 16.4 4.5zm-16.4-4.4l-16.1-4.4-3.2-3.3 16 4.3zm-12.8-1.1l-15.6-4.2-3.2-3.4 15.5 4.3zm-15.6-4.2l-15.1-4.2-3.3-3.4 15.2 4.2zm-15.1-4.2l-14.8-4.2-3.2-3.3 14.7 4.1zm-11.5-.8l-14.3-4.1-3.3-3.3 14.3 4zm-14.3-4.1l-13.9-4-3.2-3.3 13.8 4zm-13.9-4l-13.4-3.9-3.3-3.3 13.5 3.9zm-10.1-.5l-13.1-3.8-3.2-3.4 13 3.8zm-13.1-3.8l-12.6-3.8-3.2-3.3 12.6 3.7z"/>
<path color="#0000c7" d="M985.6 278.8l-16.8-4.5-3.3-3.3 16.9 4.5zm-13.6-1.1l-16.4-4.5-3.3-3.3 16.5 4.4zm-16.4-4.5l-16-4.3-3.3-3.4 16 4.4zm-12.8-1l-15.5-4.3-3.3-3.3 15.6 4.3zm-15.5-4.3l-15.2-4.2-3.3-3.3 15.2 4.2zm-15.2-4.2l-14.7-4.1-3.3-3.3 14.7 4.1zm-11.5-.8l-14.3-4-3.2-3.4 14.3 4.1zm-14.3-4l-13.8-4-3.3-3.3 13.9 3.9zm-13.8-4l-13.5-3.9-3.3-3.3 13.5 3.9zm-10.2-.6l-13-3.8-3.3-3.3 13 3.8zm-13-3.8l-12.6-3.7-3.3-3.4 12.6 3.8zm-9.4-.4l-12.1-3.7-3.3-3.3 12.2 3.7z"/>
<path color="#0000d7" d="M982.4 275.5l-16.9-4.5-3.3-3.4 16.9 4.5zm-13.6-1.2l-16.5-4.4-3.3-3.4 16.5 4.5zm-16.5-4.4l-16-4.4-3.3-3.3 16 4.3zm-12.7-1l-15.6-4.3-3.3-3.3 15.6 4.2zm-15.6-4.3l-15.2-4.2-3.2-3.4 15.1 4.3zm-15.2-4.2l-14.7-4.1-3.3-3.4 14.8 4.1zm-11.4-.8l-14.3-4.1-3.3-3.3 14.3 4.1zm-14.3-4.1l-13.9-3.9-3.3-3.4 13.9 4zm-13.9-3.9l-13.5-3.9-3.2-3.4 13.4 3.9zm-10.2-.6l-13-3.8-3.3-3.4 13 3.9zm-13-3.8l-12.6-3.8-3.3-3.3 12.6 3.7zm-9.3-.4l-12.2-3.7-3.3-3.3 12.2 3.6z"/>
<path color="#0000e7" d="M979.1 272.1l-16.9-4.5-3.3-3.3 16.9 4.5zm-13.6-1.1l-16.5-4.5-3.2-3.3 16.4 4.4zm-16.5-4.5l-16-4.3-3.3-3.3 16.1 4.3zm-12.7-1l-15.6-4.2-3.3-3.4 15.6 4.3zm-15.6-4.2l-15.1-4.3-3.3-3.3 15.1 4.2zm-15.1-4.3l-14.8-4.1-3.3-3.3 14.8 4.1zm-11.5-.7l-14.3-4.1-3.3-3.3 14.3 4zm-14.3-4.1l-13.9-4-3.3-3.3 13.9 4zm-13.9-4l-13.4-3.9-3.3-3.3 13.4 3.9zm-10.2-.5l-13-3.9-3.3-3.3 13.1 3.8zm-13-3.9l-12.6-3.7-3.3-3.3 12.6 3.7zm-9.3-.4l-12.2-3.6-3.3-3.4 12.2 3.7z"/>
<path color="#0000f7" d="M975.8 268.8l-16.9-4.5-3.2-3.3 16.8 4.5zm-13.6-1.2l-16.4-4.4-3.3-3.3 16.4 4.4zm-16.4-4.4l-16.1-4.3-3.2-3.4 16 4.4zm-12.8-1l-15.6-4.3-3.2-3.3 15.5 4.3zm-15.6-4.3l-15.1-4.2-3.3-3.3 15.2 4.2zm-15.1-4.2l-14.8-4.1-3.2-3.4 14.7 4.2zm-11.5-.8l-14.3-4-3.3-3.4 14.3 4.1zm-14.3-4l-13.9-4-3.2-3.3 13.8 3.9zm-13.9-4l-13.4-3.9-3.3-3.3 13.5 3.9zm-10.1-.6l-13.1-3.8-3.2-3.3 13 3.8zm-13.1-3.8l-12.6-3.7-3.2-3.4 12.6 3.8zm-9.3-.4l-12.2-3.7-3.2-3.3 12.1 3.7z"/>
<path color="#0008ff" d="M972.5 265.5l-16.8-4.5-3.3-3.4 16.8 4.5zm-13.6-1.2l-16.4-4.4-3.3-3.4 16.5 4.5zm-16.4-4.4l-16-4.4-3.3-3.3 16 4.3zm-12.8-1l-15.5-4.3-3.3-3.4 15.6 4.3zm-15.5-4.3l-15.2-4.2-3.3-3.4 15.2 4.2zm-15.2-4.2l-14.7-4.2-3.3-3.3 14.7 4.1zm-11.5-.8l-14.3-4.1-3.2-3.3 14.3 4zm-14.3-4.1l-13.8-3.9-3.3-3.4 13.9 4zm-13.8-3.9l-13.5-3.9-3.3-3.4 13.5 3.9zm-10.2-.6l-13-3.8-3.3-3.4 13 3.9zm-13-3.8l-12.6-3.8-3.3-3.3 12.6 3.7zm-9.4-.4l-12.1-3.7-3.3-3.4 12.2 3.7z"/>
<path color="#0018ff" d="M969.2 262.1l-16.8-4.5-3.3-3.3 16.9 4.5zm-13.5-1.1l-16.5-4.5-3.3-3.3 16.5 4.4zm-16.5-4.5l-16-4.3-3.3-3.4 16 4.4zm-12.7-1l-15.6-4.3-3.3-3.3 15.6 4.3zm-15.6-4.3l-15.2-4.2-3.2-3.3 15.1 4.2zm-15.2-4.2l-14.7-4.1-3.3-3.3 14.8 4.1zm-11.4-.8l-14.3-4-3.3-3.3 14.3 4zm-14.3-4l-13.9-4-3.3-3.3 13.9 4zm-13.9-4l-13.5-3.9-3.2-3.3 13.4 3.9zm-10.2-.5l-13-3.9-3.3-3.3 13 3.8zm-13-3.9l-12.6-3.7-3.3-3.4 12.6 3.8zm-9.3-.4l-12.2-3.7-3.3-3.3 12.2 3.7z"/>
<path color="#0028ff" d="M966 258.8l-16.9-4.5-3.3-3.3 16.9 4.5zm-13.6-1.2l-16.5-4.4-3.2-3.3 16.4 4.4zm-16.5-4.4l-16-4.4-3.3-3.3 16.1 4.4zm-12.7-1l-15.6-4.3-3.3-3.3 15.6 4.2zm-15.6-4.3l-15.1-4.2-3.3-3.3 15.1 4.2zm-15.1-4.2l-14.8-4.1-3.3-3.4 14.8 4.2zm-11.5-.8l-14.3-4-3.3-3.4 14.3 4.1zm-14.3-4l-13.9-4-3.3-3.4 13.9 4zm-13.9-4l-13.4-3.9-3.3-3.4 13.4 3.9zm-10.2-.6l-13-3.8-3.3-3.3 13.1 3.8zm-13-3.8l-12.6-3.8-3.3-3.3 12.6 3.8zm-9.3-.4l-12.2-3.7-3.3-3.3 12.2 3.6z"/>
<path color="#0038ff" d="M962.7 255.5l-16.9-4.5-3.2-3.4 16.8 4.5zm-13.6-1.2l-16.4-4.4-3.3-3.4 16.4 4.5zm-16.4-4.4l-16.1-4.4-3.2-3.3 16 4.3zm-12.8-1.1l-15.6-4.2-3.2-3.4 15.5 4.3zm-15.6-4.2l-15.1-4.2-3.3-3.4 15.2 4.2zm-15.1-4.2l-14.8-4.2-3.2-3.3 14.7 4.1zm-11.5-.8l-14.3-4.1-3.3-3.3 14.3 4zm-14.3-4.1l-13.9-4-3.2-3.3 13.8 4zm-13.9-4l-13.4-3.9-3.3-3.3 13.5 3.9zm-10.1-.5l-13.1-3.8-3.2-3.4 13 3.8zm-13.1-3.8l-12.6-3.8-3.2-3.3 12.6 3.7zm-9.3-.5l-12.2-3.6-3.2-3.4 12.1 3.7z"/>
<path color="#0048ff" d="M959.4 252.1l-16.8-4.5-3.3-3.3 16.9 4.5zm-13.6-1.1l-16.4-4.5-3.3-3.3 16.5 4.4zm-16.4-4.5l-16-4.3-3.3-3.4 16 4.4zm-12.8-1l-15.5-4.3-3.3-3.3 15.6 4.3zm-15.5-4.3l-15.2-4.2-3.3-3.3 15.2 4.2zm-15.2-4.2l-14.7-4.1-3.3-3.3 14.7 4.1zm-11.5-.8l-14.3-4-3.2-3.4 14.3 4.1zm-14.3-4l-13.8-4-3.3-3.3 13.9 3.9zm-13.8-4l-13.5-3.9-3.3-3.3 13.5 3.9zm-10.2-.6l-13-3.8-3.3-3.3 13 3.8zm-13-3.8l-12.6-3.7-3.3-3.4 12.6 3.8zm-9.4-.4l-12.1-3.7-3.3-3.3 12.2 3.7z"/>
<path color="#0058ff" d="M956.2 248.8l-16.9-4.5-3.3-3.4 16.9 4.5zm-13.6-1.2l-16.5-4.4-3.3-3.4 16.5 4.5zm-16.5-4.4l-16-4.4-3.3-3.3 16 4.3zm-12.7-1l-15.6-4.3-3.3-3.3 15.6 4.2zm-15.6-4.3l-15.2-4.2-3.2-3.4 15.1 4.3zm-15.2-4.2l-14.7-4.1-3.3-3.4 14.8 4.1zm-11.4-.8l-14.3-4.1-3.3-3.3 14.3 4.1zm-14.3-4.1l-13.9-3.9-3.3-3.4 13.9 4zm-13.9-3.9l-13.5-3.9-3.2-3.4 13.4 3.9zm-10.2-.6l-13-3.8-3.3-3.4 13 3.9zm-13-3.8l-12.6-3.8-3.3-3.3 12.6 3.7zm-9.3-.4l-12.2-3.7-3.3-3.3 12.2 3.6z"/>
<path color="#0068ff" d="M952.9 245.4l-16.9-4.5-3.3-3.3 16.9 4.5zm-13.6-1.1l-16.5-4.5-3.2-3.3 16.4 4.4zm-16.5-4.5l-16-4.3-3.3-3.3 16.1 4.3zm-12.7-1l-15.6-4.2-3.3-3.4 15.6 4.3zm-15.6-4.2l-15.1-4.3-3.3-3.3 15.1 4.2zm-15.1-4.3l-14.8-4.1-3.3-3.3 14.8 4.1zm-11.5-.7l-14.3-4.1-3.3-3.3 14.3 4zm-14.3-4.1l-13.9-4-3.3-3.3 13.9 4zm-13.9-4l-13.4-3.9-3.3-3.3 13.4 3.9zm-10.2-.5l-13-3.9-3.3-3.3 13.1 3.8zm-13-3.9l-12.6-3.7-3.3-3.3 12.6 3.7zm-9.3-.4l-12.2-3.6-3.3-3.4 12.2 3.7z"/>
<path color="#0078ff" d="M949.6 242.1l-16.9-4.5-3.2-3.3 16.8 4.5zm-13.6-1.2l-16.4-4.4-3.3-3.3 16.4 4.4zm-16.4-4.4l-16.1-4.3-3.2-3.4 16 4.4zm-12.8-1l-15.6-4.3-3.2-3.3 15.5 4.3zm-15.6-4.3l-15.1-4.2-3.3-3.3 15.2 4.2zm-15.1-4.2l-14.8-4.1-3.2-3.4 14.7 4.2zm-11.5-.8l-14.3-4-3.3-3.4 14.3 4.1zm-14.3-4l-13.9-4-3.2-3.3 13.8 3.9zm-13.9-4l-13.4-3.9-3.3-3.3 13.5 3.9zm-10.1-.6l-13.1-3.8-3.2-3.3 13 3.8zm-13.1-3.8l-12.6-3.7-3.2-3.4 12.6 3.8zm-9.3-.4l-12.2-3.7-3.2-3.3 12.1 3.7z"/>
<path color="#0087ff" d="M946.3 238.8l-16.8-4.5-3.3-3.4 16.8 4.5zm-13.6-1.2l-16.4-4.4-3.3-3.4 16.5 4.5zm-16.4-4.4l-16-4.4-3.3-3.3 16 4.3zm-12.8-1l-15.5-4.3-3.3-3.4 15.6 4.3zm-3.2-3.4l-15.6-4.3-3.3-3.3 15.6 4.3zm-12.3-.9l-15.2-4.2-3.3-3.4 15.2 4.2zm-15.2-4.2l-14.7-4.2-3.3-3.3 14.7 4.1zm-11.5-.8l-14.3-4.1-3.2-3.3 14.3 4zm-14.3-4.1l-13.8-3.9-3.3-3.4 13.9 4zm-13.8-3.9l-13.5-3.9-3.3-3.4 13.5 3.9zm-10.2-.6l-13-3.8-3.3-3.4 13 3.9zm-13-3.8l-12.6-3.8-3.3-3.3 12.6 3.7zm-9.4-.4l-12.1-3.7-3.3-3.4 12.2 3.7zm-3.2-3.4l-12.2-3.7-3.3-3.3 12.2 3.7z"/>
<path color="#0097ff" d="M943 235.4l-16.8-4.5-3.3-3.3 16.9 4.5zm-13.5-1.1l-16.5-4.5-3.3-3.3 16.5 4.4zm-16.5-4.5l-16-4.3-3.3-3.4 16 4.4zm-16-4.3l-15.6-4.3-3.3-3.3 15.6 4.2zm-12.3-1l-15.2-4.2-3.2-3.3 15.1 4.2zm-15.2-4.2l-14.7-4.1-3.3-3.3 14.8 4.1zm-11.4-.8l-14.3-4-3.3-3.3 14.3 4zm-14.3-4l-13.9-4-3.3-3.3 13.9 4zm-13.9-4l-13.5-3.9-3.2-3.3 13.4 3.9zm-10.2-.5l-13-3.9-3.3-3.3 13 3.8zm-13-3.9l-12.6-3.7-3.3-3.4 12.6 3.8zm-12.6-3.7l-12.2-3.7-3.3-3.3 12.2 3.6z"/>
<path color="#00a7ff" d="M939.8 232.1l-16.9-4.5-3.3-3.3 16.9 4.5zm-13.6-1.2l-16.5-4.4-3.2-3.3 16.4 4.4zm-16.5-4.4l-16-4.4-3.3-3.3 16.1 4.4zm-16-4.4l-15.6-4.2-3.2-3.4 15.5 4.3zm-12.3-.9l-15.1-4.2-3.3-3.3 15.1 4.2zm-15.1-4.2l-14.8-4.1-3.3-3.4 14.8 4.2zm-11.5-.8l-14.3-4-3.3-3.4 14.3 4.1zm-14.3-4l-13.9-4-3.3-3.4 13.9 4zm-13.9-4l-13.4-3.9-3.3-3.4 13.4 3.9zm-10.2-.6l-13-3.8-3.3-3.3 13.1 3.8zm-13-3.8l-12.6-3.8-3.3-3.3 12.6 3.8zm-12.6-3.8l-12.2-3.6-3.2-3.4 12.1 3.7z"/>
<path color="#00b7ff" d="M936.5 228.8l-16.9-4.5-3.2-3.4 16.8 4.5zm-13.6-1.2l-16.4-4.4-3.3-3.4 16.4 4.5zm-16.4-4.4l-16.1-4.4-3.2-3.3 16 4.3zm-16.1-4.4l-15.5-4.3-3.3-3.3 15.6 4.3zm-12.3-.9l-15.1-4.2-3.3-3.4 15.2 4.2zm-15.1-4.2l-14.8-4.2-3.2-3.3 14.7 4.1zm-11.5-.8l-14.3-4.1-3.3-3.3 14.3 4zm-14.3-4.1l-13.9-4-3.2-3.3 13.8 4zm-13.9-4l-13.4-3.9-3.3-3.3 13.5 3.9zm-10.1-.5l-13.1-3.8-3.2-3.4 13 3.8zm-13.1-3.8l-12.6-3.8-3.2-3.3 12.6 3.7zm-12.6-3.8l-12.1-3.7-3.3-3.3 12.2 3.7z"/>
<path color="#00c7ff" d="M933.2 225.4l-16.8-4.5-3.3-3.3 16.9 4.5zm-13.6-1.1l-16.4-4.5-3.3-3.3 16.5 4.4zm-16.4-4.5l-16-4.3-3.3-3.4 16 4.4zm-16-4.3l-15.6-4.3-3.3-3.3 15.6 4.2zm-12.3-1l-15.2-4.2-3.3-3.3 15.2 4.2zm-15.2-4.2l-14.7-4.1-3.3-3.3 14.7 4.1zm-11.5-.8l-14.3-4-3.2-3.4 14.3 4.1zm-14.3-4l-13.8-4-3.3-3.3 13.9 3.9zm-13.8-4l-13.5-3.9-3.3-3.3 13.5 3.9zm-10.2-.6l-13-3.8-3.3-3.3 13 3.8zm-13-3.8l-12.6-3.7-3.3-3.4 12.6 3.8zm-12.6-3.7l-12.2-3.7-3.3-3.3 12.2 3.6z"/>
<path color="#00d7ff" d="M930 222.1l-16.9-4.5-3.3-3.4 16.9 4.5zm-13.6-1.2l-16.5-4.4-3.3-3.4 16.5 4.5zm-16.5-4.4l-16-4.4-3.3-3.3 16 4.3zm-16-4.4l-15.6-4.2-3.3-3.4 15.6 4.3zm-12.3-.9l-15.2-4.2-3.2-3.4 15.1 4.3zm-15.2-4.2l-14.7-4.1-3.3-3.4 14.8 4.1zm-11.4-.8l-14.3-4.1-3.3-3.3 14.3 4.1zm-14.3-4.1l-13.9-3.9-3.3-3.4 13.9 4zm-13.9-3.9l-13.5-3.9-3.2-3.4 13.4 3.9zm-10.2-.6l-13-3.8-3.3-3.4 13 3.9zm-13-3.8l-12.6-3.8-3.3-3.3 12.6 3.7zm-12.6-3.8l-12.2-3.6-3.3-3.4 12.2 3.7z"/>
<path color="#00e7ff" d="M926.7 218.7l-16.9-4.5-3.3-3.3 16.9 4.5zm-13.6-1.1l-16.5-4.5-3.2-3.3 16.4 4.4zm-16.5-4.5l-16-4.3-3.3-3.3 16.1 4.3zm-16-4.3l-15.6-4.3-3.2-3.3 15.5 4.3zm-12.3-.9l-15.1-4.3-3.3-3.3 15.1 4.2zm-15.1-4.3l-14.8-4.1-3.3-3.3 14.8 4.1zm-11.5-.7l-14.3-4.1-3.3-3.3 14.3 4zm-14.3-4.1l-13.9-4-3.3-3.3 13.9 4zm-13.9-4l-13.4-3.9-3.3-3.3 13.4 3.9zm-10.2-.5l-13-3.9-3.3-3.3 13.1 3.8zm-13-3.9l-12.6-3.7-3.3-3.3 12.6 3.7zm-12.6-3.7l-12.2-3.7-3.2-3.3 12.1 3.7z"/>
<path color="#00f7ff" d="M923.4 215.4l-16.9-4.5-3.2-3.3 16.8 4.5zm-13.6-1.2l-16.4-4.4-3.3-3.3 16.4 4.4zm-16.4-4.4l-16.1-4.3-3.2-3.4 16 4.4zm-16.1-4.3l-15.5-4.3-3.3-3.4 15.6 4.3zm-12.3-1l-15.1-4.2-3.3-3.3 15.2 4.2zm-15.1-4.2l-14.8-4.1-3.2-3.4 14.7 4.2zm-11.5-.8l-14.3-4-3.3-3.4 14.3 4.1zm-14.3-4l-13.9-4-3.2-3.3 13.8 3.9zm-13.9-4l-13.4-3.9-3.3-3.3 13.5 3.9zm-10.1-.6l-13.1-3.8-3.2-3.3 13 3.8zm-13.1-3.8l-12.6-3.7-3.2-3.4 12.6 3.8zm-12.6-3.7l-12.1-3.7-3.3-3.4 12.2 3.7z"/>
<path color="#08fff7" d="M920.1 212.1l-16.8-4.5-3.3-3.4 16.8 4.5zm-13.6-1.2l-16.4-4.4-3.3-3.4 16.5 4.5zm-16.4-4.4l-16-4.4-3.3-3.3 16 4.3zm-16-4.4l-15.6-4.3-3.3-3.3 15.6 4.3zm-12.3-.9l-15.2-4.2-3.3-3.4 15.2 4.2zm-15.2-4.2l-14.7-4.2-3.3-3.3 14.7 4.1zm-11.5-.8l-14.3-4.1-3.2-3.3 14.3 4zm-14.3-4.1l-13.8-3.9-3.3-3.4 13.9 4zm-13.8-3.9l-13.5-3.9-3.3-3.4 13.5 3.9zm-10.2-.6l-13-3.8-3.3-3.4 13 3.9zm-13-3.8l-12.6-3.8-3.3-3.3 12.6 3.7zm-12.6-3.8l-12.2-3.7-3.3-3.3 12.2 3.7z"/>
<path color="#18ffe7" d="M916.8 208.7l-16.8-4.5-3.3-3.3 16.9 4.5zm-13.5-1.1l-16.5-4.5-3.3-3.3 16.5 4.4zm-16.5-4.5l-16-4.3-3.3-3.4 16 4.4zm-16-4.3l-15.6-4.3-3.3-3.3 15.6 4.2zm-12.3-1l-15.2-4.2-3.2-3.3 15.1 4.2zm-15.2-4.2l-14.7-4.1-3.3-3.3 14.8 4.1zm-11.4-.8l-14.3-4-3.3-3.3 14.3 4zm-14.3-4l-13.9-4-3.3-3.3 13.9 4zm-13.9-4l-13.5-3.9-3.2-3.3 13.4 3.9zm-10.2-.5l-13-3.9-3.3-3.3 13 3.8zm-13-3.9l-12.6-3.7-3.3-3.4 12.6 3.8zm-12.6-3.7l-12.2-3.7-3.3-3.3 12.2 3.6z"/>
<path color="#28ffd7" d="M913.6 205.4l-16.9-4.5-3.3-3.3 16.9 4.5zm-13.6-1.2l-16.5-4.4-3.2-3.3 16.4 4.4zm-16.5-4.4l-16-4.4-3.3-3.3 16.1 4.4zm-16-4.4l-15.6-4.2-3.2-3.4 15.5 4.3zm-12.3-.9l-15.1-4.2-3.3-3.3 15.1 4.2zm-15.1-4.2l-14.8-4.1-3.3-3.4 14.8 4.2zm-11.5-.8l-14.3-4-3.3-3.4 14.3 4.1zm-14.3-4l-13.9-4-3.3-3.4 13.9 4zm-13.9-4l-13.4-3.9-3.3-3.4 13.4 3.9zm-10.2-.6l-13-3.8-3.3-3.3 13.1 3.8zm-13-3.8l-12.6-3.8-3.3-3.3 12.6 3.8zm-12.6-3.8l-12.2-3.6-3.2-3.4 12.1 3.7z"/>
<path color="#38ffc7" d="M910.3 202.1l-16.9-4.5-3.2-3.4 16.8 4.5zm-13.6-1.2l-16.4-4.4-3.3-3.4 16.4 4.5zm-16.4-4.4l-16.1-4.4-3.2-3.3 16 4.3zm-16.1-4.4l-15.5-4.3-3.3-3.3 15.6 4.3zm-12.3-.9l-15.1-4.2-3.3-3.4 15.2 4.2zm-15.1-4.2l-14.8-4.2-3.2-3.3 14.7 4.1zm-11.5-.8l-14.3-4.1-3.3-3.3 14.3 4zm-14.3-4.1l-13.9-4-3.2-3.3 13.8 4zm-13.9-4l-13.4-3.9-3.3-3.3 13.5 3.9zm-10.1-.5l-13.1-3.8-3.2-3.4 13 3.8zm-13.1-3.8l-12.6-3.8-3.2-3.3 12.6 3.7zm-12.6-3.8l-12.1-3.7-3.3-3.3 12.2 3.7z"/>
<path color="#48ffb7" d="M907 198.7l-16.8-4.5-3.3-3.3 16.9 4.5zm-13.6-1.1l-16.4-4.5-3.3-3.3 16.5 4.4zm-16.4-4.5l-16-4.3-3.3-3.4 16 4.4zm-16-4.3l-15.6-4.3-3.3-3.4 15.6 4.3zm-12.3-1l-15.2-4.2-3.3-3.3 15.2 4.2zm-15.2-4.2l-14.7-4.1-3.3-3.3 14.7 4.1zm-11.5-.8l-14.3-4-3.2-3.4 14.3 4.1zm-14.3-4l-13.8-4-3.3-3.3 13.9 3.9zm-13.8-4l-13.5-3.9-3.3-3.3 13.5 3.9zm-10.2-.6l-13-3.8-3.3-3.3 13 3.8zm-13-3.8l-12.6-3.7-3.3-3.4 12.6 3.8zm-12.6-3.7l-12.2-3.7-3.3-3.3 12.2 3.6z"/>
<path color="#58ffa7" d="M903.8 195.4l-16.9-4.5-3.3-3.4 16.9 4.5zm-13.6-1.2l-16.5-4.4-3.3-3.4 16.5 4.5zm-16.5-4.4l-16-4.4-3.3-3.3 16 4.3zm-16-4.4l-15.6-4.3-3.3-3.3 15.6 4.3zm-12.3-.9l-15.2-4.2-3.2-3.4 15.1 4.2zm-15.2-4.2l-14.7-4.1-3.3-3.4 14.8 4.1zm-11.4-.8l-14.3-4.1-3.3-3.3 14.3 4.1zm-14.3-4.1l-13.9-3.9-3.3-3.4 13.9 4zm-13.9-3.9l-13.5-3.9-3.2-3.4 13.4 3.9zm-10.2-.6l-13-3.8-3.3-3.4 13 3.9zm-13-3.8l-12.6-3.8-3.3-3.3 12.6 3.7zm-12.6-3.8l-12.2-3.6-3.3-3.4 12.2 3.7z"/>
<path color="#68ff97" d="M900.5 192l-16.9-4.5-3.3-3.3 16.9 4.5zm-13.6-1.1l-16.5-4.5-3.2-3.3 16.4 4.4zm-16.5-4.5l-16-4.3-3.3-3.3 16.1 4.3zm-16-4.3l-15.6-4.3-3.2-3.3 15.5 4.3zm-12.3-1l-15.1-4.2-3.3-3.3 15.1 4.2zm-15.1-4.2l-14.8-4.1-3.3-3.3 14.8 4.1zm-11.5-.7l-14.3-4.1-3.3-3.3 14.3 4zm-14.3-4.1l-13.9-4-3.3-3.3 13.9 4zm-13.9-4l-13.4-3.9-3.3-3.3 13.4 3.9zm-10.2-.5l-13-3.9-3.3-3.3 13.1 3.8zm-13-3.9l-12.6-3.7-3.3-3.3 12.6 3.7zm-12.6-3.7l-12.2-3.7-3.2-3.3 12.1 3.7z"/>
<path color="#78ff87" d="M897.2 188.7l-16.9-4.5-3.2-3.3 16.8 4.5zm-13.6-1.2l-16.4-4.4-3.3-3.3 16.4 4.4zm-16.4-4.4l-16.1-4.3-3.2-3.4 16 4.4zm-16.1-4.3l-15.5-4.3-3.3-3.4 15.6 4.3zm-12.3-1l-15.1-4.2-3.3-3.3 15.2 4.2zm-15.1-4.2l-14.8-4.1-3.2-3.4 14.7 4.2zm-11.5-.8l-14.3-4-3.3-3.4 14.3 4.1zm-14.3-4l-13.9-4-3.2-3.3 13.8 3.9zm-13.9-4l-13.4-3.9-3.3-3.3 13.5 3.9zm-10.1-.6l-13.1-3.8-3.2-3.3 13 3.8zm-13.1-3.8l-12.6-3.7-3.2-3.4 12.6 3.8zm-12.6-3.7l-12.1-3.7-3.3-3.4 12.2 3.7z"/>
<path color="#87ff78" d="M893.9 185.4l-16.8-4.5-3.3-3.4 16.8 4.5zm-13.6-1.2l-16.4-4.4-3.3-3.4 16.5 4.5zm-16.4-4.4l-16-4.4-3.3-3.3 16 4.3zm-16-4.4l-15.6-4.3-3.3-3.3 15.6 4.3zm-12.3-.9l-15.2-4.2-3.3-3.4 15.2 4.2zm-15.2-4.2l-14.7-4.2-3.3-3.3 14.7 4.1zm-11.5-.8l-14.3-4.1-3.2-3.3 14.3 4zm-3.2-3.4l-14.3-4-3.3-3.3 14.3 4zm-11.1-.7l-13.8-3.9-3.3-3.4 13.9 4zm-13.8-3.9l-13.5-3.9-3.3-3.4 13.5 3.9zm-10.2-.6l-13-3.8-3.3-3.4 13 3.9zm-13-3.8l-12.6-3.8-3.3-3.3 12.6 3.7zm-12.6-3.8l-12.2-3.7-3.3-3.3 12.2 3.7z"/>
<path color="#97ff68" d="M890.6 182l-16.8-4.5-3.3-3.3 16.9 4.5zm-13.5-1.1l-16.5-4.5-3.3-3.3 16.5 4.4zm-16.5-4.5l-16-4.3-3.3-3.4 16 4.4zm-16-4.3l-15.6-4.3-3.3-3.3 15.6 4.2zm-12.3-1l-15.2-4.2-3.2-3.3 15.1 4.2zm-15.2-4.2l-14.7-4.1-3.3-3.3 14.8 4.1zm-14.7-4.1l-14.3-4-3.3-3.4 14.3 4.1zm-11-.7l-13.9-4-3.3-3.3 13.9 4zm-13.9-4l-13.5-3.9-3.2-3.3 13.4 3.9zm-10.2-.5l-13-3.9-3.3-3.3 13 3.8zm-13-3.9l-12.6-3.7-3.3-3.4 12.6 3.8zm-12.6-3.7l-12.2-3.7-3.3-3.3 12.2 3.6z"/>
<path color="#a7ff58" d="M887.4 178.7l-16.9-4.5-3.3-3.4 16.9 4.6zm-13.6-1.2l-16.5-4.4-3.2-3.3 16.4 4.4zm-16.5-4.4l-16-4.4-3.3-3.3 16.1 4.4zm-16-4.4l-15.6-4.2-3.2-3.4 15.5 4.3zm-12.3-.9l-15.1-4.2-3.3-3.3 15.1 4.2zm-15.1-4.2l-14.8-4.1-3.3-3.4 14.8 4.2zm-14.8-4.1l-14.3-4.1-3.3-3.3 14.3 4zm-11-.7l-13.9-4-3.3-3.4 13.9 4zm-13.9-4l-13.4-3.9-3.3-3.4 13.4 3.9zm-10.2-.6l-13-3.8-3.3-3.4 13.1 3.9zm-13-3.8l-12.6-3.8-3.3-3.3 12.6 3.7zm-12.6-3.8l-12.2-3.6-3.2-3.4 12.1 3.7z"/>
<path color="#b7ff48" d="M884.1 175.4l-16.9-4.6-3.2-3.3 16.8 4.5zm-13.6-1.2l-16.4-4.4-3.3-3.4 16.4 4.4zm-16.4-4.4l-16.1-4.4-3.2-3.3 16 4.3zm-16.1-4.4l-15.5-4.3-3.3-3.3 15.6 4.3zm-12.3-.9l-15.1-4.2-3.3-3.4 15.2 4.2zm-15.1-4.2l-14.8-4.2-3.2-3.3 14.7 4.1zm-14.8-4.2l-14.3-4-3.2-3.4 14.3 4.1zm-11-.7l-13.9-4-3.2-3.3 13.8 4zm-13.9-4l-13.4-3.9-3.3-3.3 13.5 3.9zm-10.1-.5l-13.1-3.9-3.2-3.3 13 3.8zm-13.1-3.9l-12.6-3.7-3.2-3.3 12.6 3.7zm-12.6-3.7l-12.1-3.7-3.3-3.3 12.2 3.7z"/>
<path color="#c7ff38" d="M880.8 172l-16.8-4.5-3.3-3.3 16.9 4.5zm-13.6-1.2l-16.4-4.4-3.3-3.3 16.5 4.4zm-16.4-4.4l-16-4.3-3.3-3.4 16 4.4zm-16-4.3l-15.6-4.3-3.3-3.4 15.6 4.3zm-12.3-1l-15.2-4.2-3.3-3.3 15.2 4.2zm-15.2-4.2l-14.7-4.1-3.3-3.3 14.7 4.1zm-14.7-4.1l-14.3-4.1-3.3-3.3 14.3 4.1zm-11.1-.7l-13.8-4-3.3-3.3 13.9 3.9zm-13.8-4l-13.5-3.9-3.3-3.3 13.5 3.9zm-10.2-.6l-13-3.8-3.3-3.3 13 3.8zm-13-3.8l-12.6-3.7-3.3-3.4 12.6 3.8zm-12.6-3.7l-12.2-3.7-3.3-3.3 12.2 3.6z"/>
<path color="#d7ff28" d="M877.6 168.7l-16.9-4.5-3.3-3.4 16.9 4.5zm-13.6-1.2l-16.5-4.4-3.3-3.4 16.5 4.5zm-16.5-4.4l-16-4.4-3.3-3.3 16 4.3zm-16-4.4l-15.6-4.3-3.3-3.3 15.6 4.3zm-12.3-.9l-15.2-4.2-3.2-3.4 15.1 4.2zm-15.2-4.2l-14.7-4.1-3.3-3.4 14.8 4.1zm-14.7-4.1l-14.3-4.1-3.3-3.3 14.3 4zm-11-.8l-13.9-3.9-3.3-3.4 13.9 4zm-13.9-3.9l-13.5-3.9-3.2-3.4 13.4 3.9zm-10.2-.6l-13-3.8-3.3-3.4 13 3.9zm-13-3.8l-12.6-3.8-3.3-3.3 12.6 3.7zm-12.6-3.8l-12.2-3.6-3.3-3.4 12.2 3.7z"/>
<path color="#e7ff18" d="M874.3 165.3l-16.9-4.5-3.3-3.3 16.9 4.5zm-13.6-1.1l-16.5-4.5-3.2-3.3 16.4 4.4zm-16.5-4.5l-16-4.3-3.3-3.3 16.1 4.3zm-16-4.3l-15.6-4.3-3.2-3.3 15.5 4.3zm-12.3-1l-15.1-4.2-3.3-3.3 15.1 4.2zm-15.1-4.2l-14.8-4.1-3.3-3.3 14.8 4.1zm-14.8-4.1l-14.3-4-3.3-3.4 14.3 4.1zm-11-.7l-13.9-4-3.3-3.3 13.9 4zm-13.9-4l-13.4-3.9-3.3-3.3 13.4 3.9zm-10.2-.5l-13-3.9-3.3-3.3 13.1 3.8zm-13-3.9l-12.6-3.7-3.3-3.4 12.6 3.8zm-12.6-3.7l-12.2-3.7-3.2-3.3 12.1 3.6z"/>
<path color="#f7ff08" d="M871 162l-16.9-4.5-3.2-3.3 16.8 4.5zm-13.6-1.2l-16.4-4.4-3.3-3.3 16.4 4.4zm-16.4-4.4l-16.1-4.3-3.2-3.4 16 4.4zm-16.1-4.3l-15.5-4.3-3.3-3.4 15.6 4.3zm-12.3-1l-15.1-4.2-3.3-3.3 15.2 4.2zm-15.1-4.2l-14.8-4.1-3.2-3.4 14.7 4.2zm-14.8-4.1l-14.3-4.1-3.2-3.3 14.3 4zm-11-.7l-13.9-4-3.2-3.3 13.8 3.9zm-13.9-4l-13.4-3.9-3.3-3.4 13.5 4zm-10.1-.6l-13.1-3.8-3.2-3.3 13 3.8zm-13.1-3.8l-12.6-3.8-3.2-3.3 12.6 3.8zm-12.6-3.8l-12.1-3.6-3.3-3.4 12.2 3.7z"/>
<path color="#fff700" d="M867.7 158.7l-16.8-4.5-3.3-3.4 16.8 4.5zm-13.6-1.2l-16.4-4.4-3.3-3.4 16.5 4.5zm-16.4-4.4l-16-4.4-3.3-3.3 16 4.3zm-16-4.4l-15.6-4.3-3.3-3.3 15.6 4.3zm-12.3-.9l-15.2-4.2-3.3-3.4 15.2 4.2zm-15.2-4.2l-14.7-4.2-3.3-3.3 14.7 4.1zm-14.7-4.2l-14.3-4-3.3-3.3 14.3 4zm-11.1-.7l-13.8-3.9-3.3-3.4 13.9 4zm-13.8-3.9l-13.5-4-3.3-3.3 13.5 3.9zm-10.2-.6l-13-3.8-3.3-3.4 13 3.8zm-13-3.8l-12.6-3.8-3.3-3.3 12.6 3.7zm-12.6-3.8l-12.2-3.7-3.3-3.3 12.2 3.7z"/>
<path color="#ffe700" d="M864.4 155.3l-16.8-4.5-3.3-3.3 16.9 4.5zm-13.5-1.1l-16.5-4.5-3.3-3.3 16.5 4.4zm-16.5-4.5l-16-4.3-3.3-3.4 16 4.4zm-16-4.3l-15.6-4.3-3.3-3.3 15.6 4.2zm-12.3-1l-15.2-4.2-3.2-3.3 15.1 4.2zm-15.2-4.2l-14.7-4.1-3.3-3.3 14.8 4.1zm-14.7-4.1l-14.3-4-3.3-3.4 14.3 4.1zm-11-.7l-13.9-4-3.3-3.3 13.9 4zm-13.9-4l-13.5-3.9-3.2-3.3 13.4 3.9zm-10.2-.6l-13-3.8-3.3-3.3 13 3.8zm-13-3.8l-12.6-3.7-3.3-3.4 12.6 3.8zm-12.6-3.7l-12.2-3.7-3.3-3.3 12.2 3.6z"/>
<path color="#ffd700" d="M861.2 152l-16.9-4.5-3.3-3.4 16.9 4.6zm-13.6-1.2l-16.5-4.4-3.2-3.3 16.4 4.4zm-16.5-4.4l-16-4.4-3.3-3.3 16.1 4.4zm-16-4.4l-15.6-4.2-3.2-3.4 15.5 4.3zm-12.3-.9l-15.1-4.2-3.3-3.3 15.1 4.2zm-15.1-4.2l-14.8-4.1-3.3-3.4 14.8 4.2zm-14.8-4.1l-14.3-4.1-3.3-3.3 14.3 4zm-11-.7l-13.9-4-3.3-3.4 13.9 4zm-13.9-4l-13.4-3.9-3.3-3.4 13.4 3.9zm-10.2-.6l-13-3.8-3.3-3.4 13.1 3.9zm-13-3.8l-12.6-3.8-3.3-3.3 12.6 3.7zm-12.6-3.8l-12.2-3.6-3.2-3.4 12.1 3.7z"/>
<path color="#ffc700" d="M857.9 148.7l-16.9-4.6-3.2-3.3 16.8 4.5zm-13.6-1.2l-16.4-4.4-3.3-3.4 16.4 4.4zm-16.4-4.4l-16.1-4.4-3.2-3.3 16 4.3zm-16.1-4.4l-15.5-4.3-3.3-3.3 15.6 4.3zm-12.3-.9l-15.1-4.2-3.3-3.4 15.2 4.2zm-15.1-4.2l-14.8-4.2-3.2-3.3 14.7 4.1zm-14.8-4.2l-14.3-4-3.2-3.4 14.3 4.1zm-11-.7l-13.9-4-3.2-3.3 13.8 4zm-13.9-4l-13.4-3.9-3.3-3.3 13.5 3.9zm-10.1-.5l-13.1-3.9-3.2-3.3 13 3.8zm-13.1-3.9l-12.6-3.7-3.2-3.3 12.6 3.7zm-12.6-3.7l-12.1-3.7-3.3-3.3 12.2 3.7z"/>
<path color="#ffb700" d="M854.6 145.3l-16.8-4.5-3.3-3.3 16.9 4.5zm-13.6-1.2l-16.4-4.4-3.3-3.3 16.5 4.4zm-16.4-4.4l-16-4.3-3.3-3.4 16 4.4zm-16-4.3l-15.6-4.3-3.3-3.4 15.6 4.3zm-12.3-1l-15.2-4.2-3.3-3.3 15.2 4.2zm-15.2-4.2l-14.7-4.1-3.3-3.3 14.7 4.1zm-14.7-4.1l-14.3-4.1-3.3-3.3 14.3 4.1zm-11.1-.7l-13.8-4-3.3-3.3 13.9 3.9zm-13.8-4l-13.5-3.9-3.3-3.3 13.5 3.9zm-10.2-.6l-13-3.8-3.3-3.3 13 3.8zm-13-3.8l-12.6-3.7-3.3-3.4 12.6 3.8zm-12.6-3.7l-12.2-3.7-3.3-3.4 12.2 3.7z"/>
<path color="#ffa700" d="M851.4 142l-16.9-4.5-3.3-3.4 16.9 4.5zm-13.6-1.2l-16.5-4.4-3.3-3.4 16.5 4.5zm-16.5-4.4l-16-4.4-3.3-3.3 16 4.3zm-16-4.4l-15.6-4.3-3.3-3.3 15.6 4.3zm-12.3-.9l-15.2-4.2-3.2-3.4 15.1 4.2zm-15.2-4.2l-14.7-4.1-3.3-3.4 14.8 4.1zm-14.7-4.1l-14.3-4.1-3.3-3.3 14.3 4zm-11-.8l-13.9-3.9-3.3-3.4 13.9 4zm-13.9-3.9l-13.5-3.9-3.2-3.4 13.4 3.9zm-10.2-.6l-13-3.8-3.3-3.4 13 3.9zm-13-3.8l-12.6-3.8-3.3-3.3 12.6 3.7zm-12.6-3.8l-12.2-3.7-3.3-3.3 12.2 3.7z"/>
<path color="#ff9700" d="M848.1 138.6l-16.9-4.5-3.3-3.3 16.9 4.5zm-13.6-1.1l-16.5-4.5-3.2-3.3 16.4 4.4zm-16.5-4.5l-16-4.3-3.3-3.3 16.1 4.3zm-16-4.3l-15.6-4.3-3.2-3.3 15.5 4.3zm-12.3-1l-15.1-4.2-3.3-3.3 15.1 4.2zm-15.1-4.2l-14.8-4.1-3.3-3.3 14.8 4.1zm-14.8-4.1l-14.3-4-3.3-3.4 14.3 4.1zm-11-.7l-13.9-4-3.3-3.3 13.9 4zm-13.9-4l-13.4-3.9-3.3-3.3 13.4 3.9zm-10.2-.5l-13-3.9-3.3-3.3 13.1 3.8zm-13-3.9l-12.6-3.7-3.3-3.4 12.6 3.8zm-12.6-3.7l-12.2-3.7-3.2-3.3 12.1 3.6z"/>
<path color="#ff8700" d="M844.8 135.3l-16.9-4.5-3.2-3.3 16.8 4.5zm-13.6-1.2l-16.4-4.4-3.3-3.3 16.4 4.4zm-16.4-4.4l-16.1-4.3-3.2-3.4 16 4.4zm-16.1-4.3l-15.5-4.3-3.3-3.4 15.6 4.3zm-12.3-1l-15.1-4.2-3.3-3.3 15.2 4.2zm-15.1-4.2l-14.8-4.1-3.2-3.4 14.7 4.2zm-14.8-4.1l-14.3-4.1-3.2-3.3 14.3 4zm-11-.7l-13.9-4-3.2-3.4 13.8 4zm-13.9-4l-13.4-3.9-3.3-3.4 13.5 3.9zm-10.1-.6l-13.1-3.8-3.2-3.3 13 3.8zm-13.1-3.8l-12.6-3.8-3.2-3.3 12.6 3.8zm-12.6-3.8l-12.1-3.6-3.3-3.4 12.2 3.7z"/>
<path color="#ff7800" d="M841.5 132l-16.8-4.5-3.3-3.4 16.8 4.5zm-13.6-1.2l-16.4-4.4-3.3-3.4 16.5 4.5zm-16.4-4.4l-16-4.4-3.3-3.3 16 4.3zm-16-4.4l-15.6-4.3-3.3-3.3 15.6 4.3zm-12.3-.9l-15.2-4.2-3.3-3.4 15.2 4.2zm-15.2-4.2l-14.7-4.2-3.3-3.3 14.7 4.1zm-14.7-4.2l-14.3-4-3.3-3.3 14.3 4zm-11.1-.7l-13.8-4-3.3-3.3 13.9 4zm-13.8-4l-13.5-3.9-3.3-3.3 13.5 3.9zm-10.2-.5l-13-3.8-3.3-3.4 13 3.8zm-13-3.8l-12.6-3.8-3.3-3.3 12.6 3.7zm-12.6-3.8l-12.2-3.7-3.3-3.3 12.2 3.7z"/>
<path color="#ff6800" d="M838.2 128.6l-16.8-4.5-3.3-3.3 16.9 4.5zm-13.5-1.1l-16.5-4.5-3.3-3.3 16.5 4.4zm-3.3-3.4l-16.5-4.4-3.2-3.3 16.4 4.4zm-13.2-1.1l-16-4.3-3.3-3.4 16 4.4zm-16-4.3l-15.6-4.3-3.3-3.3 15.6 4.2zm-12.3-1l-15.2-4.2-3.2-3.3 15.1 4.2zm-15.2-4.2l-14.7-4.1-3.3-3.3 14.8 4.1zm-14.7-4.1l-14.3-4-3.3-3.4 14.3 4.1zm-11-.7l-13.9-4-3.3-3.3 13.9 4zm-13.9-4l-13.5-3.9-3.2-3.3 13.4 3.9zm-10.2-.6l-13-3.8-3.3-3.3 13 3.8zm-3.3-3.3l-13-3.8-3.3-3.4 13.1 3.9zm-9.7-.5l-12.6-3.7-3.3-3.4 12.6 3.8zm-12.6-3.7l-12.2-3.7-3.3-3.3 12.2 3.6z"/>
<path color="#ff5800" d="M835 125.3l-16.9-4.5-3.3-3.4 16.9 4.6zm-16.9-4.5l-16.4-4.4-3.3-3.4 16.4 4.4zm-13.2-1.1l-16-4.4-3.3-3.3 16.1 4.4zm-16-4.4l-15.6-4.2-3.2-3.4 15.5 4.3zm-12.3-.9l-15.1-4.2-3.3-3.3 15.1 4.2zm-15.1-4.2l-14.8-4.1-3.3-3.4 14.8 4.2zm-14.8-4.1l-14.3-4.1-3.3-3.3 14.3 4zm-11-.7l-13.9-4-3.3-3.4 13.9 4zm-13.9-4l-13.4-3.9-3.3-3.4 13.4 3.9zm-13.4-3.9l-13.1-3.9-3.2-3.3 13 3.8zm-9.8-.5l-12.6-3.8-3.3-3.3 12.6 3.7zm-12.6-3.8l-12.2-3.6-3.2-3.4 12.1 3.7z"/>
<path color="#ff4800" d="M831.7 122l-16.9-4.6-3.2-3.3 16.8 4.5zm-16.9-4.6l-16.4-4.4-3.3-3.3 16.5 4.4zm-13.1-1l-16.1-4.4-3.2-3.3 16 4.3zm-16.1-4.4l-15.5-4.3-3.3-3.3 15.6 4.3zm-12.3-.9l-15.1-4.2-3.3-3.4 15.2 4.2zm-15.1-4.2l-14.8-4.2-3.2-3.3 14.7 4.1zm-14.8-4.2l-14.3-4-3.2-3.4 14.3 4.1zm-11-.7l-13.9-4-3.2-3.3 13.8 4zm-13.9-4l-13.4-3.9-3.3-3.3 13.5 3.9zm-13.4-3.9l-13-3.8-3.3-3.3 13 3.8zm-9.8-.5l-12.6-3.7-3.2-3.3 12.6 3.7zm-12.6-3.7l-12.1-3.7-3.3-3.3 12.2 3.7z"/>
<path color="#ff3800" d="M828.4 118.6l-16.8-4.5-3.3-3.3 16.9 4.5zm-16.8-4.5l-16.5-4.4-3.3-3.4 16.5 4.5zm-13.2-1.1l-16-4.3-3.3-3.4 16 4.4zm-16-4.3l-15.6-4.3-3.3-3.4 15.6 4.3zm-12.3-1l-15.2-4.2-3.3-3.3 15.2 4.2zm-15.2-4.2l-14.7-4.1-3.3-3.3 14.7 4.1zm-14.7-4.1l-14.3-4.1-3.3-3.3 14.3 4.1zm-11.1-.7l-13.8-4-3.3-3.3 13.9 3.9zm-13.8-4l-13.5-3.9-3.3-3.3 13.5 3.9zm-13.5-3.9l-13-3.8-3.3-3.4 13 3.9zm-9.7-.5l-12.6-3.7-3.3-3.4 12.6 3.8zm-12.6-3.7l-12.2-3.7-3.3-3.4 12.2 3.7z"/>
<path color="#ff2800" d="M825.2 115.3l-16.9-4.5-3.3-3.4 16.9 4.5zm-16.9-4.5l-16.5-4.5-3.2-3.3 16.4 4.4zm-13.2-1.1l-16-4.4-3.3-3.3 16 4.3zm-16-4.4l-15.6-4.3-3.3-3.3 15.6 4.3zm-12.3-.9l-15.2-4.2-3.2-3.4 15.1 4.2zm-15.2-4.2l-14.7-4.1-3.3-3.4 14.8 4.1zm-14.7-4.1l-14.3-4.1-3.3-3.3 14.3 4zm-11-.8l-13.9-3.9-3.3-3.4 13.9 4zm-13.9-3.9l-13.5-3.9-3.2-3.4 13.4 3.9zm-13.5-3.9l-13-3.9-3.3-3.3 13.1 3.8zm-9.7-.5l-12.6-3.8-3.3-3.3 12.6 3.7zm-12.6-3.8l-12.2-3.7-3.3-3.3 12.2 3.7z"/>
<path color="#ff1800" d="M821.9 111.9l-16.9-4.5-3.3-3.3 16.9 4.5zm-16.9-4.5l-16.4-4.4-3.3-3.3 16.4 4.4zm-13.2-1.1l-16-4.3-3.3-3.4 16.1 4.4zm-16-4.3l-15.6-4.3-3.2-3.3 15.5 4.2zm-12.3-1l-15.1-4.2-3.3-3.3 15.1 4.2zm-15.1-4.2l-14.8-4.1-3.3-3.3 14.8 4.1zm-14.8-4.1l-14.3-4-3.3-3.4 14.3 4.1zm-11-.7l-13.9-4-3.3-3.3 13.9 4zm-13.9-4l-13.4-3.9-3.3-3.3 13.4 3.9zm-13.4-3.9l-13.1-3.8-3.2-3.3 13 3.8zm-9.8-.5l-12.6-3.7-3.3-3.4 12.6 3.8zm-12.6-3.7l-12.2-3.7-3.2-3.3 12.1 3.6z"/>
<path color="#ff0800" d="M818.6 108.6l-16.9-4.5-3.2-3.3 16.8 4.5zm-16.9-4.5l-16.4-4.4-3.3-3.4 16.5 4.5zm-13.1-1.1l-16.1-4.4-3.2-3.3 16 4.4zm-16.1-4.4l-15.5-4.2-3.3-3.4 15.6 4.3zm-12.3-.9l-15.1-4.2-3.3-3.3 15.2 4.2zm-15.1-4.2l-14.8-4.1-3.2-3.4 14.7 4.2zm-14.8-4.1l-14.3-4.1-3.2-3.3 14.3 4zm-11-.7l-13.9-4-3.2-3.4 13.8 4zm-13.9-4l-13.4-3.9-3.3-3.4 13.5 3.9zm-13.4-3.9l-13-3.8-3.3-3.4 13 3.8zm-9.8-.5l-12.6-3.8-3.2-3.3 12.6 3.8zm-12.6-3.8l-12.1-3.6-3.3-3.4 12.2 3.7z"/>
<path color="#f70000" d="M815.3 105.3l-16.8-4.5-3.3-3.4 16.8 4.5zm-16.8-4.5l-16.5-4.5-3.3-3.3 16.5 4.4zm-13.2-1.1l-16-4.4-3.3-3.3 16 4.3zm-16-4.4l-15.6-4.3-3.3-3.3 15.6 4.3zm-12.3-.9l-15.2-4.2-3.3-3.4 15.2 4.2zm-15.2-4.2l-14.7-4.2-3.3-3.3 14.7 4.1zm-14.7-4.2l-14.3-4-3.3-3.4 14.3 4.1zm-11.1-.7l-13.8-4-3.3-3.3 13.9 4zm-13.8-4l-13.5-3.9-3.3-3.3 13.5 3.9zm-13.5-3.9l-13-3.8-3.3-3.3 13 3.8zm-9.7-.4l-12.6-3.8-3.3-3.3 12.6 3.7zm-12.6-3.8l-12.2-3.7-3.3-3.3 12.2 3.7z"/>
<path color="#e70000" d="M812 101.9l-16.8-4.5-3.3-3.3 16.9 4.5zm-16.8-4.5l-16.5-4.4-3.2-3.3 16.4 4.4zm-13.2-1.1l-16-4.3-3.3-3.4 16 4.4zm-16-4.3l-15.6-4.3-3.3-3.3 15.6 4.2zm-12.3-1l-15.2-4.2-3.2-3.3 15.1 4.2zm-15.2-4.2l-14.7-4.1-3.3-3.3 14.8 4.1zm-14.7-4.1l-14.3-4.1-3.3-3.3 14.3 4.1zm-11-.7l-13.9-4-3.3-3.3 13.9 3.9zm-13.9-4l-13.5-3.9-3.2-3.3 13.4 3.9zm-13.5-3.9l-13-3.8-3.3-3.4 13.1 3.9zm-9.7-.5l-12.6-3.7-3.3-3.4 12.6 3.8zm-12.6-3.7l-12.2-3.7-3.3-3.3 12.2 3.6z"/>
<path color="#d70000" d="M808.8 98.6l-16.9-4.5-3.3-3.4 16.9 4.6zm-16.9-4.5l-16.4-4.4-3.3-3.4 16.4 4.4zm-13.2-1.1l-16-4.4-3.3-3.3 16.1 4.4zm-16-4.4l-15.6-4.2-3.2-3.4 15.5 4.3zm-12.3-.9l-15.1-4.2-3.3-3.3 15.1 4.2zm-15.1-4.2l-14.8-4.1-3.3-3.4 14.8 4.2zm-14.8-4.1l-14.3-4.1-3.3-3.3 14.3 4zm-11-.8l-13.9-3.9-3.3-3.4 13.9 4zm-13.9-3.9l-13.4-3.9-3.3-3.4 13.4 3.9zm-13.4-3.9l-13.1-3.9-3.2-3.3 13 3.8zm-9.8-.5l-12.6-3.8-3.3-3.3 12.6 3.7zm-12.6-3.8l-12.2-3.6-3.2-3.4 12.1 3.7z"/>
<path color="#c70000" d="M775.5 89.7l-16.1-4.4-3.2-3.3 16 4.3zm-16.1-4.4l-15.5-4.3-3.3-3.3 15.6 4.3zm-12.3-.9l-15.1-4.2-3.3-3.4 15.2 4.2zm-15.1-4.2l-14.8-4.2-3.2-3.3 14.7 4.1zm-14.8-4.2l-14.3-4-3.2-3.4 14.3 4.1zm-11-.7l-13.9-4-3.2-3.3 13.8 4zm-13.9-4l-13.4-3.9-3.3-3.3 13.5 3.9zm-13.4-3.9l-13-3.8-3.3-3.3 13 3.8zm-9.8-.5l-12.6-3.7-3.2-3.3 12.6 3.7zm-12.6-3.7l-12.1-3.7-3.3-3.3 12.2 3.7z"/>
<path color="#b70000" d="M743.9 81l-15.2-4.2-3.3-3.3 15.2 4.2zm-15.2-4.2l-14.7-4.1-3.3-3.3 14.7 4.1zm-14.7-4.1l-14.3-4.1-3.3-3.3 14.3 4.1zm-11.1-.7l-13.8-4-3.3-3.3 13.9 3.9zm-13.8-4l-13.5-3.9-3.3-3.3 13.5 3.9zm-13.5-3.9l-13-3.8-3.3-3.4 13 3.9zm-9.7-.5l-12.6-3.7-3.3-3.4 12.6 3.8zm-12.6-3.7l-12.2-3.7-3.3-3.4 12.2 3.7z"/>
<path color="#a70000" d="M699.7 68.6l-13.9-3.9-3.3-3.4 13.9 4zm-13.9-3.9l-13.5-3.9-3.2-3.4 13.4 3.9zm-13.5-3.9l-13-3.9-3.3-3.3 13.1 3.8zm-9.7-.5l-12.6-3.8-3.3-3.3 12.6 3.7zm-12.6-3.8l-12.2-3.7-3.3-3.3 12.2 3.7z"/>
<path color="#970000" d="M659.3 56.9l-12.6-3.7-3.3-3.4 12.6 3.8zm-12.6-3.7l-12.2-3.7-3.2-3.3 12.1 3.6z"/>
</g>
<g fill="none" stroke="#000" stroke-linejoin="round">
<path stroke-width="0.5" d="M998.7 292.2l-16.8-4.5-16.5-4.5-16-4.3-15.6-4.3-15.1-4.2-14.8-4.1-14.3-4.1-13.9-4-13.4-3.9-13-3.8-12.6-3.7-12.2-3.7M995.4 288.8l-16.8-4.5-16.5-4.4-16-4.4-15.6-4.2-15.1-4.2-14.8-4.2-14.3-4-13.8-4-13.5-3.9-13-3.8-12.6-3.8-12.2-3.6M992.2 285.5l-16.9-4.5-16.4-4.4-16.1-4.4-15.5-4.3-15.2-4.2-14.7-4.1-14.3-4.1-13.9-3.9-13.5-3.9-13-3.9-12.6-3.7-12.2-3.7M988.9 282.2l-16.9-4.5-16.4-4.5-16-4.3-15.6-4.3-15.2-4.2-14.7-4.1-14.3-4.1-13.9-4-13.4-3.9-13.1-3.8-12.6-3.7-12.1-3.7M985.6 278.8l-16.8-4.5-16.5-4.4-16-4.4-15.6-4.2-15.1-4.3-14.8-4.1-14.3-4-13.9-4-13.4-3.9-13-3.8-12.6-3.8-12.2-3.7M982.4 275.5l-16.9-4.5-16.5-4.5-16-4.3-15.6-4.3-15.1-4.2-14.8-4.1-14.3-4.1-13.8-3.9-13.5-3.9-13-3.9-12.6-3.7-12.2-3.7M979.1 272.1l-16.9-4.5-16.4-4.4-16.1-4.3-15.5-4.3-15.2-4.2-14.7-4.2-14.3-4-13.9-4-13.5-3.9-13-3.8-12.6-3.8-12.2-3.6M975.8 268.8l-16.9-4.5-16.4-4.4-16-4.4-15.6-4.3-15.2-4.2-14.7-4.1-14.3-4-13.9-4-13.4-3.9-13.1-3.8-12.6-3.8-12.1-3.7M972.5 265.5l-16.8-4.5-16.5-4.5-16-4.3-15.6-4.3-15.1-4.2-14.8-4.1-14.3-4.1-13.9-4-13.4-3.9-13-3.8-12.6-3.7-12.2-3.7M969.2 262.1l-16.8-4.5-16.5-4.4-16-4.4-15.6-4.2-15.1-4.2-14.8-4.2-14.3-4-13.8-4-13.5-3.9-13-3.8-12.6-3.8-12.2-3.6M966 258.8l-16.9-4.5-16.4-4.4-16.1-4.4-15.5-4.3-15.2-4.2-14.7-4.1-14.3-4.1-13.9-3.9-13.5-3.9-13-3.9-12.6-3.7-12.2-3.7M962.7 255.5l-16.9-4.5-16.4-4.5-16-4.3-15.6-4.3-15.2-4.2-14.7-4.1-14.3-4.1-13.9-4-13.4-3.9-13.1-3.8-12.6-3.7-12.1-3.7M959.4 252.1l-16.8-4.5-16.5-4.4-16-4.4-15.6-4.2-15.1-4.3-14.8-4.1-14.3-4-13.9-4-13.4-3.9-13-3.8-12.6-3.8-12.2-3.7M956.2 248.8l-16.9-4.5-16.5-4.5-16-4.3-15.6-4.3-15.1-4.2-14.8-4.1-14.3-4.1-13.8-3.9-13.5-3.9-13-3.9-12.6-3.7-12.2-3.7M952.9 245.4l-16.9-4.5-16.4-4.4-16.1-4.3-15.5-4.3-15.2-4.2-14.7-4.2-14.3-4-13.9-4-13.5-3.9-13-3.8-12.6-3.8-12.2-3.6M949.6 242.1l-16.9-4.5-16.4-4.4-16-4.4-15.6-4.3-15.2-4.2-14.7-4.1-14.3-4-13.9-4-13.4-3.9-13.1-3.8-12.6-3.8-12.1-3.7M946.3 238.8l-16.8-4.5-16.5-4.5-16-4.3-15.6-4.3-15.1-4.2-14.8-4.1-14.3-4.1-13.9-4-13.4-3.9-13-3.8-12.6-3.7-12.2-3.7M943 235.4l-16.8-4.5-16.5-4.4-16-4.4-15.6-4.2-15.1-4.2-14.8-4.2-14.3-4-13.8-4-13.5-3.9-13-3.8-12.6-3.8-12.2-3.6M939.8 232.1l-16.9-4.5-16.4-4.4-16.1-4.4-15.5-4.3-15.2-4.2-14.7-4.1-14.3-4.1-13.9-3.9-13.5-3.9-13-3.9-12.6-3.7-12.2-3.7M936.5 228.8l-16.9-4.5-16.4-4.5-16-4.3-15.6-4.3-15.2-4.2-14.7-4.1-14.3-4.1-13.9-4-13.4-3.9-13.1-3.8-12.6-3.7-12.1-3.7M933.2 225.4l-16.8-4.5-16.5-4.4-16-4.4-15.6-4.2-15.1-4.3-14.8-4.1-14.3-4-13.9-4-13.4-3.9-13-3.8-12.6-3.8-12.2-3.7M930 222.1l-16.9-4.5-16.5-4.5-16-4.3-15.6-4.3-15.1-4.2-14.8-4.1-14.3-4.1-13.8-3.9-13.5-3.9-13-3.9-12.6-3.7-12.2-3.7M926.7 218.7l-16.9-4.5-16.4-4.4-16.1-4.3-15.5-4.3-15.2-4.2-14.7-4.2-14.3-4-13.9-4-13.5-3.9-13-3.8-12.6-3.8-12.2-3.6M923.4 215.4l-16.9-4.5-16.4-4.4-16-4.4-15.6-4.3-15.2-4.2-14.7-4.1-14.3-4-13.9-4-13.4-3.9-13.1-3.8-12.6-3.8-12.1-3.7M920.1 212.1l-16.8-4.5-16.5-4.5-16-4.3-15.6-4.3-15.1-4.2-14.8-4.1-14.3-4.1-13.9-4-13.4-3.9-13-3.8-12.6-3.7-12.2-3.7M916.8 208.7l-16.8-4.5-16.5-4.4-16-4.4-15.6-4.2-15.1-4.2-14.8-4.2-14.3-4-13.8-4-13.5-3.9-13-3.8-12.6-3.8-12.2-3.6M913.6 205.4l-16.9-4.5-16.4-4.4-16.1-4.4-15.5-4.3-15.2-4.2-14.7-4.1-14.3-4.1-13.9-3.9-13.5-3.9-13-3.9-12.6-3.7-12.2-3.7M910.3 202.1l-16.9-4.5-16.4-4.5-16-4.3-15.6-4.3-15.2-4.2-14.7-4.1-14.3-4.1-13.9-4-13.4-3.9-13.1-3.8-12.6-3.7-12.1-3.7M907 198.7l-16.8-4.5-16.5-4.4-16-4.4-15.6-4.3-15.1-4.2-14.8-4.1-14.3-4-13.9-4-13.4-3.9-13-3.8-12.6-3.8-12.2-3.7M903.8 195.4l-16.9-4.5-16.5-4.5-16-4.3-15.6-4.3-15.1-4.2-14.8-4.1-14.3-4.1-13.8-3.9-13.5-3.9-13-3.9-12.6-3.7-12.2-3.7M900.5 192l-16.9-4.5-16.4-4.4-16.1-4.3-15.5-4.3-15.2-4.2-14.7-4.2-14.3-4-13.9-4-13.5-3.9-13-3.8-12.6-3.8-12.2-3.6M897.2 188.7l-16.9-4.5-16.4-4.4-16-4.4-15.6-4.3-15.2-4.2-14.7-4.1-14.3-4-13.9-4-13.4-3.9-13.1-3.9-12.6-3.7-12.1-3.7M893.9 185.4l-16.8-4.5-16.5-4.5-16-4.3-15.6-4.3-15.1-4.2-14.8-4.1-14.3-4.1-13.9-4-13.4-3.9-13-3.8-12.6-3.7-12.2-3.7M890.6 182l-16.8-4.5-16.5-4.4-16-4.4-15.6-4.2-15.1-4.2-14.8-4.2-14.3-4-13.8-4-13.5-3.9-13-3.8-12.6-3.8-12.2-3.6M887.4 178.7l-16.9-4.5-16.4-4.4-16.1-4.4-15.5-4.3-15.2-4.2-14.7-4.1-14.3-4.1-13.9-3.9-13.5-3.9-13-3.9-12.6-3.7-12.2-3.7M884.1 175.4l-16.9-4.6-16.4-4.4-16-4.3-15.6-4.3-15.2-4.2-14.7-4.1-14.3-4.1-13.9-4-13.4-3.9-13.1-3.8-12.6-3.8-12.1-3.6M880.8 172l-16.8-4.5-16.5-4.4-16-4.4-15.6-4.3-15.1-4.2-14.8-4.1-14.3-4-13.9-4-13.4-3.9-13-3.8-12.6-3.8-12.2-3.7M877.6 168.7l-16.9-4.5-16.5-4.5-16-4.3-15.6-4.3-15.1-4.2-14.8-4.1-14.3-4.1-13.8-3.9-13.5-4-13-3.8-12.6-3.7-12.2-3.7M874.3 165.3l-16.9-4.5-16.4-4.4-16.1-4.3-15.5-4.3-15.2-4.2-14.7-4.2-14.3-4-13.9-4-13.5-3.9-13-3.8-12.6-3.8-12.2-3.6M871 162l-16.9-4.5-16.4-4.4-16-4.4-15.6-4.3-15.2-4.2-14.7-4.1-14.3-4-13.9-4-13.4-3.9-13.1-3.9-12.6-3.7-12.1-3.7M867.7 158.7l-16.8-4.5-16.5-4.5-16-4.3-15.6-4.3-15.1-4.2-14.8-4.1-14.3-4.1-13.9-4-13.4-3.9-13-3.8-12.6-3.7-12.2-3.7M864.4 155.3l-16.8-4.5-16.5-4.4-16-4.4-15.6-4.2-15.1-4.2-14.8-4.2-14.3-4-13.8-4-13.5-3.9-13-3.8-12.6-3.8-12.2-3.7M861.2 152l-16.9-4.5-16.4-4.4-16.1-4.4-15.5-4.3-15.2-4.2-14.7-4.1-14.3-4.1-13.9-3.9-13.5-3.9-13-3.9-12.6-3.7-12.2-3.7M857.9 148.7l-16.9-4.6-16.4-4.4-16-4.3-15.6-4.3-15.2-4.2-14.7-4.1-14.3-4.1-13.9-4-13.4-3.9-13.1-3.8-12.6-3.8-12.1-3.6M854.6 145.3l-16.8-4.5-16.5-4.4-16-4.4-15.6-4.3-15.1-4.2-14.8-4.1-14.3-4-13.9-4-13.4-3.9-13-3.8-12.6-3.8-12.2-3.7M851.4 142l-16.9-4.5-16.5-4.5-16-4.3-15.6-4.3-15.1-4.2-14.8-4.1-14.3-4.1-13.8-4-13.5-3.9-13-3.8-12.6-3.7-12.2-3.7M848.1 138.6l-16.9-4.5-16.4-4.4-16.1-4.3-15.5-4.3-15.2-4.2-14.7-4.2-14.3-4-13.9-4-13.5-3.9-13-3.8-12.6-3.8-12.2-3.6M844.8 135.3l-16.9-4.5-16.4-4.4-16-4.4-15.6-4.3-15.2-4.2-14.7-4.1-14.3-4-13.9-4-13.4-3.9-13.1-3.9-12.6-3.7-12.1-3.7M841.5 132l-16.8-4.5-16.5-4.5-16-4.3-15.6-4.3-15.1-4.2-14.8-4.1-14.3-4.1-13.9-4-13.4-3.9-13-3.8-12.6-3.7-12.2-3.7M838.2 128.6l-16.8-4.5-16.5-4.4-16-4.4-15.6-4.2-15.1-4.2-14.8-4.2-14.3-4-13.8-4-13.5-3.9-13-3.8-12.6-3.8-12.2-3.7M835 125.3l-16.9-4.5-16.4-4.4-16.1-4.4-15.5-4.3-15.2-4.2-14.7-4.1-14.3-4.1-13.9-3.9-13.5-3.9-13-3.9-12.6-3.7-12.2-3.7M831.7 122l-16.9-4.6-16.4-4.4-16-4.3-15.6-4.3-15.2-4.2-14.7-4.1-14.3-4.1-13.9-4-13.4-3.9-13.1-3.8-12.6-3.8-12.1-3.6M828.4 118.6l-16.8-4.5-16.5-4.4-16-4.4-15.6-4.3-15.1-4.2-14.8-4.1-14.3-4-13.9-4-13.4-3.9-13-3.8-12.6-3.8-12.2-3.7M825.2 115.3l-16.9-4.5-16.5-4.5-16-4.3-15.6-4.3-15.1-4.2-14.8-4.1-14.3-4.1-13.8-4-13.5-3.9-13-3.8-12.6-3.7-12.2-3.7M821.9 111.9l-16.9-4.5-16.4-4.4-16.1-4.4-15.5-4.2-15.2-4.2-14.7-4.2-14.3-4-13.9-4-13.5-3.9-13-3.8-12.6-3.8-12.2-3.6M818.6 108.6l-16.9-4.5-16.4-4.4-16-4.4-15.6-4.3-15.2-4.2-14.7-4.1-14.3-4.1-13.9-3.9-13.4-3.9-13.1-3.9-12.6-3.7-12.1-3.7M815.3 105.3l-16.8-4.5-16.5-4.5-16-4.3-15.6-4.3-15.1-4.2-14.8-4.1-14.3-4.1-13.9-4-13.4-3.9-13-3.8-12.6-3.7-12.2-3.7M812 101.9l-16.8-4.5-16.5-4.4-16-4.4-15.6-4.2-15.1-4.2-14.8-4.2-14.3-4-13.8-4-13.5-3.9-13-3.8-12.6-3.8-12.2-3.7M808.8 98.6l-16.9-4.5-16.4-4.4-16.1-4.4-15.5-4.3-15.2-4.2-14.7-4.1-14.3-4.1-13.9-3.9-13.5-3.9-13-3.9-12.6-3.7-12.2-3.7"/>
<path stroke-width="0.65" d="M985.1 291l-3.2-3.3-3.3-3.4-3.3-3.3-3.3-3.3-3.2-3.4-3.3-3.3-3.3-3.4-3.3-3.3-3.2-3.3-3.3-3.4-3.3-3.3-3.3-3.3-3.2-3.4-3.3-3.3-3.3-3.4-3.3-3.3-3.2-3.3-3.3-3.4-3.3-3.3-3.3-3.3-3.2-3.4-3.3-3.3-3.3-3.4-3.3-3.3-3.2-3.3-3.3-3.4-3.3-3.3-3.3-3.3-3.2-3.4-3.3-3.3-3.3-3.4-3.3-3.3-3.2-3.3-3.3-3.4-3.3-3.3-3.3-3.4-3.2-3.3-3.3-3.3-3.3-3.4-3.3-3.3-3.2-3.3-3.3-3.4-3.3-3.3-3.3-3.4-3.2-3.3-3.3-3.3-3.3-3.4-3.3-3.3-3.2-3.3-3.3-3.4-3.3-3.3-3.3-3.4-3.2-3.3-3.3-3.3-3.3-3.4-3.3-3.3-3.2-3.3-3.3-3.4-3.3-3.3-3.3-3.4M968.7 286.6l-3.3-3.4-3.3-3.3-3.2-3.3-3.3-3.4-3.3-3.3-3.3-3.4-3.2-3.3-3.3-3.3-3.3-3.4-3.3-3.3-3.2-3.3-3.3-3.4-3.3-3.3-3.3-3.4-3.2-3.3-3.3-3.3-3.3-3.4-3.3-3.3-3.2-3.3-3.3-3.4-3.3-3.3-3.3-3.4-3.2-3.3-3.3-3.3-3.3-3.4-3.3-3.3-3.2-3.3-3.3-3.4-3.3-3.3-3.3-3.4-3.2-3.3-3.3-3.3-3.3-3.4-3.3-3.3-3.2-3.3-3.3-3.4-3.3-3.3-3.3-3.4-3.2-3.3-3.3-3.3-3.3-3.4-3.3-3.3-3.2-3.3-3.3-3.4-3.3-3.3-3.3-3.4-3.2-3.3-3.3-3.3-3.3-3.4-3.3-3.3-3.2-3.3-3.3-3.4-3.3-3.3-3.3-3.4-3.2-3.3-3.3-3.3-3.3-3.4-3.3-3.3-3.2-3.3-3.3-3.4M952.7 282.2l-3.3-3.3-3.3-3.4-3.3-3.3-3.2-3.3-3.3-3.4-3.3-3.3-3.3-3.3-3.2-3.4-3.3-3.3-3.3-3.4-3.3-3.3-3.2-3.3-3.3-3.4-3.3-3.3-3.3-3.3-3.2-3.4-3.3-3.3-3.3-3.4-3.3-3.3-3.2-3.3-3.3-3.4-3.3-3.3-3.3-3.3-3.2-3.4-3.3-3.3-3.3-3.4-3.3-3.3-3.2-3.3-3.3-3.4-3.3-3.3-3.3-3.3-3.2-3.4-3.3-3.3-3.3-3.4-3.3-3.3-3.2-3.3-3.3-3.4-3.3-3.3-3.3-3.3-3.2-3.4-3.3-3.3-3.3-3.4-3.3-3.3-3.2-3.3-3.3-3.4-3.3-3.3-3.3-3.3-3.2-3.4-3.3-3.3-3.3-3.4-3.3-3.3-3.2-3.3-3.3-3.4-3.3-3.3-3.3-3.4-3.2-3.3-3.3-3.3-3.3-3.4-3.3-3.3-3.2-3.3M937.1 277.9l-3.3-3.3-3.3-3.3-3.2-3.4-3.3-3.3-3.3-3.3-3.3-3.4-3.2-3.3-3.3-3.4-3.3-3.3-3.3-3.3-3.2-3.4-3.3-3.3-3.3-3.3-3.3-3.4-3.2-3.3-3.3-3.4-3.3-3.3-3.3-3.3-3.2-3.4-3.3-3.3-3.3-3.3-3.3-3.4-3.2-3.3-3.3-3.4-3.3-3.3-3.3-3.3-3.2-3.4-3.3-3.3-3.3-3.4-3.3-3.3-3.2-3.3-3.3-3.4-3.3-3.3-3.3-3.3-3.2-3.4-3.3-3.3-3.3-3.4-3.3-3.3-3.2-3.3-3.3-3.4-3.3-3.3-3.3-3.3-3.2-3.4-3.3-3.3-3.3-3.4-3.3-3.3-3.2-3.3-3.3-3.4-3.3-3.3-3.3-3.3-3.2-3.4-3.3-3.3-3.3-3.4-3.3-3.3-3.2-3.3-3.3-3.4-3.3-3.3-3.3-3.3-3.2-3.4-3.3-3.3M921.9 273.7l-3.2-3.3-3.3-3.3-3.3-3.4-3.3-3.3-3.2-3.4-3.3-3.3-3.3-3.3-3.3-3.4-3.2-3.3-3.3-3.3-3.3-3.4-3.3-3.3-3.2-3.4-3.3-3.3-3.3-3.3-3.3-3.4-3.2-3.3-3.3-3.3-3.3-3.4-3.3-3.3-3.2-3.4-3.3-3.3-3.3-3.3-3.3-3.4-3.2-3.3-3.3-3.3-3.3-3.4-3.3-3.3-3.2-3.4-3.3-3.3-3.3-3.3-3.3-3.4-3.2-3.3-3.3-3.3-3.3-3.4-3.3-3.3-3.2-3.4-3.3-3.3-3.3-3.3-3.3-3.4-3.2-3.3-3.3-3.3-3.3-3.4-3.3-3.3-3.2-3.4-3.3-3.3-3.3-3.3-3.3-3.4-3.2-3.3-3.3-3.3-3.3-3.4-3.3-3.3-3.2-3.4-3.3-3.3-3.3-3.3-3.3-3.4-3.2-3.3-3.3-3.3-3.3-3.4-3.3-3.3M907.2 269.6l-3.3-3.3-3.3-3.4-3.2-3.3-3.3-3.3-3.3-3.4-3.3-3.3-3.2-3.4-3.3-3.3-3.3-3.3-3.3-3.4-3.2-3.3-3.3-3.3-3.3-3.4-3.3-3.3-3.2-3.4-3.3-3.3-3.3-3.3-3.3-3.4-3.2-3.3-3.3-3.3-3.3-3.4-3.3-3.3-3.2-3.4-3.3-3.3-3.3-3.3-3.3-3.4-3.2-3.3-3.3-3.3-3.3-3.4-3.3-3.3-3.2-3.4-3.3-3.3-3.3-3.3-3.3-3.4-3.2-3.3-3.3-3.3-3.3-3.4-3.3-3.3-3.2-3.4-3.3-3.3-3.3-3.3-3.3-3.4-3.2-3.3-3.3-3.3-3.3-3.4-3.3-3.3-3.2-3.4-3.3-3.3-3.3-3.3-3.3-3.4-3.2-3.3-3.3-3.3-3.3-3.4-3.3-3.3-3.2-3.4-3.3-3.3-3.3-3.3-3.3-3.4-3.2-3.3-3.3-3.3M892.9 265.6l-3.3-3.4-3.3-3.3-3.2-3.4-3.3-3.3-3.3-3.3-3.3-3.4-3.2-3.3-3.3-3.3-3.3-3.4-3.3-3.3-3.2-3.4-3.3-3.3-3.3-3.3-3.3-3.4-3.2-3.3-3.3-3.3-3.3-3.4-3.3-3.3-3.2-3.4-3.3-3.3-3.3-3.3-3.3-3.4-3.2-3.3-3.3-3.3-3.3-3.4-3.3-3.3-3.2-3.4-3.3-3.3-3.3-3.3-3.3-3.4-3.2-3.3-3.3-3.3-3.3-3.4-3.3-3.3-3.2-3.4-3.3-3.3-3.3-3.3-3.3-3.4-3.2-3.3-3.3-3.3-3.3-3.4-3.3-3.3-3.2-3.4-3.3-3.3-3.3-3.3-3.3-3.4-3.2-3.3-3.3-3.3-3.3-3.4-3.3-3.3-3.2-3.4-3.3-3.3-3.3-3.3-3.3-3.4-3.2-3.3-3.3-3.4-3.3-3.3-3.3-3.3-3.2-3.4-3.3-3.3M879 261.6l-3.3-3.4-3.2-3.3-3.3-3.3-3.3-3.4-3.3-3.3-3.2-3.3-3.3-3.4-3.3-3.3-3.3-3.4-3.2-3.3-3.3-3.3-3.3-3.4-3.3-3.3-3.2-3.3-3.3-3.4-3.3-3.3-3.3-3.4-3.2-3.3-3.3-3.3-3.3-3.4-3.3-3.3-3.2-3.3-3.3-3.4-3.3-3.3-3.3-3.4-3.2-3.3-3.3-3.3-3.3-3.4-3.3-3.3-3.2-3.3-3.3-3.4-3.3-3.3-3.3-3.4-3.2-3.3-3.3-3.3-3.3-3.4-3.3-3.3-3.2-3.3-3.3-3.4-3.3-3.3-3.3-3.4-3.2-3.3-3.3-3.3-3.3-3.4-3.3-3.3-3.2-3.4-3.3-3.3-3.3-3.3-3.3-3.4-3.2-3.3-3.3-3.3-3.3-3.4-3.3-3.3-3.2-3.4-3.3-3.3-3.3-3.3-3.3-3.4-3.2-3.3-3.3-3.3-3.3-3.4M865.6 257.7l-3.3-3.4-3.3-3.3-3.3-3.3-3.2-3.4-3.3-3.3-3.3-3.3-3.3-3.4-3.2-3.3-3.3-3.4-3.3-3.3-3.3-3.3-3.2-3.4-3.3-3.3-3.3-3.3-3.3-3.4-3.2-3.3-3.3-3.4-3.3-3.3-3.3-3.3-3.2-3.4-3.3-3.3-3.3-3.3-3.3-3.4-3.2-3.3-3.3-3.4-3.3-3.3-3.3-3.3-3.2-3.4-3.3-3.3-3.3-3.3-3.3-3.4-3.2-3.3-3.3-3.4-3.3-3.3-3.3-3.3-3.2-3.4-3.3-3.3-3.3-3.4-3.3-3.3-3.2-3.3-3.3-3.4-3.3-3.3-3.3-3.3-3.2-3.4-3.3-3.3-3.3-3.4-3.3-3.3-3.2-3.3-3.3-3.4-3.3-3.3-3.3-3.3-3.2-3.4-3.3-3.3-3.3-3.4-3.3-3.3-3.2-3.3-3.3-3.4-3.3-3.3-3.3-3.3-3.2-3.4M852.5 253.9l-3.2-3.4-3.3-3.3-3.3-3.4-3.3-3.3-3.2-3.3-3.3-3.4-3.3-3.3-3.3-3.3-3.2-3.4-3.3-3.3-3.3-3.4-3.3-3.3-3.2-3.3-3.3-3.4-3.3-3.3-3.3-3.3-3.2-3.4-3.3-3.3-3.3-3.4-3.3-3.3-3.2-3.3-3.3-3.4-3.3-3.3-3.3-3.3-3.2-3.4-3.3-3.3-3.3-3.4-3.3-3.3-3.2-3.3-3.3-3.4-3.3-3.3-3.3-3.4-3.2-3.3-3.3-3.3-3.3-3.4-3.3-3.3-3.2-3.3-3.3-3.4-3.3-3.3-3.3-3.4-3.2-3.3-3.3-3.3-3.3-3.4-3.3-3.3-3.2-3.3-3.3-3.4-3.3-3.3-3.3-3.4-3.2-3.3-3.3-3.3-3.3-3.4-3.3-3.3-3.2-3.3-3.3-3.4-3.3-3.3-3.3-3.4-3.2-3.3-3.3-3.3-3.3-3.4-3.3-3.3M839.9 250.1l-3.2-3.3-3.3-3.4-3.3-3.3-3.3-3.3-3.2-3.4-3.3-3.3-3.3-3.4-3.3-3.3-3.2-3.3-3.3-3.4-3.3-3.3-3.3-3.3-3.2-3.4-3.3-3.3-3.3-3.4-3.3-3.3-3.2-3.3-3.3-3.4-3.3-3.3-3.3-3.3-3.2-3.4-3.3-3.3-3.3-3.4-3.3-3.3-3.2-3.3-3.3-3.4-3.3-3.3-3.3-3.3-3.2-3.4-3.3-3.3-3.3-3.4-3.3-3.3-3.2-3.3-3.3-3.4-3.3-3.3-3.3-3.4-3.2-3.3-3.3-3.3-3.3-3.4-3.3-3.3-3.2-3.3-3.3-3.4-3.3-3.3-3.3-3.4-3.2-3.3-3.3-3.3-3.3-3.4-3.3-3.3-3.2-3.3-3.3-3.4-3.3-3.3-3.3-3.4-3.2-3.3-3.3-3.3-3.3-3.4-3.3-3.3-3.2-3.3-3.3-3.4-3.3-3.3-3.3-3.4"/>
<path stroke-width="0.65" d="M1002 295.5l-3.3-3.3-3.3-3.4-3.2-3.3-3.3-3.3-3.3-3.4-3.2-3.3-3.3-3.4-3.3-3.3-3.3-3.3-3.3-3.4-3.2-3.3-3.3-3.3-3.3-3.4-3.2-3.3-3.3-3.4-3.3-3.3-3.3-3.3-3.3-3.4-3.2-3.3-3.3-3.3-3.3-3.4-3.2-3.3-3.3-3.4-3.3-3.3-3.3-3.3-3.3-3.4-3.2-3.3-3.3-3.3-3.3-3.4-3.2-3.3-3.3-3.4-3.3-3.3-3.3-3.3-3.3-3.4-3.2-3.3-3.3-3.3-3.3-3.4-3.2-3.3-3.3-3.4-3.3-3.3-3.3-3.3-3.3-3.4-3.2-3.3-3.3-3.3-3.3-3.4-3.2-3.3-3.3-3.4-3.3-3.3-3.3-3.3-3.3-3.4-3.2-3.3-3.3-3.3-3.3-3.4-3.2-3.3-3.3-3.4-3.3-3.3-3.3-3.3-3.3-3.4-3.2-3.3-3.3-3.3-16.9-4.6-16.4-4.4-16-4.3-15.6-4.3-15.2-4.2-14.7-4.1-14.3-4.1-13.9-4-13.4-3.9-13.1-3.8-12.6-3.8-12.1-3.6 3.2 3.3 3.3 3.3 3.3 3.4 3.3 3.3 3.2 3.4 3.3 3.3 3.3 3.3 3.3 3.4 3.2 3.3 3.3 3.3 3.3 3.4 3.3 3.3 3.2 3.4 3.3 3.3 3.3 3.3 3.3 3.4 3.2 3.3 3.3 3.3 3.3 3.4 3.3 3.3 3.2 3.4 3.3 3.3 3.3 3.3 3.3 3.4 3.2 3.3 3.3 3.4 3.3 3.3 3.3 3.3 3.2 3.4 3.3 3.3 3.3 3.3 3.3 3.4 3.2 3.3 3.3 3.4 3.3 3.3 3.3 3.3 3.2 3.4 3.3 3.3 3.3 3.3 3.3 3.4 3.2 3.3 3.3 3.4 3.3 3.3 3.3 3.3 3.2 3.4 3.3 3.3 3.3 3.3 3.3 3.4 3.2 3.3 3.3 3.4 3.3 3.3 3.3 3.3 3.2 3.4 3.3 3.3 3.3 3.3 3.3 3.4 3.2 3.3 3.3 3.4 3.3 3.3 3.3 3.3 12.1 3.7 12.6 3.8 13.1 3.8 13.4 3.9 13.9 4 14.3 4 14.7 4.1 15.2 4.2 15.6 4.3 16 4.4 16.4 4.4z"/>
</g>
<text x="46.5" y="320.9" font-size="15" class="a" style="text-anchor:end">0</text>
<text x="46.5" y="285.7" font-size="15" class="a" style="text-anchor:end">0.2</text>
<text x="46.5" y="250.5" font-size="15" class="a" style="text-anchor:end">0.4</text>
<text x="46.5" y="215.3" font-size="15" class="a" style="text-anchor:end">0.6</text>
<text x="46.5" y="180.1" font-size="15" class="a" style="text-anchor:end">0.8</text>
<text x="46.5" y="144.8" font-size="15" class="a" style="text-anchor:end">1</text>
<text x="46.5" y="109.6" font-size="15" class="a" style="text-anchor:end">1.2</text>
<text x="46.5" y="74.4" font-size="15" class="a" style="text-anchor:end">1.4</text>
<text x="46.5" y="39.2" font-size="15" class="a" style="text-anchor:end">1.6</text>
<text x="36.5" y="334.5" font-size="15" class="a">0.5</text>
<text x="70" y="342.5" font-size="15" class="a">0.4</text>
<text x="104" y="351" font-size="15" class="a">0.3</text>
<text x="137.5" y="359.5" font-size="15" class="a">0.2</text>
<text x="170.5" y="367.5" font-size="15" class="a">0.1</text>
<text x="210.5" y="375.5" font-size="15" class="a">0</text>
<text x="240" y="376.2" font-size="15" class="a">0</text>
<text x="308" y="370" font-size="15" class="a">0.1</text>
<text x="368.8" y="363" font-size="15" class="a">0.2</text>
<text x="430.4" y="355.8" font-size="15" class="a">0.3</text>
<text x="491.6" y="348.2" font-size="15" class="a">0.4</text>
<text x="102.5" y="380" font-size="16" class="s">d[pu]</text>
<text x="377.5" y="385" font-size="16" class="s">Io[pu]</text>
<text x="0" y="0" font-size="16.5" class="s" transform="translate(14.5 180.7) rotate(-90)">Ipeak[pu]</text>
<text x="234" y="53.2" font-size="31" class="s">CSPS</text>
<text x="416" y="146.7" font-size="31" class="s">ESPS</text>
<text x="248.7" y="443" font-size="27" class="s">(<tspan font-weight="bold">a</tspan>)</text>
<text x="576.5" y="324.5" font-size="15" class="a" style="text-anchor:end">1</text>
<text x="576.5" y="285.8" font-size="15" class="a" style="text-anchor:end">2</text>
<text x="576.5" y="247.1" font-size="15" class="a" style="text-anchor:end">3</text>
<text x="576.5" y="208.4" font-size="15" class="a" style="text-anchor:end">4</text>
<text x="576.5" y="169.7" font-size="15" class="a" style="text-anchor:end">5</text>
<text x="576.5" y="131" font-size="15" class="a" style="text-anchor:end">6</text>
<text x="576.5" y="92.3" font-size="15" class="a" style="text-anchor:end">7</text>
<text x="576.5" y="53.6" font-size="15" class="a" style="text-anchor:end">8</text>
<text x="565.5" y="338.5" font-size="15" class="a">0.5</text>
<text x="611" y="345.8" font-size="15" class="a">0.4</text>
<text x="655" y="353" font-size="15" class="a">0.3</text>
<text x="699" y="360.7" font-size="15" class="a">0.2</text>
<text x="742" y="368.2" font-size="15" class="a">0.1</text>
<text x="792.5" y="375.5" font-size="15" class="a">0</text>
<text x="822.3" y="375.6" font-size="15" class="a">6</text>
<text x="871.9" y="365" font-size="15" class="a">5</text>
<text x="919" y="354" font-size="15" class="a">4</text>
<text x="968.6" y="343.4" font-size="15" class="a">3</text>
<text x="1017.5" y="333" font-size="15" class="a">2</text>
<text x="673" y="381" font-size="16.3" class="s">Io[pu]</text>
<text x="936" y="374.5" font-size="16" class="s">d[pu]</text>
<text x="0" y="0" font-size="16.5" class="s" transform="translate(554.5 185.2) rotate(-90)">Ipeak[pu]</text>
<text x="785.5" y="47.5" font-size="31" class="s">CSPS</text>
<text x="642.5" y="301.5" font-size="31.3" class="s">ESPS</text>
<text x="794.7" y="443" font-size="27" class="s">(<tspan font-weight="bold">b</tspan>)</text>
<path d="M297.5 94L258.1 59.5" stroke="#f00" stroke-width="2.4" fill="none"/><path d="M247.9 50.6L264.5 55.2L254.6 66.5z" fill="#f00"/>
<path d="M392.2 199.6L404.5 164.4" stroke="#f00" stroke-width="2.4" fill="none"/><path d="M408.9 151.6L410.9 168.7L396.7 163.8z" fill="#f00"/>
<path d="M699.5 90L759.2 56.6" stroke="#f00" stroke-width="2.4" fill="none"/><path d="M771 50L761.1 64.1L753.8 51z" fill="#f00"/>
<path d="M656.3 231L632.7 264.9" stroke="#f00" stroke-width="2.4" fill="none"/><path d="M625 276L627.7 259L640 267.6z" fill="#f00"/>
</svg>
</body></html>
